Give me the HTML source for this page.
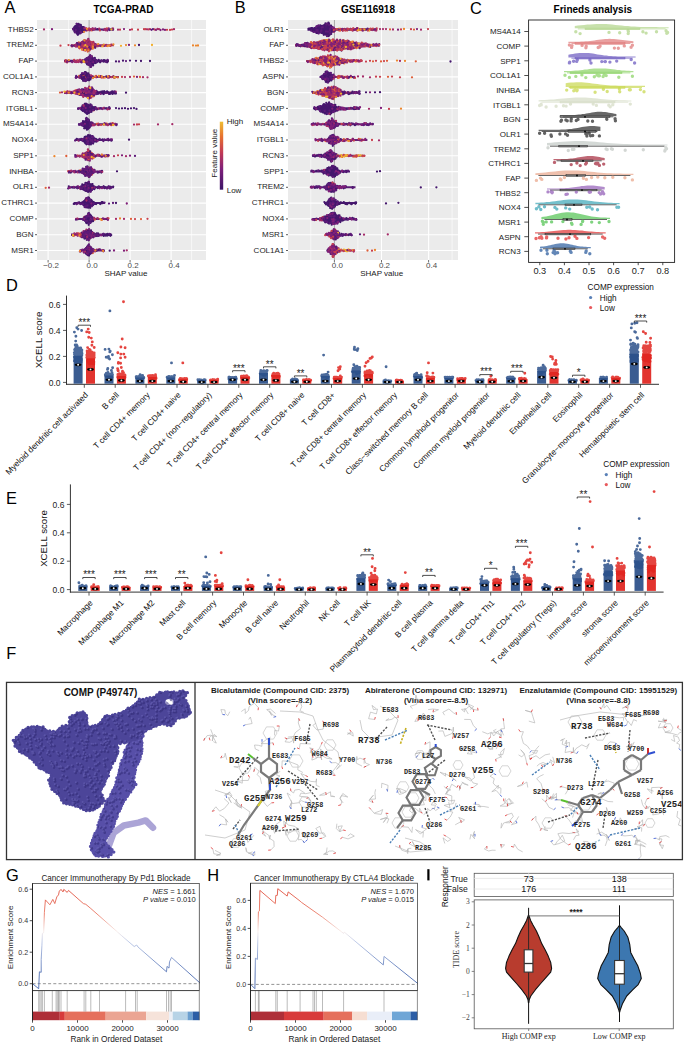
<!DOCTYPE html><html><head><meta charset="utf-8"><style>html,body{margin:0;padding:0;background:#fff}svg{display:block}</style></head><body>
<svg width="685" height="1043" viewBox="0 0 685 1043" font-family="Liberation Sans, sans-serif" font-size="8" fill="#1a1a1a">
<rect width="685" height="1043" fill="#fff"/>
<rect x="37" y="20" width="169" height="240" fill="#ebebeb"/>
<line x1="48.1" y1="20" x2="48.1" y2="260" stroke="#fff" stroke-width="1.1"/>
<line x1="68.6" y1="20" x2="68.6" y2="260" stroke="#fff" stroke-width="0.6"/>
<line x1="89.1" y1="20" x2="89.1" y2="260" stroke="#fff" stroke-width="1.1"/>
<line x1="109.6" y1="20" x2="109.6" y2="260" stroke="#fff" stroke-width="0.6"/>
<line x1="130.1" y1="20" x2="130.1" y2="260" stroke="#fff" stroke-width="1.1"/>
<line x1="150.6" y1="20" x2="150.6" y2="260" stroke="#fff" stroke-width="0.6"/>
<line x1="171.1" y1="20" x2="171.1" y2="260" stroke="#fff" stroke-width="1.1"/>
<line x1="191.6" y1="20" x2="191.6" y2="260" stroke="#fff" stroke-width="0.6"/>
<line x1="37" y1="29.5" x2="206" y2="29.5" stroke="#fff" stroke-width="1.1"/>
<line x1="37" y1="45.3" x2="206" y2="45.3" stroke="#fff" stroke-width="1.1"/>
<line x1="37" y1="61.1" x2="206" y2="61.1" stroke="#fff" stroke-width="1.1"/>
<line x1="37" y1="76.9" x2="206" y2="76.9" stroke="#fff" stroke-width="1.1"/>
<line x1="37" y1="92.6" x2="206" y2="92.6" stroke="#fff" stroke-width="1.1"/>
<line x1="37" y1="108.4" x2="206" y2="108.4" stroke="#fff" stroke-width="1.1"/>
<line x1="37" y1="124.2" x2="206" y2="124.2" stroke="#fff" stroke-width="1.1"/>
<line x1="37" y1="140" x2="206" y2="140" stroke="#fff" stroke-width="1.1"/>
<line x1="37" y1="155.8" x2="206" y2="155.8" stroke="#fff" stroke-width="1.1"/>
<line x1="37" y1="171.6" x2="206" y2="171.6" stroke="#fff" stroke-width="1.1"/>
<line x1="37" y1="187.3" x2="206" y2="187.3" stroke="#fff" stroke-width="1.1"/>
<line x1="37" y1="203.1" x2="206" y2="203.1" stroke="#fff" stroke-width="1.1"/>
<line x1="37" y1="218.9" x2="206" y2="218.9" stroke="#fff" stroke-width="1.1"/>
<line x1="37" y1="234.7" x2="206" y2="234.7" stroke="#fff" stroke-width="1.1"/>
<line x1="37" y1="250.5" x2="206" y2="250.5" stroke="#fff" stroke-width="1.1"/>
<line x1="89.1" y1="20" x2="89.1" y2="260" stroke="#8a8a8a" stroke-width="0.8"/>
<polygon points="72.5,28.5 73.2,28.4 73.9,27.6 74.6,26.8 75.3,25.9 76,25.1 76.7,24.3 77.3,23.5 78,23.9 78.7,24.3 79.4,24.7 80.1,25 80.8,25.4 81.5,25.8 82.2,26.2 82.9,26.5 83.6,26.9 84.3,27.3 85,27.7 85.6,28.1 86.3,28.4 87,28.5 87.7,28.5 88.4,28.5 89.1,28.5 89.8,28.5 90.5,28.5 91.2,28.5 91.9,28.5 92.6,28.5 93.2,28.5 93.9,28.5 94.6,28.5 95.3,28.5 96,28.5 96.7,28.5 97.4,28.5 98.1,28.5 98.8,28.5 99.5,28.5 100.2,28.5 100.9,28.5 101.5,28.5 102.2,28.5 102.9,28.5 103.6,28.5 104.3,28.5 105,28.5 105.7,28.5 106.4,28.5 107.1,28.5 107.8,28.5 108.5,28.5 109.2,28.5 109.8,28.5 110.5,28.5 111.2,28.5 111.9,28.5 112.6,28.5 113.3,28.5 114,28.5 114,30.5 113.3,30.5 112.6,30.5 111.9,30.5 111.2,30.5 110.5,30.5 109.8,30.5 109.2,30.5 108.5,30.5 107.8,30.5 107.1,30.5 106.4,30.5 105.7,30.5 105,30.5 104.3,30.5 103.6,30.5 102.9,30.5 102.2,30.5 101.5,30.5 100.9,30.5 100.2,30.5 99.5,30.5 98.8,30.5 98.1,30.5 97.4,30.5 96.7,30.5 96,30.5 95.3,30.5 94.6,30.5 93.9,30.5 93.2,30.5 92.6,30.5 91.9,30.5 91.2,30.5 90.5,30.5 89.8,30.5 89.1,30.5 88.4,30.5 87.7,30.5 87,30.5 86.3,30.6 85.6,30.9 85,31.3 84.3,31.7 83.6,32.1 82.9,32.5 82.2,32.8 81.5,33.2 80.8,33.6 80.1,34 79.4,34.3 78.7,34.7 78,35.1 77.3,35.5 76.7,34.7 76,33.9 75.3,33.1 74.6,32.2 73.9,31.4 73.2,30.6 72.5,30.5" fill="#4a1870"/>
<polygon points="71,44.3 71.7,44.3 72.4,44.3 73.2,44.3 73.9,44.3 74.6,44 75.3,43.8 76,43.5 76.7,43.3 77.5,43 78.2,42.8 78.9,42.5 79.6,42.2 80.3,42 81,41.7 81.8,41.5 82.5,41.2 83.2,41 83.9,40.7 84.6,40.5 85.3,40.2 86,40 86.8,39.7 87.5,39.5 88.2,39.4 88.9,39.7 89.6,40.1 90.3,40.5 91.1,40.8 91.8,41.2 92.5,41.5 93.2,41.9 93.9,42.3 94.7,42.6 95.4,43 96.1,43.3 96.8,43.7 97.5,44 98.2,44.3 99,44.3 99.7,44.3 100.4,44.3 101.1,44.3 101.8,44.3 102.5,44.3 103.2,44.3 104,44.3 104.7,44.3 105.4,44.3 106.1,44.3 106.8,44.3 107.5,44.3 108.3,44.3 109,44.3 109.7,44.3 110.4,44.3 111.1,44.3 111.8,44.3 112.6,44.3 113.3,44.3 114,44.3 114,46.3 113.3,46.3 112.6,46.3 111.8,46.3 111.1,46.3 110.4,46.3 109.7,46.3 109,46.3 108.3,46.3 107.5,46.3 106.8,46.3 106.1,46.3 105.4,46.3 104.7,46.3 104,46.3 103.2,46.3 102.5,46.3 101.8,46.3 101.1,46.3 100.4,46.3 99.7,46.3 99,46.3 98.2,46.3 97.5,46.5 96.8,46.9 96.1,47.2 95.4,47.6 94.7,48 93.9,48.3 93.2,48.7 92.5,49 91.8,49.4 91.1,49.8 90.3,50.1 89.6,50.5 88.9,50.8 88.2,51.2 87.5,51.1 86.8,50.8 86,50.6 85.3,50.3 84.6,50.1 83.9,49.8 83.2,49.6 82.5,49.3 81.8,49.1 81,48.8 80.3,48.6 79.6,48.3 78.9,48.1 78.2,47.8 77.5,47.6 76.7,47.3 76,47.1 75.3,46.8 74.6,46.5 73.9,46.3 73.2,46.3 72.4,46.3 71.7,46.3 71,46.3" fill="#a03060"/>
<polygon points="64,59.8 64.8,59.8 65.5,59.8 66.2,59.8 67,59.8 67.8,59.8 68.5,59.8 69.2,59.8 70,59.8 70.8,59.8 71.5,59.8 72.2,59.8 73,59.8 73.8,59.8 74.5,59.8 75.2,59.8 76,59.8 76.8,59.8 77.5,59.8 78.2,59.8 79,59.8 79.8,59.8 80.5,59.8 81.2,59.8 82,59.8 82.8,59.8 83.5,59.8 84.2,59.3 85,58.8 85.8,58.4 86.5,57.9 87.2,57.4 88,57 88.8,56.5 89.5,56 90.2,55.6 91,55.8 91.8,56.3 92.5,56.8 93.2,57.2 94,57.7 94.8,58.2 95.5,58.6 96.2,59.1 97,59.6 97.8,59.8 98.5,59.8 99.2,59.8 100,59.8 100.8,59.8 101.5,59.8 102.2,59.8 103,59.8 103.8,59.8 104.5,59.8 105.2,59.8 106,59.8 106.8,59.8 107.5,59.8 108.2,59.8 109,59.8 109,62.3 108.2,62.3 107.5,62.3 106.8,62.3 106,62.3 105.2,62.3 104.5,62.3 103.8,62.3 103,62.3 102.2,62.3 101.5,62.3 100.8,62.3 100,62.3 99.2,62.3 98.5,62.3 97.8,62.3 97,62.6 96.2,63 95.5,63.5 94.8,64 94,64.4 93.2,64.9 92.5,65.4 91.8,65.8 91,66.3 90.2,66.6 89.5,66.1 88.8,65.6 88,65.2 87.2,64.7 86.5,64.2 85.8,63.8 85,63.3 84.2,62.8 83.5,62.4 82.8,62.3 82,62.3 81.2,62.3 80.5,62.3 79.8,62.3 79,62.3 78.2,62.3 77.5,62.3 76.8,62.3 76,62.3 75.2,62.3 74.5,62.3 73.8,62.3 73,62.3 72.2,62.3 71.5,62.3 70.8,62.3 70,62.3 69.2,62.3 68.5,62.3 67.8,62.3 67,62.3 66.2,62.3 65.5,62.3 64.8,62.3 64,62.3" fill="#5a1a74"/>
<polygon points="75,75.9 75.7,75.9 76.5,75.9 77.2,75.9 77.9,75.9 78.7,75.9 79.4,75.5 80.1,75 80.9,74.5 81.6,74 82.3,73.5 83.1,73 83.8,72.5 84.5,72 85.3,71.5 86,71.8 86.7,72.2 87.5,72.7 88.2,73.1 88.9,73.6 89.7,74 90.4,74.4 91.1,74.9 91.9,75.3 92.6,75.8 93.3,75.9 94.1,75.9 94.8,75.9 95.5,75.9 96.3,75.9 97,75.9 97.7,75.9 98.5,75.9 99.2,75.9 99.9,75.9 100.7,75.9 101.4,75.9 102.1,75.9 102.9,75.9 103.6,75.9 104.3,75.9 105.1,75.9 105.8,75.9 106.5,75.9 107.3,75.9 108,75.9 108.7,75.9 109.5,75.9 110.2,75.9 110.9,75.9 111.7,75.9 112.4,75.9 113.1,75.9 113.9,75.9 114.6,75.9 115.3,75.9 116.1,75.9 116.8,75.9 117.5,75.9 118.3,75.9 119,75.9 119,77.9 118.3,77.9 117.5,77.9 116.8,77.9 116.1,77.9 115.3,77.9 114.6,77.9 113.9,77.9 113.1,77.9 112.4,77.9 111.7,77.9 110.9,77.9 110.2,77.9 109.5,77.9 108.7,77.9 108,77.9 107.3,77.9 106.5,77.9 105.8,77.9 105.1,77.9 104.3,77.9 103.6,77.9 102.9,77.9 102.1,77.9 101.4,77.9 100.7,77.9 99.9,77.9 99.2,77.9 98.5,77.9 97.7,77.9 97,77.9 96.3,77.9 95.5,77.9 94.8,77.9 94.1,77.9 93.3,77.9 92.6,77.9 91.9,78.4 91.1,78.8 90.4,79.3 89.7,79.7 88.9,80.2 88.2,80.6 87.5,81 86.7,81.5 86,81.9 85.3,82.2 84.5,81.7 83.8,81.2 83.1,80.7 82.3,80.2 81.6,79.7 80.9,79.2 80.1,78.7 79.4,78.2 78.7,77.9 77.9,77.9 77.2,77.9 76.5,77.9 75.7,77.9 75,77.9" fill="#5e1c74"/>
<polygon points="64,91.4 64.9,91.4 65.7,91.4 66.6,91.4 67.5,91.4 68.4,91.4 69.2,91.4 70.1,91.4 71,91.4 71.9,91.4 72.7,91.4 73.6,91.3 74.5,91 75.4,90.8 76.2,90.6 77.1,90.3 78,90.1 78.8,89.9 79.7,89.6 80.6,89.4 81.5,89.2 82.3,88.9 83.2,88.7 84.1,88.5 85,88.2 85.8,88 86.7,87.8 87.6,87.5 88.5,87.3 89.3,87.1 90.2,86.9 91.1,87.2 91.9,87.8 92.8,88.4 93.7,88.9 94.6,89.5 95.4,90.1 96.3,90.6 97.2,91.2 98.1,91.4 98.9,91.4 99.8,91.4 100.7,91.4 101.6,91.4 102.4,91.4 103.3,91.4 104.2,91.4 105,91.4 105.9,91.4 106.8,91.4 107.7,91.4 108.5,91.4 109.4,91.4 110.3,91.4 111.2,91.4 112,91.4 112.9,91.4 113.8,91.4 114.7,91.4 115.5,91.4 116.4,91.4 116.4,93.9 115.5,93.9 114.7,93.9 113.8,93.9 112.9,93.9 112,93.9 111.2,93.9 110.3,93.9 109.4,93.9 108.5,93.9 107.7,93.9 106.8,93.9 105.9,93.9 105,93.9 104.2,93.9 103.3,93.9 102.4,93.9 101.6,93.9 100.7,93.9 99.8,93.9 98.9,93.9 98.1,93.9 97.2,94.1 96.3,94.6 95.4,95.2 94.6,95.8 93.7,96.3 92.8,96.9 91.9,97.5 91.1,98 90.2,98.4 89.3,98.2 88.5,98 87.6,97.7 86.7,97.5 85.8,97.3 85,97 84.1,96.8 83.2,96.6 82.3,96.3 81.5,96.1 80.6,95.9 79.7,95.6 78.8,95.4 78,95.2 77.1,94.9 76.2,94.7 75.4,94.5 74.5,94.3 73.6,94 72.7,93.9 71.9,93.9 71,93.9 70.1,93.9 69.2,93.9 68.4,93.9 67.5,93.9 66.6,93.9 65.7,93.9 64.9,93.9 64,93.9" fill="#8a2870"/>
<polygon points="78,107.4 78.5,107.4 79.1,107.4 79.6,107.4 80.1,107.4 80.7,107 81.2,106.6 81.7,106.1 82.3,105.7 82.8,105.3 83.3,104.8 83.9,104.4 84.4,103.9 84.9,103.5 85.5,103 86,102.6 86.5,102.8 87.1,103.1 87.6,103.4 88.1,103.6 88.7,103.9 89.2,104.1 89.7,104.4 90.3,104.7 90.8,104.9 91.3,105.2 91.9,105.4 92.4,105.7 92.9,106 93.5,106.2 94,106.5 94.5,106.7 95.1,107 95.6,107.3 96.1,107.4 96.7,107.4 97.2,107.4 97.7,107.4 98.3,107.4 98.8,107.4 99.3,107.4 99.9,107.4 100.4,107.4 100.9,107.4 101.5,107.4 102,107.4 102.5,107.4 103.1,107.4 103.6,107.4 104.1,107.4 104.7,107.4 105.2,107.4 105.7,107.4 106.3,107.4 106.8,107.4 107.3,107.4 107.9,107.4 108.4,107.4 108.9,107.4 109.5,107.4 110,107.4 110,109.4 109.5,109.4 108.9,109.4 108.4,109.4 107.9,109.4 107.3,109.4 106.8,109.4 106.3,109.4 105.7,109.4 105.2,109.4 104.7,109.4 104.1,109.4 103.6,109.4 103.1,109.4 102.5,109.4 102,109.4 101.5,109.4 100.9,109.4 100.4,109.4 99.9,109.4 99.3,109.4 98.8,109.4 98.3,109.4 97.7,109.4 97.2,109.4 96.7,109.4 96.1,109.4 95.6,109.6 95.1,109.9 94.5,110.1 94,110.4 93.5,110.6 92.9,110.9 92.4,111.2 91.9,111.4 91.3,111.7 90.8,111.9 90.3,112.2 89.7,112.4 89.2,112.7 88.7,113 88.1,113.2 87.6,113.5 87.1,113.7 86.5,114 86,114.3 85.5,113.8 84.9,113.4 84.4,112.9 83.9,112.5 83.3,112 82.8,111.6 82.3,111.2 81.7,110.7 81.2,110.3 80.7,109.8 80.1,109.4 79.6,109.4 79.1,109.4 78.5,109.4 78,109.4" fill="#4e1872"/>
<polygon points="78,123.2 78.7,123.2 79.3,123.2 80,123.2 80.6,123.2 81.3,122.8 82,122.3 82.6,121.8 83.3,121.3 84,120.7 84.6,120.2 85.3,119.7 85.9,119.1 86.6,118.6 87.3,119.1 87.9,119.5 88.6,120 89.2,120.5 89.9,120.9 90.6,121.4 91.2,121.9 91.9,122.3 92.6,122.8 93.2,123.2 93.9,123.2 94.5,123.2 95.2,123.2 95.9,123.2 96.5,123.2 97.2,123.2 97.8,123.2 98.5,123.2 99.2,123.2 99.8,123.2 100.5,123.2 101.2,123.2 101.8,123.2 102.5,123.2 103.1,123.2 103.8,123.2 104.5,123.2 105.1,123.2 105.8,123.2 106.5,123.2 107.1,123.2 107.8,123.2 108.4,123.2 109.1,123.2 109.8,123.2 110.4,123.2 111.1,123.2 111.7,123.2 112.4,123.2 113.1,123.2 113.7,123.2 114.4,123.2 115.1,123.2 115.7,123.2 116.4,123.2 117,123.2 117.7,123.2 117.7,125.2 117,125.2 116.4,125.2 115.7,125.2 115.1,125.2 114.4,125.2 113.7,125.2 113.1,125.2 112.4,125.2 111.7,125.2 111.1,125.2 110.4,125.2 109.8,125.2 109.1,125.2 108.4,125.2 107.8,125.2 107.1,125.2 106.5,125.2 105.8,125.2 105.1,125.2 104.5,125.2 103.8,125.2 103.1,125.2 102.5,125.2 101.8,125.2 101.2,125.2 100.5,125.2 99.8,125.2 99.2,125.2 98.5,125.2 97.8,125.2 97.2,125.2 96.5,125.2 95.9,125.2 95.2,125.2 94.5,125.2 93.9,125.2 93.2,125.2 92.6,125.6 91.9,126.1 91.2,126.6 90.6,127 89.9,127.5 89.2,128 88.6,128.4 87.9,128.9 87.3,129.3 86.6,129.8 85.9,129.3 85.3,128.8 84.6,128.2 84,127.7 83.3,127.2 82.6,126.6 82,126.1 81.3,125.6 80.6,125.2 80,125.2 79.3,125.2 78.7,125.2 78,125.2" fill="#4e1872"/>
<polygon points="75,139 75.6,139 76.3,139 76.9,139 77.5,139 78.1,139 78.8,139 79.4,139 80,139 80.7,139 81.3,138.8 81.9,138.4 82.5,138.1 83.2,137.7 83.8,137.4 84.4,137 85.1,136.7 85.7,136.3 86.3,136 86.9,135.6 87.6,135.3 88.2,134.9 88.8,134.5 89.5,134.6 90.1,134.9 90.7,135.3 91.3,135.6 92,136 92.6,136.4 93.2,136.7 93.8,137.1 94.5,137.4 95.1,137.8 95.7,138.1 96.4,138.5 97,138.8 97.6,139 98.2,139 98.9,139 99.5,139 100.1,139 100.8,139 101.4,139 102,139 102.6,139 103.3,139 103.9,139 104.5,139 105.2,139 105.8,139 106.4,139 107,139 107.7,139 108.3,139 108.9,139 109.6,139 110.2,139 110.8,139 111.4,139 112.1,139 112.7,139 112.7,141 112.1,141 111.4,141 110.8,141 110.2,141 109.6,141 108.9,141 108.3,141 107.7,141 107,141 106.4,141 105.8,141 105.2,141 104.5,141 103.9,141 103.3,141 102.6,141 102,141 101.4,141 100.8,141 100.1,141 99.5,141 98.9,141 98.2,141 97.6,141 97,141.2 96.4,141.5 95.7,141.9 95.1,142.2 94.5,142.6 93.8,142.9 93.2,143.3 92.6,143.6 92,144 91.3,144.3 90.7,144.7 90.1,145 89.5,145.4 88.8,145.4 88.2,145.1 87.6,144.7 86.9,144.4 86.3,144 85.7,143.7 85.1,143.3 84.4,143 83.8,142.6 83.2,142.3 82.5,141.9 81.9,141.6 81.3,141.2 80.7,141 80,141 79.4,141 78.8,141 78.1,141 77.5,141 76.9,141 76.3,141 75.6,141 75,141" fill="#521a74"/>
<polygon points="75,154.8 75.6,154.8 76.1,154.8 76.7,154.8 77.3,154.8 77.8,154.8 78.4,154.8 79,154.8 79.5,154.8 80.1,154.8 80.7,154.7 81.2,154.4 81.8,154 82.4,153.7 82.9,153.3 83.5,153 84.1,152.6 84.6,152.3 85.2,151.9 85.8,151.6 86.3,151.2 86.9,150.9 87.5,150.5 88,150.2 88.6,150.6 89.2,150.9 89.7,151.3 90.3,151.6 90.9,152 91.4,152.3 92,152.7 92.6,153 93.1,153.4 93.7,153.7 94.3,154.1 94.8,154.4 95.4,154.8 96,154.8 96.5,154.8 97.1,154.8 97.7,154.8 98.2,154.8 98.8,154.8 99.4,154.8 99.9,154.8 100.5,154.8 101.1,154.8 101.6,154.8 102.2,154.8 102.8,154.8 103.3,154.8 103.9,154.8 104.5,154.8 105,154.8 105.6,154.8 106.2,154.8 106.7,154.8 107.3,154.8 107.9,154.8 108.4,154.8 109,154.8 109,156.8 108.4,156.8 107.9,156.8 107.3,156.8 106.7,156.8 106.2,156.8 105.6,156.8 105,156.8 104.5,156.8 103.9,156.8 103.3,156.8 102.8,156.8 102.2,156.8 101.6,156.8 101.1,156.8 100.5,156.8 99.9,156.8 99.4,156.8 98.8,156.8 98.2,156.8 97.7,156.8 97.1,156.8 96.5,156.8 96,156.8 95.4,156.8 94.8,157.1 94.3,157.5 93.7,157.8 93.1,158.2 92.6,158.5 92,158.9 91.4,159.2 90.9,159.6 90.3,159.9 89.7,160.3 89.2,160.7 88.6,161 88,161.4 87.5,161 86.9,160.7 86.3,160.3 85.8,160 85.2,159.6 84.6,159.3 84.1,158.9 83.5,158.6 82.9,158.2 82.4,157.9 81.8,157.5 81.2,157.2 80.7,156.8 80.1,156.8 79.5,156.8 79,156.8 78.4,156.8 77.8,156.8 77.3,156.8 76.7,156.8 76.1,156.8 75.6,156.8 75,156.8" fill="#902a6a"/>
<polygon points="68,170.6 68.6,170.6 69.2,170.6 69.8,170.6 70.3,170.6 70.9,170.6 71.5,170.6 72.1,170.6 72.7,170.6 73.2,170.6 73.8,170.6 74.4,170.6 75,170.6 75.6,170.6 76.2,170.6 76.8,170.6 77.3,170.6 77.9,170.6 78.5,170.6 79.1,170.4 79.7,170.2 80.2,169.9 80.8,169.6 81.4,169.4 82,169.1 82.6,168.9 83.2,168.6 83.8,168.3 84.3,168.1 84.9,167.8 85.5,167.5 86.1,167.3 86.7,167 87.2,166.7 87.8,166.5 88.4,166.2 89,166.4 89.6,166.7 90.2,167.1 90.8,167.4 91.3,167.8 91.9,168.1 92.5,168.5 93.1,168.8 93.7,169.2 94.2,169.5 94.8,169.9 95.4,170.2 96,170.6 96.6,170.6 97.2,170.6 97.8,170.6 98.3,170.6 98.9,170.6 99.5,170.6 100.1,170.6 100.7,170.6 101.2,170.6 101.8,170.6 102.4,170.6 103,170.6 103,172.6 102.4,172.6 101.8,172.6 101.2,172.6 100.7,172.6 100.1,172.6 99.5,172.6 98.9,172.6 98.3,172.6 97.8,172.6 97.2,172.6 96.6,172.6 96,172.6 95.4,172.9 94.8,173.2 94.2,173.6 93.7,173.9 93.1,174.3 92.5,174.6 91.9,175 91.3,175.4 90.8,175.7 90.2,176.1 89.6,176.4 89,176.8 88.4,176.9 87.8,176.7 87.2,176.4 86.7,176.1 86.1,175.9 85.5,175.6 84.9,175.3 84.3,175.1 83.8,174.8 83.2,174.5 82.6,174.3 82,174 81.4,173.7 80.8,173.5 80.2,173.2 79.7,173 79.1,172.7 78.5,172.6 77.9,172.6 77.3,172.6 76.8,172.6 76.2,172.6 75.6,172.6 75,172.6 74.4,172.6 73.8,172.6 73.2,172.6 72.7,172.6 72.1,172.6 71.5,172.6 70.9,172.6 70.3,172.6 69.8,172.6 69.2,172.6 68.6,172.6 68,172.6" fill="#6e2076"/>
<polygon points="68,186.3 68.8,186.3 69.5,186.3 70.3,186.3 71.1,186.3 71.8,186.3 72.6,186.3 73.4,186.3 74.1,186.3 74.9,186.3 75.7,186.3 76.4,186.3 77.2,186.3 78,186.3 78.7,186.3 79.5,186.1 80.3,185.7 81,185.3 81.8,184.9 82.6,184.5 83.3,184.1 84.1,183.7 84.9,183.3 85.6,183 86.4,182.6 87.2,182.2 87.9,181.8 88.7,182.2 89.5,182.7 90.2,183.1 91,183.6 91.8,184.1 92.5,184.6 93.3,185 94.1,185.5 94.8,186 95.6,186.3 96.4,186.3 97.1,186.3 97.9,186.3 98.7,186.3 99.4,186.3 100.2,186.3 101,186.3 101.7,186.3 102.5,186.3 103.3,186.3 104,186.3 104.8,186.3 105.6,186.3 106.3,186.3 107.1,186.3 107.9,186.3 108.6,186.3 109.4,186.3 110.2,186.3 110.9,186.3 111.7,186.3 112.5,186.3 113.2,186.3 114,186.3 114,188.3 113.2,188.3 112.5,188.3 111.7,188.3 110.9,188.3 110.2,188.3 109.4,188.3 108.6,188.3 107.9,188.3 107.1,188.3 106.3,188.3 105.6,188.3 104.8,188.3 104,188.3 103.3,188.3 102.5,188.3 101.7,188.3 101,188.3 100.2,188.3 99.4,188.3 98.7,188.3 97.9,188.3 97.1,188.3 96.4,188.3 95.6,188.3 94.8,188.7 94.1,189.2 93.3,189.7 92.5,190.1 91.8,190.6 91,191.1 90.2,191.6 89.5,192 88.7,192.5 87.9,192.9 87.2,192.5 86.4,192.1 85.6,191.7 84.9,191.4 84.1,191 83.3,190.6 82.6,190.2 81.8,189.8 81,189.4 80.3,189 79.5,188.6 78.7,188.3 78,188.3 77.2,188.3 76.4,188.3 75.7,188.3 74.9,188.3 74.1,188.3 73.4,188.3 72.6,188.3 71.8,188.3 71.1,188.3 70.3,188.3 69.5,188.3 68.8,188.3 68,188.3" fill="#4e1872"/>
<polygon points="73.7,202.1 74.2,202.1 74.7,202.1 75.3,202.1 75.8,202.1 76.3,202.1 76.8,202.1 77.4,202.1 77.9,202.1 78.4,202.1 78.9,202.1 79.4,202.1 80,202.1 80.5,202.1 81,201.9 81.5,201.6 82,201.2 82.6,200.9 83.1,200.6 83.6,200.3 84.1,199.9 84.7,199.6 85.2,199.3 85.7,199 86.2,198.6 86.7,198.3 87.3,198 87.8,197.7 88.3,197.7 88.8,198.1 89.3,198.4 89.9,198.7 90.4,199 90.9,199.3 91.4,199.7 92,200 92.5,200.3 93,200.6 93.5,201 94,201.3 94.6,201.6 95.1,201.9 95.6,202.1 96.1,202.1 96.7,202.1 97.2,202.1 97.7,202.1 98.2,202.1 98.7,202.1 99.3,202.1 99.8,202.1 100.3,202.1 100.8,202.1 101.3,202.1 101.9,202.1 102.4,202.1 102.9,202.1 103.4,202.1 104,202.1 104.5,202.1 105,202.1 105,204.1 104.5,204.1 104,204.1 103.4,204.1 102.9,204.1 102.4,204.1 101.9,204.1 101.3,204.1 100.8,204.1 100.3,204.1 99.8,204.1 99.3,204.1 98.7,204.1 98.2,204.1 97.7,204.1 97.2,204.1 96.7,204.1 96.1,204.1 95.6,204.1 95.1,204.3 94.6,204.6 94,205 93.5,205.3 93,205.6 92.5,205.9 92,206.3 91.4,206.6 90.9,206.9 90.4,207.2 89.9,207.6 89.3,207.9 88.8,208.2 88.3,208.5 87.8,208.6 87.3,208.3 86.7,208 86.2,207.6 85.7,207.3 85.2,207 84.7,206.7 84.1,206.3 83.6,206 83.1,205.7 82.6,205.4 82,205 81.5,204.7 81,204.4 80.5,204.1 80,204.1 79.4,204.1 78.9,204.1 78.4,204.1 77.9,204.1 77.4,204.1 76.8,204.1 76.3,204.1 75.8,204.1 75.3,204.1 74.7,204.1 74.2,204.1 73.7,204.1" fill="#4a1870"/>
<polygon points="76,217.9 76.5,217.9 77.1,217.9 77.7,217.9 78.2,217.9 78.8,217.9 79.3,217.9 79.8,217.9 80.4,217.9 81,217.9 81.5,217.9 82,217.9 82.6,217.9 83.2,217.7 83.7,217.2 84.2,216.8 84.8,216.4 85.3,215.9 85.9,215.5 86.5,215 87,214.6 87.5,214.2 88.1,213.7 88.7,213.4 89.2,213.7 89.8,214.1 90.3,214.5 90.8,214.9 91.4,215.3 92,215.7 92.5,216.1 93,216.4 93.6,216.8 94.2,217.2 94.7,217.6 95.2,217.9 95.8,217.9 96.3,217.9 96.9,217.9 97.5,217.9 98,217.9 98.5,217.9 99.1,217.9 99.7,217.9 100.2,217.9 100.8,217.9 101.3,217.9 101.8,217.9 102.4,217.9 103,217.9 103.5,217.9 104,217.9 104.6,217.9 105.2,217.9 105.7,217.9 106.2,217.9 106.8,217.9 107.3,217.9 107.9,217.9 108.5,217.9 109,217.9 109,219.9 108.5,219.9 107.9,219.9 107.3,219.9 106.8,219.9 106.2,219.9 105.7,219.9 105.2,219.9 104.6,219.9 104,219.9 103.5,219.9 103,219.9 102.4,219.9 101.8,219.9 101.3,219.9 100.8,219.9 100.2,219.9 99.7,219.9 99.1,219.9 98.5,219.9 98,219.9 97.5,219.9 96.9,219.9 96.3,219.9 95.8,219.9 95.2,219.9 94.7,220.2 94.2,220.6 93.6,221 93,221.4 92.5,221.8 92,222.2 91.4,222.6 90.8,222.9 90.3,223.3 89.8,223.7 89.2,224.1 88.7,224.5 88.1,224.1 87.5,223.7 87,223.2 86.5,222.8 85.9,222.4 85.3,221.9 84.8,221.5 84.2,221 83.7,220.6 83.2,220.2 82.6,219.9 82,219.9 81.5,219.9 81,219.9 80.4,219.9 79.8,219.9 79.3,219.9 78.8,219.9 78.2,219.9 77.7,219.9 77.1,219.9 76.5,219.9 76,219.9" fill="#5a1c74"/>
<polygon points="71,233.5 71.7,233.5 72.3,233.5 73,233.5 73.7,233.5 74.4,233.5 75,233.5 75.7,233.5 76.4,233.5 77.1,233.5 77.8,233.5 78.4,233.5 79.1,233.5 79.8,233.2 80.5,232.9 81.1,232.6 81.8,232.3 82.5,232 83.2,231.6 83.8,231.3 84.5,231 85.2,230.7 85.8,230.4 86.5,230.1 87.2,229.8 87.9,229.4 88.5,229.1 89.2,229.5 89.9,229.8 90.6,230.2 91.2,230.6 91.9,231 92.6,231.3 93.3,231.7 94,232.1 94.6,232.5 95.3,232.9 96,233.2 96.7,233.5 97.3,233.5 98,233.5 98.7,233.5 99.3,233.5 100,233.5 100.7,233.5 101.4,233.5 102,233.5 102.7,233.5 103.4,233.5 104.1,233.5 104.8,233.5 105.4,233.5 106.1,233.5 106.8,233.5 107.5,233.5 108.1,233.5 108.8,233.5 109.5,233.5 110.2,233.5 110.8,233.5 111.5,233.5 111.5,235.9 110.8,235.9 110.2,235.9 109.5,235.9 108.8,235.9 108.1,235.9 107.5,235.9 106.8,235.9 106.1,235.9 105.4,235.9 104.8,235.9 104.1,235.9 103.4,235.9 102.7,235.9 102,235.9 101.4,235.9 100.7,235.9 100,235.9 99.3,235.9 98.7,235.9 98,235.9 97.3,235.9 96.7,235.9 96,236.2 95.3,236.6 94.6,236.9 94,237.3 93.3,237.7 92.6,238.1 91.9,238.4 91.2,238.8 90.6,239.2 89.9,239.6 89.2,240 88.5,240.3 87.9,240 87.2,239.7 86.5,239.3 85.8,239 85.2,238.7 84.5,238.4 83.8,238.1 83.2,237.8 82.5,237.4 81.8,237.1 81.1,236.8 80.5,236.5 79.8,236.2 79.1,235.9 78.4,235.9 77.8,235.9 77.1,235.9 76.4,235.9 75.7,235.9 75,235.9 74.4,235.9 73.7,235.9 73,235.9 72.3,235.9 71.7,235.9 71,235.9" fill="#6a2074"/>
<polygon points="79.5,249.5 79.9,249.5 80.3,249.5 80.7,249.5 81.1,249.5 81.5,249.5 82,249.5 82.4,249.5 82.8,249.5 83.2,249.2 83.6,248.9 84,248.6 84.4,248.2 84.8,247.9 85.2,247.6 85.6,247.3 86,246.9 86.4,246.6 86.8,246.3 87.3,246 87.7,245.6 88.1,245.3 88.5,245 88.9,245.1 89.3,245.4 89.7,245.7 90.1,246 90.5,246.2 90.9,246.5 91.3,246.8 91.8,247.1 92.2,247.4 92.6,247.7 93,248 93.4,248.2 93.8,248.5 94.2,248.8 94.6,249.1 95,249.4 95.4,249.5 95.8,249.5 96.2,249.5 96.7,249.5 97.1,249.5 97.5,249.5 97.9,249.5 98.3,249.5 98.7,249.5 99.1,249.5 99.5,249.5 99.9,249.5 100.3,249.5 100.7,249.5 101.1,249.5 101.5,249.5 102,249.5 102.4,249.5 102.8,249.5 103.2,249.5 103.6,249.5 104,249.5 104,251.5 103.6,251.5 103.2,251.5 102.8,251.5 102.4,251.5 102,251.5 101.5,251.5 101.1,251.5 100.7,251.5 100.3,251.5 99.9,251.5 99.5,251.5 99.1,251.5 98.7,251.5 98.3,251.5 97.9,251.5 97.5,251.5 97.1,251.5 96.7,251.5 96.2,251.5 95.8,251.5 95.4,251.5 95,251.6 94.6,251.9 94.2,252.2 93.8,252.5 93.4,252.7 93,253 92.6,253.3 92.2,253.6 91.8,253.9 91.3,254.2 90.9,254.5 90.5,254.7 90.1,255 89.7,255.3 89.3,255.6 88.9,255.9 88.5,256 88.1,255.7 87.7,255.3 87.3,255 86.8,254.7 86.4,254.4 86,254 85.6,253.7 85.2,253.4 84.8,253.1 84.4,252.7 84,252.4 83.6,252.1 83.2,251.8 82.8,251.5 82.4,251.5 82,251.5 81.5,251.5 81.1,251.5 80.7,251.5 80.3,251.5 79.9,251.5 79.5,251.5" fill="#6a2074"/>
<path d="M85.9 29.9h0M87.6 30.3h0M106.9 28.4h0M105.7 29.9h0M91.9 30.4h0M86.5 29h0M88.6 42.8h0M110.8 45.3h0M79.5 48.3h0M78.9 44.7h0M103.6 46h0M84.2 46.1h0M87.2 40.6h0M86.5 44.6h0M84.4 40.3h0M89.6 49.9h0M80.7 43.2h0M97.6 45h0M85.9 42.4h0M92.6 48.5h0M93.5 44h0M87.7 51.6h0M87.9 40.2h0M92.4 48.4h0M78.8 42.5h0M110.8 44.8h0M75 61.2h0M81.1 60.5h0M84.4 61.9h0M82.5 60.5h0M79.1 75.9h0M117.8 77.4h0M113.2 76.6h0M108.3 77.1h0M99.5 76.4h0M103.1 77.7h0M99 76.8h0M115.7 77.1h0M83.7 75.2h0M134 76.6h0M140 77h0M93.7 96.3h0M84 93.5h0M66 91.9h0M75.7 90.5h0M77.2 92.8h0M75.7 91.4h0M75.3 90.7h0M60 92.6h0M97.9 124.8h0M106.7 123.6h0M96.7 123.8h0M112.3 123.2h0M106.3 124.6h0M89.1 159.1h0M87.9 149.8h0M91.3 153h0M90.9 153.8h0M108.5 156h0M83.7 156.7h0M91.7 157.3h0M92.5 154.9h0M66.3 156h0M80.1 170.4h0M45.7 187.8h0M101.7 219.9h0M84.1 219.1h0M94.9 219.6h0M108.5 218.4h0M131 218.9h0M141 219.1h0M78.5 233.5h0M76.7 233.9h0M79 233.9h0M74 235.7h0M80.7 234.4h0M74.7 235.2h0M77.3 233.9h0M92.8 253.1h0" stroke="#de5f3a" stroke-width="2.3" stroke-linecap="round"/>
<path d="M87.7 29.5h0M99.9 30.4h0M89.1 28.4h0M86.3 28.3h0M120 29.7h0M132 29.4h0M138 29.7h0M144 29.2h0M145.5 29.2h0M148.5 29.4h0M154.5 29.5h0M167 29.8h0M170 29.9h0M172 29.6h0M79.8 46h0M106.5 45.9h0M110.4 45.9h0M106.1 45.3h0M82.4 44.7h0M82.4 49.5h0M97.8 46.3h0M86.6 49.3h0M79.2 46.6h0M90.9 46.3h0M90.5 46.7h0M93.7 47.4h0M87.9 40.3h0M86.2 49.1h0M85.9 50.1h0M92.2 45h0M91.1 46.9h0M91.4 47.9h0M86.9 48.9h0M89.5 50.4h0M88.7 47.1h0M83.6 50h0M85.3 50.7h0M89.2 49.1h0M91.5 42.3h0M93.2 41.8h0M71.9 46.4h0M87.9 40.7h0M82.1 45.1h0M79.4 48.1h0M91.5 43h0M60.5 45.7h0M68.5 45.1h0M74.1 60h0M65.4 61.6h0M82.3 61.3h0M79.9 60.4h0M77.4 60.5h0M65.8 60.1h0M67.2 62.4h0M77.3 61.5h0M79.7 59.9h0M86.5 77.2h0M101.4 77.6h0M79.3 77.4h0M111.7 77.2h0M79.4 77.7h0M95.3 76.9h0M96.1 75.9h0M114.2 77.9h0M92.9 77.2h0M122 76.9h0M69.4 91.7h0M77 90.2h0M75.1 91.7h0M86.9 92.4h0M67.7 91.7h0M76.1 93.6h0M76.6 92.3h0M69.6 92.3h0M83.5 96.5h0M77 92.5h0M86.7 91.9h0M90.3 97.9h0M93.6 110.4h0M109.4 109h0M103.6 124.5h0M98.7 125.1h0M98.2 123.6h0M111.2 125.2h0M92.7 123.7h0M114.8 123.8h0M101 124.9h0M98.1 124.9h0M110.8 124.8h0M137 124.5h0M139 124.3h0M81.3 156.2h0M86.4 158.3h0M88.9 151h0M88.4 151.6h0M79.5 155.8h0M86 159.1h0M91 154.2h0M77.4 155.7h0M88.1 155h0M87.7 153.1h0M91.9 153.4h0M82.7 153.6h0M104.5 156.4h0M94.8 156h0M91.6 154.7h0M91.7 156.2h0M91.9 153.8h0M118 155.3h0M68.2 171.2h0M92 174.6h0M83.6 187.7h0M80.1 187.7h0M94.7 219h0M77.5 218.9h0M84.4 216.9h0M135 219.1h0M147.5 218.8h0M86.1 231.1h0M80.4 236.4h0M86.3 231.9h0M78.6 234h0M77.1 235.3h0M80.5 234.3h0M80.6 233.5h0M83.7 252h0M98.9 249.5h0M84.3 250.6h0" stroke="#c8404e" stroke-width="2.3" stroke-linecap="round"/>
<path d="M75.4 28.9h0M80 30.9h0M75.1 27.3h0M79.5 24.7h0M82.8 32h0M78.8 26.4h0M82.2 30.2h0M75.1 27.3h0M74.7 27.3h0M78.7 27.7h0M78.6 23.9h0M83.3 27.5h0M73.7 28.7h0M81.6 27h0M77.8 34.7h0M83 27.8h0M82.8 31.3h0M78.2 28.8h0M75.5 25.8h0M76.8 23.8h0M77.9 34.8h0M76.2 31.5h0M83.6 29.7h0M79.2 26.2h0M76.9 28.7h0M74.8 26.7h0M79.3 33.3h0M80.8 25h0M78.7 31.2h0M78.3 29.6h0M73.8 28.9h0M76.9 30.2h0M83 28h0M81.2 26.4h0M78 29.6h0M74.5 31.5h0M82.8 29.6h0M77.8 27.5h0M78.3 24.5h0M81.5 27.4h0M82.8 27.2h0M77.8 31.3h0M75.4 30.2h0M97.4 29.1h0M82.1 31.5h0M81.8 30.8h0M74.2 27.3h0M111.6 28.9h0M82.9 29.5h0M75.2 29.9h0M83.5 27.1h0M72.7 46h0M95.4 46.7h0M139 45h0M86.3 59.1h0M91.6 64.5h0M87.4 61.2h0M91 61.3h0M95.6 63h0M86.5 58.4h0M89.8 57.1h0M86.7 58.4h0M103.8 61.5h0M89.7 57.6h0M88.7 60.8h0M98.7 59.9h0M91.7 64.5h0M90.4 66.9h0M89 59.2h0M86.5 58.8h0M107.1 60.9h0M90.8 66.5h0M94.4 58.3h0M87.1 64.2h0M92.6 60.2h0M95.1 59.9h0M94.1 61.1h0M93.1 65.4h0M90.2 60.5h0M91.9 56.3h0M95.8 59.9h0M107.1 62.3h0M93.8 61.6h0M96.3 60.6h0M93.9 60.4h0M92.7 64.2h0M94.8 57.9h0M97.7 61.6h0M92.7 58.7h0M87.2 64.6h0M103.8 61.2h0M88.7 57.7h0M101.4 60.5h0M89.4 60.9h0M93 65h0M93.4 58.9h0M86.5 59.6h0M93.8 60.4h0M104.7 60.5h0M100.5 61.6h0M103.8 60.2h0M94.5 58.2h0M90.1 61.4h0M96.5 62.4h0M100.1 62.3h0M94.4 58.9h0M116 61.4h0M123 60.7h0M130 60.6h0M136 60.8h0M141 61h0M150 61h0M89.7 76.6h0M87 76.9h0M85.7 75.1h0M88.3 73.3h0M88.3 78.7h0M86.3 73.2h0M81 77.1h0M89.7 77.5h0M80.8 76.7h0M85 72.1h0M82.1 78.9h0M84.9 74.1h0M83.9 78.3h0M86.8 80.2h0M87.4 76.7h0M85.2 72.1h0M81 75.1h0M90.4 79.4h0M87 74.5h0M89 80.3h0M85.6 72.3h0M85.3 79.8h0M85.5 74.9h0M87.1 74.3h0M88 78.1h0M89.5 78.6h0M86.5 74.2h0M83.9 77.2h0M87 74.8h0M81.8 78.2h0M87.9 77.6h0M90.5 77.7h0M83.7 74h0M85.1 72.8h0M85.3 80.3h0M106.3 76.3h0M81.7 74.5h0M90.4 79.4h0M83.7 74.3h0M83.1 80.8h0M86 72.3h0M82.2 92.8h0M110 93.3h0M114.4 92.1h0M113.5 92.1h0M77.9 90.2h0M106.3 92.1h0M100.7 93.6h0M97 91.8h0M85 93.5h0M115.7 92.6h0M101.7 91.8h0M77.8 90.7h0M80 90.4h0M107.1 91.5h0M102.9 91.5h0M103.7 94h0M106.3 92.7h0M103 93.6h0M108.5 92.3h0M110 93.9h0M82.9 89.3h0M104.3 91.5h0M79.9 93.9h0M111.4 93.1h0M101.9 93.4h0M84.1 94h0M101.3 91.6h0M109 93.9h0M102.3 92.5h0M111.3 91.9h0M88.7 96.3h0M97.9 93.9h0M104.2 91.9h0M114.6 93.4h0M79.8 94.8h0M111.3 92.1h0M91.3 95.2h0M111.7 92.5h0M96.5 90.8h0M86.9 91.5h0M104.2 91.5h0M102.5 91.8h0M115.9 93.6h0M98.2 93.7h0M81.8 89.4h0M98.9 92.3h0M112.4 91.3h0M111.4 92.9h0M112.5 93.9h0M99.5 92.5h0M126 92.7h0M89.3 107h0M90.9 106.8h0M82.7 110.8h0M90.9 105.4h0M89.2 112.6h0M88.6 109.5h0M86.8 112.4h0M82.7 105.4h0M91.9 110.1h0M109.3 107.4h0M82 109.6h0M83.2 109.3h0M91.9 106.8h0M95.9 107.7h0M90.1 111.9h0M97.5 109.2h0M86.2 110.3h0M106.6 108.3h0M81.8 108.4h0M88.8 112.8h0M86 104.8h0M83.4 108.2h0M89.8 110.8h0M96.9 109.3h0M82 109.1h0M109.1 107.3h0M94.2 109.8h0M78.1 108.3h0M104.4 107.8h0M86.6 108.6h0M86.7 106.7h0M82.5 106.1h0M83.1 109h0M95.4 107.2h0M91.5 110.2h0M90.4 110.6h0M91.6 108.5h0M83 107.1h0M88.7 110.9h0M90.7 105.2h0M88.7 110.2h0M93.6 109.2h0M82.5 106h0M88.8 108.5h0M86.9 108.5h0M83.9 106.3h0M86 108.6h0M92.5 107.3h0M85.5 110.3h0M85.3 103.8h0M91.5 111.8h0M90 112h0M92.1 109h0M90.5 104.4h0M88.7 109.7h0M87.4 112.5h0M88.3 106.6h0M94.3 107.3h0M88 106.9h0M85.3 111.7h0M81.3 109.5h0M84.8 104h0M91.8 107h0M109.4 108.4h0M88.7 109.1h0M87.1 113.9h0M88.5 112h0M88.8 113h0M116 108.1h0M119 108.6h0M122 108.3h0M125 108.2h0M128 108.8h0M131 108.3h0M134 108.1h0M136.5 108.9h0M85.8 125.8h0M83.3 125.4h0M86.8 128.3h0M89.6 127.5h0M87.8 123.1h0M86.9 129.7h0M86.6 118h0M85.5 123.3h0M83.9 124.8h0M85.5 124.6h0M85.9 127.2h0M86.6 121.8h0M87.9 123.8h0M86.3 127.3h0M85.1 128.1h0M86.1 126.1h0M90.1 126.4h0M82.3 124h0M89 124.4h0M83 121.2h0M87.6 119.2h0M88.9 120.5h0M87.1 124.3h0M85 125.3h0M91.4 122.4h0M88.6 119.6h0M87.8 129.3h0M84.1 122.3h0M83.1 124.2h0M87.4 124.1h0M88.4 120h0M87.8 123h0M84.9 126.8h0M88.7 128.2h0M87.1 128.6h0M88.9 124.6h0M81.9 125.3h0M84.3 122.9h0M87.6 126.6h0M89.6 126.1h0M84.2 128.3h0M86.8 123.2h0M86.2 120.2h0M79.7 124.6h0M96.2 141.7h0M99.1 139.6h0M89.6 137.8h0M93.4 141.9h0M80.6 139.4h0M111.1 139.6h0M87.1 139.3h0M85.3 137h0M88.8 136.1h0M108.4 140.4h0M89.5 139.7h0M95.6 139.9h0M111.1 140.5h0M91.5 143h0M85.4 143.3h0M93.6 137.5h0M90.8 137.3h0M83.1 139.1h0M88.6 139.1h0M89.9 141.1h0M84.1 141.2h0M89.6 143.6h0M92.3 136.2h0M90.9 144.4h0M102.5 139.4h0M97.8 139.8h0M87.9 135.8h0M96.1 139.3h0M94.4 140.5h0M81.2 139h0M85.2 143h0M88.6 139.5h0M91.3 137.6h0M95.7 138.9h0M85.6 136.6h0M79.2 139.4h0M87 136.6h0M90.2 138.7h0M90.2 135.4h0M87.8 140.1h0M88.3 138.9h0M111.4 140.7h0M96 141.6h0M78.9 140.4h0M76.9 139.4h0M104.4 140.1h0M93.1 143.5h0M86.5 139.9h0M92 142.7h0M107 139.6h0M89.1 141.9h0M76.7 139h0M84.8 136.9h0M77.8 139.6h0M86.3 140.6h0M92.5 136.2h0M88.2 135.6h0M86.5 144.3h0M84.9 139h0M88.8 136.8h0M88.1 135.2h0M90.4 143.8h0M96.7 141.3h0M90.5 139.2h0M88.7 139.2h0M129 139.7h0M90.2 151.3h0M90.9 153.9h0M99 154.8h0M83.2 170.9h0M89.3 170.9h0M88.1 169.1h0M87.3 166.5h0M98 172.3h0M88.9 176.9h0M85.8 171.2h0M82.7 171.5h0M101.3 172.6h0M86.4 169.8h0M89.5 174.5h0M85.8 169.1h0M90.1 171.8h0M98.9 172.3h0M85.9 173.1h0M91.6 171.4h0M85.6 169.3h0M70.8 172.6h0M94.4 169.8h0M84.7 174.6h0M89.8 175.7h0M88.7 174.7h0M93.2 171.6h0M84.1 173h0M79.9 171.5h0M102 170.8h0M69.5 172.1h0M117 171.3h0M101.4 187.3h0M84.6 188.7h0M90.5 187.8h0M86.1 185.4h0M89 183.2h0M83.9 187.9h0M109.8 188h0M92.6 186.8h0M104.6 188.2h0M77.6 186.7h0M92.2 184.2h0M86.6 187.1h0M85.5 184.4h0M103.7 186.4h0M88.3 187h0M93.9 188.6h0M87.4 185.6h0M90.8 189.5h0M91.9 190.1h0M110.7 186.8h0M105.1 187.3h0M94.5 186.6h0M78.2 187.9h0M93.7 186.3h0M88.1 186.5h0M88 185.8h0M81.5 188h0M68.8 186.3h0M68.2 188.4h0M108.7 187.7h0M110.1 188.1h0M83.7 189.2h0M94.3 189.2h0M97.9 188.1h0M90.9 185h0M113.2 186.7h0M87.3 183h0M108.7 186.6h0M84.8 190.2h0M87.7 185h0M86.4 190.6h0M92.5 184.2h0M90.7 187.2h0M84.2 188.2h0M110.7 188.2h0M91.7 187.3h0M109.8 188h0M80.9 189.1h0M86 190.8h0M84.7 186.2h0M85.6 184.6h0M83 189h0M95.4 187.6h0M82.3 184.5h0M85.2 186h0M98.8 186.3h0M74.2 187.7h0M99.8 187.1h0M90.8 190.3h0M87.9 183.7h0M103.6 186.4h0M91.2 188h0M88.6 191.5h0M110.1 187h0M92.3 184.7h0M86.4 187h0M85.5 182.8h0M98.1 187.8h0M72.4 187.4h0M98.7 186.6h0M90.4 191.4h0M97.9 187.7h0M90.9 200.4h0M93 202.2h0M101.2 203.1h0M73.8 203.9h0M87.9 202.5h0M90 203.2h0M91.5 200.3h0M101.8 202.1h0M91.1 200h0M88.1 207.4h0M88 207h0M93.1 204.8h0M74.4 203.9h0M82.4 203.2h0M100.2 204h0M86.4 202.2h0M86.7 200.8h0M84.8 201h0M91.5 202.3h0M90.8 204.2h0M88.3 198.4h0M89 197.9h0M88.1 207h0M90.4 206.6h0M88.3 199.1h0M82.5 203.1h0M102 203.3h0M84.8 206.3h0M85.9 198.7h0M90.3 203.6h0M85.9 207.3h0M84.2 202.2h0M95 203.3h0M93.1 205h0M90.2 207.8h0M92.3 205.1h0M84.8 206.4h0M88.4 197.5h0M88.5 199.8h0M92.6 205.1h0M89.2 199.7h0M94.2 202.8h0M89.5 203.5h0M84 204.6h0M89.7 207.4h0M87.4 203.1h0M89 206.3h0M102.6 202.1h0M86.8 207.3h0M90.6 201.7h0M83.9 205h0M90.1 205.1h0M96.1 204h0M84.5 205.2h0M89.8 203.1h0M91.2 203.7h0M90.1 201.3h0M79.3 202.5h0M85.2 200.1h0M94.6 203.9h0M92.9 204.2h0M84.5 201.2h0M89 200.2h0M92.9 204.4h0M80.4 204h0M116 203h0M77.7 219.3h0M91 215.7h0M84.8 220.4h0M90.3 222.6h0M89.9 214.6h0M89.9 219.7h0M85.7 220.5h0M91.4 217.3h0M90.3 218.7h0M83.7 219.8h0M84.4 217.4h0M88 220h0M87.1 220.5h0M88.9 219.8h0M85.4 216.7h0M84.7 219.3h0M88.1 217.9h0M87.1 217.8h0M86.8 223.2h0M87.2 221.2h0M88.7 217.1h0M90.9 218.3h0M88.2 213.4h0M89.5 220.9h0M89.2 213.7h0M86.1 222.7h0M86 218.2h0M90.1 216.4h0M90.7 215.5h0M89 216.2h0M89.2 217.6h0M84.7 219.3h0M88.6 216.7h0M90.6 215.4h0M87.8 216h0M87.4 221.5h0M89 220.7h0M88.7 213.2h0M89 218.9h0M93 221.2h0M91.5 221.3h0M88.7 215.3h0M88.7 224.8h0M89.1 214.8h0M87.4 221.9h0M89.6 237.3h0M81.6 236.3h0M82 236.8h0M92.4 233.2h0M98 233.5h0M108.4 234.9h0M93.3 233.3h0M81.8 237.2h0M106.3 234.4h0M86.1 231.2h0M103.7 235.9h0M111.2 235.1h0M91.8 232h0M87.8 233.4h0M98.3 234.5h0M88.4 229.8h0M103.7 234h0M84.4 236h0M82.2 235.6h0M96.7 233.4h0M110.4 235.8h0M86.8 239.8h0M110.4 234.9h0M86.4 238.7h0M97 236h0M96.8 233.9h0M110.4 234.3h0M88.1 238.7h0M95.3 235.9h0M86.2 236.7h0M107.7 233.9h0M103.8 234.8h0M83.1 234.4h0M83.4 236.6h0M82 232.6h0M84.4 238.5h0M87.2 233.2h0M92.6 232.9h0M87.5 230.4h0M105.9 235.7h0M91 230.5h0M84.4 236.8h0M107.5 235.6h0M85.6 253.3h0M80.7 251.4h0M90.3 253.6h0M90.9 253.2h0M89 255.5h0M86.6 254.2h0M83.2 250.4h0M87.7 255h0M92.6 249.2h0M96.9 250.5h0M88.3 254h0M96.3 250.8h0M87.2 246.7h0M86 251h0M90.5 247.5h0M85.1 251.9h0M89.2 247.3h0M90.9 252.3h0M89.8 246.4h0M98.3 249.8h0M85.9 252.6h0M109.7 250.7h0" stroke="#44166c" stroke-width="2.3" stroke-linecap="round"/>
<path d="M84.5 27.7h0M92.8 29.9h0M95.3 28.4h0M84.2 28.5h0M92.7 28.4h0M107.3 30.5h0M108.7 28.4h0M86.2 30.6h0M103.5 29.9h0M81.1 32.3h0M52 29.2h0M124 29.1h0M156 29.9h0M160.5 30h0M163 29.4h0M165 29.9h0M74.9 45.9h0M75.6 45h0M76.7 46h0M77.4 46h0M88.3 38.8h0M86.1 44.6h0M77.1 45.8h0M101.8 46.1h0M78.3 43.6h0M88.4 50.6h0M89.2 46.8h0M83.7 41.5h0M82.4 42h0M98.4 45.5h0M88.4 42.3h0M85.2 43h0M104.7 45.8h0M95.2 44.2h0M90.2 44h0M76.5 46.3h0M100.1 46h0M86.6 46.9h0M84.3 49.4h0M83.2 43h0M104.9 45.5h0M77.1 43.1h0M129 44.9h0M93.1 61.9h0M91.6 56.3h0M66.9 62h0M72.2 62.2h0M74.8 61.3h0M88.7 64.8h0M80.8 61.3h0M100.9 76.1h0M92.9 76.5h0M100.7 76.1h0M84.6 73.6h0M108.8 77.6h0M76.1 77.9h0M115 77.3h0M108.9 76.2h0M79.5 77.7h0M109.9 76.8h0M104.3 77.1h0M137 76.9h0M77.6 92h0M87.6 94.2h0M91.7 94.1h0M81.9 95.1h0M81.3 90.5h0M86.2 94h0M85.1 89.6h0M93.5 90.1h0M86.9 91.4h0M89.4 89h0M70.6 92.5h0M77.8 89.9h0M90.3 93.9h0M79.2 89.5h0M87.1 89.9h0M93.1 90.1h0M71.4 93.3h0M89 98.2h0M80.9 91.5h0M83.6 95.6h0M91.5 87.7h0M74.4 92.8h0M81.9 90.1h0M66.7 93.2h0M91.9 87.5h0M89.3 94.7h0M91.9 89h0M86.3 88.6h0M81.1 94.9h0M100.5 93.8h0M79.8 94.2h0M95.6 91.4h0M86 92.3h0M76.8 90.9h0M89.1 98.5h0M102.2 109h0M107.9 109h0M96.2 108.2h0M85.7 108.1h0M80.2 108h0M83.9 106.4h0M92.6 123.9h0M98.6 124.9h0M107.5 125.2h0M84.9 123.8h0M115.6 123.8h0M105.8 124h0M88.1 141.1h0M82.5 139.3h0M107.5 139.4h0M97.6 141h0M111.9 139.3h0M110.3 139.7h0M95.1 140.1h0M88.3 155h0M79.8 156.5h0M101.9 154.9h0M83.8 154.6h0M105.3 155.8h0M82.9 153.6h0M75.9 155.9h0M91.6 157.3h0M86.8 156.1h0M82.6 155.7h0M89.1 158.1h0M104.3 155.7h0M95.2 156.7h0M91 157.6h0M90.3 155.4h0M99.4 155.8h0M75.3 156.8h0M89.8 160.7h0M93.1 157.2h0M92 155.4h0M76.5 156.7h0M101.1 156.6h0M122 155.3h0M130 155.7h0M90.1 171.2h0M83 169h0M90.4 174.3h0M89.7 170.8h0M93.7 171.9h0M87 167.3h0M93.4 170.4h0M75.2 170.9h0M86.6 168.2h0M93.7 171.8h0M100.2 171.3h0M73.4 171.2h0M94.2 170.4h0M69 188h0M102 188.2h0M73.7 186.9h0M88.6 188.1h0M103.1 187.6h0M85.3 186.2h0M94.5 187.5h0M78.1 186.5h0M109 187.8h0M70.1 187.7h0M99.6 188.3h0M86.4 198.1h0M91.4 203.5h0M78.2 203.3h0M77.9 203.3h0M126.8 203.5h0M104.9 219h0M103 218.4h0M84.2 218.8h0M87.9 215.1h0M90.8 219.2h0M107.9 219.9h0M88.6 236h0M91.6 237h0M91.5 234.7h0M84.2 234.3h0M86.7 234.1h0M76.3 233.9h0M101.1 235.4h0M89.3 239.6h0M74.5 234.4h0M87.4 238.9h0M83.3 236.7h0M77.9 235.7h0M87 239h0M87.9 234.2h0M91.6 234.5h0M89.1 229.2h0M82.8 232.6h0M83.9 252.5h0M96.9 249.6h0M86.1 248.3h0M94 250h0M91.5 249.2h0M102.3 250.4h0M103.7 250.9h0M84.5 250.9h0M82.4 249.6h0M90 249.6h0M86.6 248h0M91.7 249h0M86.2 248.4h0M86 249.1h0M87.8 247.2h0M114 250.5h0M124 250.7h0" stroke="#7f1f78" stroke-width="2.3" stroke-linecap="round"/>
<path d="M113.2 29.3h0M89.1 29.8h0M92.6 28.6h0M89.9 30.4h0M94.2 29.4h0M105 29.6h0M107 29.3h0M90.8 29.1h0M105.8 30.3h0M87.3 29.2h0M99.2 28.7h0M85 28.9h0M86.7 28.9h0M112.9 28.5h0M105 28.8h0M44 29.4h0M118 29.7h0M130 29.8h0M147 29.3h0M150 29.2h0M157.5 29h0M159 29.2h0M174 29.2h0M84.4 48.4h0M95.4 44.8h0M86.6 48.1h0M78 45.6h0M86.9 40.8h0M87.7 46.9h0M93.3 42.4h0M89.3 44.6h0M86.1 41.2h0M82.3 43.7h0M86.3 43.6h0M96.3 45.8h0M88.5 39.6h0M89.8 46.1h0M77.2 43.3h0M111.6 44.6h0M75.8 46.6h0M84.7 40.1h0M89.8 43.5h0M92.4 46.4h0M81 45.5h0M75.6 44.9h0M88.2 44.2h0M89.1 43.5h0M87.2 44.3h0M81.5 45.1h0M81.8 42.2h0M71.7 45.7h0M102.4 45.6h0M106.1 44.9h0M79.9 47.1h0M110.1 45.5h0M82.5 42.2h0M76 62h0M80.5 60.7h0M87.1 61.4h0M74.7 61.5h0M76.9 62.1h0M75 61.9h0M80.2 59.8h0M78.7 62h0M75.4 61.2h0M91.1 75.4h0M91.8 75.8h0M96.2 77.3h0M113.4 76.5h0M107.7 77.5h0M113.7 76.8h0M95.6 76.9h0M109.6 77.3h0M125 77.1h0M130 77h0M143 77.2h0M147.5 77.3h0M78.5 93.1h0M91.3 97.4h0M78.4 93.3h0M75.2 91h0M87.8 89h0M74.3 92.9h0M71 91.8h0M95.4 91.1h0M81 92.2h0M83.2 96.8h0M67.4 91.3h0M78.5 90.8h0M73.5 91.4h0M89.2 86.6h0M85.1 87.8h0M69.5 92.1h0M86 93.5h0M115.7 91.6h0M89.1 87.1h0M76.1 93.4h0M89 96h0M94.1 94.7h0M92.7 91.1h0M88.7 95.5h0M94 93.3h0M82.7 94.7h0M86.7 94.9h0M79.9 90.7h0M68.5 92.1h0M62 92.3h0M107.5 109.4h0M83.6 105.4h0M109.4 108.6h0M98.7 108.7h0M103.6 108h0M92.2 123.6h0M105.4 124.3h0M92.9 125.4h0M108.1 125.1h0M112.9 123.3h0M104.5 123.6h0M92.9 124.6h0M94.6 125.2h0M134 124.6h0M158 124.4h0M172.3 124.2h0M86.8 139.2h0M78.4 140.5h0M86.6 138.5h0M86.2 157.1h0M97.8 154.8h0M93.1 154.9h0M102.7 155.6h0M107.8 156.3h0M79.2 156.3h0M88 149.5h0M85.9 157.4h0M93.2 154.4h0M97.3 155.1h0M88.5 156.3h0M87 158.5h0M108.3 155.1h0M90.3 158.1h0M98.5 154.9h0M97.2 154.9h0M84.8 155.9h0M83.4 156.6h0M92.3 158.6h0M102.4 155.7h0M84.4 157.4h0M114 156.2h0M126 156.2h0M70.1 171.2h0M74.4 172h0M77.6 172.4h0M89 176.3h0M89.3 168h0M75 172.2h0M84.7 173.6h0M85.8 169.3h0M92.2 168.8h0M74.5 172.4h0M71.2 170.7h0M102.3 171.8h0M87 169.8h0M92.2 187.8h0M80.4 188.9h0M49 187.7h0M86.5 200.5h0M94.2 218h0M77.4 218.7h0M107.5 218.1h0M76.1 219h0M83.7 219.1h0M97.9 218.5h0M97.4 218.2h0M116 218.9h0M124 218.9h0M73.2 235.7h0M83.6 231.1h0M81.4 236.4h0M74.4 233.3h0M92.5 233h0M94.6 236.3h0M73 235.4h0M87.2 236.9h0M77.7 235.3h0M77 233.5h0M86.4 229.6h0M88.4 250.6h0M85.1 251.6h0M87.4 253.2h0M80.7 251.1h0M90.3 247.4h0M102.8 250.4h0M79.9 251.5h0M95.1 251.4h0M88 251.6h0M126.8 250.3h0" stroke="#a52c68" stroke-width="2.3" stroke-linecap="round"/>
<path d="M75.8 30h0M76.7 23.8h0M109.7 30h0M80.6 31.6h0M85.1 29.8h0M73 29h0M79.4 26.3h0M112.7 29.5h0M75 32.4h0M80.5 33.3h0M151.5 29.8h0M153 29.1h0M77.1 43.1h0M83.4 41.3h0M85 49.1h0M77.7 44.4h0M95.2 47.8h0M89.4 47.2h0M80.1 44.7h0M71.5 45.6h0M80.5 43.4h0M90.5 48.8h0M92.5 61.4h0M88 57.6h0M89 58.8h0M89.7 64.4h0M89.9 56.2h0M89.3 65.2h0M82.9 60.5h0M87 58.6h0M91.1 66.8h0M89.9 56.6h0M96.3 60.3h0M101.6 60.9h0M86.7 60.7h0M90.4 57.9h0M91.4 65.3h0M88.4 63.7h0M89.5 59.8h0M105.8 61.8h0M94.2 59.2h0M85.1 59.4h0M88.8 64.5h0M90.2 63.4h0M107.6 59.8h0M89.4 56.7h0M88.9 61.8h0M90.5 59.9h0M81.6 62.4h0M96.5 61.5h0M90.2 55.2h0M81.1 62.1h0M119 61.5h0M126 61.1h0M90.6 77.3h0M86.3 79.7h0M76.2 75.9h0M84.5 73.1h0M85.5 80.8h0M80.4 75.7h0M92.7 77.3h0M113.6 76.7h0M84.3 73.1h0M88.1 77.4h0M75.7 77.6h0M84.4 80.5h0M82.1 73.2h0M88.6 94.7h0M90.3 94.8h0M94.1 95.3h0M92.1 95.6h0M87 94.9h0M92 90.7h0M85 94.8h0M92.6 88.6h0M91.3 91.5h0M114.7 91.8h0M89.1 89.3h0M96.6 94h0M71.8 92.7h0M87.7 97.1h0M114.4 91.5h0M77.4 91.9h0M91.4 91.7h0M106 92.9h0M77.9 91.9h0M89.4 97.4h0M96.3 109.2h0M89.9 107.2h0M99.8 108.3h0M93.1 109.8h0M90 111.2h0M91.7 105.3h0M83 108.7h0M78.1 108.9h0M100.9 108.2h0M86.6 111.1h0M109.6 108.2h0M83.3 125h0M80.6 124.5h0M112.2 124.7h0M110.3 123.7h0M82.3 125.3h0M81.2 123.3h0M90.4 126.2h0M104.6 123.4h0M79 124.7h0M86 118.6h0M81.7 123.9h0M88.2 120.2h0M116.3 125.2h0M92.5 122.8h0M90.5 123.9h0M91.8 137.1h0M88.2 140.8h0M91.8 140.2h0M92.9 137.1h0M79.4 140.1h0M103.3 141h0M110.7 139.8h0M92.3 140.6h0M104.2 139.6h0M90.9 140.6h0M92.5 136.3h0M87.2 143.2h0M89.9 138.9h0M92.9 142.1h0M88.1 143.3h0M99.7 139h0M88.4 137.6h0M104.5 139.5h0M87.1 140.4h0M87.9 143.7h0M83.4 138.8h0M79.2 139.7h0M75.1 140.5h0M108.2 138.9h0M87.2 139.7h0M108.5 155.3h0M92 154.4h0M88.3 154.8h0M85.6 159.7h0M106.7 155.2h0M92.3 154.5h0M105.8 156.4h0M88 152.8h0M75.2 155.1h0M102 156.7h0M95.7 156h0M92.6 154.1h0M85.7 158.8h0M90 152.5h0M135 155.9h0M90.7 167.6h0M90.2 172.2h0M87.2 174.9h0M90 168.2h0M86.4 168h0M87.5 173.3h0M88.2 175.3h0M68.9 172.6h0M90.7 169.9h0M69.1 172h0M82.7 168.7h0M91.1 167.3h0M82.2 172h0M89.6 176.5h0M90.9 175h0M84.3 174.2h0M75.9 172.1h0M92.7 172.6h0M86.1 169.4h0M83.6 172.3h0M90.7 172h0M97.5 172.5h0M92.4 173.1h0M87.1 169.7h0M89.8 175h0M84.4 169.6h0M87.1 167.4h0M91.7 173.2h0M87.7 168.6h0M89.6 176.7h0M97.7 171.8h0M86.8 175.6h0M78.6 171h0M91.3 169.3h0M86.1 166.8h0M85.2 175.9h0M79.2 172.4h0M82.5 171.3h0M82.4 172.7h0M90.9 167.5h0M80.8 188.9h0M77.1 187.7h0M76.7 187.8h0M98.2 187.2h0M76.9 187h0M88.6 181.9h0M111.7 187.3h0M87.8 189.5h0M106.8 188.3h0M92.2 189.6h0M80.4 186.9h0M108.7 186.3h0M90.7 191.7h0M107 188.5h0M109.7 188.4h0M106.2 188.1h0M81.8 188.3h0M103.6 187.3h0M86.1 184.2h0M84.6 187.8h0M88.9 181.9h0M77.4 188.3h0M88 185.7h0M85.3 189.5h0M93.8 203.7h0M88.1 199.1h0M84.6 207h0M78.2 202.7h0M85.5 206.5h0M76.4 204.1h0M87.1 198.1h0M89.5 201.5h0M87.3 197.8h0M76.9 204h0M104.5 202.7h0M80.4 203.8h0M90.1 199.4h0M87.4 205.7h0M82.8 204.2h0M91.9 206.3h0M109 203.6h0M113 203h0M82.6 219h0M89.1 216.4h0M90.8 216.9h0M76 219.7h0M90.5 222.8h0M85.8 218.3h0M87.6 215.8h0M86.5 216.4h0M90.3 220.2h0M89 213.3h0M83.2 219.9h0M87.2 216.6h0M85.4 221h0M86.9 221h0M87.2 231.9h0M86.6 232.7h0M97 234.4h0M88.9 236.4h0M82.7 237.2h0M84.5 231.5h0M84.1 232.9h0M98.1 235.9h0M87.8 238.8h0M88.3 233.1h0M109.5 234h0M98.9 235.8h0M84.6 237.3h0M84.9 231.8h0M91.3 233.4h0M98.8 235.3h0M88 239.6h0M95.5 236h0M103.1 233.9h0M90.8 232.4h0M93.3 237.3h0M89.4 231.5h0M88.2 233.8h0M95.7 234.7h0M88.6 240.3h0M84 233.5h0M83.4 234.2h0M84.4 235.7h0M88.5 251.1h0M84.6 249.6h0M88.1 245.4h0M87.7 254.4h0M99.9 249.5h0M95.6 250.3h0M103.3 251.3h0M87.9 252.3h0M103.8 250.3h0M88.9 244.5h0M90.8 247.3h0M88 251.6h0M90.7 251.9h0M91.7 252.5h0M86.4 248h0M88 250.7h0M91.1 249.2h0M81 250.5h0" stroke="#5d1a78" stroke-width="2.3" stroke-linecap="round"/>
<path d="M86.9 28.9h0M84.1 31.8h0M109.6 45.4h0M92.9 46.4h0M81.9 49.5h0M84.3 40.5h0M88.3 50.4h0M107.7 46h0M98.2 44.2h0M93 48.4h0M103.8 44.6h0M79.1 47h0M87.2 46.6h0M113.4 44.5h0M126 45.1h0M135 45.3h0M193 45.4h0M196 45.6h0M198 45.5h0M68.8 60.2h0M101.9 76.5h0M93 78h0M94.9 76.6h0M104.9 77.6h0M98.8 76h0M108 76.5h0M91.7 96.1h0M68.7 92.7h0M79.1 94h0M112.8 124.9h0M101.9 154.7h0M105.8 155.8h0M93.6 158h0M83.7 154.9h0M54.4 156.2h0M101.5 219.8h0M120 218.5h0M73 235.1h0M79.4 235.3h0M80 250.9h0M103.1 251h0M95.4 250.4h0" stroke="#ec872e" stroke-width="2.3" stroke-linecap="round"/>
<path d="M111.4 29.4h0M85.1 49.9h0M102.3 46.3h0M85.4 45.2h0M121 45.8h0M152 45h0M83.5 61.2h0M83.8 61.8h0M114.8 77.4h0M114.2 77.1h0M64.4 91.6h0M87.9 98h0M74.4 92.7h0M90.2 88h0M103.9 124.5h0M113.2 125h0M91.7 157h0M100.3 219.1h0M73 235.5h0" stroke="#f2b02e" stroke-width="2.3" stroke-linecap="round"/>
<text x="33.6" y="31.6" text-anchor="end" fill="#1e1e1e">THBS2</text>
<line x1="35" y1="29.5" x2="37" y2="29.5" stroke="#333" stroke-width="0.8"/>
<text x="33.6" y="47.4" text-anchor="end" fill="#1e1e1e">TREM2</text>
<line x1="35" y1="45.3" x2="37" y2="45.3" stroke="#333" stroke-width="0.8"/>
<text x="33.6" y="63.2" text-anchor="end" fill="#1e1e1e">FAP</text>
<line x1="35" y1="61.1" x2="37" y2="61.1" stroke="#333" stroke-width="0.8"/>
<text x="33.6" y="79" text-anchor="end" fill="#1e1e1e">COL1A1</text>
<line x1="35" y1="76.9" x2="37" y2="76.9" stroke="#333" stroke-width="0.8"/>
<text x="33.6" y="94.7" text-anchor="end" fill="#1e1e1e">RCN3</text>
<line x1="35" y1="92.6" x2="37" y2="92.6" stroke="#333" stroke-width="0.8"/>
<text x="33.6" y="110.5" text-anchor="end" fill="#1e1e1e">ITGBL1</text>
<line x1="35" y1="108.4" x2="37" y2="108.4" stroke="#333" stroke-width="0.8"/>
<text x="33.6" y="126.3" text-anchor="end" fill="#1e1e1e">MS4A14</text>
<line x1="35" y1="124.2" x2="37" y2="124.2" stroke="#333" stroke-width="0.8"/>
<text x="33.6" y="142.1" text-anchor="end" fill="#1e1e1e">NOX4</text>
<line x1="35" y1="140" x2="37" y2="140" stroke="#333" stroke-width="0.8"/>
<text x="33.6" y="157.9" text-anchor="end" fill="#1e1e1e">SPP1</text>
<line x1="35" y1="155.8" x2="37" y2="155.8" stroke="#333" stroke-width="0.8"/>
<text x="33.6" y="173.7" text-anchor="end" fill="#1e1e1e">INHBA</text>
<line x1="35" y1="171.6" x2="37" y2="171.6" stroke="#333" stroke-width="0.8"/>
<text x="33.6" y="189.4" text-anchor="end" fill="#1e1e1e">OLR1</text>
<line x1="35" y1="187.3" x2="37" y2="187.3" stroke="#333" stroke-width="0.8"/>
<text x="33.6" y="205.2" text-anchor="end" fill="#1e1e1e">CTHRC1</text>
<line x1="35" y1="203.1" x2="37" y2="203.1" stroke="#333" stroke-width="0.8"/>
<text x="33.6" y="221" text-anchor="end" fill="#1e1e1e">COMP</text>
<line x1="35" y1="218.9" x2="37" y2="218.9" stroke="#333" stroke-width="0.8"/>
<text x="33.6" y="236.8" text-anchor="end" fill="#1e1e1e">BGN</text>
<line x1="35" y1="234.7" x2="37" y2="234.7" stroke="#333" stroke-width="0.8"/>
<text x="33.6" y="252.6" text-anchor="end" fill="#1e1e1e">MSR1</text>
<line x1="35" y1="250.5" x2="37" y2="250.5" stroke="#333" stroke-width="0.8"/>
<line x1="48.1" y1="260" x2="48.1" y2="262.5" stroke="#333" stroke-width="0.7"/>
<text x="51.1" y="267.9" text-anchor="middle" fill="#4d4d4d">&#8722;0.2</text>
<line x1="89.1" y1="260" x2="89.1" y2="262.5" stroke="#333" stroke-width="0.7"/>
<text x="92.1" y="267.9" text-anchor="middle" fill="#4d4d4d">0.0</text>
<line x1="130.1" y1="260" x2="130.1" y2="262.5" stroke="#333" stroke-width="0.7"/>
<text x="133.1" y="267.9" text-anchor="middle" fill="#4d4d4d">0.2</text>
<line x1="171.1" y1="260" x2="171.1" y2="262.5" stroke="#333" stroke-width="0.7"/>
<text x="174.1" y="267.9" text-anchor="middle" fill="#4d4d4d">0.4</text>
<text x="126" y="275.8" text-anchor="middle">SHAP value</text>
<text x="123.5" y="13.3" text-anchor="middle" font-weight="bold" fill="#000" font-size="10">TCGA-PRAD</text>
<rect x="288" y="20" width="170" height="240" fill="#ebebeb"/>
<line x1="310.8" y1="20" x2="310.8" y2="260" stroke="#fff" stroke-width="0.6"/>
<line x1="334.4" y1="20" x2="334.4" y2="260" stroke="#fff" stroke-width="1.1"/>
<line x1="357.9" y1="20" x2="357.9" y2="260" stroke="#fff" stroke-width="0.6"/>
<line x1="381.5" y1="20" x2="381.5" y2="260" stroke="#fff" stroke-width="1.1"/>
<line x1="405" y1="20" x2="405" y2="260" stroke="#fff" stroke-width="0.6"/>
<line x1="428.6" y1="20" x2="428.6" y2="260" stroke="#fff" stroke-width="1.1"/>
<line x1="452.1" y1="20" x2="452.1" y2="260" stroke="#fff" stroke-width="0.6"/>
<line x1="288" y1="29.5" x2="458" y2="29.5" stroke="#fff" stroke-width="1.1"/>
<line x1="288" y1="45.3" x2="458" y2="45.3" stroke="#fff" stroke-width="1.1"/>
<line x1="288" y1="61.1" x2="458" y2="61.1" stroke="#fff" stroke-width="1.1"/>
<line x1="288" y1="76.9" x2="458" y2="76.9" stroke="#fff" stroke-width="1.1"/>
<line x1="288" y1="92.6" x2="458" y2="92.6" stroke="#fff" stroke-width="1.1"/>
<line x1="288" y1="108.4" x2="458" y2="108.4" stroke="#fff" stroke-width="1.1"/>
<line x1="288" y1="124.2" x2="458" y2="124.2" stroke="#fff" stroke-width="1.1"/>
<line x1="288" y1="140" x2="458" y2="140" stroke="#fff" stroke-width="1.1"/>
<line x1="288" y1="155.8" x2="458" y2="155.8" stroke="#fff" stroke-width="1.1"/>
<line x1="288" y1="171.6" x2="458" y2="171.6" stroke="#fff" stroke-width="1.1"/>
<line x1="288" y1="187.3" x2="458" y2="187.3" stroke="#fff" stroke-width="1.1"/>
<line x1="288" y1="203.1" x2="458" y2="203.1" stroke="#fff" stroke-width="1.1"/>
<line x1="288" y1="218.9" x2="458" y2="218.9" stroke="#fff" stroke-width="1.1"/>
<line x1="288" y1="234.7" x2="458" y2="234.7" stroke="#fff" stroke-width="1.1"/>
<line x1="288" y1="250.5" x2="458" y2="250.5" stroke="#fff" stroke-width="1.1"/>
<line x1="334.4" y1="20" x2="334.4" y2="260" stroke="#8a8a8a" stroke-width="0.8"/>
<polygon points="307.5,28.3 308.7,28.3 309.8,28.3 311,28.1 312.1,27.7 313.3,27.4 314.4,27 315.6,26.7 316.8,26.4 317.9,26 319.1,25.7 320.2,25.4 321.4,25 322.6,24.7 323.7,24.3 324.9,24 326,23.7 327.2,23.3 328.4,23.3 329.5,24.2 330.7,25 331.8,25.8 333,26.6 334.1,27.5 335.3,28.3 336.5,28.3 337.6,28.3 338.8,28.3 339.9,28.3 341.1,28.3 342.2,28.3 343.4,28.3 344.6,28.3 345.7,28.3 346.9,28.3 348,28.3 349.2,28.3 350.4,28.3 351.5,28.3 352.7,28.3 353.8,28.3 355,28.3 356.1,28.3 357.3,28.3 358.5,28.3 359.6,28.3 360.8,28.3 361.9,28.3 363.1,28.3 364.3,28.3 365.4,28.3 366.6,28.3 367.7,28.3 368.9,28.3 370.1,28.3 371.2,28.3 372.4,28.3 373.5,28.3 374.7,28.3 375.8,28.3 377,28.3 377,30.7 375.8,30.7 374.7,30.7 373.5,30.7 372.4,30.7 371.2,30.7 370.1,30.7 368.9,30.7 367.7,30.7 366.6,30.7 365.4,30.7 364.3,30.7 363.1,30.7 361.9,30.7 360.8,30.7 359.6,30.7 358.5,30.7 357.3,30.7 356.1,30.7 355,30.7 353.8,30.7 352.7,30.7 351.5,30.7 350.4,30.7 349.2,30.7 348,30.7 346.9,30.7 345.7,30.7 344.6,30.7 343.4,30.7 342.2,30.7 341.1,30.7 339.9,30.7 338.8,30.7 337.6,30.7 336.5,30.7 335.3,30.7 334.1,31.5 333,32.4 331.8,33.2 330.7,34 329.5,34.8 328.4,35.7 327.2,35.7 326,35.3 324.9,35 323.7,34.7 322.6,34.3 321.4,34 320.2,33.6 319.1,33.3 317.9,33 316.8,32.6 315.6,32.3 314.4,32 313.3,31.6 312.1,31.3 311,30.9 309.8,30.7 308.7,30.7 307.5,30.7" fill="#4a1870"/>
<polygon points="295,44.1 296.4,44.1 297.8,44.1 299.2,44.1 300.7,44.1 302.1,43.9 303.5,43.6 304.9,43.4 306.3,43.2 307.8,43 309.2,42.7 310.6,42.5 312,42.3 313.4,42.1 314.8,41.8 316.2,41.6 317.7,41.4 319.1,41.2 320.5,40.9 321.9,40.7 323.3,40.5 324.8,40.3 326.2,40 327.6,39.8 329,39.6 330.4,39.4 331.8,39.4 333.2,39.5 334.7,39.7 336.1,39.9 337.5,40 338.9,40.2 340.3,40.4 341.8,40.5 343.2,40.7 344.6,40.9 346,41 347.4,41.2 348.8,41.3 350.2,41.5 351.7,41.7 353.1,41.8 354.5,42 355.9,42.2 357.3,42.3 358.8,42.5 360.2,42.7 361.6,42.8 363,43 364.4,43.1 365.8,43.3 367.2,43.5 368.7,43.6 370.1,43.8 371.5,44 372.9,44.1 374.3,44.1 375.8,44.1 377.2,44.1 378.6,44.1 380,44.1 380,46.5 378.6,46.5 377.2,46.5 375.8,46.5 374.3,46.5 372.9,46.5 371.5,46.6 370.1,46.8 368.7,46.9 367.2,47.1 365.8,47.3 364.4,47.4 363,47.6 361.6,47.8 360.2,47.9 358.8,48.1 357.3,48.2 355.9,48.4 354.5,48.6 353.1,48.7 351.7,48.9 350.2,49.1 348.8,49.2 347.4,49.4 346,49.6 344.6,49.7 343.2,49.9 341.8,50 340.3,50.2 338.9,50.4 337.5,50.5 336.1,50.7 334.7,50.9 333.2,51 331.8,51.2 330.4,51.2 329,51 327.6,50.7 326.2,50.5 324.8,50.3 323.3,50.1 321.9,49.9 320.5,49.6 319.1,49.4 317.7,49.2 316.2,49 314.8,48.7 313.4,48.5 312,48.3 310.6,48.1 309.2,47.8 307.8,47.6 306.3,47.4 304.9,47.2 303.5,46.9 302.1,46.7 300.7,46.5 299.2,46.5 297.8,46.5 296.4,46.5 295,46.5" fill="#9a2c66"/>
<polygon points="306,60.1 306.9,60.1 307.9,60.1 308.8,60 309.8,59.8 310.7,59.6 311.6,59.4 312.6,59.1 313.5,58.9 314.5,58.7 315.4,58.5 316.4,58.3 317.3,58 318.2,57.8 319.2,57.6 320.1,57.4 321.1,57.2 322,57 322.9,56.7 323.9,56.5 324.8,56.3 325.8,56.1 326.7,55.9 327.7,55.7 328.6,55.4 329.5,55.2 330.5,55.1 331.4,55.4 332.4,55.7 333.3,55.9 334.2,56.2 335.2,56.4 336.1,56.7 337.1,56.9 338,57.2 339,57.5 339.9,57.7 340.8,58 341.8,58.2 342.7,58.5 343.7,58.7 344.6,59 345.6,59.3 346.5,59.5 347.4,59.8 348.4,60 349.3,60.1 350.3,60.1 351.2,60.1 352.1,60.1 353.1,60.1 354,60.1 355,60.1 355.9,60.1 356.9,60.1 357.8,60.1 358.7,60.1 359.7,60.1 360.6,60.1 361.6,60.1 362.5,60.1 362.5,62.1 361.6,62.1 360.6,62.1 359.7,62.1 358.7,62.1 357.8,62.1 356.9,62.1 355.9,62.1 355,62.1 354,62.1 353.1,62.1 352.1,62.1 351.2,62.1 350.3,62.1 349.3,62.1 348.4,62.1 347.4,62.4 346.5,62.6 345.6,62.9 344.6,63.1 343.7,63.4 342.7,63.7 341.8,63.9 340.8,64.2 339.9,64.4 339,64.7 338,64.9 337.1,65.2 336.1,65.5 335.2,65.7 334.2,66 333.3,66.2 332.4,66.5 331.4,66.7 330.5,67 329.5,66.9 328.6,66.7 327.7,66.5 326.7,66.3 325.8,66 324.8,65.8 323.9,65.6 322.9,65.4 322,65.2 321.1,65 320.1,64.7 319.2,64.5 318.2,64.3 317.3,64.1 316.4,63.9 315.4,63.7 314.5,63.4 313.5,63.2 312.6,63 311.6,62.8 310.7,62.6 309.8,62.4 308.8,62.1 307.9,62.1 306.9,62.1 306,62.1" fill="#b03c5a"/>
<polygon points="319.5,75.9 320.1,75.9 320.7,75.6 321.3,75.2 321.9,74.8 322.5,74.4 323.1,74 323.6,73.6 324.2,73.3 324.8,72.9 325.4,72.5 326,72.1 326.6,71.7 327.2,71.3 327.8,71.1 328.4,71.5 329,71.8 329.6,72.2 330.1,72.6 330.7,73 331.3,73.4 331.9,73.8 332.5,74.1 333.1,74.5 333.7,74.9 334.3,75.3 334.9,75.7 335.5,75.9 336.1,75.9 336.7,75.9 337.2,75.9 337.8,75.9 338.4,75.9 339,75.9 339.6,75.9 340.2,75.9 340.8,75.9 341.4,75.9 342,75.9 342.6,75.9 343.2,75.9 343.8,75.9 344.4,75.9 344.9,75.9 345.5,75.9 346.1,75.9 346.7,75.9 347.3,75.9 347.9,75.9 348.5,75.9 349.1,75.9 349.7,75.9 350.3,75.9 350.9,75.9 351.4,75.9 352,75.9 352.6,75.9 353.2,75.9 353.8,75.9 354.4,75.9 355,75.9 355,77.9 354.4,77.9 353.8,77.9 353.2,77.9 352.6,77.9 352,77.9 351.4,77.9 350.9,77.9 350.3,77.9 349.7,77.9 349.1,77.9 348.5,77.9 347.9,77.9 347.3,77.9 346.7,77.9 346.1,77.9 345.5,77.9 344.9,77.9 344.4,77.9 343.8,77.9 343.2,77.9 342.6,77.9 342,77.9 341.4,77.9 340.8,77.9 340.2,77.9 339.6,77.9 339,77.9 338.4,77.9 337.8,77.9 337.2,77.9 336.7,77.9 336.1,77.9 335.5,77.9 334.9,78 334.3,78.4 333.7,78.8 333.1,79.2 332.5,79.6 331.9,80 331.3,80.3 330.7,80.7 330.1,81.1 329.6,81.5 329,81.9 328.4,82.3 327.8,82.6 327.2,82.4 326.6,82 326,81.6 325.4,81.2 324.8,80.8 324.2,80.4 323.6,80.1 323.1,79.7 322.5,79.3 321.9,78.9 321.3,78.5 320.7,78.1 320.1,77.9 319.5,77.9" fill="#4e1872"/>
<polygon points="312,91.4 312.8,91.4 313.6,91.4 314.4,91.4 315.2,91.4 316,91.4 316.8,91.2 317.6,90.9 318.4,90.7 319.2,90.5 320,90.3 320.8,90.1 321.6,89.9 322.4,89.6 323.2,89.4 324,89.2 324.8,89 325.6,88.8 326.4,88.5 327.2,88.3 328,88.1 328.8,87.9 329.6,87.7 330.4,87.5 331.2,87.2 332,87 332.8,86.8 333.6,86.7 334.4,87.1 335.2,87.5 336,87.8 336.8,88.2 337.6,88.6 338.4,88.9 339.2,89.3 340,89.7 340.8,90.1 341.6,90.4 342.4,90.8 343.2,91.2 344,91.4 344.8,91.4 345.6,91.4 346.4,91.4 347.2,91.4 348,91.4 348.8,91.4 349.6,91.4 350.4,91.4 351.2,91.4 352,91.4 352.8,91.4 353.6,91.4 354.4,91.4 355.2,91.4 356,91.4 356.8,91.4 357.6,91.4 358.4,91.4 359.2,91.4 360,91.4 360,93.9 359.2,93.9 358.4,93.9 357.6,93.9 356.8,93.9 356,93.9 355.2,93.9 354.4,93.9 353.6,93.9 352.8,93.9 352,93.9 351.2,93.9 350.4,93.9 349.6,93.9 348.8,93.9 348,93.9 347.2,93.9 346.4,93.9 345.6,93.9 344.8,93.9 344,93.9 343.2,94.1 342.4,94.5 341.6,94.9 340.8,95.2 340,95.6 339.2,96 338.4,96.3 337.6,96.7 336.8,97.1 336,97.4 335.2,97.8 334.4,98.2 333.6,98.5 332.8,98.5 332,98.3 331.2,98 330.4,97.8 329.6,97.6 328.8,97.4 328,97.2 327.2,96.9 326.4,96.7 325.6,96.5 324.8,96.3 324,96.1 323.2,95.9 322.4,95.6 321.6,95.4 320.8,95.2 320,95 319.2,94.8 318.4,94.5 317.6,94.3 316.8,94.1 316,93.9 315.2,93.9 314.4,93.9 313.6,93.9 312.8,93.9 312,93.9" fill="#a03060"/>
<polygon points="314,107.2 314.8,107.2 315.5,107.2 316.3,107.2 317.1,106.9 317.8,106.6 318.6,106.3 319.4,106 320.1,105.8 320.9,105.5 321.7,105.2 322.4,104.9 323.2,104.6 324,104.3 324.7,104 325.5,103.7 326.3,103.5 327,103.2 327.8,102.9 328.6,102.6 329.3,102.6 330.1,102.9 330.9,103.3 331.6,103.6 332.4,104 333.2,104.3 333.9,104.7 334.7,105.1 335.5,105.4 336.2,105.8 337,106.1 337.8,106.5 338.5,106.8 339.3,107.2 340.1,107.2 340.8,107.2 341.6,107.2 342.4,107.2 343.1,107.2 343.9,107.2 344.7,107.2 345.4,107.2 346.2,107.2 347,107.2 347.7,107.2 348.5,107.2 349.3,107.2 350,107.2 350.8,107.2 351.6,107.2 352.3,107.2 353.1,107.2 353.9,107.2 354.6,107.2 355.4,107.2 356.2,107.2 356.9,107.2 357.7,107.2 358.5,107.2 359.2,107.2 360,107.2 360,109.7 359.2,109.7 358.5,109.7 357.7,109.7 356.9,109.7 356.2,109.7 355.4,109.7 354.6,109.7 353.9,109.7 353.1,109.7 352.3,109.7 351.6,109.7 350.8,109.7 350,109.7 349.3,109.7 348.5,109.7 347.7,109.7 347,109.7 346.2,109.7 345.4,109.7 344.7,109.7 343.9,109.7 343.1,109.7 342.4,109.7 341.6,109.7 340.8,109.7 340.1,109.7 339.3,109.7 338.5,110 337.8,110.4 337,110.7 336.2,111.1 335.5,111.4 334.7,111.8 333.9,112.1 333.2,112.5 332.4,112.9 331.6,113.2 330.9,113.6 330.1,113.9 329.3,114.3 328.6,114.3 327.8,114 327,113.7 326.3,113.4 325.5,113.1 324.7,112.8 324,112.5 323.2,112.2 322.4,112 321.7,111.7 320.9,111.4 320.1,111.1 319.4,110.8 318.6,110.5 317.8,110.2 317.1,109.9 316.3,109.7 315.5,109.7 314.8,109.7 314,109.7" fill="#4e1872"/>
<polygon points="310.8,123.2 311.8,123.2 312.9,123.2 313.9,123.2 315,123.2 316,123.2 317.1,123.2 318.1,123.2 319.2,123.2 320.2,123.2 321.3,123.2 322.3,123.2 323.4,123.2 324.4,123.2 325.5,123.2 326.5,122.6 327.5,121.9 328.6,121.1 329.6,120.4 330.7,119.7 331.7,118.9 332.8,119 333.8,119.7 334.9,120.5 335.9,121.2 337,121.9 338,122.7 339.1,123.2 340.1,123.2 341.2,123.2 342.2,123.2 343.2,123.2 344.3,123.2 345.3,123.2 346.4,123.2 347.4,123.2 348.5,123.2 349.5,123.2 350.6,123.2 351.6,123.2 352.7,123.2 353.7,123.2 354.8,123.2 355.8,123.2 356.9,123.2 357.9,123.2 358.9,123.2 360,123.2 361,123.2 362.1,123.2 363.1,123.2 364.2,123.2 365.2,123.2 366.3,123.2 367.3,123.2 368.4,123.2 369.4,123.2 370.5,123.2 371.5,123.2 372.6,123.2 373.6,123.2 373.6,125.2 372.6,125.2 371.5,125.2 370.5,125.2 369.4,125.2 368.4,125.2 367.3,125.2 366.3,125.2 365.2,125.2 364.2,125.2 363.1,125.2 362.1,125.2 361,125.2 360,125.2 358.9,125.2 357.9,125.2 356.9,125.2 355.8,125.2 354.8,125.2 353.7,125.2 352.7,125.2 351.6,125.2 350.6,125.2 349.5,125.2 348.5,125.2 347.4,125.2 346.4,125.2 345.3,125.2 344.3,125.2 343.2,125.2 342.2,125.2 341.2,125.2 340.1,125.2 339.1,125.2 338,125.7 337,126.5 335.9,127.2 334.9,127.9 333.8,128.7 332.8,129.4 331.7,129.5 330.7,128.8 329.6,128 328.6,127.3 327.5,126.6 326.5,125.8 325.5,125.2 324.4,125.2 323.4,125.2 322.3,125.2 321.3,125.2 320.2,125.2 319.2,125.2 318.1,125.2 317.1,125.2 316,125.2 315,125.2 313.9,125.2 312.9,125.2 311.8,125.2 310.8,125.2" fill="#6a2074"/>
<polygon points="314.8,139 315.7,139 316.6,139 317.4,139 318.3,139 319.2,139 320.1,139 320.9,139 321.8,139 322.7,139 323.6,139 324.4,139 325.3,139 326.2,138.9 327.1,138.3 327.9,137.7 328.8,137.1 329.7,136.5 330.6,135.9 331.5,135.3 332.3,134.7 333.2,134.7 334.1,135.3 335,135.8 335.8,136.3 336.7,136.9 337.6,137.4 338.5,138 339.3,138.5 340.2,139 341.1,139 342,139 342.9,139 343.7,139 344.6,139 345.5,139 346.4,139 347.2,139 348.1,139 349,139 349.9,139 350.7,139 351.6,139 352.5,139 353.4,139 354.2,139 355.1,139 356,139 356.9,139 357.8,139 358.6,139 359.5,139 360.4,139 361.3,139 362.1,139 363,139 363.9,139 364.8,139 365.6,139 366.5,139 367.4,139 367.4,141 366.5,141 365.6,141 364.8,141 363.9,141 363,141 362.1,141 361.3,141 360.4,141 359.5,141 358.6,141 357.8,141 356.9,141 356,141 355.1,141 354.2,141 353.4,141 352.5,141 351.6,141 350.7,141 349.9,141 349,141 348.1,141 347.2,141 346.4,141 345.5,141 344.6,141 343.7,141 342.9,141 342,141 341.1,141 340.2,141 339.3,141.5 338.5,142 337.6,142.6 336.7,143.1 335.8,143.6 335,144.2 334.1,144.7 333.2,145.3 332.3,145.3 331.5,144.7 330.6,144.1 329.7,143.5 328.8,142.9 327.9,142.3 327.1,141.7 326.2,141 325.3,141 324.4,141 323.6,141 322.7,141 321.8,141 320.9,141 320.1,141 319.2,141 318.3,141 317.4,141 316.6,141 315.7,141 314.8,141" fill="#6a2074"/>
<polygon points="312.8,154.8 313.7,154.8 314.5,154.8 315.4,154.8 316.3,154.8 317.2,154.8 318,154.8 318.9,154.8 319.8,154.8 320.6,154.8 321.5,154.8 322.4,154.8 323.2,154.8 324.1,154.3 325,153.7 325.9,153.2 326.7,152.7 327.6,152.1 328.5,151.6 329.3,151 330.2,150.5 331.1,150.4 331.9,150.9 332.8,151.4 333.7,151.8 334.6,152.3 335.4,152.8 336.3,153.3 337.2,153.8 338,154.3 338.9,154.8 339.8,154.8 340.6,154.8 341.5,154.8 342.4,154.8 343.2,154.8 344.1,154.8 345,154.8 345.9,154.8 346.7,154.8 347.6,154.8 348.5,154.8 349.3,154.8 350.2,154.8 351.1,154.8 351.9,154.8 352.8,154.8 353.7,154.8 354.6,154.8 355.4,154.8 356.3,154.8 357.2,154.8 358,154.8 358.9,154.8 359.8,154.8 360.6,154.8 361.5,154.8 362.4,154.8 363.3,154.8 364.1,154.8 365,154.8 365,156.8 364.1,156.8 363.3,156.8 362.4,156.8 361.5,156.8 360.6,156.8 359.8,156.8 358.9,156.8 358,156.8 357.2,156.8 356.3,156.8 355.4,156.8 354.6,156.8 353.7,156.8 352.8,156.8 351.9,156.8 351.1,156.8 350.2,156.8 349.3,156.8 348.5,156.8 347.6,156.8 346.7,156.8 345.9,156.8 345,156.8 344.1,156.8 343.2,156.8 342.4,156.8 341.5,156.8 340.6,156.8 339.8,156.8 338.9,156.8 338,157.3 337.2,157.8 336.3,158.2 335.4,158.7 334.6,159.2 333.7,159.7 332.8,160.2 331.9,160.7 331.1,161.2 330.2,161.1 329.3,160.5 328.5,160 327.6,159.4 326.7,158.9 325.9,158.4 325,157.8 324.1,157.3 323.2,156.8 322.4,156.8 321.5,156.8 320.6,156.8 319.8,156.8 318.9,156.8 318,156.8 317.2,156.8 316.3,156.8 315.4,156.8 314.5,156.8 313.7,156.8 312.8,156.8" fill="#6a2074"/>
<polygon points="310.3,170.6 311,170.6 311.6,170.6 312.3,170.6 312.9,170.6 313.6,170.6 314.3,170.6 314.9,170.6 315.6,170.6 316.3,170.6 316.9,170.6 317.6,170.6 318.2,170.6 318.9,170.6 319.6,170.6 320.2,170.6 320.9,170.6 321.5,170.4 322.2,170.2 322.9,169.9 323.5,169.6 324.2,169.4 324.9,169.1 325.5,168.8 326.2,168.6 326.8,168.3 327.5,168 328.2,167.8 328.8,167.5 329.5,167.2 330.1,167 330.8,166.7 331.5,166.5 332.1,166.2 332.8,166 333.5,166.4 334.1,166.8 334.8,167.1 335.4,167.5 336.1,167.9 336.8,168.2 337.4,168.6 338.1,169 338.8,169.4 339.4,169.7 340.1,170.1 340.7,170.5 341.4,170.6 342.1,170.6 342.7,170.6 343.4,170.6 344,170.6 344.7,170.6 345.4,170.6 346,170.6 346.7,170.6 347.4,170.6 348,170.6 348.7,170.6 349.3,170.6 350,170.6 350,172.6 349.3,172.6 348.7,172.6 348,172.6 347.4,172.6 346.7,172.6 346,172.6 345.4,172.6 344.7,172.6 344,172.6 343.4,172.6 342.7,172.6 342.1,172.6 341.4,172.6 340.7,172.7 340.1,173 339.4,173.4 338.8,173.8 338.1,174.1 337.4,174.5 336.8,174.9 336.1,175.3 335.4,175.6 334.8,176 334.1,176.4 333.5,176.7 332.8,177.1 332.1,176.9 331.5,176.7 330.8,176.4 330.1,176.1 329.5,175.9 328.8,175.6 328.2,175.4 327.5,175.1 326.8,174.8 326.2,174.6 325.5,174.3 324.9,174 324.2,173.8 323.5,173.5 322.9,173.2 322.2,173 321.5,172.7 320.9,172.6 320.2,172.6 319.6,172.6 318.9,172.6 318.2,172.6 317.6,172.6 316.9,172.6 316.3,172.6 315.6,172.6 314.9,172.6 314.3,172.6 313.6,172.6 312.9,172.6 312.3,172.6 311.6,172.6 311,172.6 310.3,172.6" fill="#4a1870"/>
<polygon points="310.8,186.3 311.5,186.3 312.3,186.3 313,186.3 313.8,186.3 314.5,186.3 315.3,186.3 316,186.3 316.8,186.3 317.5,186.3 318.2,186.3 319,186.3 319.7,186.3 320.5,186.3 321.2,186.3 322,186.3 322.7,186.3 323.5,186.3 324.2,186.2 325,185.8 325.7,185.3 326.4,184.8 327.2,184.4 327.9,183.9 328.7,183.4 329.4,183 330.2,182.5 330.9,182.1 331.7,181.9 332.4,182.4 333.1,182.8 333.9,183.3 334.6,183.8 335.4,184.2 336.1,184.7 336.9,185.2 337.6,185.6 338.4,186.1 339.1,186.3 339.9,186.3 340.6,186.3 341.3,186.3 342.1,186.3 342.8,186.3 343.6,186.3 344.3,186.3 345.1,186.3 345.8,186.3 346.6,186.3 347.3,186.3 348.1,186.3 348.8,186.3 349.5,186.3 350.3,186.3 351,186.3 351.8,186.3 352.5,186.3 353.3,186.3 354,186.3 354.8,186.3 355.5,186.3 355.5,188.3 354.8,188.3 354,188.3 353.3,188.3 352.5,188.3 351.8,188.3 351,188.3 350.3,188.3 349.5,188.3 348.8,188.3 348.1,188.3 347.3,188.3 346.6,188.3 345.8,188.3 345.1,188.3 344.3,188.3 343.6,188.3 342.8,188.3 342.1,188.3 341.3,188.3 340.6,188.3 339.9,188.3 339.1,188.3 338.4,188.6 337.6,189.1 336.9,189.5 336.1,190 335.4,190.5 334.6,190.9 333.9,191.4 333.1,191.9 332.4,192.3 331.7,192.8 330.9,192.6 330.2,192.2 329.4,191.7 328.7,191.3 327.9,190.8 327.2,190.3 326.4,189.9 325.7,189.4 325,188.9 324.2,188.5 323.5,188.3 322.7,188.3 322,188.3 321.2,188.3 320.5,188.3 319.7,188.3 319,188.3 318.2,188.3 317.5,188.3 316.8,188.3 316,188.3 315.3,188.3 314.5,188.3 313.8,188.3 313,188.3 312.3,188.3 311.5,188.3 310.8,188.3" fill="#5a1c74"/>
<polygon points="324,202.1 324.6,202.1 325.1,202.1 325.6,202.1 326.2,201.7 326.8,201.3 327.3,200.8 327.9,200.4 328.4,199.9 328.9,199.5 329.5,199.1 330.1,198.6 330.6,198.2 331.1,197.7 331.7,197.7 332.2,198 332.8,198.3 333.4,198.6 333.9,198.9 334.4,199.2 335,199.6 335.6,199.9 336.1,200.2 336.6,200.5 337.2,200.8 337.8,201.1 338.3,201.4 338.9,201.7 339.4,202 339.9,202.1 340.5,202.1 341.1,202.1 341.6,202.1 342.1,202.1 342.7,202.1 343.2,202.1 343.8,202.1 344.4,202.1 344.9,202.1 345.4,202.1 346,202.1 346.6,202.1 347.1,202.1 347.6,202.1 348.2,202.1 348.8,202.1 349.3,202.1 349.9,202.1 350.4,202.1 350.9,202.1 351.5,202.1 352.1,202.1 352.6,202.1 353.1,202.1 353.7,202.1 354.2,202.1 354.8,202.1 355.4,202.1 355.9,202.1 356.4,202.1 357,202.1 357,204.1 356.4,204.1 355.9,204.1 355.4,204.1 354.8,204.1 354.2,204.1 353.7,204.1 353.1,204.1 352.6,204.1 352.1,204.1 351.5,204.1 350.9,204.1 350.4,204.1 349.9,204.1 349.3,204.1 348.8,204.1 348.2,204.1 347.6,204.1 347.1,204.1 346.6,204.1 346,204.1 345.4,204.1 344.9,204.1 344.4,204.1 343.8,204.1 343.2,204.1 342.7,204.1 342.1,204.1 341.6,204.1 341.1,204.1 340.5,204.1 339.9,204.1 339.4,204.3 338.9,204.6 338.3,204.9 337.8,205.2 337.2,205.5 336.6,205.8 336.1,206.1 335.6,206.4 335,206.7 334.4,207 333.9,207.3 333.4,207.6 332.8,208 332.2,208.3 331.7,208.6 331.1,208.5 330.6,208.1 330.1,207.7 329.5,207.2 328.9,206.8 328.4,206.3 327.9,205.9 327.3,205.5 326.8,205 326.2,204.6 325.6,204.1 325.1,204.1 324.6,204.1 324,204.1" fill="#4a1870"/>
<polygon points="312.3,217.9 313,217.9 313.8,217.9 314.5,217.9 315.3,217.9 316,217.9 316.8,217.9 317.5,217.9 318.3,217.9 319,217.9 319.8,217.6 320.5,217.4 321.2,217.1 322,216.9 322.7,216.6 323.5,216.4 324.2,216.1 325,215.9 325.7,215.7 326.5,215.4 327.2,215.2 327.9,214.9 328.7,214.7 329.4,214.4 330.2,214.2 330.9,213.9 331.7,213.7 332.4,213.4 333.2,213.2 333.9,212.9 334.6,213.3 335.4,213.7 336.1,214 336.9,214.4 337.6,214.8 338.4,215.2 339.1,215.5 339.9,215.9 340.6,216.3 341.4,216.6 342.1,217 342.8,217.4 343.6,217.8 344.3,217.9 345.1,217.9 345.8,217.9 346.6,217.9 347.3,217.9 348.1,217.9 348.8,217.9 349.6,217.9 350.3,217.9 351,217.9 351.8,217.9 352.5,217.9 353.3,217.9 354,217.9 354.8,217.9 355.5,217.9 356.3,217.9 357,217.9 357,219.9 356.3,219.9 355.5,219.9 354.8,219.9 354,219.9 353.3,219.9 352.5,219.9 351.8,219.9 351,219.9 350.3,219.9 349.6,219.9 348.8,219.9 348.1,219.9 347.3,219.9 346.6,219.9 345.8,219.9 345.1,219.9 344.3,219.9 343.6,220.1 342.8,220.4 342.1,220.8 341.4,221.2 340.6,221.6 339.9,221.9 339.1,222.3 338.4,222.7 337.6,223.1 336.9,223.4 336.1,223.8 335.4,224.2 334.6,224.5 333.9,224.9 333.2,224.7 332.4,224.4 331.7,224.2 330.9,223.9 330.2,223.7 329.4,223.4 328.7,223.2 327.9,222.9 327.2,222.7 326.5,222.4 325.7,222.2 325,221.9 324.2,221.7 323.5,221.4 322.7,221.2 322,220.9 321.2,220.7 320.5,220.5 319.8,220.2 319,220 318.3,219.9 317.5,219.9 316.8,219.9 316,219.9 315.3,219.9 314.5,219.9 313.8,219.9 313,219.9 312.3,219.9" fill="#521a74"/>
<polygon points="325.2,233.7 325.6,233.7 326.1,233.7 326.5,233.7 327,233.7 327.4,233.7 327.9,233.7 328.3,233.5 328.8,233.1 329.2,232.7 329.7,232.3 330.1,232 330.6,231.6 331,231.2 331.5,230.8 331.9,230.4 332.3,230 332.8,229.7 333.2,229.3 333.7,228.9 334.1,228.9 334.6,229.2 335,229.6 335.5,229.9 335.9,230.2 336.4,230.6 336.8,230.9 337.3,231.2 337.7,231.6 338.2,231.9 338.6,232.2 339,232.6 339.5,232.9 339.9,233.2 340.4,233.6 340.8,233.7 341.3,233.7 341.7,233.7 342.2,233.7 342.6,233.7 343.1,233.7 343.5,233.7 344,233.7 344.4,233.7 344.9,233.7 345.3,233.7 345.7,233.7 346.2,233.7 346.6,233.7 347.1,233.7 347.5,233.7 348,233.7 348.4,233.7 348.9,233.7 349.3,233.7 349.8,233.7 350.2,233.7 350.7,233.7 351.1,233.7 351.6,233.7 352,233.7 352,235.7 351.6,235.7 351.1,235.7 350.7,235.7 350.2,235.7 349.8,235.7 349.3,235.7 348.9,235.7 348.4,235.7 348,235.7 347.5,235.7 347.1,235.7 346.6,235.7 346.2,235.7 345.7,235.7 345.3,235.7 344.9,235.7 344.4,235.7 344,235.7 343.5,235.7 343.1,235.7 342.6,235.7 342.2,235.7 341.7,235.7 341.3,235.7 340.8,235.7 340.4,235.8 339.9,236.2 339.5,236.5 339,236.8 338.6,237.2 338.2,237.5 337.7,237.9 337.3,238.2 336.8,238.5 336.4,238.9 335.9,239.2 335.5,239.5 335,239.9 334.6,240.2 334.1,240.5 333.7,240.5 333.2,240.1 332.8,239.8 332.3,239.4 331.9,239 331.5,238.6 331,238.2 330.6,237.8 330.1,237.5 329.7,237.1 329.2,236.7 328.8,236.3 328.3,235.9 327.9,235.7 327.4,235.7 327,235.7 326.5,235.7 326.1,235.7 325.6,235.7 325.2,235.7" fill="#7a2474"/>
<polygon points="327.2,249.5 327.7,249.5 328.1,249.1 328.6,248.6 329.1,248.1 329.5,247.7 330,247.2 330.4,246.7 330.9,246.3 331.4,245.8 331.8,245.4 332.3,244.9 332.8,244.5 333.2,244.8 333.7,245.1 334.1,245.5 334.6,245.8 335.1,246.1 335.5,246.4 336,246.7 336.5,247 336.9,247.3 337.4,247.6 337.9,247.9 338.3,248.2 338.8,248.5 339.2,248.9 339.7,249.2 340.2,249.5 340.6,249.5 341.1,249.5 341.6,249.5 342,249.5 342.5,249.5 343,249.5 343.4,249.5 343.9,249.5 344.3,249.5 344.8,249.5 345.3,249.5 345.7,249.5 346.2,249.5 346.7,249.5 347.1,249.5 347.6,249.5 348.1,249.5 348.5,249.5 349,249.5 349.4,249.5 349.9,249.5 350.4,249.5 350.8,249.5 351.3,249.5 351.8,249.5 352.2,249.5 352.7,249.5 353.1,249.5 353.6,249.5 354.1,249.5 354.5,249.5 355,249.5 355,251.5 354.5,251.5 354.1,251.5 353.6,251.5 353.1,251.5 352.7,251.5 352.2,251.5 351.8,251.5 351.3,251.5 350.8,251.5 350.4,251.5 349.9,251.5 349.4,251.5 349,251.5 348.5,251.5 348.1,251.5 347.6,251.5 347.1,251.5 346.7,251.5 346.2,251.5 345.7,251.5 345.3,251.5 344.8,251.5 344.3,251.5 343.9,251.5 343.4,251.5 343,251.5 342.5,251.5 342,251.5 341.6,251.5 341.1,251.5 340.6,251.5 340.2,251.5 339.7,251.8 339.2,252.1 338.8,252.4 338.3,252.7 337.9,253.1 337.4,253.4 336.9,253.7 336.5,254 336,254.3 335.5,254.6 335.1,254.9 334.6,255.2 334.1,255.5 333.7,255.8 333.2,256.1 332.8,256.4 332.3,256.1 331.8,255.6 331.4,255.2 330.9,254.7 330.4,254.2 330,253.8 329.5,253.3 329.1,252.8 328.6,252.4 328.1,251.9 327.7,251.5 327.2,251.5" fill="#8a2870"/>
<path d="M330.7 30.3h0M325.5 23.5h0M323.8 34.8h0M318.6 29.8h0M310.1 28.4h0M332.4 27.4h0M320.4 25.3h0M324 29.8h0M323 32h0M341.1 29.3h0M315.6 31.9h0M325.8 24.4h0M312.6 31.1h0M330.2 26.1h0M329.4 26.5h0M328.3 35.1h0M328.7 25.8h0M321.5 30.9h0M324.8 24.7h0M314.6 31h0M318 29h0M325.6 33.8h0M313.9 30.8h0M323.3 27.3h0M330.4 31h0M328.1 26.3h0M308.7 28.7h0M316.5 32.9h0M321.9 28.6h0M322.1 28.5h0M311.2 28.4h0M328.7 27.8h0M317.2 31.7h0M331.2 33.9h0M323.2 27.2h0M328.8 35h0M320.8 31.2h0M310.1 29h0M320.8 30.5h0M325.1 33.6h0M321.3 28h0M312.1 28.2h0M328.4 31.4h0M329.4 28.5h0M327.4 32.2h0M328 32.9h0M322.9 26.6h0M316.9 28.1h0M311.4 28.2h0M315.6 28.4h0M322.3 31.7h0M326.5 33.7h0M318.5 30.7h0M332 28.7h0M320.8 30.1h0M329 23.3h0M327.8 29.4h0M317.9 26.4h0M327.9 26.6h0M325.5 34.6h0M329.7 27.2h0M318.1 33.2h0M320.5 29.6h0M317.6 28.1h0M326.8 32.5h0M331.1 25.6h0M328.9 28.6h0M325.4 29h0M333.1 31.1h0M321.5 26.2h0M318.1 33h0M327.3 35.8h0M329.7 34.8h0M311.7 28.5h0M331.9 30.9h0M313.4 30.3h0M328.3 35.2h0M328.7 36.1h0M323.5 33.1h0M323.7 30.6h0M324.3 26.8h0M328.4 22.6h0M327.4 28.2h0M332.8 29.8h0M328.5 30.6h0M323.9 31.9h0M332.1 28h0M329.7 26.7h0M313.5 29.6h0M320 29h0M317.3 26.3h0M318.2 28h0M301.9 44.9h0M336.4 47h0M311.6 48.1h0M302.7 45.2h0M304.1 45.2h0M337.3 47.9h0M346.2 41.7h0M345 42h0M306.8 43.3h0M306 43.2h0M303.9 46.1h0M307.4 44.2h0M304.4 45.2h0M325.7 46.5h0M341.5 50.5h0M342.3 47h0M304.9 46h0M327.5 49.7h0M344.2 40.8h0M370.2 46.9h0M299.2 45.9h0M306.8 43.4h0M325.6 64.2h0M313.2 62.3h0M450.5 61.5h0M331.7 79.4h0M331.8 79.6h0M325.6 72h0M325.7 72.8h0M332.8 77.1h0M325.8 81.8h0M327.7 77.8h0M328.7 72.8h0M327.9 81.9h0M353.8 77.7h0M323.4 77.2h0M327.4 73.6h0M324.1 76h0M327.3 80.9h0M332.4 78.1h0M324.6 76.3h0M329.7 79.6h0M332.3 76.9h0M327 72.4h0M324.5 77.3h0M323.4 77.7h0M330.3 78h0M328.1 77h0M326.3 73h0M329.2 81.2h0M323.8 78.2h0M327.2 82.3h0M322.6 78.4h0M324.3 76.6h0M327.3 73.7h0M330.3 76.5h0M325.8 71.9h0M329 75.4h0M331.3 80.4h0M329 73.9h0M327.9 81.4h0M325.9 81.2h0M326.2 73.4h0M324.4 77.3h0M324.8 74.6h0M322.6 79h0M325.8 74.6h0M325.1 79.4h0M326.9 78.1h0M359.5 91.4h0M341.7 93.7h0M343.1 93.9h0M351.4 93.2h0M320.5 90.2h0M358.6 93h0M324.8 89.4h0M349.2 93.9h0M348.5 94h0M349.6 93.8h0M354.7 92.2h0M344.7 91.8h0M343.2 93.8h0M343.3 93.9h0M356.4 92.2h0M344.4 93.6h0M359.2 91.8h0M344.7 92.2h0M359.4 93.9h0M342.2 92h0M341.2 92.8h0M358.7 93h0M352.5 91.7h0M366 92.3h0M375 92.3h0M380 92.2h0M333.8 111.6h0M325.5 108h0M321.6 109.6h0M320.3 106.1h0M319.6 109.4h0M315.7 109.5h0M328.7 107.5h0M335.7 107.8h0M339.7 108.5h0M333.4 108.3h0M327.8 112.5h0M333.8 108.4h0M331.4 105h0M331.8 104.5h0M322.4 109h0M332.8 106.6h0M354.1 109.2h0M331.1 108.8h0M314 108.4h0M331.4 110.6h0M322.2 107.7h0M324.6 106.9h0M336.3 108.2h0M328.1 113.5h0M325.3 111.3h0M328.9 112h0M314.2 108.5h0M335.5 111.2h0M329 108.5h0M323.5 109.1h0M326.5 112.9h0M323.3 106.9h0M321.3 111.7h0M328.4 110.9h0M329.4 112.2h0M323.3 104.6h0M335.5 111.2h0M321.8 109.9h0M323.5 106.8h0M322.9 108.2h0M320.6 108.8h0M338.8 106.9h0M325.7 111.1h0M314.1 108.4h0M328.5 109h0M322.3 108.5h0M323.6 104.6h0M317.7 108.4h0M326.3 102.9h0M327 107.9h0M334.2 105.2h0M321 111h0M354.2 107.1h0M337.5 110.5h0M342.2 109h0M331.4 113h0M326.7 110.2h0M358.7 108.5h0M329.2 105.7h0M328.6 104.9h0M334.1 106.2h0M330.3 107.9h0M328.6 107.7h0M329.1 102.5h0M330.2 112h0M356 107.9h0M329.1 113.1h0M320.7 111.5h0M323.1 112.6h0M325.6 105.8h0M327 110.5h0M318.6 106.6h0M326.4 113.8h0M341.9 108.2h0M338.6 109.1h0M328.6 104.6h0M346 109.1h0M317.6 107.1h0M335.3 105h0M327.2 107.5h0M342.3 108.7h0M340.9 109.5h0M336.3 107.8h0M346.7 109.1h0M330.2 114.3h0M327.3 113.5h0M326.6 114h0M353.5 108h0M324 104.2h0M316 108.3h0M331.3 107.2h0M315.1 108.2h0M355.6 108.9h0M318 108.7h0M325.7 106.5h0M321.4 106.8h0M329.3 105.7h0M342.2 109.2h0M324.2 111.8h0M323.6 108.9h0M321.4 111.4h0M356.2 107.4h0M325 113.5h0M334 110.5h0M329.7 109.8h0M314 108.5h0M357.2 123.8h0M335.5 122.3h0M333.3 123.8h0M332.6 127.1h0M330.3 122.9h0M347.7 124.7h0M367.2 124.9h0M330.3 124.1h0M350.4 125.3h0M364.9 124.3h0M331.9 124.3h0M332.8 127.7h0M332.8 125.5h0M351.4 123.5h0M366.1 123.5h0M351.9 124h0M343.6 123.5h0M355.4 124.4h0M330.8 128.8h0M363.3 124.9h0M347.4 124.3h0M330.8 127.5h0M331.8 121.2h0M348.9 123.4h0M331.1 122h0M338.1 125.6h0M352.8 123.9h0M332.7 127.6h0M328.9 125.4h0M355 125.2h0M343.3 124.8h0M324.6 124.4h0M356.7 124.2h0M332.2 127.2h0M338.1 141h0M344.3 139.8h0M328.6 139.3h0M340.8 139.2h0M332.2 135.1h0M336.6 138.8h0M329.2 143.2h0M333.6 135.7h0M333.3 144.2h0M329.3 137.3h0M332.6 137.7h0M332.7 142.9h0M332.8 145.8h0M329.2 140.7h0M351.3 140.4h0M337.7 141.3h0M329.6 141.7h0M335.4 143.1h0M330.9 142.5h0M328.8 139.1h0M333.6 138.4h0M334.5 141.7h0M336.3 137.7h0M332.4 153.2h0M329.2 159.2h0M331.8 158.8h0M335.5 158.6h0M321.6 155.1h0M327.4 152.5h0M313.1 155.8h0M332.2 161.1h0M325.3 153.6h0M325.1 155h0M321.5 156.9h0M331.4 150.8h0M331.2 161.7h0M329 152.9h0M332.3 153.4h0M318.6 155.1h0M330.8 158.3h0M315.5 156.3h0M334.5 159h0M330.7 157h0M320 154.9h0M324.3 156.1h0M328.1 155.8h0M327.4 154.8h0M331.2 156.4h0M316.9 155.4h0M322.4 155.9h0M334.2 157.4h0M325.1 156h0M332.1 161h0M328.5 159.1h0M333.9 155.7h0M314.8 156.4h0M324.8 157.2h0M330 152.2h0M330.9 161.1h0M336.3 155.1h0M333.9 158.4h0M326 155.2h0M321.3 155h0M328.9 154.8h0M313 155.9h0M318 155.5h0M324.1 170.5h0M337.4 170.5h0M313.4 171.2h0M343.4 172.2h0M316.3 170.8h0M323.6 173.5h0M324.6 172.6h0M327.1 171.3h0M332.5 168.7h0M338.5 173.6h0M330.3 172h0M338.1 171.8h0M325.5 172.6h0M327.2 171.9h0M330.5 174.1h0M331.2 167.1h0M336.6 171.7h0M334.1 173.5h0M327.4 168.1h0M332.3 172h0M339.7 173h0M333.2 172.8h0M337.3 174.3h0M340.1 171.8h0M335 176.3h0M333 175.6h0M332.5 169.6h0M335.4 169.5h0M333.9 176.5h0M335.8 174.9h0M336.8 172.4h0M335.9 169.6h0M346.4 172h0M334.7 174.8h0M325.6 171.4h0M332.1 166h0M327.6 171.1h0M329.6 173.3h0M328.9 168.7h0M332.4 175.2h0M329.1 173.9h0M335.3 167h0M321.4 170.7h0M328.3 168.5h0M326.6 173.5h0M326.8 171.8h0M336.4 168.3h0M330.7 171.5h0M334 167h0M333.6 168.1h0M326.6 172.5h0M330 172.6h0M330.9 173.6h0M346.5 170.9h0M332.5 173.1h0M336.3 173.1h0M329 174.7h0M343.2 171.4h0M335.9 175.1h0M329.2 174.9h0M313.4 171.7h0M328.7 170.1h0M324.8 171.2h0M329.2 167.8h0M345.6 170.8h0M328.9 167.5h0M327.7 168.1h0M333.4 169.6h0M337 173.9h0M331.8 170.7h0M326.7 174.3h0M338.1 172.2h0M337.5 172.1h0M332.7 166.2h0M322.7 170.7h0M326.6 170.2h0M330.4 171h0M337.3 168.3h0M328.8 175.5h0M319.2 170.8h0M334.3 176.7h0M328.4 172.1h0M326.8 172.1h0M331.7 170.1h0M377 171.6h0M380 171.2h0M327.4 184.8h0M326.3 189.3h0M345.3 187.6h0M343.7 188.3h0M333.3 183.8h0M329.1 190.3h0M337 185.8h0M319.4 186.3h0M320.6 187.6h0M332.5 191.4h0M328.1 187.4h0M335.8 189.8h0M345.9 186.4h0M314.9 187.9h0M330.3 182.9h0M327.6 184.2h0M335.2 189.8h0M330.1 189.2h0M317.1 187.7h0M326.8 185.4h0M332.8 187.3h0M328.6 183.1h0M334.8 187.5h0M315.8 187.1h0M338.7 186.5h0M316.7 186.3h0M352.7 187.2h0M336 188.1h0M335 185.1h0M331.2 188h0M340.1 186.2h0M326.8 188.6h0M334.4 184.7h0M345.4 186.4h0M331 191.6h0M320 187h0M331.2 190.6h0M333.4 191.7h0M333.1 191.5h0M336 190.3h0M327.1 189h0M311 187.1h0M314 187h0M317 187.4h0M420.8 187.4h0M436.4 187.3h0M355 203.4h0M345.3 203.8h0M332.4 208.3h0M344.4 203h0M343.8 202.2h0M332 200.4h0M332 205.1h0M335 203.2h0M354.7 203h0M342.8 202.9h0M332.3 202.1h0M337.1 203.9h0M329.3 206.1h0M329.8 205.7h0M340.4 202.3h0M337.6 201.5h0M355.1 203.1h0M346.4 203.9h0M355.1 202.9h0M351.8 204h0M328.8 205.8h0M346.9 203.7h0M331.1 201.1h0M340.2 203.3h0M333.8 203.4h0M334.8 204.9h0M331.1 206.4h0M329.1 202.9h0M355.7 203.2h0M331.4 203.4h0M329.4 203.8h0M325.9 204.3h0M341.3 202.6h0M335.6 202.4h0M335 203.7h0M328.7 200.3h0M338.5 204.1h0M351.1 204h0M333.4 205.7h0M346.5 204.1h0M347.2 204.2h0M339.6 203.9h0M346.2 203.4h0M334.9 205.1h0M333.6 207.4h0M324.4 202.1h0M344.3 202.6h0M349.5 203h0M349.1 203h0M330.1 198.9h0M334.8 206.6h0M332.1 208.8h0M330.2 208h0M328.2 201.7h0M332.5 205.6h0M329.8 199h0M327.8 205.3h0M334.3 203.8h0M355.5 203.8h0M336 204.3h0M329.4 204.7h0M331.3 197.6h0M334 203.8h0M356.1 202.5h0M339.6 203.2h0M347.1 203.6h0M337.7 204.5h0M386 203.4h0M398.4 202.8h0M356 219.8h0M325.2 222.3h0M324.5 218.9h0M332.4 217.5h0M346.2 219.6h0M336.2 220.3h0M328.3 215.5h0M331.9 215.5h0M331.5 213.9h0M324 218.6h0M334.1 219.3h0M336.6 218.1h0M329.8 217.1h0M335.1 222.5h0M340.3 222h0M329.8 217.5h0M324.2 216.7h0M336.6 222.8h0M337.4 219.5h0M324.4 218.2h0M335.1 214.9h0M331 213.4h0M327.7 219.6h0M330.6 215.9h0M328.6 223.3h0M328.2 223.1h0M341.2 217.8h0M340.1 220h0M325.1 220.5h0M334.6 219.4h0M328.6 220.8h0M328.3 220.9h0M334.6 219.9h0M339.5 215.5h0M346.3 218.2h0M324.6 220.7h0M328.4 215.1h0M328.9 222h0M329.9 222.5h0M335.6 216.7h0M335.1 213.8h0M330.5 214.2h0M342 220.4h0M335 221.3h0M343.4 219.1h0M335.2 213.9h0M325.7 222.2h0M346.7 218.3h0M336.5 223.1h0M329.7 219.1h0M329.7 220.8h0M337.8 219.5h0M354.1 219.6h0M334.9 217.6h0M336.1 222h0M343.4 220h0M352.5 218h0M335.1 221h0M333.2 223.3h0M337.1 218.2h0M328.5 222.1h0M329.2 219h0M338.7 215.4h0M333.7 219.4h0M330 223.1h0M315.7 219.8h0M329.4 223.4h0M335.9 217.8h0M333.3 213.1h0M341.1 218.6h0M332.7 213h0M342.7 220h0M326.7 217.7h0M331.7 224.7h0M338.8 217.4h0M344.6 219.7h0M336 215.6h0M333.6 216.7h0M337.8 219.3h0M328.7 223h0M329.4 220.5h0M336.8 217.7h0M327.1 216.3h0M342.8 219.2h0M338.7 219.2h0M326.7 216.1h0M328.1 218.3h0M325.2 216.7h0M324 218.9h0M331.3 213.2h0M354 218.6h0M334.8 213h0M342.8 220.6h0M342.5 235.8h0M345.7 234.8h0M349.5 234.3h0M331.9 234.6h0M343.4 235.3h0M348.4 235h0M345.9 235.2h0M335.7 239.4h0M335.1 237h0M333 234.2h0M333.3 237.1h0M341.6 233.8h0M351.4 235.2h0M348.3 235.1h0M340 235.4h0M337.4 233.3h0M332.9 233.6h0M333.4 231.2h0M327.4 250.7h0M333.7 251.7h0M334.1 245.5h0M336.2 246.7h0" stroke="#44166c" stroke-width="2.3" stroke-linecap="round"/>
<path d="M350.4 29h0M364.7 29.5h0M336.9 29.2h0M355.5 29.2h0M350.6 29.6h0M340 30.7h0M347.1 30.5h0M334.1 30.3h0M338.8 30.3h0M361.2 30.2h0M343 30h0M336.3 29.2h0M390 29.4h0M414 29.6h0M324.9 45.4h0M320.1 41.3h0M311 42.1h0M333.8 45.1h0M356.5 48.2h0M323.2 44.4h0M330.4 42h0M355.3 44.5h0M312.8 46h0M369.4 46.8h0M314 46h0M342.8 43h0M365.1 44.6h0M317.9 42.8h0M336.7 41.4h0M346.3 41.2h0M342.8 43.3h0M323.1 47.3h0M346 41.8h0M318.7 42h0M341.2 49.3h0M343.3 47.9h0M323.2 44.7h0M323.2 47.5h0M353.8 47.5h0M338.9 40.8h0M337.4 45.5h0M350.4 42.2h0M312.2 42.9h0M326.8 42.9h0M357.8 46.3h0M317.6 43.3h0M327.5 49.4h0M345.2 45.5h0M359.5 47.7h0M326.6 40.5h0M323.4 42.6h0M331.4 47.1h0M337.6 40.6h0M337.1 62.3h0M320.6 57.3h0M331.2 57.2h0M325.9 59.1h0M326.6 57.1h0M333.9 58.7h0M356.4 61h0M339 64.1h0M321 62.5h0M324.1 64.5h0M323.5 57.9h0M325.1 58.3h0M355.4 60.7h0M331.1 67h0M317 63.3h0M317.2 64.1h0M325.9 58.8h0M336.3 56.8h0M318.3 64.2h0M335.9 56.6h0M349.5 61.6h0M330.2 64h0M341.8 59.3h0M324 61.5h0M327.3 66h0M320.3 62h0M334.3 64.3h0M328.6 58.5h0M337.3 63.7h0M333.8 61.2h0M373 61.3h0M381 61.4h0M387 60.8h0M415.8 61.3h0M333.7 75.8h0M338.5 77.9h0M345.4 76.9h0M341.2 77h0M347.5 78h0M354.8 77.6h0M388 76.8h0M412 77.3h0M334.7 88.1h0M333.8 96.2h0M323.1 91.9h0M316.4 93.9h0M333.6 99.1h0M334.7 90.8h0M317.6 91.1h0M336.9 93.9h0M326.7 90h0M332.8 89h0M331 88.3h0M327.1 90.3h0M329.4 97.9h0M313.1 92.1h0M334.4 86.8h0M339 91.5h0M322.4 95.9h0M326.2 96.6h0M316.6 92.1h0M334.3 88.7h0M334.3 94.5h0M327.6 91.5h0M327.1 93h0M326.1 93.6h0M350.5 108.2h0M317.5 124.4h0M348.7 124.5h0M325.5 141h0M335.1 141.1h0M346.7 139.8h0M343.8 139.2h0M347.6 155.1h0M340.3 155.9h0M357.7 156.1h0M362.9 156.2h0M356.2 156.3h0M344.9 155.6h0M322.7 217.1h0M335.2 229.8h0M341.2 249.7h0M332.8 256.9h0M335.6 248.8h0M335.9 253.8h0M332.6 256.6h0M367.5 250.5h0" stroke="#de5f3a" stroke-width="2.3" stroke-linecap="round"/>
<path d="M376.3 30.6h0M344.4 29h0M347.1 29.8h0M335.3 29.1h0M362.7 29.2h0M375.3 30.4h0M356.9 28.3h0M357.2 30.7h0M333.9 31.9h0M370.1 29.5h0M350.4 28.8h0M372.1 30.1h0M347.1 28.6h0M346.8 30h0M352.7 29h0M353.3 28.7h0M357.2 29.1h0M361.3 29.3h0M352.7 30.7h0M355 29.4h0M334.3 31.2h0M342.8 30.8h0M380 29.1h0M383 29.1h0M386 29.1h0M393 29.5h0M421 29.7h0M363.5 44.7h0M325.1 43.8h0M332.5 43.7h0M336.4 41.5h0M324.8 47.7h0M313.8 46.1h0M329.5 50.1h0M329 40h0M302.4 46h0M314.9 44.8h0M353.8 42.9h0M336.5 46.3h0M338.4 47.4h0M320.9 43h0M349.6 44.8h0M322.9 47.1h0M314 42.2h0M335 40.8h0M325.8 43.9h0M352.4 48.6h0M320.7 41.3h0M373.5 45.6h0M317.3 47.7h0M356.2 42.4h0M352.3 48.1h0M327.6 44.6h0M349.6 48.5h0M365.9 43.4h0M310.4 44.2h0M319.9 48.8h0M373.7 44.5h0M337 39.6h0M347.8 47.8h0M348.4 42.6h0M310.9 47.8h0M331.8 41h0M326.5 40.1h0M348.4 43.3h0M325.4 47.2h0M332.2 48.6h0M314.5 46.2h0M351 49.3h0M337.4 45.8h0M344.6 41.3h0M338.4 49.4h0M322.7 49.5h0M347.3 45.1h0M324.4 50.3h0M350.3 45.4h0M359.9 43.9h0M309.7 46.9h0M336.4 48.3h0M343 42.4h0M330.3 41.7h0M328.9 39.8h0M318.2 48.7h0M348.1 41.5h0M327.9 49h0M324.3 46.8h0M337.9 48.5h0M353.3 41.9h0M348.8 43.9h0M323.3 42.3h0M358 44.8h0M322.9 41.1h0M322.1 41.8h0M343.6 43.3h0M339.1 48.6h0M354.1 43.6h0M319.6 44.9h0M334.1 41.6h0M345.4 45.3h0M313.6 47.3h0M340.7 41.5h0M366.8 43.9h0M315.9 47.9h0M332 48.3h0M322.2 43.6h0M330.5 48.6h0M341.8 45h0M326.7 45h0M358.4 45.8h0M319.7 46.9h0M321.1 44.5h0M372.8 45.6h0M325.7 42.7h0M332.1 49.9h0M334 44.6h0M320.2 48h0M317.7 43.5h0M321.9 48.3h0M328.9 57.5h0M312.8 59.2h0M320.8 56.8h0M332.3 63.5h0M338.5 59.4h0M329.9 60.7h0M333.2 56.8h0M321.1 57.7h0M313.6 61.7h0M332.6 65.2h0M350.8 61.8h0M333.8 60.6h0M337.3 59.2h0M342.5 60h0M326 59h0M326.5 62.1h0M359.8 61.6h0M334.4 56.7h0M352.6 60.4h0M323.4 59.7h0M333.3 61.6h0M337.4 63.7h0M320.1 63.7h0M313.2 62.8h0M331.7 63.5h0M338.1 61h0M337.2 57.3h0M358.5 61.5h0M319.1 59.8h0M321.2 59.8h0M313.8 61.9h0M318 64.2h0M321.8 63.5h0M329.7 56.7h0M330.3 57.5h0M347 62.6h0M328.1 60.5h0M351.5 60.5h0M323 64.2h0M337.2 56.9h0M323 56.5h0M360.9 60.3h0M325.2 61.5h0M335.5 59.3h0M326.4 57.4h0M330 67.6h0M313.2 59.6h0M330.2 65.6h0M315.4 58.4h0M358.7 60.6h0M322.2 62.1h0M334.1 60.6h0M344.4 59.6h0M335.2 56.3h0M341.4 58.9h0M400 60.9h0M343.9 76.9h0M347.4 76.4h0M343.5 77.8h0M347.9 77.4h0M347.2 77.7h0M346.8 77h0M340.3 76.3h0M337.8 77.6h0M344.3 77.5h0M334.4 76.1h0M343.6 77.9h0M333.6 78.7h0M358 76.4h0M363 76.5h0M370 77.3h0M329.3 87.7h0M325.5 91.7h0M328.8 87.7h0M337.3 91.1h0M329.7 92.3h0M339.6 92.8h0M332.3 90.6h0M336.2 90.6h0M333.9 95.1h0M340.5 95.7h0M323 94.9h0M325 88.5h0M335.7 96.1h0M324.5 95h0M335.7 87.1h0M337.5 95.5h0M335.6 95h0M331.5 95.9h0M319.7 93.7h0M334 92.1h0M327.6 93.8h0M325.8 89.2h0M329.2 95.8h0M330.9 89.6h0M332.1 94h0M328.3 88.6h0M327.3 92.4h0M329.9 89.4h0M333.1 98.5h0M322.7 92.7h0M324.6 95.1h0M340.1 91.5h0M323.2 91.5h0M318.5 92.6h0M331.9 93.5h0M349.4 108.5h0M329.3 113.7h0M357.1 108.6h0M342 108h0M339.8 107.6h0M343.9 109.7h0M369 108.8h0M336 121h0M322.9 123.8h0M317.1 124.6h0M343.4 124.2h0M328 126.1h0M332.6 128.2h0M329.5 120.6h0M329.6 127.1h0M366.1 123.7h0M364.8 123.1h0M350.7 124.2h0M326.7 125.9h0M372 124.1h0M333.9 123.4h0M332.4 123.3h0M337.5 124.9h0M317.5 123.5h0M353 138.9h0M327.7 139.6h0M361.3 140.1h0M324.5 139.5h0M364 139.8h0M334.4 143.6h0M350.6 140.7h0M347.8 139.9h0M346.7 139.2h0M345.8 140.6h0M361.5 140.4h0M332.6 140h0M342.4 140.9h0M379 140.3h0M348.8 156.2h0M350.4 155h0M336.7 155.5h0M333.6 157h0M342.1 156.8h0M324.2 169.8h0M312.7 187.2h0M339.2 187.9h0M310.8 187.3h0M331.1 186.7h0M334.6 183.9h0M325.9 188h0M341.1 186.8h0M328.5 187h0M334.7 186.8h0M340.1 187.2h0M332.9 199.2h0M319.9 220.3h0M320.1 218.1h0M321.7 220.4h0M327 234.6h0M337.1 235.7h0M346.5 234.6h0M335.9 233.3h0M333.3 236.1h0M329.6 236h0M337 234.7h0M364 234.7h0M387.8 234.4h0M333 256.7h0M335.4 252h0M333.3 254.4h0M330.5 250.6h0M333.5 251.1h0M353.7 251.5h0M331.9 245.9h0M331.6 249.1h0M327.9 250h0M333 244.1h0M329.6 248.2h0M330.3 247h0M331.9 254h0M338.6 248.4h0M337.2 247.6h0M336.3 250.6h0M329.6 248.3h0M336.4 247.9h0M333.6 245.5h0M344.1 250.5h0" stroke="#a52c68" stroke-width="2.3" stroke-linecap="round"/>
<path d="M354 29.6h0M358.7 30.2h0M357.9 28.4h0M360.6 29.5h0M368.9 29.2h0M404 29h0M320.8 42.8h0M354.1 46.9h0M335.6 46.4h0M353.9 48h0M367.2 46.2h0M356.9 47.4h0M357.8 47.2h0M343.8 49h0M326.2 40.2h0M343.5 40.2h0M322.6 41.7h0M340.7 46.2h0M321.1 47.2h0M352.1 42h0M352.4 41.7h0M341.2 40.9h0M328.2 39.8h0M331.7 44.9h0M371.6 44.9h0M311.5 46.4h0M333.8 59.1h0M330.6 62h0M330.3 67.1h0M349.3 60.4h0M339.2 61.3h0M327.5 63.2h0M344.3 63.4h0M339.7 63.6h0M324.2 59.4h0M335.7 64.1h0M318.7 58.3h0M328 62.4h0M315.7 59.7h0M337.6 61.2h0M316.3 58h0M348.7 60.6h0M331.5 57.2h0M334.2 63.5h0M319.2 64.1h0M322.8 65.1h0M397 60.6h0M405 60.9h0M351 77.3h0M339 75.8h0M338.5 77.9h0M342.5 76.4h0M320.5 93.4h0M317.5 91.5h0M321.8 90h0M338.1 93.5h0M318.9 93.6h0M331.2 98h0M313.5 92.5h0M336.2 96.9h0M401 108.7h0M360.5 139.2h0M339.4 141.1h0M338.4 140h0M350 140.8h0M348.3 140.9h0M342.6 156.4h0M347.1 155.4h0M344.2 155.7h0M344.4 155.2h0M342.2 156.7h0M358.3 155.6h0M355.7 156.4h0M362.7 155.6h0M346.9 155.9h0M346.9 155.9h0M346.6 250.1h0M346.2 250.8h0M339.4 251.7h0M349.2 250.6h0M352.9 250.2h0M375 250h0" stroke="#ec872e" stroke-width="2.3" stroke-linecap="round"/>
<path d="M327.1 23.6h0M334.6 31.1h0M329.2 25.1h0M321.7 27.6h0M321.4 30.5h0M317.6 31.4h0M316.1 27.3h0M330.8 27.2h0M320.8 31.6h0M311.2 30.7h0M330 30.5h0M327.9 31.7h0M313.6 31.9h0M318.7 33.4h0M317.4 25.9h0M329.9 33.1h0M326 31.6h0M316.5 26.3h0M326.4 24.4h0M317.6 30.1h0M330.3 31.1h0M333.6 30.9h0M367.9 29.3h0M343.8 29.1h0M330.3 33.5h0M322.7 27.2h0M316.5 30.2h0M315.4 32.1h0M367.6 28.6h0M327 36.2h0M318.8 25.4h0M330.3 29h0M297.7 44.8h0M334.2 48.8h0M353.9 45.4h0M343.6 42.6h0M362.4 43.8h0M304.6 44.6h0M307.6 42.8h0M353.6 44h0M321.9 47.5h0M333.6 50.2h0M327.6 49.1h0M304.4 44.4h0M359.6 48.2h0M367.8 44.9h0M335.1 42.2h0M296.8 44.1h0M356.9 45.8h0M306.4 43.4h0M324.3 40.2h0M330.4 45.3h0M348 40.8h0M322.5 42h0M300.6 46.3h0M324.5 49.2h0M321.9 46.1h0M324.6 42.6h0M330.1 41.4h0M297.9 44.3h0M296.5 45.8h0M318.9 44.5h0M320.6 47.6h0M306.4 45.3h0M335.3 47.5h0M323.5 46.6h0M336.3 50.1h0M379.2 44.2h0M302.6 45h0M304.9 45.2h0M321.8 48.4h0M347.2 42.4h0M328.7 41.6h0M341.9 43.8h0M319.9 47.8h0M307.3 46.6h0M355 43.2h0M340.7 49.8h0M355.4 45h0M319.2 42.7h0M378.7 45.5h0M359.6 48.1h0M317.6 61.5h0M314.5 60h0M343.1 63.1h0M326.1 64h0M320 57.8h0M319.2 60h0M330.3 62.5h0M325.4 62.6h0M307.7 61.6h0M340.3 60h0M315.7 60.3h0M330.3 61h0M337.9 58.3h0M337.2 63h0M347.5 60h0M324.6 78.6h0M328.1 82.6h0M328.1 80.2h0M327 71.4h0M331.1 78.5h0M330.9 73h0M332.3 75.9h0M331.3 79.1h0M322.5 76.9h0M322.3 78.5h0M331.5 76.2h0M333.5 74.6h0M348.8 77.8h0M330.5 76.8h0M326.8 78.2h0M324.3 73.8h0M328.4 79h0M326.1 73.7h0M326.6 89.3h0M312.3 91.8h0M328.1 87.7h0M328.6 91.4h0M355.6 93.2h0M359.6 93.4h0M347.8 92.7h0M330.3 97.4h0M348 92.2h0M353.1 93.3h0M342.9 94.4h0M348.3 93.1h0M357.7 92.6h0M358.4 92.5h0M337.7 93h0M330.2 90.7h0M358.9 91.7h0M324.4 95.5h0M344.1 91.6h0M327.6 96.8h0M341.6 92.1h0M329.5 110.6h0M356.2 108.3h0M314.5 107.1h0M333.2 112.1h0M327.4 113.3h0M320 111.1h0M344 108.8h0M324.8 111.1h0M320 110.7h0M357.8 107.6h0M340.8 107.4h0M319.6 106.6h0M342.9 109.3h0M350.9 107.9h0M330.6 103.8h0M334.6 111.1h0M331.8 105.7h0M342.6 108h0M346.1 123.8h0M370.2 123.3h0M329 120.5h0M334.7 127.5h0M330 123.5h0M336.8 125.7h0M330.4 128.1h0M313.3 123.5h0M340.3 123.8h0M352.8 123.9h0M368.8 125h0M328.4 121.1h0M363.4 124.1h0M312.4 123.9h0M338.8 124h0M336.1 126.1h0M353.2 124h0M331.8 121.7h0M336.7 125.4h0M330.9 125.6h0M327.7 124.4h0M335.8 124.6h0M332.6 124.4h0M315.5 123.7h0M330.8 124.4h0M372.8 123.9h0M363.7 125h0M333.4 127.9h0M361.9 124.8h0M332.1 122.5h0M367.5 124.4h0M335.2 126.5h0M349.4 124.2h0M366.9 124.6h0M330.2 127h0M328.3 122h0M337.4 125.8h0M372.6 124.2h0M331.9 118.3h0M321.1 140.5h0M329.8 138.5h0M322.3 141h0M332.9 143.4h0M353 140h0M329.4 140.4h0M333 140.4h0M333.3 135h0M327.5 140.6h0M337.7 137.7h0M334.5 143.8h0M329.8 139h0M331.1 138.8h0M327.6 140.2h0M334.1 140.2h0M332.8 143.8h0M335.9 139h0M330.4 135.8h0M330.3 138.7h0M321 139.9h0M337.8 141.2h0M335.9 140.3h0M321.6 139h0M342.2 140.2h0M344 141.1h0M329.5 158.8h0M331.9 155.2h0M329.9 158.1h0M326.5 157.5h0M313 155.4h0M331.4 151.6h0M333.6 159.3h0M324.1 156.9h0M328 159.7h0M324 154.7h0M331.1 154.5h0M336.4 154.3h0M321.8 156.3h0M330.2 159.4h0M321.9 156.6h0M319.8 156.4h0M318.5 155h0M332.5 154.2h0M328.4 153.9h0M325.1 155.2h0M322.9 171.7h0M348 170.7h0M345.4 171.6h0M342.6 171.5h0M331.6 168.2h0M312.9 170.8h0M311.6 170.6h0M337.5 174.5h0M329 174.5h0M342.2 170.6h0M336.1 171h0M325.3 172.9h0M329.9 170.9h0M329.3 169.9h0M318.1 171h0M318.2 170.4h0M325.2 172.1h0M333.4 165.8h0M335 172.3h0M332.7 176.9h0M324.3 186.6h0M315.8 186.6h0M336.2 186.5h0M352.7 188.1h0M333.7 189.7h0M333.8 186.5h0M324.4 187.6h0M330.1 190.5h0M327.9 184.5h0M345.6 186.9h0M327.1 187.2h0M331.8 189.8h0M333.3 188.3h0M332.3 186.6h0M326.4 187.8h0M336.2 190.1h0M341.3 187.5h0M326 189.3h0M311.4 186.7h0M334.3 191.4h0M331.4 186.2h0M332.4 182.6h0M329 183.9h0M331.3 187.2h0M343.8 186.3h0M342.6 186.5h0M334.4 190.8h0M332.4 185.4h0M332.6 184.5h0M335.5 187h0M318.1 186.5h0M318.7 186.8h0M311.9 187.5h0M334.8 186h0M333.8 198.5h0M329.3 199.5h0M330.8 203.3h0M337.1 204.2h0M330.3 204.1h0M331.7 207h0M335.6 199.8h0M331.9 200.1h0M330.2 203.2h0M332.8 202.5h0M337.8 202.1h0M333.9 203.4h0M330.3 204.9h0M334.2 206.9h0M337.5 223.5h0M351.1 218.4h0M324.3 217.3h0M356.4 219.7h0M327 222.2h0M352.6 219.2h0M329.8 223.1h0M331.7 216.3h0M324.2 218.8h0M334.9 223.6h0M333.7 222.5h0M332.3 214.1h0M329.8 216.2h0M347.9 219.8h0M333.4 220.8h0M344.6 218.8h0M337.3 221.8h0M316.5 218.6h0M325.2 221.3h0M314.6 220h0M329.1 216h0M335.4 219.8h0M333.6 212.9h0M334.5 216.2h0M334 216.7h0M345.8 234.1h0M331.9 233.3h0M340.6 235.7h0M337.8 231.8h0M339.2 233h0M331.8 231.8h0M335.3 233.1h0M337.5 233.1h0M336.8 237.5h0M335.1 232.6h0M334.2 233.5h0M337.1 238.2h0M333 234.6h0M341.8 235.3h0M350.7 233.8h0M334.8 235.9h0M337.8 231.3h0M337.1 233.9h0M351.7 235.2h0M343.1 234.4h0M333.4 230.4h0M334.9 237.8h0M340.1 235.1h0M337.3 235.4h0M344 234.6h0M334.3 233.1h0M338.9 236.1h0M335.1 238h0M360 234.3h0M332.8 253.6h0M336.4 248.6h0M330.2 250.4h0M336 247.6h0M332.7 245.1h0M333.2 252.6h0M334.3 251.6h0M337.4 252.3h0M334 251.5h0M328 249.7h0M330.7 253.9h0" stroke="#5d1a78" stroke-width="2.3" stroke-linecap="round"/>
<path d="M363.8 29.6h0M369.3 30.5h0M357.2 28.3h0M339.1 28.6h0M357.7 30h0M358.8 43.6h0M353.4 44.7h0M331.8 40.7h0M320.1 43.2h0M330.5 50h0M345.9 47h0M342.1 44.9h0M323 45h0M324.2 40.2h0M320.2 62.3h0M340.5 58.8h0M335.8 57.8h0M329.1 63h0M331.4 57.5h0M334.5 61.3h0M329.5 57.5h0M355.7 61.5h0M319.8 63.5h0M323.3 63.2h0M348.2 60.4h0M329.9 66.5h0M317.1 92.6h0M341.1 93.7h0M327.5 96.6h0M326.1 91h0M325.8 96.6h0M323.4 90.3h0M347.7 139.7h0M346.3 155.4h0M337.7 155.4h0M344 155.2h0M341.3 156.8h0M341.3 155.1h0M358.6 155.4h0M355.7 155.6h0M354.4 156.5h0M345.2 155.3h0M346 155.6h0M360.7 155.5h0M344.3 156.5h0M338 233h0M345.6 250.5h0M348.5 249.4h0M343.9 249.6h0M346.2 250.2h0M338.9 249.6h0M347 251.3h0" stroke="#f2b02e" stroke-width="2.3" stroke-linecap="round"/>
<path d="M333.8 30.1h0M376.7 28.3h0M342.8 30h0M367.9 30.6h0M337.4 29.4h0M376.6 29.3h0M343.9 29.5h0M351.2 29.8h0M353.2 28.5h0M370.6 28.6h0M352.9 29.5h0M345.2 30.6h0M348.2 29h0M340.8 28.8h0M372.9 28.6h0M356.3 29.4h0M370.3 29h0M357.1 28.3h0M401 29.4h0M411 29.2h0M428 29.1h0M338.8 44.2h0M379.2 44.9h0M311.7 45h0M319.1 46.7h0M368.9 45.8h0M322.2 40.7h0M327.3 41.7h0M322.2 49.4h0M337.2 41.7h0M333.2 45.9h0M329.7 46.1h0M337.2 50.5h0M333.6 40.3h0M324.1 47.5h0M318.7 48.5h0M345.9 41.6h0M323.5 41.1h0M363.3 43.8h0M335.4 49.8h0M319.7 43.9h0M339.3 49.4h0M341 45.3h0M334.3 44.8h0M331.6 43.4h0M331.8 49.8h0M321.6 44.4h0M331.6 48.9h0M336.2 49.1h0M326.8 46.2h0M328 46.8h0M324.8 49.1h0M339.1 41.5h0M327 45.7h0M328.9 51.3h0M328.4 49.1h0M333.6 40.7h0M324.6 47.3h0M326.3 48.2h0M347.4 40.7h0M356.1 47.3h0M330.1 42h0M333.3 41.9h0M326.3 46.9h0M313.2 48.1h0M334.4 43.8h0M342.3 49.6h0M340.5 42.4h0M339.7 46.7h0M323.9 42.6h0M349.7 44.9h0M341.4 50.2h0M315.3 44.4h0M363.8 43.6h0M340.2 44.2h0M375.3 45.5h0M365.7 46.1h0M329.7 43h0M314.7 44h0M376.2 46.1h0M333 39.5h0M332.4 48h0M323.6 44.1h0M349.9 49.1h0M315.8 47.2h0M314.5 48h0M361.8 42.6h0M326.4 42.3h0M322.3 48.9h0M350.2 43h0M350.7 60.4h0M317.2 61.7h0M317.1 58.6h0M323 60.7h0M361.6 60.6h0M323.2 60.9h0M356.3 61h0M324.9 56.4h0M354.2 60.1h0M327.9 55.5h0M331.7 59.6h0M324.9 60.9h0M317.5 61.8h0M334 61.3h0M320.9 59.4h0M357.6 61h0M361.1 60.4h0M327.6 60h0M342.4 62.4h0M327.4 59.6h0M327.4 66.3h0M322.4 64.3h0M325.6 64.4h0M333 63.2h0M356 60.6h0M336.7 58.1h0M356.8 60.1h0M321.4 57.2h0M331.9 62.3h0M352.3 60.8h0M310.5 62.2h0M322.7 64.8h0M330.7 66h0M322.3 63h0M332.4 65h0M330.3 64.2h0M320.3 59.9h0M321.6 62.7h0M348.2 60.3h0M344.7 61.1h0M330.7 57.4h0M330.6 65.2h0M323 65.3h0M366 61.6h0M370 60.8h0M376 60.8h0M384 61.1h0M354.9 77.9h0M337.3 77.1h0M338.3 76.1h0M339.4 76.4h0M376 76.7h0M380 76.8h0M392 76.6h0M400 77.3h0M326.5 92.6h0M325.9 92.2h0M331.6 92h0M335.5 91.4h0M323.6 95.7h0M319.2 93.5h0M338.7 95.6h0M333.2 96.4h0M325.9 93.9h0M318.2 94h0M323.1 93.8h0M318.4 93.9h0M329.4 91.7h0M331.6 87h0M325.4 88.4h0M330.3 98h0M336.9 88.4h0M340.2 89.7h0M325.2 89.3h0M318.6 94.6h0M340.1 91.4h0M338.1 94.4h0M323.7 92.7h0M317.3 92.3h0M323.9 90h0M338.7 88.8h0M337.6 109h0M354.9 107.7h0M389 108.9h0M326 123.1h0M350.3 124.3h0M316.9 124.4h0M341.5 124h0M312.9 125.1h0M351.6 139.8h0M338.4 142h0M319.7 139.4h0M362.5 140.1h0M339.3 141.2h0M361.8 140.5h0M353.9 140.6h0M338.5 139h0M358.8 139h0M318.1 140.9h0M343 140.4h0M372 140h0M364.5 155.8h0M356.4 156.6h0M343.7 154.8h0M339.7 156.5h0M354.9 156.2h0M356.6 155.3h0M353.1 156.6h0M339.7 156.2h0M362.7 155.8h0M332.5 182.6h0M316.2 219.8h0M333.1 236.8h0M325.2 235.2h0M338.6 237.1h0M331.6 230.9h0M329.3 236.5h0M326.4 233.8h0M331.1 238.2h0M354.1 250.4h0M340.1 250.6h0M331.8 252.5h0M332.6 244.2h0M339.6 251.7h0M338.1 250.6h0M343.6 251h0M333.8 255.1h0M335.5 252.4h0M334.2 252h0M349.5 250.2h0M333.5 256.6h0M335.9 251.1h0M329 250.6h0M350.5 250.7h0M372 250.7h0" stroke="#c8404e" stroke-width="2.3" stroke-linecap="round"/>
<path d="M362.7 30.5h0M332.8 27.9h0M342.2 29.3h0M333.8 27.7h0M342.4 28.9h0M354 29.9h0M355.6 29.2h0M362.8 30.7h0M357.1 28.2h0M375.6 29.5h0M338.8 29.4h0M398 29.7h0M417 29.1h0M327.7 49.5h0M332.3 43.9h0M317.3 42.6h0M329.1 40h0M314.9 45.6h0M334.2 44.2h0M338.6 47.1h0M362.4 44.6h0M310.2 46.9h0M334.2 42.1h0M345.4 43.3h0M310.7 44.9h0M331.3 43.2h0M337.1 40.4h0M339.1 44.2h0M329.3 40.9h0M350.6 47.6h0M340.2 41.8h0M338.6 43.4h0M356 45.6h0M368.2 46.3h0M335.3 49.6h0M324.1 40.7h0M308.2 44.5h0M320.3 42.3h0M305 43.2h0M366.6 45.3h0M314.3 46.4h0M299.5 45.2h0M343.4 48.5h0M353.7 48.2h0M305.9 44.7h0M318.8 45.4h0M377.1 45.3h0M373.3 44.4h0M350.6 49h0M319.1 45.2h0M323.5 44.4h0M340.2 40h0M325.1 41.6h0M337.3 45.9h0M374.2 45h0M339 44.3h0M348.1 44.8h0M308.3 43.8h0M376.4 44h0M323.9 42.8h0M331.8 46.1h0M368.1 45.2h0M341.8 45.9h0M338.5 44.3h0M331.6 45.1h0M320.7 43.5h0M375.2 44.9h0M328 46h0M343 40.3h0M343.1 44.9h0M376.7 44.5h0M347.2 44.6h0M364.3 43.8h0M348.7 41.2h0M340 44.3h0M348 49.1h0M337.4 64.3h0M313.9 60.2h0M325.8 61.1h0M324.5 59.6h0M338.3 61.4h0M345 62.3h0M326.2 61.1h0M321.6 57.8h0M352.4 61.7h0M325 57.4h0M333.7 64.4h0M358.3 60.7h0M353.8 60.1h0M338.4 58.4h0M314.8 63.2h0M326.7 58.9h0M328.1 64.6h0M325.8 60.5h0M312.4 59.3h0M324.1 60.5h0M339.3 64.8h0M349.7 60.8h0M336.7 58.3h0M320.2 62.7h0M307.9 62.1h0M321.1 57.7h0M341.9 62.7h0M339.1 60.1h0M325.3 61.4h0M330.6 54.9h0M354.2 76.8h0M343 77.8h0M334.9 77h0M350.8 76h0M343.6 77.8h0M325.4 79.4h0M341.8 76.5h0M338.5 93.2h0M337.1 93.3h0M326.3 90.8h0M337.4 88.3h0M330 97.1h0M317.8 92.1h0M340.6 90.1h0M329.2 97.4h0M355.4 92.5h0M330.6 91.1h0M330.5 88.2h0M321.1 94.2h0M338.1 96.1h0M327 91h0M318.3 93.5h0M331.4 92.7h0M333.3 87.9h0M320.4 91.1h0M333.6 86.7h0M338.2 94.9h0M323.3 94.2h0M332.1 98.8h0M336.6 93.1h0M370 92.3h0M348.6 108.6h0M342.7 107.8h0M354.6 107.5h0M341.3 108.8h0M332.3 108.7h0M345.3 109.7h0M360 107.2h0M359.8 107.7h0M338.9 109.8h0M316.2 108.7h0M337.9 108.6h0M354.3 107.8h0M344.9 109.4h0M343.7 107.9h0M333.4 105.4h0M342.1 109h0M381 108h0M332.6 119.5h0M325.6 124.4h0M333.1 126.2h0M358.2 124.3h0M349.6 123.4h0M329.3 122.9h0M331 124.1h0M321.1 124.6h0M329.8 123.5h0M327.1 122.4h0M311.9 124.5h0M314.5 124.4h0M331 125.1h0M330.9 126.9h0M344.7 124.7h0M364.2 123.3h0M332.2 126.6h0M330.6 128.7h0M361.6 124.9h0M337.5 124.6h0M332.6 126.8h0M333.7 125h0M331.8 121.9h0M318.5 123.6h0M356 123.4h0M316.9 124.9h0M338.4 137.7h0M320.4 139.7h0M332.5 136.6h0M352.7 139h0M329.8 139.9h0M331.5 142.5h0M325.5 140h0M334.3 143h0M365.3 138.9h0M333.9 139.7h0M328.5 140.3h0M339.9 141.1h0M339.9 140.7h0M315.7 140.3h0M344.2 140.9h0M360.1 140.4h0M336.4 140.8h0M338.8 141.9h0M347.8 139.2h0M334.8 136.7h0M318.6 139.6h0M331.4 140.2h0M337.2 136.9h0M350.9 141.1h0M330.7 143.5h0M327.1 141.4h0M336.4 143.2h0M328.7 141.3h0M315.5 139.2h0M362.1 139.7h0M330.6 150.2h0M331.8 161.1h0M330.8 155.3h0M324.8 155.3h0M334.4 155.9h0M330 154.4h0M326.8 152.8h0M337.8 155.8h0M314.5 154.9h0M329.5 151h0M332.5 152.8h0M319.8 156.1h0M331.4 157.3h0M339.4 172.8h0M338.1 171.9h0M327.7 174.7h0M336 171.2h0M342 171h0M339.1 173.2h0M313.6 172h0M328.7 191.1h0M342 187.7h0M339.3 186.2h0M330.8 189.9h0M320.5 187.5h0M345 186.5h0M331.5 184.4h0M337.1 186.7h0M339.6 188.3h0M329 191.4h0M334 189.1h0M341.5 188h0M311.5 187.4h0M320.1 188.4h0M313.3 186.7h0M343.7 186.8h0M333.6 185.2h0M342.2 187.3h0M331.5 206.8h0M332.8 204.4h0M330.2 205.6h0M331.7 198.5h0M332.1 219.3h0M313.4 219.8h0M349.8 218h0M322.5 217.6h0M332.5 213.6h0M335.9 223.6h0M355.3 219.1h0M340 217.3h0M343.6 218.5h0M327 215.1h0M330.3 214.1h0M312.3 219.5h0M333.1 224.1h0M327.3 218.1h0M332.8 221.6h0M333.7 219.2h0M333.7 220.9h0M351.7 219.5h0M338.1 222.2h0M327.6 235.2h0M337.4 233.8h0M330.7 234.4h0M338.1 237.5h0M330.9 236.2h0M327.2 234h0M335.4 231.9h0M326.4 234h0M331.8 234.5h0M333.9 229.1h0M335.9 230.8h0M334.6 229.3h0M328.9 232.8h0M333.9 233h0M333.4 246.1h0M332.2 246.9h0M332.2 252.4h0M329.3 251.2h0M328 251.8h0M328.8 248.4h0M339.3 250.8h0M329.8 252h0M334.3 254.4h0M335 254.2h0M334.8 250h0M347.4 250.2h0" stroke="#7f1f78" stroke-width="2.3" stroke-linecap="round"/>
<text x="284.3" y="31.6" text-anchor="end" fill="#1e1e1e">OLR1</text>
<line x1="286" y1="29.5" x2="288" y2="29.5" stroke="#333" stroke-width="0.8"/>
<text x="284.3" y="47.4" text-anchor="end" fill="#1e1e1e">FAP</text>
<line x1="286" y1="45.3" x2="288" y2="45.3" stroke="#333" stroke-width="0.8"/>
<text x="284.3" y="63.2" text-anchor="end" fill="#1e1e1e">THBS2</text>
<line x1="286" y1="61.1" x2="288" y2="61.1" stroke="#333" stroke-width="0.8"/>
<text x="284.3" y="79" text-anchor="end" fill="#1e1e1e">ASPN</text>
<line x1="286" y1="76.9" x2="288" y2="76.9" stroke="#333" stroke-width="0.8"/>
<text x="284.3" y="94.7" text-anchor="end" fill="#1e1e1e">BGN</text>
<line x1="286" y1="92.6" x2="288" y2="92.6" stroke="#333" stroke-width="0.8"/>
<text x="284.3" y="110.5" text-anchor="end" fill="#1e1e1e">COMP</text>
<line x1="286" y1="108.4" x2="288" y2="108.4" stroke="#333" stroke-width="0.8"/>
<text x="284.3" y="126.3" text-anchor="end" fill="#1e1e1e">MS4A14</text>
<line x1="286" y1="124.2" x2="288" y2="124.2" stroke="#333" stroke-width="0.8"/>
<text x="284.3" y="142.1" text-anchor="end" fill="#1e1e1e">ITGBL1</text>
<line x1="286" y1="140" x2="288" y2="140" stroke="#333" stroke-width="0.8"/>
<text x="284.3" y="157.9" text-anchor="end" fill="#1e1e1e">RCN3</text>
<line x1="286" y1="155.8" x2="288" y2="155.8" stroke="#333" stroke-width="0.8"/>
<text x="284.3" y="173.7" text-anchor="end" fill="#1e1e1e">SPP1</text>
<line x1="286" y1="171.6" x2="288" y2="171.6" stroke="#333" stroke-width="0.8"/>
<text x="284.3" y="189.4" text-anchor="end" fill="#1e1e1e">TREM2</text>
<line x1="286" y1="187.3" x2="288" y2="187.3" stroke="#333" stroke-width="0.8"/>
<text x="284.3" y="205.2" text-anchor="end" fill="#1e1e1e">CTHRC1</text>
<line x1="286" y1="203.1" x2="288" y2="203.1" stroke="#333" stroke-width="0.8"/>
<text x="284.3" y="221" text-anchor="end" fill="#1e1e1e">NOX4</text>
<line x1="286" y1="218.9" x2="288" y2="218.9" stroke="#333" stroke-width="0.8"/>
<text x="284.3" y="236.8" text-anchor="end" fill="#1e1e1e">MSR1</text>
<line x1="286" y1="234.7" x2="288" y2="234.7" stroke="#333" stroke-width="0.8"/>
<text x="284.3" y="252.6" text-anchor="end" fill="#1e1e1e">COL1A1</text>
<line x1="286" y1="250.5" x2="288" y2="250.5" stroke="#333" stroke-width="0.8"/>
<line x1="334.4" y1="260" x2="334.4" y2="262.5" stroke="#333" stroke-width="0.7"/>
<text x="337.4" y="267.9" text-anchor="middle" fill="#4d4d4d">0.0</text>
<line x1="381.5" y1="260" x2="381.5" y2="262.5" stroke="#333" stroke-width="0.7"/>
<text x="384.5" y="267.9" text-anchor="middle" fill="#4d4d4d">0.2</text>
<line x1="428.6" y1="260" x2="428.6" y2="262.5" stroke="#333" stroke-width="0.7"/>
<text x="431.6" y="267.9" text-anchor="middle" fill="#4d4d4d">0.4</text>
<text x="381.7" y="275.8" text-anchor="middle">SHAP value</text>
<text x="368" y="13.3" text-anchor="middle" font-weight="bold" fill="#000" font-size="10">GSE116918</text>
<defs><linearGradient id="cb" x1="0" y1="1" x2="0" y2="0"><stop offset="0" stop-color="#3b1466"/><stop offset="0.3" stop-color="#7d1f7a"/><stop offset="0.55" stop-color="#c23a55"/><stop offset="0.78" stop-color="#e6702f"/><stop offset="1" stop-color="#efbd32"/></linearGradient></defs>
<rect x="219.8" y="121.7" width="3.4" height="68" fill="url(#cb)"/>
<text x="226.7" y="124" fill="#222">High</text>
<text x="226.7" y="192.5" fill="#222">Low</text>
<text transform="translate(216.8 153.2) rotate(-90)" text-anchor="middle" fill="#222">Feature value</text>
<text x="592.8" y="13.4" text-anchor="middle" font-weight="bold" fill="#000" font-size="10">Frineds analysis</text>
<polygon points="574.8,28.3 574.8,25.9 577.9,25.6 581.1,25.3 584.2,25 587.3,24.6 590.4,24.4 593.6,24.2 596.7,24 599.8,24 602.9,24 606.1,24.1 609.2,24.3 612.3,24.6 615.4,24.9 618.6,25.2 621.7,25.6 624.8,25.9 628,26.1 631.1,26.4 634.2,26.6 637.3,26.8 640.5,26.9 643.6,27 646.7,27 649.8,27.1 653,27.1 656.1,27.1 659.2,27.2 662.3,27.2 665.5,27.2 668.6,27.2 668.6,28.3" fill="#b3d68c" fill-opacity="0.72"/>
<line x1="577.8" y1="28.9" x2="665.6" y2="28.9" stroke="#b3d68c" stroke-width="0.7"/>
<rect x="585" y="28.1" width="55" height="1.6" fill="#b3d68c" fill-opacity="0.6" stroke="#b3d68c" stroke-width="0.5"/>
<text x="520.6" y="34.4" text-anchor="end">MS4A14</text>
<line x1="524.3" y1="31.5" x2="528.6" y2="31.5" stroke="#222" stroke-width="0.8"/>
<polygon points="568.4,42.9 568.4,41.8 570.6,41.8 572.7,41.8 574.9,41.8 577.1,41.7 579.2,41.7 581.4,41.6 583.6,41.5 585.7,41.3 587.9,41.2 590.1,40.9 592.2,40.7 594.4,40.4 596.6,40.1 598.7,39.8 600.9,39.5 603.1,39.2 605.2,39 607.4,38.9 609.6,38.8 611.7,38.9 613.9,39 616.1,39.2 618.2,39.4 620.4,39.7 622.6,40 624.7,40.3 626.9,40.6 629.1,40.8 631.2,41.1 633.4,41.3 633.4,42.9" fill="#e07c7c" fill-opacity="0.72"/>
<line x1="571.4" y1="43.5" x2="630.4" y2="43.5" stroke="#e07c7c" stroke-width="0.7"/>
<rect x="575" y="42.7" width="50" height="1.6" fill="#e07c7c" fill-opacity="0.6" stroke="#e07c7c" stroke-width="0.5"/>
<text x="520.6" y="49" text-anchor="end">COMP</text>
<line x1="524.3" y1="46.1" x2="528.6" y2="46.1" stroke="#222" stroke-width="0.8"/>
<polygon points="568.4,57.6 568.4,54.7 570.6,54.3 572.9,54 575.1,53.6 577.4,53.3 579.6,53.1 581.8,52.9 584.1,52.9 586.3,53 588.6,53.1 590.8,53.3 593,53.6 595.3,54 597.5,54.4 599.8,54.7 602,55.1 604.2,55.4 606.5,55.6 608.7,55.9 611,56 613.2,56.2 615.4,56.3 617.7,56.4 619.9,56.4 622.2,56.4 624.4,56.5 626.6,56.5 628.9,56.5 631.1,56.5 633.4,56.5 635.6,56.5 635.6,57.6" fill="#6e5cc0" fill-opacity="0.72"/>
<line x1="571.4" y1="58.2" x2="632.6" y2="58.2" stroke="#6e5cc0" stroke-width="0.7"/>
<rect x="575" y="57.4" width="50" height="1.6" fill="#6e5cc0" fill-opacity="0.6" stroke="#6e5cc0" stroke-width="0.5"/>
<text x="520.6" y="63.7" text-anchor="end">SPP1</text>
<line x1="524.3" y1="60.8" x2="528.6" y2="60.8" stroke="#222" stroke-width="0.8"/>
<polygon points="564,72.3 564,71.1 566.3,71 568.6,71 570.9,70.9 573.3,70.7 575.6,70.6 577.9,70.4 580.2,70.2 582.5,69.9 584.8,69.6 587.1,69.4 589.4,69.1 591.8,68.8 594.1,68.6 596.4,68.5 598.7,68.4 601,68.4 603.3,68.4 605.6,68.6 608,68.8 610.3,69 612.6,69.3 614.9,69.6 617.2,69.9 619.5,70.1 621.8,70.4 624.1,70.6 626.5,70.7 628.8,70.8 631.1,70.9 633.4,71 633.4,72.3" fill="#8fd46a" fill-opacity="0.72"/>
<line x1="567" y1="72.9" x2="630.4" y2="72.9" stroke="#8fd46a" stroke-width="0.7"/>
<rect x="570" y="72.1" width="52" height="1.6" fill="#8fd46a" fill-opacity="0.6" stroke="#8fd46a" stroke-width="0.5"/>
<text x="520.6" y="78.4" text-anchor="end">COL1A1</text>
<line x1="524.3" y1="75.5" x2="528.6" y2="75.5" stroke="#222" stroke-width="0.8"/>
<polygon points="565.7,86.9 565.7,83.2 568.3,82.8 571,82.6 573.6,82.4 576.3,82.2 578.9,82.2 581.6,82.3 584.2,82.5 586.8,82.7 589.5,83.1 592.1,83.4 594.8,83.8 597.4,84.1 600.1,84.5 602.7,84.8 605.4,85 608,85.2 610.6,85.4 613.3,85.5 615.9,85.6 618.6,85.7 621.2,85.7 623.9,85.8 626.5,85.8 629.1,85.8 631.8,85.8 634.4,85.8 637.1,85.8 639.7,85.8 642.4,85.8 645,85.8 645,86.9" fill="#c9d852" fill-opacity="0.72"/>
<line x1="568.7" y1="87.5" x2="642" y2="87.5" stroke="#c9d852" stroke-width="0.7"/>
<rect x="570" y="86.7" width="55" height="1.6" fill="#c9d852" fill-opacity="0.6" stroke="#c9d852" stroke-width="0.5"/>
<text x="520.6" y="93" text-anchor="end">INHBA</text>
<line x1="524.3" y1="90.1" x2="528.6" y2="90.1" stroke="#222" stroke-width="0.8"/>
<polygon points="538.6,101.6 538.6,100.2 541.7,100.1 544.8,100 547.9,99.8 551,99.6 554,99.4 557.1,99.1 560.2,98.8 563.3,98.5 566.4,98.2 569.5,97.9 572.6,97.7 575.7,97.6 578.8,97.5 581.9,97.5 585,97.6 588,97.8 591.1,98 594.2,98.3 597.3,98.6 600.4,98.9 603.5,99.2 606.6,99.4 609.7,99.7 612.8,99.9 615.8,100 618.9,100.2 622,100.3 625.1,100.3 628.2,100.4 631.3,100.4 631.3,101.6" fill="#d6dcc6" fill-opacity="0.72"/>
<line x1="541.6" y1="102.2" x2="628.3" y2="102.2" stroke="#d6dcc6" stroke-width="0.7"/>
<rect x="560" y="101.4" width="55" height="1.6" fill="#d6dcc6" fill-opacity="0.6" stroke="#d6dcc6" stroke-width="0.5"/>
<text x="520.6" y="107.7" text-anchor="end">ITGBL1</text>
<line x1="524.3" y1="104.8" x2="528.6" y2="104.8" stroke="#222" stroke-width="0.8"/>
<polygon points="559.9,116.2 559.9,115.1 561.8,115.1 563.7,115.1 565.5,115.1 567.4,115.1 569.3,115.1 571.2,115 573.1,115 575,114.9 576.9,114.7 578.7,114.6 580.6,114.4 582.5,114.1 584.4,113.9 586.3,113.5 588.1,113.2 590,112.9 591.9,112.5 593.8,112.2 595.7,112 597.6,111.8 599.4,111.7 601.3,111.8 603.2,111.9 605.1,112.1 607,112.3 608.9,112.7 610.8,113 612.6,113.3 614.5,113.7 616.4,114 616.4,116.2" fill="#2e2e2e" fill-opacity="0.72"/>
<line x1="562.9" y1="116.8" x2="613.4" y2="116.8" stroke="#222" stroke-width="0.7"/>
<rect x="560" y="116" width="50" height="1.6" fill="#777" fill-opacity="0.6" stroke="#222" stroke-width="0.5"/>
<circle cx="585" cy="116.8" r="0.9" fill="#000"/>
<text x="520.6" y="122.3" text-anchor="end">BGN</text>
<line x1="524.3" y1="119.4" x2="528.6" y2="119.4" stroke="#222" stroke-width="0.8"/>
<polygon points="538.6,130.9 538.6,129.8 540.7,129.8 542.7,129.8 544.8,129.8 546.8,129.8 548.9,129.8 551,129.8 553,129.8 555.1,129.8 557.1,129.7 559.2,129.7 561.3,129.6 563.3,129.6 565.4,129.4 567.4,129.3 569.5,129.1 571.6,128.9 573.6,128.6 575.7,128.2 577.7,127.9 579.8,127.5 581.9,127.1 583.9,126.7 586,126.4 588,126.2 590.1,126 592.2,126 594.2,126.1 596.3,126.2 598.3,126.5 600.4,126.8 600.4,130.9" fill="#2e2e2e" fill-opacity="0.72"/>
<line x1="541.6" y1="131.5" x2="597.4" y2="131.5" stroke="#222" stroke-width="0.7"/>
<rect x="568" y="130.7" width="28" height="1.6" fill="#777" fill-opacity="0.6" stroke="#222" stroke-width="0.5"/>
<circle cx="585" cy="131.5" r="0.9" fill="#000"/>
<text x="520.6" y="137" text-anchor="end">OLR1</text>
<line x1="524.3" y1="134.1" x2="528.6" y2="134.1" stroke="#222" stroke-width="0.8"/>
<polygon points="547,145.6 547,143 551,142.7 555,142.3 559,142 563.1,141.7 567.1,141.4 571.1,141.2 575.1,141.1 579.1,141.1 583.1,141.1 587.2,141.3 591.2,141.5 595.2,141.8 599.2,142.2 603.2,142.5 607.2,142.9 611.3,143.2 615.3,143.5 619.3,143.7 623.3,143.9 627.3,144.1 631.4,144.2 635.4,144.3 639.4,144.3 643.4,144.4 647.4,144.4 651.4,144.4 655.5,144.4 659.5,144.5 663.5,144.5 667.5,144.5 667.5,145.6" fill="#c4cac6" fill-opacity="0.72"/>
<line x1="550" y1="146.2" x2="664.5" y2="146.2" stroke="#222" stroke-width="0.7"/>
<rect x="558.8" y="145.4" width="28.8" height="1.6" fill="#777" fill-opacity="0.6" stroke="#222" stroke-width="0.5"/>
<circle cx="579" cy="146.2" r="0.9" fill="#000"/>
<text x="520.6" y="151.7" text-anchor="end">TREM2</text>
<line x1="524.3" y1="148.8" x2="528.6" y2="148.8" stroke="#222" stroke-width="0.8"/>
<polygon points="553.5,160.2 553.5,159.1 555.2,159.1 556.9,159.1 558.6,159.1 560.3,159.1 562,159 563.7,159 565.4,158.9 567.2,158.9 568.9,158.8 570.6,158.6 572.3,158.4 574,158.2 575.7,157.9 577.4,157.6 579.1,157.3 580.8,157 582.5,156.7 584.2,156.4 585.9,156.2 587.6,156 589.3,155.9 591,155.9 592.8,156 594.5,156.2 596.2,156.5 597.9,156.8 599.6,157.1 601.3,157.4 603,157.7 604.7,158 604.7,160.2" fill="#a62e40" fill-opacity="0.72"/>
<line x1="556.5" y1="160.8" x2="601.7" y2="160.8" stroke="#222" stroke-width="0.7"/>
<rect x="561" y="160" width="32" height="1.6" fill="#777" fill-opacity="0.6" stroke="#222" stroke-width="0.5"/>
<circle cx="583" cy="160.8" r="0.9" fill="#000"/>
<text x="520.6" y="166.3" text-anchor="end">CTHRC1</text>
<line x1="524.3" y1="163.4" x2="528.6" y2="163.4" stroke="#222" stroke-width="0.8"/>
<polygon points="535.4,174.9 535.4,173.2 538.7,173 541.9,172.7 545.2,172.4 548.5,172.1 551.7,171.8 555,171.4 558.3,171.1 561.5,170.8 564.8,170.6 568.1,170.4 571.3,170.4 574.6,170.4 577.9,170.6 581.1,170.8 584.4,171 587.7,171.4 590.9,171.7 594.2,172.1 597.5,172.4 600.7,172.7 604,172.9 607.3,173.2 610.5,173.3 613.8,173.5 617.1,173.6 620.3,173.6 623.6,173.7 626.9,173.7 630.1,173.7 633.4,173.8 633.4,174.9" fill="#e9a88e" fill-opacity="0.72"/>
<line x1="538.4" y1="175.5" x2="630.4" y2="175.5" stroke="#222" stroke-width="0.7"/>
<rect x="566" y="174.7" width="19.5" height="1.6" fill="#777" fill-opacity="0.6" stroke="#222" stroke-width="0.5"/>
<circle cx="577" cy="175.5" r="0.9" fill="#000"/>
<text x="520.6" y="181" text-anchor="end">FAP</text>
<line x1="524.3" y1="178.1" x2="528.6" y2="178.1" stroke="#222" stroke-width="0.8"/>
<polygon points="547,189.5 547,188.4 548.9,188.4 550.8,188.4 552.8,188.4 554.7,188.4 556.6,188.4 558.5,188.4 560.5,188.3 562.4,188.3 564.3,188.2 566.2,188.1 568.2,188 570.1,187.8 572,187.6 573.9,187.3 575.9,187 577.8,186.7 579.7,186.4 581.6,186.1 583.5,185.9 585.5,185.7 587.4,185.5 589.3,185.4 591.2,185.5 593.2,185.6 595.1,185.7 597,186 598.9,186.2 600.9,186.5 602.8,186.8 604.7,187.1 604.7,189.5" fill="#9460b8" fill-opacity="0.72"/>
<line x1="550" y1="190.1" x2="601.7" y2="190.1" stroke="#222" stroke-width="0.7"/>
<rect x="560" y="189.3" width="37" height="1.6" fill="#777" fill-opacity="0.6" stroke="#222" stroke-width="0.5"/>
<circle cx="582" cy="190.1" r="0.9" fill="#000"/>
<text x="520.6" y="195.6" text-anchor="end">THBS2</text>
<line x1="524.3" y1="192.7" x2="528.6" y2="192.7" stroke="#222" stroke-width="0.8"/>
<polygon points="535.4,204.2 535.4,202.8 538.2,202.7 541,202.6 543.8,202.4 546.6,202.1 549.4,201.9 552.2,201.5 555,201.2 557.9,200.8 560.7,200.5 563.5,200.1 566.3,199.8 569.1,199.6 571.9,199.5 574.7,199.5 577.5,199.6 580.3,199.8 583.1,200 585.9,200.3 588.7,200.7 591.5,201.1 594.3,201.4 597.1,201.7 600,202 602.8,202.3 605.6,202.5 608.4,202.7 611.2,202.8 614,202.9 616.8,203 619.6,203 619.6,204.2" fill="#3fa7b8" fill-opacity="0.72"/>
<line x1="538.4" y1="204.8" x2="616.6" y2="204.8" stroke="#222" stroke-width="0.7"/>
<rect x="565" y="204" width="17" height="1.6" fill="#777" fill-opacity="0.6" stroke="#222" stroke-width="0.5"/>
<circle cx="574" cy="204.8" r="0.9" fill="#000"/>
<text x="520.6" y="210.3" text-anchor="end">NOX4</text>
<line x1="524.3" y1="207.4" x2="528.6" y2="207.4" stroke="#222" stroke-width="0.8"/>
<polygon points="541.4,218.9 541.4,217 543.7,216.7 546,216.4 548.3,215.9 550.5,215.4 552.8,214.9 555.1,214.3 557.4,213.8 559.7,213.3 562,212.8 564.3,212.5 566.6,212.3 568.8,212.3 571.1,212.4 573.4,212.6 575.7,213 578,213.5 580.3,214 582.6,214.6 584.8,215.1 587.1,215.6 589.4,216.1 591.7,216.5 594,216.8 596.3,217.1 598.6,217.3 600.9,217.4 603.1,217.6 605.4,217.6 607.7,217.7 610,217.7 610,218.9" fill="#55c455" fill-opacity="0.72"/>
<line x1="544.4" y1="219.5" x2="607" y2="219.5" stroke="#222" stroke-width="0.7"/>
<rect x="563" y="218.7" width="9" height="1.6" fill="#777" fill-opacity="0.6" stroke="#222" stroke-width="0.5"/>
<circle cx="567" cy="219.5" r="0.9" fill="#000"/>
<text x="520.6" y="225" text-anchor="end">MSR1</text>
<line x1="524.3" y1="222.1" x2="528.6" y2="222.1" stroke="#222" stroke-width="0.8"/>
<polygon points="535,233.5 535,232.3 537.4,232.2 539.7,232.2 542.1,232.1 544.4,231.9 546.8,231.8 549.1,231.6 551.5,231.3 553.9,231.1 556.2,230.8 558.6,230.6 560.9,230.3 563.3,230.1 565.6,229.9 568,229.8 570.4,229.8 572.7,229.9 575.1,230 577.4,230.2 579.8,230.4 582.1,230.6 584.5,230.9 586.8,231.2 589.2,231.4 591.6,231.6 593.9,231.8 596.3,232 598.6,232.1 601,232.2 603.3,232.3 605.7,232.3 605.7,233.5" fill="#e03434" fill-opacity="0.72"/>
<line x1="538" y1="234.1" x2="602.7" y2="234.1" stroke="#222" stroke-width="0.7"/>
<rect x="545" y="233.3" width="45.8" height="1.6" fill="#777" fill-opacity="0.6" stroke="#222" stroke-width="0.5"/>
<circle cx="570" cy="234.1" r="0.9" fill="#000"/>
<text x="520.6" y="239.6" text-anchor="end">ASPN</text>
<line x1="524.3" y1="236.7" x2="528.6" y2="236.7" stroke="#222" stroke-width="0.8"/>
<polygon points="540,248.2 540,246.7 541.7,246.6 543.4,246.4 545.1,246.2 546.8,245.9 548.5,245.5 550.2,245.2 551.9,244.8 553.5,244.4 555.2,244 556.9,243.7 558.6,243.5 560.3,243.3 562,243.3 563.7,243.3 565.4,243.5 567.1,243.7 568.8,244.1 570.5,244.4 572.2,244.8 573.9,245.2 575.6,245.5 577.3,245.9 578.9,246.2 580.6,246.4 582.3,246.6 584,246.7 585.7,246.8 587.4,246.9 589.1,247 590.8,247 590.8,248.2" fill="#2f5f9f" fill-opacity="0.72"/>
<line x1="543" y1="248.8" x2="587.8" y2="248.8" stroke="#222" stroke-width="0.7"/>
<rect x="553" y="248" width="22" height="1.6" fill="#777" fill-opacity="0.6" stroke="#222" stroke-width="0.5"/>
<circle cx="565" cy="248.8" r="0.9" fill="#000"/>
<text x="520.6" y="254.3" text-anchor="end">RCN3</text>
<line x1="524.3" y1="251.4" x2="528.6" y2="251.4" stroke="#222" stroke-width="0.8"/>
<path d="M575.8 31.7h0M667.6 32.5h0M628.1 30.5h0M609 32.4h0M667.1 33h0M646.1 33.1h0M666.8 33.3h0M666.1 30.7h0M628.2 33.6h0M628.4 31.6h0M580.1 33.6h0M642.9 31.8h0M656.5 31.8h0M619.7 32.8h0" stroke="#b3d68c" stroke-width="3.4" stroke-linecap="round" stroke-opacity="0.75"/>
<path d="M569.4 45h0M632.4 45.2h0M600.1 46.1h0M618.3 48.2h0M571.6 47.4h0M624.3 45.9h0M599.3 47.1h0M631.1 47.2h0M598.2 47.5h0M572 45.6h0M586.2 46.2h0M585.9 47.7h0M614.4 48.1h0M582.1 45.4h0" stroke="#e07c7c" stroke-width="3.4" stroke-linecap="round" stroke-opacity="0.75"/>
<path d="M569.4 62.9h0M634.6 63h0M589.9 60h0M605 61.6h0M591 63h0M609.9 62.1h0M616.7 61.1h0M577.3 59.9h0M573.6 61.2h0M631.2 59.6h0M605.4 61.6h0M601.8 61.6h0M576.7 61.4h0M569.7 62.1h0" stroke="#6e5cc0" stroke-width="3.4" stroke-linecap="round" stroke-opacity="0.75"/>
<path d="M565 75.3h0M632.4 76.2h0M594.3 76.8h0M604.1 75h0M575.8 76.4h0M603.1 76.5h0M618.8 77.3h0M597 75.1h0M585.8 77.6h0M569.4 77.4h0M598.7 75.9h0M599.4 75.7h0M606.2 75.6h0M581.9 74.9h0" stroke="#8fd46a" stroke-width="3.4" stroke-linecap="round" stroke-opacity="0.75"/>
<path d="M566.7 90.1h0M644 91.7h0M603.4 89.3h0M619.7 91.8h0M576.9 90.7h0M619.4 89h0M630.3 89.8h0M595.1 92.2h0M577.2 90.1h0M640.4 89.6h0M607.2 91.5h0M629.4 89.8h0M573.8 90.7h0M575.1 89.9h0" stroke="#c9d852" stroke-width="3.4" stroke-linecap="round" stroke-opacity="0.75"/>
<path d="M539.6 105.5h0M630.3 104.1h0M610.2 106.8h0M556.1 106.3h0M612.8 104.7h0M563.5 105.8h0M541.1 104.3h0M546.1 107h0M566.1 106.1h0M570.5 104.1h0M596.4 105.4h0M541.2 104.9h0M608.8 105.3h0M593.2 104.1h0" stroke="#d6dcc6" stroke-width="3.4" stroke-linecap="round" stroke-opacity="0.75"/>
<path d="M560.9 121.2h0M615.4 120.8h0M578 119.4h0M606.7 119.1h0M615.1 118.7h0M576.3 120.5h0M592.5 121.2h0M567.2 120.8h0M606.8 119.3h0M571.3 118.9h0M571.1 120.9h0M587.8 121h0M561.5 120.3h0M565.9 120h0M539.6 133.2h0M599.4 135.9h0M590.6 135.8h0M567.5 135.2h0M559.9 134h0M585.8 133.8h0M586.8 133.6h0M565.6 133.9h0M551 135h0M544.6 133.3h0M589.2 133.2h0M586.9 136.1h0M551.4 136.2h0M592.7 135.5h0" stroke="#2e2e2e" stroke-width="3.4" stroke-linecap="round" stroke-opacity="0.75"/>
<path d="M548 147.8h0M666.5 148.7h0M665.1 150.2h0M625.2 150.3h0M568.3 150.5h0M606.1 149h0M664.8 151.1h0M573.9 149.3h0M607.2 149.5h0M612.4 149.3h0M643.3 149.8h0M572.4 149.4h0M665.9 147.6h0M611.4 148.7h0" stroke="#c4cac6" stroke-width="3.4" stroke-linecap="round" stroke-opacity="0.75"/>
<path d="M554.5 162.4h0M603.7 164.1h0M599.4 165.4h0M576.9 163h0M596.1 163.1h0M586.4 163h0M597.8 163.2h0M571.2 164.6h0M596.7 163.5h0M580.2 165.6h0M585.6 164.1h0M596.6 163.9h0M595.5 163.6h0M598 163.5h0" stroke="#a62e40" stroke-width="3.4" stroke-linecap="round" stroke-opacity="0.75"/>
<path d="M536.4 180.4h0M632.4 179.9h0M564.4 177.5h0M612.8 177.3h0M591.6 177.5h0M586.4 179.4h0M540.5 178.1h0M561 179.8h0M604.8 177.8h0M597.8 177.1h0M541.8 179.4h0M583.4 178.2h0M560.3 179h0M624.9 177.8h0" stroke="#e9a88e" stroke-width="3.4" stroke-linecap="round" stroke-opacity="0.75"/>
<path d="M548 191.9h0M603.7 193.8h0M552.3 192.3h0M551.4 191.8h0M589.6 192.2h0M599.2 192.6h0M567.3 194.1h0M589.2 192h0M576.3 192.1h0M590.4 192.1h0M600.6 194.1h0M566 194.4h0M552.1 192.8h0M602.6 191.7h0" stroke="#9460b8" stroke-width="3.4" stroke-linecap="round" stroke-opacity="0.75"/>
<path d="M536.4 208.8h0M618.6 207.3h0M569.7 209.1h0M592.2 209h0M597.5 209.7h0M565.7 207.9h0M589.7 207h0M540.8 209.5h0M616.9 207.2h0M556.8 209.1h0M544.5 206.8h0M554.9 207.4h0M538.9 206.8h0M586.8 207.2h0" stroke="#3fa7b8" stroke-width="3.4" stroke-linecap="round" stroke-opacity="0.75"/>
<path d="M542.4 221.2h0M609 221.5h0M599.3 222.6h0M581.1 224.4h0M582.6 221.5h0M571.5 223.1h0M591.7 222.1h0M543.1 222.2h0M582.7 221.1h0M562.9 221.6h0M572 224.2h0M546.2 221.9h0M543.3 224.3h0M551.6 221.9h0" stroke="#55c455" stroke-width="3.4" stroke-linecap="round" stroke-opacity="0.75"/>
<path d="M536 238.5h0M604.7 238.2h0M576.9 238.4h0M539.4 237.8h0M565.9 239h0M541.9 238.2h0M569 237.8h0M546.5 237.9h0M558 238.3h0M602.6 237h0M575 236.2h0M588.6 237.6h0M546.7 236.9h0M541.2 236.6h0" stroke="#e03434" stroke-width="3.4" stroke-linecap="round" stroke-opacity="0.75"/>
<path d="M541 250.2h0M589.8 253.7h0M554.8 251.8h0M546.9 250.3h0M547.3 253.7h0M557.6 252.8h0M555.1 253h0M555 253.7h0M570.3 251.2h0M554 250.6h0M553.1 252.6h0M585.8 252.4h0M586.2 251h0M571.1 252.4h0" stroke="#2f5f9f" stroke-width="3.4" stroke-linecap="round" stroke-opacity="0.75"/>
<rect x="528.6" y="20" width="146.0" height="242.39999999999998" fill="none" stroke="#222" stroke-width="0.9"/>
<line x1="539.8" y1="262.4" x2="539.8" y2="265.2" stroke="#222" stroke-width="0.8"/>
<text x="539.8" y="274.3" text-anchor="middle" fill="#222" font-size="9.2">0.3</text>
<line x1="564.4" y1="262.4" x2="564.4" y2="265.2" stroke="#222" stroke-width="0.8"/>
<text x="564.4" y="274.3" text-anchor="middle" fill="#222" font-size="9.2">0.4</text>
<line x1="589" y1="262.4" x2="589" y2="265.2" stroke="#222" stroke-width="0.8"/>
<text x="589" y="274.3" text-anchor="middle" fill="#222" font-size="9.2">0.5</text>
<line x1="613.6" y1="262.4" x2="613.6" y2="265.2" stroke="#222" stroke-width="0.8"/>
<text x="613.6" y="274.3" text-anchor="middle" fill="#222" font-size="9.2">0.6</text>
<line x1="638.2" y1="262.4" x2="638.2" y2="265.2" stroke="#222" stroke-width="0.8"/>
<text x="638.2" y="274.3" text-anchor="middle" fill="#222" font-size="9.2">0.7</text>
<line x1="662.8" y1="262.4" x2="662.8" y2="265.2" stroke="#222" stroke-width="0.8"/>
<text x="662.8" y="274.3" text-anchor="middle" fill="#222" font-size="9.2">0.8</text>
<line x1="66.5" y1="295.6" x2="66.5" y2="384.8" stroke="#333" stroke-width="1"/>
<line x1="66" y1="384.3" x2="659" y2="384.3" stroke="#333" stroke-width="1"/>
<line x1="63" y1="382.4" x2="66.5" y2="382.4" stroke="#333" stroke-width="0.8"/>
<text x="60.5" y="385.5" text-anchor="end" fill="#222" font-size="8.5">0.0</text>
<line x1="63" y1="356.4" x2="66.5" y2="356.4" stroke="#333" stroke-width="0.8"/>
<text x="60.5" y="359.5" text-anchor="end" fill="#222" font-size="8.5">0.2</text>
<line x1="63" y1="330.4" x2="66.5" y2="330.4" stroke="#333" stroke-width="0.8"/>
<text x="60.5" y="333.5" text-anchor="end" fill="#222" font-size="8.5">0.4</text>
<line x1="63" y1="304.4" x2="66.5" y2="304.4" stroke="#333" stroke-width="0.8"/>
<text x="60.5" y="307.5" text-anchor="end" fill="#222" font-size="8.5">0.6</text>
<text transform="translate(41.8 340) rotate(-90)" text-anchor="middle" fill="#111" font-size="9.7">XCELL score</text>
<line x1="84.3" y1="384.3" x2="84.3" y2="387.8" stroke="#333" stroke-width="0.8"/>
<rect x="73.6" y="355.7" width="9.0" height="28" fill="#2b5089" fill-opacity="0.93"/>
<rect x="86" y="358.3" width="9.0" height="25.4" fill="#e0251f" fill-opacity="0.93"/>
<line x1="115.2" y1="384.3" x2="115.2" y2="387.8" stroke="#333" stroke-width="0.8"/>
<rect x="104.5" y="375.5" width="9.0" height="8.2" fill="#2b5089" fill-opacity="0.93"/>
<rect x="116.9" y="376" width="9.0" height="7.7" fill="#e0251f" fill-opacity="0.93"/>
<line x1="146.1" y1="384.3" x2="146.1" y2="387.8" stroke="#333" stroke-width="0.8"/>
<rect x="135.4" y="377.5" width="9.0" height="6.2" fill="#2b5089" fill-opacity="0.93"/>
<rect x="147.8" y="377" width="9.0" height="6.7" fill="#e0251f" fill-opacity="0.93"/>
<line x1="177" y1="384.3" x2="177" y2="387.8" stroke="#333" stroke-width="0.8"/>
<rect x="166.3" y="377.5" width="9.0" height="6.2" fill="#2b5089" fill-opacity="0.93"/>
<rect x="178.7" y="379.1" width="9.0" height="4.6" fill="#e0251f" fill-opacity="0.93"/>
<line x1="207.9" y1="384.3" x2="207.9" y2="387.8" stroke="#333" stroke-width="0.8"/>
<rect x="197.2" y="380.1" width="9.0" height="3.6" fill="#2b5089" fill-opacity="0.93"/>
<rect x="209.6" y="380.1" width="9.0" height="3.6" fill="#e0251f" fill-opacity="0.93"/>
<line x1="238.8" y1="384.3" x2="238.8" y2="387.8" stroke="#333" stroke-width="0.8"/>
<rect x="228.1" y="378" width="9.0" height="5.7" fill="#2b5089" fill-opacity="0.93"/>
<rect x="240.5" y="377" width="9.0" height="6.7" fill="#e0251f" fill-opacity="0.93"/>
<line x1="269.7" y1="384.3" x2="269.7" y2="387.8" stroke="#333" stroke-width="0.8"/>
<rect x="259" y="373" width="9.0" height="10.7" fill="#2b5089" fill-opacity="0.93"/>
<rect x="271.4" y="375" width="9.0" height="8.7" fill="#e0251f" fill-opacity="0.93"/>
<line x1="300.6" y1="384.3" x2="300.6" y2="387.8" stroke="#333" stroke-width="0.8"/>
<rect x="289.9" y="379.6" width="9.0" height="4.1" fill="#2b5089" fill-opacity="0.93"/>
<rect x="302.3" y="380.1" width="9.0" height="3.6" fill="#e0251f" fill-opacity="0.93"/>
<line x1="331.5" y1="384.3" x2="331.5" y2="387.8" stroke="#333" stroke-width="0.8"/>
<rect x="320.8" y="376" width="9.0" height="7.7" fill="#2b5089" fill-opacity="0.93"/>
<rect x="333.2" y="378" width="9.0" height="5.7" fill="#e0251f" fill-opacity="0.93"/>
<line x1="362.4" y1="384.3" x2="362.4" y2="387.8" stroke="#333" stroke-width="0.8"/>
<rect x="351.7" y="370.4" width="9.0" height="13.3" fill="#2b5089" fill-opacity="0.93"/>
<rect x="364.1" y="374" width="9.0" height="9.7" fill="#e0251f" fill-opacity="0.93"/>
<line x1="393.3" y1="384.3" x2="393.3" y2="387.8" stroke="#333" stroke-width="0.8"/>
<rect x="382.6" y="380.9" width="9.0" height="2.8" fill="#2b5089" fill-opacity="0.93"/>
<rect x="395" y="380.6" width="9.0" height="3.1" fill="#e0251f" fill-opacity="0.93"/>
<line x1="424.2" y1="384.3" x2="424.2" y2="387.8" stroke="#333" stroke-width="0.8"/>
<rect x="413.5" y="376" width="9.0" height="7.7" fill="#2b5089" fill-opacity="0.93"/>
<rect x="425.9" y="378" width="9.0" height="5.7" fill="#e0251f" fill-opacity="0.93"/>
<line x1="455.1" y1="384.3" x2="455.1" y2="387.8" stroke="#333" stroke-width="0.8"/>
<rect x="444.4" y="378" width="9.0" height="5.7" fill="#2b5089" fill-opacity="0.93"/>
<rect x="456.8" y="379.1" width="9.0" height="4.6" fill="#e0251f" fill-opacity="0.93"/>
<line x1="486" y1="384.3" x2="486" y2="387.8" stroke="#333" stroke-width="0.8"/>
<rect x="475.3" y="380.1" width="9.0" height="3.6" fill="#2b5089" fill-opacity="0.93"/>
<rect x="487.7" y="380.1" width="9.0" height="3.6" fill="#e0251f" fill-opacity="0.93"/>
<line x1="516.9" y1="384.3" x2="516.9" y2="387.8" stroke="#333" stroke-width="0.8"/>
<rect x="506.2" y="378" width="9.0" height="5.7" fill="#2b5089" fill-opacity="0.93"/>
<rect x="518.6" y="379.1" width="9.0" height="4.6" fill="#e0251f" fill-opacity="0.93"/>
<line x1="547.8" y1="384.3" x2="547.8" y2="387.8" stroke="#333" stroke-width="0.8"/>
<rect x="537.1" y="370.9" width="9.0" height="12.8" fill="#2b5089" fill-opacity="0.93"/>
<rect x="549.5" y="372" width="9.0" height="11.7" fill="#e0251f" fill-opacity="0.93"/>
<line x1="578.7" y1="384.3" x2="578.7" y2="387.8" stroke="#333" stroke-width="0.8"/>
<rect x="568" y="380.1" width="9.0" height="3.6" fill="#2b5089" fill-opacity="0.93"/>
<rect x="580.4" y="380.1" width="9.0" height="3.6" fill="#e0251f" fill-opacity="0.93"/>
<line x1="609.6" y1="384.3" x2="609.6" y2="387.8" stroke="#333" stroke-width="0.8"/>
<rect x="598.9" y="378" width="9.0" height="5.7" fill="#2b5089" fill-opacity="0.93"/>
<rect x="611.3" y="378" width="9.0" height="5.7" fill="#e0251f" fill-opacity="0.93"/>
<line x1="640.5" y1="384.3" x2="640.5" y2="387.8" stroke="#333" stroke-width="0.8"/>
<rect x="629.8" y="353.7" width="9.0" height="30" fill="#2b5089" fill-opacity="0.93"/>
<rect x="642.2" y="353.7" width="9.0" height="30" fill="#e0251f" fill-opacity="0.93"/>
<path d="M76.1 357.5h0M74.3 357.1h0M81.4 351.8h0M81.4 359h0M79.4 352.8h0M78.1 360.6h0M79.5 360h0M78.4 353.8h0M78.1 357.5h0M81 351.7h0M79.5 349.1h0M76.3 352.3h0M78.4 355.7h0M74.4 360.9h0M77 350.2h0M80.3 356.3h0M76 351.7h0M78.8 353.4h0M81.5 355h0M79.2 357.2h0M75.2 349h0M77.4 353.9h0M81.9 354.9h0M75.6 352h0M81 349h0M80.5 361h0M74.5 354.4h0M81.9 350.1h0M78.2 349.5h0M78.1 362h0M78.8 353.9h0M81.8 352.1h0M79.9 353.6h0M81.4 353.3h0M80.7 358.9h0M81.4 359.4h0M76.8 356.9h0M79.2 354h0M82 353.6h0M76.7 357.7h0M80.7 356.1h0M77.2 360.9h0M74.9 355.2h0M79.3 358.2h0M77.1 353.6h0M79.2 355h0M76.4 350.7h0M80.8 360.3h0M77.6 360.3h0M81.5 359.9h0M76.5 349.9h0M77.4 352.5h0M75.3 360.6h0M75.8 351.6h0M77.8 357.3h0M77.7 354.2h0M76.4 349.9h0M75.3 356.1h0M79.1 358.9h0M77.1 356.9h0M75.8 361.5h0M81.7 352.8h0M77.4 352.5h0M76.8 349.5h0M74.6 349.7h0M81.6 354h0M78.1 355.9h0M75 355.8h0M77.4 354.3h0M75.7 350.6h0M81.3 361.7h0M81.4 360h0M78.3 353.4h0M77.8 359.2h0M74.3 352.8h0M78.9 351.1h0M77.9 350.2h0M80.3 349.5h0M80.9 356.5h0M77.4 357h0M77.7 358.4h0M78.5 362.5h0M74.8 358.9h0M78.6 351.8h0M75.7 341.1h0M74.4 332.1h0M77.3 348.1h0M77.3 346.4h0M81.6 330.5h0M75.8 346.7h0M76.6 344.9h0M79.6 348.1h0M77.4 348.1h0M80.7 348h0M75.2 344.9h0M75.9 336.3h0M77.1 345.9h0M76.8 327.8h0M78 329.1h0M105.3 375h0M105.9 376.2h0M109.3 374.7h0M109.4 374h0M112.5 374.7h0M111.8 374.1h0M109.7 374.8h0M110.5 374.2h0M109.4 376.3h0M111 373.9h0M110.1 376.9h0M108 374.1h0M106.5 375.4h0M110.7 373.9h0M108.2 376.3h0M109.8 374.9h0M109.1 376.2h0M111.7 374.9h0M112 375.4h0M111.5 376.6h0M110.1 375.4h0M110.8 375.3h0M109.2 376.5h0M106 374.9h0M111 375.2h0M112.1 377.2h0M105.6 374.5h0M106.1 373.8h0M112 372.8h0M108.9 349.1h0M107.5 369.4h0M111.4 370.5h0M107.8 368.4h0M110.2 351.3h0M109.6 359h0M112.6 367.8h0M108 372.5h0M105.1 349.4h0M108.7 358.2h0M112.4 354.8h0M106.4 373.3h0M109.8 351.9h0M106.1 373.8h0M107.2 373.7h0M106.2 357.3h0M108.5 356.4h0M109.9 310.9h0M138.8 377.2h0M137.7 378.1h0M138.6 376.6h0M143.2 377.6h0M138.2 376.7h0M136.9 378.1h0M136.8 378.3h0M140.7 376.6h0M140.2 377.3h0M136.3 377.7h0M136.7 377.9h0M141.5 377.4h0M141.4 376.6h0M140.2 377.2h0M143.5 377.1h0M136.9 376.6h0M141.9 377.6h0M143.8 377.8h0M136.2 376.7h0M139.7 376.6h0M141.1 378.9h0M142.7 377.9h0M142.6 375.5h0M140.1 374.6h0M172.1 377h0M170.1 376.6h0M173.9 377.4h0M169.8 376.9h0M173 377.9h0M169.5 378.1h0M171.6 377.3h0M168.8 376.5h0M171.8 378.7h0M167.1 377.2h0M170.4 377.4h0M169.1 377.3h0M173.7 377.3h0M170.9 377.2h0M169.7 378h0M169 378h0M172 376.7h0M171.8 376.7h0M171.9 378h0M170.2 377.9h0M172.5 377.6h0M170.4 378.6h0M174.5 375.5h0M171.5 362.9h0M199.4 380.1h0M199.5 380.6h0M197.9 379.7h0M200 379.9h0M199.3 379.9h0M201.2 380.1h0M204.1 379.6h0M199.5 379.6h0M201 380.6h0M204.1 379.7h0M201.8 380.1h0M203.8 380.3h0M199.4 380.5h0M205.2 380h0M198.5 380.7h0M235.4 378.9h0M230.7 378.7h0M229 378h0M229 378.4h0M235 378.6h0M230.8 378.1h0M230.3 377.6h0M229.5 378.8h0M229.4 377.2h0M235.8 377.2h0M228.9 377.2h0M232.3 378.8h0M229.4 377.4h0M228.9 379h0M236.3 378.8h0M234.6 377.4h0M231 377.4h0M229.9 378.7h0M229.9 378.3h0M231 379.1h0M232.8 377.4h0M262.6 373.1h0M263.9 370.6h0M267.2 370.6h0M265.2 371.8h0M262.6 371.2h0M263.2 374.4h0M264.4 373.7h0M261.9 373.7h0M260.6 371.8h0M264.5 371.2h0M263.8 371.6h0M260.9 373h0M262.8 371.3h0M264.4 371.4h0M266.1 374.2h0M261 371.1h0M266.7 370.8h0M260.8 371.8h0M262.2 374.1h0M261.6 371.2h0M265.2 372.7h0M262.2 374.6h0M261 373.7h0M264.5 372h0M267.1 370.8h0M260.2 373.5h0M262.3 371.9h0M265 375.1h0M266.1 373.1h0M265 374.5h0M263.6 375.4h0M265.9 372.2h0M266.6 373.1h0M266.4 373.3h0M260.8 370.5h0M295.3 379.9h0M296.9 379.4h0M294.4 380.2h0M295.6 379.3h0M294.7 379.3h0M296.7 380.3h0M292.4 379.2h0M297.2 380h0M294.6 379.7h0M292.6 379.8h0M294.8 380.1h0M292.6 379.2h0M296.8 380.3h0M295.8 379.1h0M295.8 380h0M292.8 379.6h0M291.4 379.9h0M326.3 375.1h0M325.5 376.3h0M326.7 375.6h0M327.8 377.3h0M327.2 376.1h0M324.9 374.9h0M324.6 375.4h0M321.7 375.8h0M326.3 375h0M328.2 376.9h0M324.1 374.8h0M322.1 375h0M326.8 376.2h0M326.5 376.7h0M325 376.4h0M324.2 376.8h0M325.9 374.5h0M328 375.1h0M326.7 377.8h0M328.1 377.1h0M328.3 376h0M322.3 376.6h0M322.8 375.2h0M327 374.5h0M327.3 377.2h0M328 375.5h0M328 377.2h0M328.1 372.1h0M323.6 355.1h0M356.2 371.2h0M352.9 369.4h0M356.1 372h0M357.3 372.1h0M359.6 369.3h0M357.4 369.5h0M355.9 368.4h0M359.2 368.2h0M354.3 368.7h0M353.6 370.4h0M359.6 371.6h0M354.8 367.8h0M352.3 371.6h0M355.8 368.4h0M357.9 370.9h0M357.9 369.3h0M356.9 367.4h0M356.9 370.3h0M358 367.8h0M356.8 369.1h0M359.5 367.9h0M356.8 369.9h0M354.8 370.1h0M356.3 368.2h0M356.8 367.6h0M358.4 372.9h0M359.1 367.5h0M356.6 373.7h0M358.8 368h0M359.1 372.9h0M356.5 370.1h0M357.5 367.9h0M359 367.9h0M354.3 369.6h0M359.3 368.7h0M353.4 371.6h0M352.6 371.9h0M353.2 368.2h0M355.5 371.5h0M357.2 373h0M359.2 371.8h0M354.4 369.2h0M354.5 347.2h0M354.3 349h0M356.8 366.7h0M355.4 349.6h0M355.9 367.1h0M354.3 349.5h0M357.9 348.7h0M355.4 366.7h0M357 366.1h0M356.5 367.4h0M359.7 367.4h0M357.3 350.6h0M353.8 364.8h0M390.8 381h0M388.5 380.9h0M384.7 380.8h0M388.2 380.7h0M385.4 380.8h0M388.2 380.9h0M385.5 381.2h0M386.8 381.2h0M384 380.8h0M385.9 380.8h0M388.7 381h0M384.3 381.3h0M389.7 380.9h0M385.5 380h0M386.1 366.8h0M415.4 374.9h0M415.6 375.4h0M415.4 374.6h0M414.5 376.4h0M417.5 376.2h0M414.5 374.8h0M416.6 374.7h0M417.2 374.9h0M417.1 374.9h0M414.8 374.6h0M421.2 375.7h0M416.8 375.6h0M416.6 374.8h0M416.5 376.5h0M416.2 374.7h0M421.1 374.8h0M418.7 375.5h0M418.6 376.5h0M416.8 374.9h0M414.3 376.2h0M421.7 377.4h0M414.3 376.2h0M417.3 377.8h0M415.2 375.1h0M416.3 374.7h0M415.8 374.6h0M416.7 376h0M415.5 374.6h0M416.7 373.1h0M415.3 374.3h0M452.1 377.4h0M450.2 378h0M447.5 378.7h0M449.6 377.4h0M449.5 377.1h0M447.1 377.4h0M446.7 377.4h0M447.5 378h0M445.5 378h0M445.1 377.1h0M447.4 377.5h0M448.4 378.6h0M450.5 378.4h0M449 378.5h0M449.2 377.9h0M450.8 377.5h0M450.6 378.1h0M452.8 377.2h0M450.3 378.4h0M447.2 377.2h0M452.3 377.9h0M451.9 377.1h0M478.8 379.9h0M478.7 379.8h0M479.7 380h0M478.5 380.7h0M476.7 380.4h0M476.9 379.7h0M479.1 380.5h0M483 380h0M481.1 380.3h0M483 379.8h0M476.6 380.5h0M476 380.5h0M480.3 380.5h0M482.5 380h0M481.7 379.8h0M509.6 377.1h0M510.1 378.3h0M511.3 378h0M508.7 377.6h0M510.3 377.4h0M510.6 377.3h0M507.2 377.6h0M512.9 378.5h0M510.9 377.9h0M514.5 378.6h0M510.1 378.5h0M510 377.2h0M511.2 378.6h0M508.2 377.1h0M510.8 377.4h0M511.6 377.7h0M513 377.1h0M511.4 377.1h0M512.5 377.2h0M511.2 378h0M510 377.2h0M542.7 371.4h0M545.4 369.9h0M545 369.2h0M540.9 370.3h0M539 371.3h0M541.3 368h0M542.1 373h0M538.4 369.7h0M543.1 369.6h0M539.7 369.4h0M541.4 368.3h0M542.2 369.9h0M544 370.2h0M543.1 371h0M541.4 373.7h0M541.4 373.4h0M545.4 368.7h0M541.1 368.8h0M542.4 369h0M539.9 372.1h0M542.7 370.3h0M544.3 371.7h0M539.8 371.8h0M539.4 371.7h0M539.5 372.6h0M538.9 369.3h0M540.2 373.5h0M542.3 371.5h0M545.3 368.3h0M539.2 369.3h0M540.5 369.1h0M542.1 370.5h0M545.4 370.5h0M542.2 370.1h0M538.8 370.7h0M544 370.3h0M542.1 368h0M544.5 369.1h0M543.1 369.6h0M540.9 367.9h0M545.4 368.6h0M543.1 365.3h0M538.5 368.1h0M544.5 366.9h0M571.6 380.1h0M573.7 380.5h0M570.1 380.6h0M576.3 380.3h0M576.4 380.5h0M571.5 379.8h0M573.9 379.7h0M569.5 380.1h0M574.4 380.7h0M571.1 379.9h0M568.9 380.5h0M569.7 379.8h0M569.5 379.7h0M569.4 380h0M573.7 380.1h0M600.8 377.4h0M603.3 378.4h0M606.6 377.3h0M602.6 377.7h0M606 378.7h0M601.2 377.8h0M602.7 378.6h0M602.8 377.5h0M600.9 377.2h0M603.4 377.6h0M602.9 377.1h0M602.2 379h0M604 377.5h0M603.9 379.2h0M603.6 377.8h0M603.4 377.2h0M603.6 378.4h0M606.6 377.3h0M605.2 378.5h0M603.1 378.2h0M602.2 378.8h0M631 358.1h0M635.9 361.5h0M637.3 359.2h0M632.2 355.9h0M633.4 359.6h0M630.8 360.9h0M636.6 350h0M634.2 358.6h0M632.2 355.4h0M633.2 351.7h0M633.4 349.5h0M631.3 360.9h0M636.9 351.9h0M636.1 355h0M637.4 361h0M630.5 350.1h0M634 351.4h0M636.7 357.3h0M638 352h0M637.7 351.7h0M633.2 352.5h0M630.5 354.4h0M633.6 357h0M636.9 348.1h0M634.5 348.5h0M630.8 349.6h0M634.1 358.3h0M631.5 350.3h0M635.9 356.7h0M633.3 356.4h0M630.8 352.1h0M631.7 360.8h0M631.8 355.6h0M633.4 353.1h0M637.5 348.4h0M637.2 353.6h0M637.1 354h0M634 357.9h0M633.6 346h0M632.5 349.8h0M634.7 348.4h0M634 345.9h0M635.5 349.2h0M635.2 350.4h0M631.6 353h0M637 355.8h0M635.1 346h0M636.9 346.3h0M630.9 358.8h0M635.3 353h0M637.6 355.1h0M635.2 347.3h0M631.2 350.2h0M636.8 358.6h0M636.5 349h0M636.3 353.9h0M634.8 349.4h0M636.3 354h0M636.8 346.7h0M632.2 355.5h0M631.2 357h0M631.3 347.9h0M634.8 349.7h0M634.7 349.6h0M630.9 361.9h0M631 350.4h0M633.4 355h0M637.9 347.3h0M635.4 360h0M631.5 347h0M635.4 353h0M636.7 346.8h0M630.9 355.8h0M636.3 350.6h0M638 346.2h0M633.9 348.6h0M633.1 352h0M637.5 356.2h0M637.3 347.1h0M631.6 350.3h0M630.5 356.9h0M637.5 347.8h0M635.4 357.9h0M635.3 356.3h0M633.3 346.4h0M632.2 355.1h0M634.7 350h0M632.5 349.8h0M633.7 351.6h0M631.4 353.4h0M634.7 331.7h0M638 345.7h0M630.5 340.1h0M630.9 343.9h0M637.5 338.4h0M638 344.6h0M630.6 344.5h0M637 322.8h0M634.3 345.8h0M631.3 327.9h0M632.5 344.3h0M637.1 337.8h0M633.2 343.1h0M635.5 332.3h0M634.9 344.2h0M634.8 323.2h0M631.9 323.9h0" stroke="#2b5089" stroke-width="2.9" stroke-linecap="round" stroke-opacity="0.85"/>
<path d="M88.8 361.8h0M90.1 355.9h0M91.4 362.6h0M91.5 355.1h0M90.8 357.9h0M93.6 359.1h0M92.2 357.4h0M90 354.8h0M89.6 361.6h0M89.5 354.5h0M90 361.8h0M94 354.5h0M88 354h0M91.8 360.3h0M89.2 359.8h0M94.2 353h0M92.5 353h0M88.3 356.5h0M88.8 358.6h0M88.2 356.1h0M89.5 352.7h0M94 357h0M92.1 354.9h0M93.8 363.9h0M86.8 357.4h0M94.3 357.6h0M91.1 358.3h0M94.2 357.8h0M90.7 353.9h0M88.1 360.5h0M93.7 359.8h0M92.7 359.2h0M91.7 352.8h0M92.9 357.1h0M91.7 352.3h0M93.1 354.6h0M89.4 364h0M90.3 354h0M88.7 356.9h0M92.5 353.5h0M88.8 363.4h0M90.1 358h0M92.8 353.8h0M87.7 353.5h0M89.1 361h0M87.3 353.8h0M87.3 352.4h0M89.3 360.9h0M88.8 352h0M87.9 360.8h0M86.8 355.1h0M93.9 362h0M89.9 355.3h0M93.6 354.4h0M93 363.4h0M93.7 363.4h0M94 356.1h0M89.5 351.7h0M88.3 362.6h0M92.8 355.1h0M87.8 351.7h0M90.3 363.4h0M92.9 356.3h0M87.6 357.9h0M94.2 355.1h0M92 353.5h0M90.4 361.1h0M90.9 362.3h0M93 353.1h0M88.9 358.4h0M92.1 352.1h0M91.8 356.5h0M92.5 363.8h0M92.6 356.2h0M90.5 361.4h0M92.8 361.2h0M87.8 361h0M90.2 350.1h0M89.5 349.4h0M89.2 332.5h0M87.6 351.8h0M86.7 331.9h0M87.1 350.9h0M92.3 341.9h0M88.7 337.2h0M94.2 347.5h0M91.3 338.1h0M89.2 351.7h0M87.4 351.8h0M87.6 347.6h0M91.9 345.3h0M88.2 329.1h0M123.6 375.1h0M124.5 374.7h0M125 375.3h0M121.7 375.9h0M123.7 377.2h0M120.5 376.8h0M118 375.7h0M120.1 375.1h0M124.3 374.7h0M117.7 377.2h0M124.4 375.4h0M120.3 374.9h0M118.3 374.9h0M118.4 375h0M120.1 376.4h0M124 375.5h0M118.8 377.1h0M119.5 377.5h0M125 376h0M119.4 375.7h0M122.9 376h0M121.4 375h0M121.5 376.9h0M124.4 374.9h0M120.4 377.2h0M125 377.5h0M123.9 377.7h0M125.1 357.2h0M122.2 374.1h0M122.5 371.2h0M117.6 368.6h0M117.9 374.4h0M118.4 362.4h0M122.4 372h0M118.2 370.9h0M120.9 347h0M120.6 363.3h0M120.8 354.1h0M123.8 354.1h0M121.7 374.1h0M125.1 347.7h0M117.8 370.1h0M121.3 367.5h0M118.2 370.4h0M117.8 352.7h0M118.3 363.2h0M122.2 339h0M120.6 357.9h0M123.5 372.6h0M119.5 373.7h0M123.5 301.8h0M155.5 376.1h0M149.1 376.6h0M150.5 375.8h0M152.5 376.7h0M156.1 378.3h0M155.3 378h0M153.5 376.2h0M153.1 376h0M151.7 378.2h0M153.1 376.7h0M155.7 376.2h0M154.4 376.2h0M149.6 375.7h0M150.6 378.6h0M152.1 377.6h0M152.6 378.4h0M150.4 377.5h0M153.6 377.2h0M153.6 376.7h0M150.6 377.6h0M150.6 376.6h0M148.4 376h0M151.2 376.8h0M151.6 378.5h0M155.5 374.7h0M151.3 375.6h0M152.8 375.4h0M183.1 379.4h0M181.7 379.4h0M181.9 378.7h0M186.1 378.5h0M184.4 379.6h0M179.4 379.9h0M184.4 378.5h0M179.8 379.3h0M185.1 378.6h0M180.3 378.5h0M186.7 379.6h0M184.5 379h0M186.7 378.7h0M186.7 379.5h0M185.5 379.3h0M184.9 379.8h0M185.5 379.4h0M185.5 378.9h0M182.8 362.9h0M214.1 379.7h0M214.4 380.6h0M215.5 380.4h0M217.4 380.2h0M214.8 380.3h0M214.2 380.2h0M215.8 380.1h0M210.5 380.2h0M210.4 380.2h0M216.5 380.3h0M212.5 379.8h0M213.3 380.1h0M215.2 380.4h0M212.9 379.7h0M216.8 379.6h0M217.7 379.2h0M244.2 377.1h0M245.1 376.2h0M243.9 378.3h0M243.6 375.9h0M241.4 376.7h0M246.7 378.6h0M242.2 377.6h0M248.2 377.3h0M246.7 375.7h0M246.5 377.3h0M244.1 376.6h0M245.6 376.7h0M241.5 377.8h0M248.6 377.2h0M247.4 378.2h0M248.8 378h0M245.6 376.5h0M247.5 377.7h0M241.4 377.7h0M241.4 376.2h0M245.5 377.6h0M241.5 376.9h0M246.5 377.8h0M244.2 376.5h0M278.2 373.4h0M274 375.1h0M274.4 373.5h0M278.1 376.3h0M273.6 376.6h0M279 374.1h0M276.8 373.4h0M279.3 376.5h0M276.7 374.6h0M273.8 375.4h0M278.4 376h0M274.5 374.7h0M277.9 373.1h0M279 375.3h0M274.3 373.9h0M273.5 374.6h0M273.7 373.6h0M276.1 375.6h0M272.4 375.7h0M277.9 373.9h0M273.4 375.1h0M273.6 373.3h0M278.6 373.9h0M279 375.2h0M273.7 375.2h0M272.9 374.3h0M276.4 376.8h0M277.9 374.3h0M272.9 374.2h0M278.3 374.7h0M305.2 380.7h0M306.4 379.7h0M304.4 379.9h0M305.8 380.3h0M307.1 380.4h0M310.7 380.2h0M303.4 380h0M306.5 379.8h0M306.6 380.3h0M309.7 380.2h0M309.3 379.8h0M306.1 379.7h0M305.1 380.1h0M308 379.8h0M309 379.8h0M341 378.5h0M339 377.9h0M337.4 378h0M340.1 377.9h0M336.6 377.2h0M338.1 378.8h0M339.2 378.4h0M334 378.5h0M334.3 377.1h0M340.1 378h0M337.8 377.4h0M341.5 377.1h0M339.2 378.5h0M340.7 377h0M335.1 379h0M336 378h0M338.6 378.2h0M340.4 377.1h0M335.4 377.3h0M339.8 377.1h0M334.7 378.3h0M338.5 367.6h0M338 370.8h0M340.3 375.9h0M339.8 369.1h0M339 369.6h0M340.3 366.8h0M367 373.1h0M366.8 372.2h0M367.5 374.1h0M368.6 372.7h0M370 375.9h0M366.4 374h0M368.1 371.8h0M372.4 372.9h0M365 372h0M364.9 375.6h0M366.5 373.2h0M371 372.2h0M368.4 373h0M371.3 375.1h0M366.7 374.1h0M370.7 373.1h0M371.1 372.1h0M371.6 372.1h0M364.9 372.9h0M368.6 372.3h0M369.3 373.1h0M372.2 372.2h0M369.4 373.4h0M368.4 373.5h0M364.9 375.9h0M369.6 372.4h0M366.1 371.9h0M367.4 372.6h0M367.4 373.1h0M371.6 375.8h0M369.7 372.8h0M365.8 374.1h0M370.3 370.8h0M369.4 370.4h0M365 366.3h0M370 358.5h0M372.3 357h0M371.4 358h0M366.1 362.7h0M367.1 370.9h0M370.2 371.7h0M368.1 361.2h0M400.6 380.3h0M400.7 381h0M396.6 380.3h0M396.1 380.7h0M399.5 381h0M399 380.4h0M401.6 380.5h0M401.8 380.9h0M397.7 380.3h0M399.3 380.4h0M401.7 380.8h0M396.8 380.6h0M401.7 380.5h0M399 380.6h0M396.2 380.2h0M432.9 377.8h0M433.8 377.5h0M433.4 377.2h0M431.8 377.9h0M430.7 378.8h0M428.6 377.3h0M432.1 377.3h0M427.5 378.8h0M428.4 378.1h0M431 378.7h0M433.7 377.4h0M431.4 377.1h0M428.9 377.2h0M427.4 377.2h0M427.2 377.1h0M432.9 377h0M433.9 377.2h0M432.6 377.6h0M432.5 377.8h0M427.4 377.4h0M432.4 377.1h0M432.9 373.1h0M428.9 376.9h0M426.7 375.9h0M427.2 376h0M427.2 372.7h0M428.5 362.9h0M462.6 379h0M461.8 378.5h0M463.1 378.9h0M462.5 378.5h0M457.6 378.7h0M464.6 379.5h0M460.9 379.5h0M465.2 378.5h0M463.6 379.9h0M464.4 379.7h0M460.1 378.4h0M457.7 378.9h0M459.6 379.3h0M462.1 379.5h0M457.8 380h0M462 379.8h0M463.8 379.2h0M460.1 378.7h0M495.2 379.6h0M491.8 380.4h0M492 379.9h0M492 379.7h0M490.9 380.6h0M490.1 379.6h0M492.2 379.9h0M495.7 379.9h0M491.1 380.2h0M494.8 379.7h0M489.1 379.7h0M489.9 379.8h0M493.9 380.3h0M491.8 379.9h0M493 380.6h0M495.3 379.4h0M490.8 376.3h0M521 378.6h0M523.7 379.2h0M524.7 379.8h0M521.5 378.3h0M521.5 378.6h0M520.8 379.8h0M522.5 379.8h0M525.4 378.7h0M519.3 379.1h0M524.3 379h0M524.3 379h0M524 378.9h0M519.9 378.5h0M519.6 378.5h0M525.4 378.9h0M519.3 378.8h0M525 379.1h0M524.4 378.5h0M524.8 373.3h0M551.5 371.7h0M551.2 369.6h0M555.3 371.5h0M557.9 374.2h0M555.7 369.6h0M551.4 373.2h0M555.5 370.2h0M553.3 369.6h0M554.4 373.3h0M551 372.9h0M553.7 370.5h0M552.6 371.5h0M551.8 374h0M553.5 373.6h0M554.4 371.9h0M554.6 370.1h0M551.7 371.5h0M552.5 371.2h0M554.4 370.8h0M554.4 374h0M550.3 371h0M551.1 369.4h0M554.4 372h0M556.3 370.1h0M557.6 371h0M554.9 371.8h0M550.5 371.8h0M556.6 371.2h0M557.8 369.6h0M551.7 371.1h0M554.3 370.7h0M550.8 371.4h0M556.5 372.2h0M550.3 370.4h0M556.6 374.1h0M554.2 370.4h0M550.2 374.2h0M554.8 370.1h0M555.9 360.5h0M552.3 356.9h0M556.3 364.3h0M552.6 359.1h0M554.5 364.2h0M554.8 363.2h0M555.6 362.6h0M550.6 356.5h0M584.1 379.7h0M588.6 380.2h0M583.3 380h0M581.3 379.9h0M586.8 380.1h0M581.4 379.7h0M584.3 380h0M583.6 380.7h0M586.7 380.5h0M587.5 380.7h0M587 379.8h0M586 380.4h0M582.4 379.6h0M582.5 379.6h0M581 380h0M582.9 379h0M616.2 378.2h0M613.3 377.7h0M615.5 377.9h0M615.9 377.3h0M618.1 378.9h0M619.1 379.2h0M612.6 378.8h0M615.5 378.1h0M617.7 377.3h0M616.5 377.2h0M612.5 377.4h0M617.7 378.3h0M612.1 377.6h0M613.2 379.2h0M618.3 378.6h0M617.8 378.8h0M612.7 377h0M618 378.2h0M618.2 378.2h0M613.8 378.8h0M619.6 378.1h0M644.8 354.5h0M643.6 355.3h0M646.7 350.7h0M645 348h0M643.1 347.9h0M645.6 348.4h0M648.4 350.4h0M643.1 358h0M648.8 351.7h0M645.2 356.4h0M648.1 347.5h0M650.3 349h0M645.9 349.6h0M650 361.6h0M643.7 346.2h0M643.7 358.9h0M644.6 357.7h0M644.4 346.3h0M648.7 350.5h0M648.5 356.4h0M649.9 348.9h0M650.2 346.1h0M648.2 349.6h0M648 356.9h0M645.1 352.9h0M647.5 361h0M644.5 346h0M649 351h0M650.1 351.4h0M647.1 347.7h0M645.2 360.9h0M645.9 347h0M647.6 358.4h0M647.2 353.8h0M649.2 361.6h0M643.6 353.6h0M649.7 350.4h0M642.8 357.4h0M643.6 351.2h0M646.4 354.8h0M649.4 352.1h0M649.8 350h0M646.2 348.4h0M643.7 347.6h0M645 352.3h0M643.7 350.5h0M649.9 349h0M648.3 359.2h0M644.9 357.6h0M645.3 348.3h0M644.8 350.7h0M649.7 352.3h0M647.3 346.2h0M648 356.8h0M649.6 358.4h0M643.1 359.5h0M648.8 361.4h0M650.5 346.3h0M644.2 348.1h0M646.3 347.5h0M644.4 353.5h0M647.1 357.9h0M650.2 349.1h0M648.4 349h0M644.3 352.1h0M644.5 359.7h0M645 346.9h0M646.8 355.2h0M646.1 351h0M650.6 358.1h0M643.9 350.9h0M643.8 353.7h0M645.4 356.2h0M648.8 351.8h0M645.6 356.6h0M644.5 346h0M650.5 355.8h0M645.8 353.5h0M644.5 352.7h0M647.9 348h0M647.1 360.6h0M647.9 349.8h0M645.3 346h0M650.1 361.4h0M650.4 350.3h0M647.1 358.7h0M648.3 354h0M644.4 360.5h0M647.1 358.7h0M649.3 352h0M649.9 342.5h0M650.6 338.3h0M648.4 345.9h0M650.5 345.1h0M649 346h0M643.3 331.8h0M645.8 345.9h0M646.2 342.2h0M643.8 345.6h0M645.6 333.5h0" stroke="#e0251f" stroke-width="2.9" stroke-linecap="round" stroke-opacity="0.85"/>
<ellipse cx="78.1" cy="364.8" rx="3.4" ry="1.35" fill="#000"/>
<circle cx="78.1" cy="364.8" r="0.95" fill="#fff"/>
<ellipse cx="90.5" cy="369.4" rx="3.4" ry="1.35" fill="#000"/>
<circle cx="90.5" cy="369.4" r="0.95" fill="#fff"/>
<ellipse cx="109" cy="379.8" rx="3.4" ry="1.35" fill="#000"/>
<circle cx="109" cy="379.8" r="0.95" fill="#fff"/>
<ellipse cx="121.4" cy="380.4" rx="3.4" ry="1.35" fill="#000"/>
<circle cx="121.4" cy="380.4" r="0.95" fill="#fff"/>
<ellipse cx="139.9" cy="381.1" rx="3.4" ry="1.35" fill="#000"/>
<circle cx="139.9" cy="381.1" r="0.95" fill="#fff"/>
<ellipse cx="152.3" cy="381.1" rx="3.4" ry="1.35" fill="#000"/>
<circle cx="152.3" cy="381.1" r="0.95" fill="#fff"/>
<ellipse cx="170.8" cy="381.1" rx="3.4" ry="1.35" fill="#000"/>
<circle cx="170.8" cy="381.1" r="0.95" fill="#fff"/>
<ellipse cx="183.2" cy="381.8" rx="3.4" ry="1.35" fill="#000"/>
<circle cx="183.2" cy="381.8" r="0.95" fill="#fff"/>
<ellipse cx="201.7" cy="382.1" rx="3.4" ry="1.35" fill="#000"/>
<circle cx="201.7" cy="382.1" r="0.95" fill="#fff"/>
<ellipse cx="214.1" cy="382.1" rx="3.4" ry="1.35" fill="#000"/>
<circle cx="214.1" cy="382.1" r="0.95" fill="#fff"/>
<ellipse cx="232.6" cy="379.8" rx="3.4" ry="1.35" fill="#000"/>
<circle cx="232.6" cy="379.8" r="0.95" fill="#fff"/>
<ellipse cx="245" cy="379.8" rx="3.4" ry="1.35" fill="#000"/>
<circle cx="245" cy="379.8" r="0.95" fill="#fff"/>
<ellipse cx="263.5" cy="379.8" rx="3.4" ry="1.35" fill="#000"/>
<circle cx="263.5" cy="379.8" r="0.95" fill="#fff"/>
<ellipse cx="275.9" cy="380.4" rx="3.4" ry="1.35" fill="#000"/>
<circle cx="275.9" cy="380.4" r="0.95" fill="#fff"/>
<ellipse cx="294.4" cy="381.8" rx="3.4" ry="1.35" fill="#000"/>
<circle cx="294.4" cy="381.8" r="0.95" fill="#fff"/>
<ellipse cx="306.8" cy="381.8" rx="3.4" ry="1.35" fill="#000"/>
<circle cx="306.8" cy="381.8" r="0.95" fill="#fff"/>
<ellipse cx="325.3" cy="381.1" rx="3.4" ry="1.35" fill="#000"/>
<circle cx="325.3" cy="381.1" r="0.95" fill="#fff"/>
<ellipse cx="337.7" cy="381.1" rx="3.4" ry="1.35" fill="#000"/>
<circle cx="337.7" cy="381.1" r="0.95" fill="#fff"/>
<ellipse cx="356.2" cy="378.5" rx="3.4" ry="1.35" fill="#000"/>
<circle cx="356.2" cy="378.5" r="0.95" fill="#fff"/>
<ellipse cx="368.6" cy="379.8" rx="3.4" ry="1.35" fill="#000"/>
<circle cx="368.6" cy="379.8" r="0.95" fill="#fff"/>
<ellipse cx="387.1" cy="382" rx="3.4" ry="1.35" fill="#000"/>
<circle cx="387.1" cy="382" r="0.95" fill="#fff"/>
<ellipse cx="399.5" cy="382" rx="3.4" ry="1.35" fill="#000"/>
<circle cx="399.5" cy="382" r="0.95" fill="#fff"/>
<ellipse cx="418" cy="379.8" rx="3.4" ry="1.35" fill="#000"/>
<circle cx="418" cy="379.8" r="0.95" fill="#fff"/>
<ellipse cx="430.4" cy="381.1" rx="3.4" ry="1.35" fill="#000"/>
<circle cx="430.4" cy="381.1" r="0.95" fill="#fff"/>
<ellipse cx="448.9" cy="381.1" rx="3.4" ry="1.35" fill="#000"/>
<circle cx="448.9" cy="381.1" r="0.95" fill="#fff"/>
<ellipse cx="461.3" cy="381.1" rx="3.4" ry="1.35" fill="#000"/>
<circle cx="461.3" cy="381.1" r="0.95" fill="#fff"/>
<ellipse cx="479.8" cy="381.8" rx="3.4" ry="1.35" fill="#000"/>
<circle cx="479.8" cy="381.8" r="0.95" fill="#fff"/>
<ellipse cx="492.2" cy="381.8" rx="3.4" ry="1.35" fill="#000"/>
<circle cx="492.2" cy="381.8" r="0.95" fill="#fff"/>
<ellipse cx="510.7" cy="381.1" rx="3.4" ry="1.35" fill="#000"/>
<circle cx="510.7" cy="381.1" r="0.95" fill="#fff"/>
<ellipse cx="523.1" cy="381.1" rx="3.4" ry="1.35" fill="#000"/>
<circle cx="523.1" cy="381.1" r="0.95" fill="#fff"/>
<ellipse cx="541.6" cy="377.2" rx="3.4" ry="1.35" fill="#000"/>
<circle cx="541.6" cy="377.2" r="0.95" fill="#fff"/>
<ellipse cx="554" cy="377.8" rx="3.4" ry="1.35" fill="#000"/>
<circle cx="554" cy="377.8" r="0.95" fill="#fff"/>
<ellipse cx="572.5" cy="381.8" rx="3.4" ry="1.35" fill="#000"/>
<circle cx="572.5" cy="381.8" r="0.95" fill="#fff"/>
<ellipse cx="584.9" cy="381.8" rx="3.4" ry="1.35" fill="#000"/>
<circle cx="584.9" cy="381.8" r="0.95" fill="#fff"/>
<ellipse cx="603.4" cy="381.1" rx="3.4" ry="1.35" fill="#000"/>
<circle cx="603.4" cy="381.1" r="0.95" fill="#fff"/>
<ellipse cx="615.8" cy="381.1" rx="3.4" ry="1.35" fill="#000"/>
<circle cx="615.8" cy="381.1" r="0.95" fill="#fff"/>
<ellipse cx="634.3" cy="363.9" rx="3.4" ry="1.35" fill="#000"/>
<circle cx="634.3" cy="363.9" r="0.95" fill="#fff"/>
<ellipse cx="646.7" cy="367.4" rx="3.4" ry="1.35" fill="#000"/>
<circle cx="646.7" cy="367.4" r="0.95" fill="#fff"/>
<path d="M78.1 326.8V325.2H90.5V326.8" fill="none" stroke="#222" stroke-width="0.8"/>
<text x="84.3" y="326" text-anchor="middle" fill="#222" font-size="10">***</text>
<path d="M232.6 372.3V370.7H245V372.3" fill="none" stroke="#222" stroke-width="0.8"/>
<text x="238.8" y="371.5" text-anchor="middle" fill="#222" font-size="10">***</text>
<path d="M263.5 368.4V366.8H275.9V368.4" fill="none" stroke="#222" stroke-width="0.8"/>
<text x="269.7" y="367.6" text-anchor="middle" fill="#222" font-size="10">**</text>
<path d="M294.4 377.5V375.9H306.8V377.5" fill="none" stroke="#222" stroke-width="0.8"/>
<text x="300.6" y="376.7" text-anchor="middle" fill="#222" font-size="10">**</text>
<path d="M479.8 376.2V374.6H492.2V376.2" fill="none" stroke="#222" stroke-width="0.8"/>
<text x="486" y="375.4" text-anchor="middle" fill="#222" font-size="10">***</text>
<path d="M510.7 372.9V371.3H523.1V372.9" fill="none" stroke="#222" stroke-width="0.8"/>
<text x="516.9" y="372.1" text-anchor="middle" fill="#222" font-size="10">***</text>
<path d="M572.5 376.9V375.2H584.9V376.9" fill="none" stroke="#222" stroke-width="0.8"/>
<text x="578.7" y="376.1" text-anchor="middle" fill="#222" font-size="10">*</text>
<path d="M634.3 322.6V321H646.7V322.6" fill="none" stroke="#222" stroke-width="0.8"/>
<text x="640.5" y="321.8" text-anchor="middle" fill="#222" font-size="10">***</text>
<text transform="translate(88.6 395.6) rotate(-45)" text-anchor="end" fill="#111" font-size="8.3">Myeloid dendritic cell activated</text>
<text transform="translate(119.5 395.6) rotate(-45)" text-anchor="end" fill="#111" font-size="8.3">B cell</text>
<text transform="translate(150.4 395.6) rotate(-45)" text-anchor="end" fill="#111" font-size="8.3">T cell CD4+ memory</text>
<text transform="translate(181.3 395.6) rotate(-45)" text-anchor="end" fill="#111" font-size="8.3">T cell CD4+ naive</text>
<text transform="translate(212.2 395.6) rotate(-45)" text-anchor="end" fill="#111" font-size="8.3">T cell CD4+ (non&#8722;regulatory)</text>
<text transform="translate(243.1 395.6) rotate(-45)" text-anchor="end" fill="#111" font-size="8.3">T cell CD4+ central memory</text>
<text transform="translate(274 395.6) rotate(-45)" text-anchor="end" fill="#111" font-size="8.3">T cell CD4+ effector memory</text>
<text transform="translate(304.9 395.6) rotate(-45)" text-anchor="end" fill="#111" font-size="8.3">T cell CD8+ naive</text>
<text transform="translate(335.8 395.6) rotate(-45)" text-anchor="end" fill="#111" font-size="8.3">T cell CD8+</text>
<text transform="translate(366.7 395.6) rotate(-45)" text-anchor="end" fill="#111" font-size="8.3">T cell CD8+ central memory</text>
<text transform="translate(397.6 395.6) rotate(-45)" text-anchor="end" fill="#111" font-size="8.3">T cell CD8+ effector memory</text>
<text transform="translate(428.5 395.6) rotate(-45)" text-anchor="end" fill="#111" font-size="8.3">Class&#8722;switched memory B cell</text>
<text transform="translate(459.4 395.6) rotate(-45)" text-anchor="end" fill="#111" font-size="8.3">Common lymphoid progenitor</text>
<text transform="translate(490.3 395.6) rotate(-45)" text-anchor="end" fill="#111" font-size="8.3">Common myeloid progenitor</text>
<text transform="translate(521.2 395.6) rotate(-45)" text-anchor="end" fill="#111" font-size="8.3">Myeloid dendritic cell</text>
<text transform="translate(552.1 395.6) rotate(-45)" text-anchor="end" fill="#111" font-size="8.3">Endothelial cell</text>
<text transform="translate(583 395.6) rotate(-45)" text-anchor="end" fill="#111" font-size="8.3">Eosinophil</text>
<text transform="translate(613.9 395.6) rotate(-45)" text-anchor="end" fill="#111" font-size="8.3">Granulocyte&#8722;monocyte progenitor</text>
<text transform="translate(644.8 395.6) rotate(-45)" text-anchor="end" fill="#111" font-size="8.3">Hematopoietic stem cell</text>
<text x="587.6" y="290.2" fill="#111" font-size="8.2">COMP expression</text>
<circle cx="590.6" cy="297.5" r="1.6" fill="#3c6aaa" fill-opacity="0.85"/>
<circle cx="590.6" cy="307.5" r="1.6" fill="#e43c40" fill-opacity="0.85"/>
<text x="599.8" y="300.5" fill="#111" font-size="8.2">High</text>
<text x="599.8" y="310.5" fill="#111" font-size="8.2">Low</text>
<line x1="70.4" y1="484.4" x2="70.4" y2="592.6" stroke="#333" stroke-width="1"/>
<line x1="69.9" y1="592.1" x2="663.6" y2="592.1" stroke="#333" stroke-width="1"/>
<line x1="66.9" y1="589.6" x2="70.4" y2="589.6" stroke="#333" stroke-width="0.8"/>
<text x="64.4" y="592.7" text-anchor="end" fill="#222" font-size="8.5">0.0</text>
<line x1="66.9" y1="561.2" x2="70.4" y2="561.2" stroke="#333" stroke-width="0.8"/>
<text x="64.4" y="564.3" text-anchor="end" fill="#222" font-size="8.5">0.2</text>
<line x1="66.9" y1="532.8" x2="70.4" y2="532.8" stroke="#333" stroke-width="0.8"/>
<text x="64.4" y="535.9" text-anchor="end" fill="#222" font-size="8.5">0.4</text>
<line x1="66.9" y1="504.4" x2="70.4" y2="504.4" stroke="#333" stroke-width="0.8"/>
<text x="64.4" y="507.5" text-anchor="end" fill="#222" font-size="8.5">0.6</text>
<text transform="translate(46.6 538.5) rotate(-90)" text-anchor="middle" fill="#111" font-size="9.7">XCELL score</text>
<line x1="89" y1="592.1" x2="89" y2="595.6" stroke="#333" stroke-width="0.8"/>
<rect x="78.3" y="586.5" width="9.0" height="4.4" fill="#2b5089" fill-opacity="0.93"/>
<rect x="90.7" y="587.1" width="9.0" height="3.8" fill="#e0251f" fill-opacity="0.93"/>
<line x1="119.9" y1="592.1" x2="119.9" y2="595.6" stroke="#333" stroke-width="0.8"/>
<rect x="109.2" y="586.5" width="9.0" height="4.4" fill="#2b5089" fill-opacity="0.93"/>
<rect x="121.6" y="587.1" width="9.0" height="3.8" fill="#e0251f" fill-opacity="0.93"/>
<line x1="150.8" y1="592.1" x2="150.8" y2="595.6" stroke="#333" stroke-width="0.8"/>
<rect x="140.1" y="586.5" width="9.0" height="4.4" fill="#2b5089" fill-opacity="0.93"/>
<rect x="152.5" y="587.1" width="9.0" height="3.8" fill="#e0251f" fill-opacity="0.93"/>
<line x1="181.7" y1="592.1" x2="181.7" y2="595.6" stroke="#333" stroke-width="0.8"/>
<rect x="171" y="587.1" width="9.0" height="3.8" fill="#2b5089" fill-opacity="0.93"/>
<rect x="183.4" y="586" width="9.0" height="4.9" fill="#e0251f" fill-opacity="0.93"/>
<line x1="212.6" y1="592.1" x2="212.6" y2="595.6" stroke="#333" stroke-width="0.8"/>
<rect x="201.9" y="586" width="9.0" height="4.9" fill="#2b5089" fill-opacity="0.93"/>
<rect x="214.3" y="586" width="9.0" height="4.9" fill="#e0251f" fill-opacity="0.93"/>
<line x1="243.5" y1="592.1" x2="243.5" y2="595.6" stroke="#333" stroke-width="0.8"/>
<rect x="232.8" y="587.1" width="9.0" height="3.8" fill="#2b5089" fill-opacity="0.93"/>
<rect x="245.2" y="586" width="9.0" height="4.9" fill="#e0251f" fill-opacity="0.93"/>
<line x1="274.4" y1="592.1" x2="274.4" y2="595.6" stroke="#333" stroke-width="0.8"/>
<rect x="263.7" y="587.1" width="9.0" height="3.8" fill="#2b5089" fill-opacity="0.93"/>
<rect x="276.1" y="587.1" width="9.0" height="3.8" fill="#e0251f" fill-opacity="0.93"/>
<line x1="305.3" y1="592.1" x2="305.3" y2="595.6" stroke="#333" stroke-width="0.8"/>
<rect x="294.6" y="588.1" width="9.0" height="2.8" fill="#2b5089" fill-opacity="0.93"/>
<rect x="307" y="588.1" width="9.0" height="2.8" fill="#e0251f" fill-opacity="0.93"/>
<line x1="336.2" y1="592.1" x2="336.2" y2="595.6" stroke="#333" stroke-width="0.8"/>
<rect x="325.5" y="588.1" width="9.0" height="2.8" fill="#2b5089" fill-opacity="0.93"/>
<rect x="337.9" y="588.1" width="9.0" height="2.8" fill="#e0251f" fill-opacity="0.93"/>
<line x1="367.1" y1="592.1" x2="367.1" y2="595.6" stroke="#333" stroke-width="0.8"/>
<rect x="356.4" y="578.2" width="9.0" height="12.7" fill="#2b5089" fill-opacity="0.93"/>
<rect x="368.8" y="579.3" width="9.0" height="11.6" fill="#e0251f" fill-opacity="0.93"/>
<line x1="398" y1="592.1" x2="398" y2="595.6" stroke="#333" stroke-width="0.8"/>
<rect x="387.3" y="584.9" width="9.0" height="6" fill="#2b5089" fill-opacity="0.93"/>
<rect x="399.7" y="584.9" width="9.0" height="6" fill="#e0251f" fill-opacity="0.93"/>
<line x1="428.9" y1="592.1" x2="428.9" y2="595.6" stroke="#333" stroke-width="0.8"/>
<rect x="418.2" y="586" width="9.0" height="4.9" fill="#2b5089" fill-opacity="0.93"/>
<rect x="430.6" y="586" width="9.0" height="4.9" fill="#e0251f" fill-opacity="0.93"/>
<line x1="459.8" y1="592.1" x2="459.8" y2="595.6" stroke="#333" stroke-width="0.8"/>
<rect x="449.1" y="588.1" width="9.0" height="2.8" fill="#2b5089" fill-opacity="0.93"/>
<rect x="461.5" y="588.1" width="9.0" height="2.8" fill="#e0251f" fill-opacity="0.93"/>
<line x1="490.7" y1="592.1" x2="490.7" y2="595.6" stroke="#333" stroke-width="0.8"/>
<rect x="480" y="582.7" width="9.0" height="8.2" fill="#2b5089" fill-opacity="0.93"/>
<rect x="492.4" y="581.5" width="9.0" height="9.4" fill="#e0251f" fill-opacity="0.93"/>
<line x1="521.6" y1="592.1" x2="521.6" y2="595.6" stroke="#333" stroke-width="0.8"/>
<rect x="510.9" y="578.2" width="9.0" height="12.7" fill="#2b5089" fill-opacity="0.93"/>
<rect x="523.3" y="580.4" width="9.0" height="10.5" fill="#e0251f" fill-opacity="0.93"/>
<line x1="552.5" y1="592.1" x2="552.5" y2="595.6" stroke="#333" stroke-width="0.8"/>
<rect x="541.8" y="587.1" width="9.0" height="3.8" fill="#2b5089" fill-opacity="0.93"/>
<rect x="554.2" y="588.1" width="9.0" height="2.8" fill="#e0251f" fill-opacity="0.93"/>
<line x1="583.4" y1="592.1" x2="583.4" y2="595.6" stroke="#333" stroke-width="0.8"/>
<rect x="572.7" y="578.2" width="9.0" height="12.7" fill="#2b5089" fill-opacity="0.93"/>
<rect x="585.1" y="581.5" width="9.0" height="9.4" fill="#e0251f" fill-opacity="0.93"/>
<line x1="614.3" y1="592.1" x2="614.3" y2="595.6" stroke="#333" stroke-width="0.8"/>
<rect x="603.6" y="570.5" width="9.0" height="20.4" fill="#2b5089" fill-opacity="0.93"/>
<rect x="616" y="570.5" width="9.0" height="20.4" fill="#e0251f" fill-opacity="0.93"/>
<line x1="645.2" y1="592.1" x2="645.2" y2="595.6" stroke="#333" stroke-width="0.8"/>
<rect x="634.5" y="560.5" width="9.0" height="30.4" fill="#2b5089" fill-opacity="0.93"/>
<rect x="646.9" y="564.9" width="9.0" height="26" fill="#e0251f" fill-opacity="0.93"/>
<path d="M80.8 586.5h0M86.1 585.9h0M79.9 586.5h0M84.9 587.1h0M85 586.1h0M80.7 586.7h0M86.2 586.7h0M84.6 586.6h0M79.7 586.1h0M85.5 586.7h0M82.6 586.9h0M80.2 586.1h0M80.6 586.2h0M81.9 586.7h0M86.2 586h0M82.5 586h0M86.3 586.6h0M82.3 585.3h0M78.9 582.8h0M115.1 586.3h0M117.3 586h0M114.7 587.1h0M112.7 587.3h0M117.1 586.2h0M117.4 586.2h0M110.9 587.3h0M114.2 587.3h0M110.5 585.9h0M113.3 587.1h0M116.1 586h0M112.1 586.4h0M113.2 587h0M111.1 586.3h0M117.2 585.9h0M116.6 586.2h0M110.8 586h0M142.1 587.1h0M143.4 586.2h0M147.2 587.3h0M143.4 586h0M148.2 585.9h0M146.6 587.4h0M144.4 587.1h0M144.7 586.9h0M147.3 586.6h0M145.4 587h0M147.7 587.1h0M143.8 586.7h0M147.7 586.7h0M147.7 586.2h0M141.5 586.1h0M142.1 586.2h0M142.1 586.6h0M142.1 585.2h0M176.3 587.1h0M171.9 586.9h0M175.5 587.4h0M174.2 586.9h0M172 587.3h0M178.4 587.1h0M178.6 587.8h0M176.1 587.7h0M173.3 587.1h0M173 587.5h0M176.7 586.9h0M174.1 586.7h0M175.6 587.4h0M178.2 586.6h0M176.7 586.7h0M173.9 586.6h0M203.5 585.8h0M202.6 585.9h0M204 585.8h0M209.2 585.6h0M204.1 585.2h0M206.2 586.4h0M203.1 585.7h0M208.9 586h0M206.5 585.2h0M204.6 586.5h0M207.2 585.2h0M210.3 586.5h0M203.3 585.6h0M203 586.1h0M210.2 586.1h0M206.7 585.7h0M203.4 585.3h0M206.1 585.9h0M209.6 586.3h0M210 581.8h0M203.7 582.7h0M203.9 576.6h0M206 576.6h0M207.4 583h0M209.2 574.4h0M206.8 576.9h0M206.8 573h0M205.7 556.9h0M233.7 587.2h0M240.4 587h0M236.5 587.3h0M234.1 587.4h0M237.4 587.4h0M240.8 586.7h0M234.9 587.1h0M239.4 587.7h0M236 586.6h0M237.7 587.7h0M239.9 586.6h0M236.9 586.8h0M239 586.9h0M239.2 587.3h0M234.2 586.6h0M237.8 586.6h0M270.6 587.1h0M267.9 587.2h0M271.3 587.2h0M268.1 587h0M265.5 586.6h0M268 587.3h0M271.6 587.5h0M265.2 586.7h0M264.7 586.7h0M269.4 587.3h0M271.7 587.1h0M264.8 587.4h0M269.8 587.5h0M269.3 587.4h0M266.5 586.6h0M266.3 587.6h0M268.1 583.9h0M270.7 584.5h0M268.3 575.4h0M297 588.5h0M302.7 588.2h0M299.9 588h0M299.7 588.3h0M302.7 588h0M300 588.2h0M299.3 588.4h0M295.2 588.5h0M297.2 588.1h0M299.5 588.5h0M299.7 587.9h0M298.8 587.9h0M300.7 588.1h0M330 588.2h0M327.3 588.4h0M328.4 588.5h0M330.5 588.4h0M326.8 588.2h0M332.7 588.3h0M333.4 588.3h0M331.5 587.9h0M332.7 588h0M327.2 587.9h0M328.7 587.9h0M328.3 587.9h0M328.7 588.2h0M360.1 579h0M362.9 576.3h0M364.3 577.3h0M363.1 577.8h0M358.4 576.5h0M362 577.8h0M359.9 575.5h0M357.8 575.4h0M360.9 578.6h0M358.5 577h0M363.9 581h0M357.7 579h0M358.8 579.8h0M359.8 579.9h0M360 575.4h0M363.8 576.8h0M364 578.6h0M364.3 575.8h0M357.6 575.8h0M363.1 575.6h0M363.4 578.6h0M360.1 578.8h0M360.2 575.6h0M363.2 575.8h0M363.6 577.5h0M363.2 575.7h0M363.3 579.4h0M361.2 576.9h0M362.1 577.5h0M362.7 578.9h0M363.8 580.4h0M358.3 581.3h0M363.9 577.8h0M364.6 577.5h0M361.1 575.7h0M361.5 577.7h0M359.1 577.7h0M363.1 579.3h0M363.5 578.4h0M362.3 576.3h0M360.7 576.5h0M362.9 572.9h0M362.4 573.8h0M364.6 575.3h0M394.8 584.9h0M391.7 584.3h0M393.7 584h0M391.5 585.6h0M388.2 583.8h0M395.1 583.8h0M389.3 585.6h0M393.5 585.2h0M393.4 585.6h0M394 585.4h0M389.1 585.5h0M387.9 584.1h0M391.2 584.8h0M388.3 584.8h0M392.5 585.4h0M395.6 585.1h0M388.6 584.5h0M390.9 584.9h0M390.4 585.4h0M393.3 585h0M393 586h0M392.4 585.3h0M390.4 581.6h0M388.6 580.1h0M422.8 585.5h0M423.7 586.3h0M422.5 586.8h0M421.1 586.8h0M423.5 586.3h0M421.9 586.9h0M422 586.8h0M425.4 585.3h0M422 585.8h0M419.7 585.4h0M420.3 585.4h0M425.9 586.4h0M420.6 585.7h0M422.9 586h0M424.5 586h0M420.9 585.6h0M424.9 585.2h0M425.4 586.5h0M423.5 585.8h0M456.4 587.9h0M456.7 588h0M451.9 588.1h0M450.9 587.9h0M455.2 588.1h0M452.8 588.2h0M457.3 588h0M454.3 588.4h0M452.5 588.3h0M455.3 587.8h0M454.2 588.2h0M453 587.9h0M453.6 587.9h0M480.9 583.6h0M483.3 582.5h0M487 581h0M483.9 582.2h0M488.2 582.2h0M481.2 581.6h0M481.9 581.3h0M481 583.8h0M486.8 582h0M486.4 581.9h0M483.7 581.2h0M486.4 583.9h0M484.3 581.8h0M484.6 583h0M487.6 582.2h0M486.4 581h0M484.7 583.7h0M481.9 583.6h0M482.1 583.9h0M486.9 582.7h0M485.3 581h0M484.1 582.4h0M481.5 583.3h0M480.6 583.6h0M485.6 582.8h0M483.7 583.1h0M485.3 581.5h0M482.5 583.8h0M480.7 579.4h0M481.5 579.1h0M481.9 576.6h0M518.5 578.2h0M515.6 577.5h0M518.2 579.8h0M519.3 579.3h0M515 580.7h0M513.6 580.4h0M511.8 578.3h0M515.3 581.4h0M515.1 580.5h0M511.7 579.2h0M516.7 580.6h0M513.2 576.5h0M512.4 576.2h0M518.3 581.5h0M513.3 576.8h0M513.7 576.2h0M518.2 576h0M515.6 576.8h0M516.5 578.6h0M518.6 575.9h0M517.1 579.9h0M512.9 579.2h0M513 576.6h0M512.2 576.9h0M517.1 579.6h0M514.9 577.7h0M517.9 579.7h0M516.5 576h0M512.6 575.7h0M512 576.7h0M512.6 579.9h0M519 578h0M515.2 577.3h0M519.1 578.9h0M516.8 575.8h0M512.8 581.5h0M513.3 578.4h0M515.3 576.1h0M512.1 577.5h0M515.2 578.8h0M511.5 576.8h0M517.2 574.2h0M513.7 567.2h0M515.4 574.5h0M512.7 572.4h0M514.8 572.2h0M513.8 569.2h0M548.3 586.6h0M548.4 587.2h0M542.4 587.7h0M545.7 587.4h0M544.9 586.6h0M549.3 587.5h0M549.5 587.4h0M547.2 587h0M545.5 587h0M549.3 587.2h0M543.6 587.2h0M549.8 587.4h0M545.7 587.3h0M549.9 587.4h0M550.1 587.3h0M549.5 586.7h0M544.8 584.5h0M546.8 585.4h0M573.7 578.6h0M573.5 577.4h0M574.5 575.9h0M579.9 575.3h0M578.1 579.6h0M573.4 575.7h0M575.3 578.8h0M580 575.6h0M575 577.6h0M577.9 576.9h0M579.5 576.3h0M574.7 578.4h0M574.8 577.1h0M577.9 580.2h0M580.7 581.1h0M579.8 575.2h0M575.5 579.9h0M575.2 578.8h0M576.9 577.1h0M580.4 580.1h0M578 576.3h0M575.2 577.8h0M575.7 577.3h0M577.1 578.9h0M578.3 580.2h0M580 575.6h0M580.6 578.7h0M576.3 579h0M579.5 580h0M578 577.9h0M575.3 576.3h0M580.6 579.8h0M579.1 580.1h0M576.2 575.2h0M576.6 575.6h0M580.1 577.5h0M576.4 578.1h0M579.9 576.3h0M576.2 579.6h0M577.5 575.5h0M577.6 576.8h0M578.6 571.8h0M580.9 570.1h0M578 571.1h0M581.1 569.3h0M573.6 567.1h0M580.6 574h0M579.3 570.1h0M576.7 572.8h0M574 561.7h0M580.1 574.8h0M578.5 573.7h0M576.7 544.2h0M579.3 528.5h0M578.3 551.3h0M606.5 565.3h0M611.5 567.7h0M610.3 571h0M611.3 575.1h0M604.7 568.6h0M606.8 566.7h0M611.7 573.7h0M609.4 570.3h0M608.6 571.1h0M605.7 573.2h0M608.1 566.9h0M610.4 567.3h0M609 568h0M606.2 572.9h0M608.5 566h0M609.1 567.8h0M606.8 569.7h0M605.7 566.6h0M610.4 573.4h0M610.2 567.2h0M610.7 571.3h0M608.6 567.2h0M611 565.5h0M606.6 568h0M605.3 567.1h0M604.9 565.9h0M607.5 572.8h0M610.6 566h0M607.9 565.8h0M609.2 565.6h0M611.9 575.1h0M609.4 573.7h0M604.9 569.6h0M605.2 569.8h0M610.5 565.7h0M611.6 569.3h0M606.5 569h0M611.9 569h0M610.1 573.1h0M609.3 575.1h0M607.1 574.4h0M604.3 574.5h0M610.4 569.4h0M610 573.5h0M611.9 567.5h0M608.6 572.8h0M607.9 572.9h0M605.6 573.7h0M606 568.7h0M605.3 573.2h0M610.7 571.6h0M609.1 566.9h0M611.7 572.8h0M606.5 569.7h0M604.6 565.3h0M609 572.3h0M608.2 571.7h0M606.7 572.5h0M609 566.1h0M611.7 566.6h0M608.2 572.4h0M606.2 575.6h0M611.6 572.3h0M608.6 561h0M606.3 565.3h0M608 564.4h0M604.6 560.7h0M636.9 559.5h0M635.4 566.6h0M640.7 556.1h0M641 556.7h0M641.9 559.5h0M636.6 560.5h0M636.3 555h0M637.6 560.1h0M635.8 564.1h0M638.1 553.2h0M635.3 553.8h0M635.4 566.8h0M641.8 558.7h0M640.9 564.5h0M637.9 557.8h0M636.9 558.8h0M639.2 559.5h0M637 563h0M639.6 567.5h0M640.3 559.7h0M638.3 559.7h0M639.9 556.8h0M636.9 554h0M635.8 558.7h0M637.3 554.3h0M635.6 554.3h0M642 564.8h0M637.7 556.4h0M642.3 561.1h0M641.2 566.6h0M637.5 557.9h0M641.7 563.3h0M642 559.3h0M639 563.7h0M637 553.1h0M635.8 555h0M637.9 556.2h0M638.1 562.4h0M641.3 566.8h0M637.1 558.6h0M636.1 556.5h0M641.6 555.1h0M636.3 556.6h0M641.4 566.2h0M636.9 555.8h0M639.5 558.6h0M639.9 564.2h0M639.1 558.7h0M636.7 565.2h0M640.4 559.6h0M635.1 561h0M638.1 562h0M639 565.5h0M638.8 559.7h0M636.9 561.4h0M638.3 553.1h0M639.4 559.1h0M638.8 555h0M635.8 555.6h0M639 553.8h0M638.8 556.6h0M636.8 563.9h0M637.5 563.1h0M638.9 556.4h0M637.2 559h0M641.8 567.3h0M635.7 565.7h0M642.6 559.9h0M637.1 553.4h0M640 568h0M640.1 554h0M635.8 556.3h0M640.9 554.9h0M637.3 561.6h0M638 552.7h0M638.1 564.9h0M638.1 567.5h0M638.5 560.1h0M637.5 557.4h0M641.8 559.9h0M637.8 557.8h0M636.8 556.5h0M635.2 562.3h0M636.9 553.3h0M639.1 565.1h0M638.2 558.5h0M638.6 557h0M642 559.5h0M641.5 560.5h0M636.4 554h0M642.3 555.6h0M635.3 551.8h0M637.5 546h0M640.3 549.6h0M636.6 549.4h0M639.7 538.5h0M639.2 518.6h0M639.5 542.7h0" stroke="#2b5089" stroke-width="2.9" stroke-linecap="round" stroke-opacity="0.85"/>
<path d="M98.2 587h0M96.5 587.1h0M98 586.8h0M91.5 587h0M96.2 587.2h0M96.9 587.5h0M98.3 586.6h0M97.7 587.6h0M96.6 586.9h0M95.2 587.1h0M97.4 587.5h0M93.5 586.9h0M91.8 586.8h0M97.3 587h0M96.6 587.5h0M96.1 587.4h0M93.7 584.6h0M126.2 587.3h0M127.1 587.1h0M122.4 587.3h0M124.2 586.9h0M124.3 587.5h0M126.8 587.1h0M127.3 587h0M126.6 587.1h0M129.1 587.6h0M127.3 587.7h0M122.4 587.2h0M128.2 586.9h0M126.2 586.9h0M123.4 587h0M124.2 587.4h0M127.6 587.7h0M127 586.6h0M160.7 587.3h0M157.2 587.1h0M156 586.6h0M160.2 587.1h0M159.7 586.8h0M154.1 587h0M156.4 587.3h0M154.5 587.7h0M159.7 587h0M157.5 587.1h0M158.1 586.9h0M153.6 586.8h0M157.1 586.7h0M159.6 587.1h0M157.1 587.3h0M154.6 587h0M188.3 585.2h0M187.3 585.3h0M185.1 586.8h0M187.5 585.5h0M189.4 586h0M190.3 586h0M187.5 585.6h0M188.3 585.9h0M187.3 585.8h0M188.8 586.8h0M190.7 585.2h0M186.3 586h0M185.7 585.7h0M189.1 586.4h0M191.5 585.9h0M189.1 586.7h0M188.3 585.4h0M187.7 586h0M188.6 586.5h0M184.8 583.1h0M216.5 586.7h0M218.5 586.6h0M215.2 585.4h0M217.7 586.7h0M216.7 585.4h0M222.1 585.4h0M219 585.8h0M217.1 586.2h0M221.9 585.3h0M215.4 585.2h0M221.6 586.7h0M220.1 585.2h0M222.6 586h0M220.2 586.2h0M217.1 586.9h0M221.7 585.8h0M219.3 586.8h0M217.7 585.7h0M218.9 585.4h0M222.2 583.7h0M216.6 581.7h0M216.9 580.3h0M215.2 581.4h0M217.2 585.2h0M215.4 575.4h0M221.2 552.7h0M247.1 586.8h0M251.5 586.5h0M252.1 586h0M252.3 585.8h0M248.4 586.7h0M248.5 586h0M246.8 586.2h0M249.6 585.8h0M246 585.7h0M246 586.8h0M247.5 586.5h0M252.1 585.4h0M246.7 586.1h0M249 585.4h0M249.8 585.2h0M249.2 586.3h0M247.3 586.9h0M249.4 585.7h0M253.1 586.5h0M247.9 579.7h0M277.2 587.1h0M282.4 587.8h0M278.1 586.9h0M280.7 586.8h0M283.2 587.3h0M283.3 587.5h0M283.5 587h0M277 586.8h0M280 587.3h0M282.9 587.2h0M283.1 587.2h0M282.1 586.9h0M280.7 587.6h0M283.3 586.7h0M279.1 587.7h0M277.1 586.9h0M281.8 586.7h0M278.6 585h0M279.8 579.7h0M314.7 587.9h0M313.7 588.1h0M311.2 588.4h0M313.7 588.3h0M311.4 588.4h0M310.3 588.2h0M308.5 588.4h0M308.8 588.5h0M312.8 587.9h0M310.5 588h0M310.1 587.9h0M312.3 588.1h0M313.5 587.8h0M340 588.2h0M345.8 588h0M340 587.8h0M345.4 588h0M339.3 588h0M344.1 587.9h0M344.5 588.1h0M340 588.2h0M338.5 588.1h0M343.9 588h0M345.9 588.2h0M339.4 587.9h0M340.1 587.8h0M372.6 578h0M371 578.6h0M376.1 577.8h0M375.8 576.8h0M372.3 580.1h0M372.1 577.9h0M376.6 577.7h0M375.6 577.1h0M373.4 578h0M376.3 578.3h0M377.2 578h0M372.6 578.4h0M373.1 577.4h0M371.8 579h0M372.1 581h0M370.1 579.5h0M375.9 579.3h0M376.8 577.8h0M369.7 580.5h0M371.3 580.7h0M370.9 580.7h0M373.1 579.9h0M376.5 581.2h0M369.8 579.8h0M371.6 578.5h0M373.6 580.2h0M372.5 579.9h0M377.1 579.6h0M374.7 578.5h0M374.6 578.4h0M369.5 577.7h0M372.8 578.6h0M370.8 579.9h0M372.6 579.9h0M372 580.3h0M374 576.8h0M373.9 576.7h0M371.1 579h0M376.5 576.7h0M375.3 576.8h0M372.1 566.8h0M372.2 575.1h0M371.1 573.2h0M374.8 570.8h0M374.8 575.1h0M371.5 576.1h0M375.1 568.5h0M372.5 558.4h0M405.7 585.5h0M406.9 585.8h0M405.7 584.5h0M402.1 584.3h0M405 584.5h0M407.5 584.1h0M407.8 584.6h0M405.8 585h0M406 585.7h0M406.7 585.2h0M402.6 585.4h0M406.1 585.6h0M402 584.4h0M403.1 585.8h0M407.7 585.6h0M406.7 584.6h0M406.4 586.1h0M402.5 584.6h0M401.5 585.5h0M405.8 584.2h0M406.8 583.8h0M407 585.7h0M405.3 572.6h0M434.8 586.8h0M432.6 586.6h0M437.8 585.5h0M439 585.7h0M436.3 586.7h0M434.8 586.6h0M432.8 585.5h0M431.8 585.3h0M436.4 585.4h0M437 586.6h0M438 585.6h0M432.2 585.5h0M433.1 585.6h0M436.8 586h0M436.6 585.9h0M434 585.5h0M431.4 586.1h0M432.3 586.7h0M439 586h0M465.1 588.5h0M465.4 588.1h0M469.4 588.1h0M462.3 588h0M462.7 588.3h0M463.8 588.4h0M466.7 588.2h0M464.2 588.4h0M462.4 588.5h0M469.8 588.1h0M466.8 588h0M466.3 588.3h0M464.1 587.9h0M495.9 581.9h0M496.3 581h0M499.7 583.2h0M495 580.6h0M498.5 581.5h0M499.8 582.4h0M494.6 582.2h0M495.5 579.9h0M499.6 583.1h0M497.7 579.7h0M493.6 580.4h0M494.2 582.5h0M497.7 580.3h0M495.8 583.3h0M494.9 582h0M494.8 581.1h0M497.4 582.8h0M494.2 579.9h0M493.7 583.6h0M497.3 582h0M498.2 581.2h0M500.7 580h0M498.6 583.1h0M499.8 580.3h0M494.3 579.7h0M494.5 582.2h0M494.4 580.3h0M500.7 583.1h0M496.3 582h0M497.5 583.5h0M497.2 582.8h0M496.1 579.3h0M497.6 579.1h0M529.7 578.1h0M529.6 581.3h0M529 579h0M525.9 578.4h0M525.4 580.6h0M528.8 581.8h0M530 582.3h0M529.4 580.8h0M527.9 578.1h0M530.5 578.5h0M527.9 578.5h0M529.7 579.9h0M525.7 579.6h0M528.5 578.5h0M528.9 579.3h0M527.7 579.1h0M524.8 580.9h0M528.1 580.6h0M524 578.1h0M531.3 580.9h0M530.8 579.1h0M526.9 581.6h0M530.8 580.1h0M528.1 579.6h0M527.6 578.2h0M528.7 578.5h0M529.5 579.9h0M526.3 579.8h0M528.6 579.4h0M525.8 580.6h0M526.3 581h0M527.7 579.8h0M529.2 579.8h0M530 583h0M526 563.7h0M529.2 565h0M531.7 562.2h0M526.4 560.9h0M524.2 564h0M527.4 559.9h0M525.3 562.8h0M530 559.1h0M524.9 576.6h0M529.1 560.4h0M528.9 567.1h0M524.3 575.2h0M530.3 552.7h0M561.4 588.2h0M562.4 588h0M561.3 588.5h0M560.2 587.9h0M559 588.2h0M556.5 587.9h0M558.3 588h0M557.2 588.4h0M562 587.8h0M559.2 587.8h0M561.3 588h0M559.5 588.4h0M559.1 588h0M591.3 581.4h0M589.2 582.8h0M587.1 581.2h0M593.1 579.9h0M587.2 583.4h0M591.4 580.2h0M587.1 582.6h0M592.5 583.3h0M587.2 581h0M591.9 581.1h0M585.9 581.8h0M590.8 582.5h0M586 582.4h0M590 581.4h0M588.4 580.4h0M593.4 580.7h0M589.9 580.4h0M586.3 583.1h0M590.9 582h0M589.6 581.1h0M591.2 581.4h0M592.1 581.3h0M591.5 581.6h0M590.3 582.2h0M590.7 581.6h0M589.3 579.6h0M589 580.6h0M587 579.6h0M591.1 580.3h0M589.8 580.1h0M586.8 580.4h0M588 574.3h0M587.6 575.7h0M590.2 578.6h0M586.8 579.5h0M589.5 576.1h0M589.1 575.7h0M592.5 547h0M590.1 501.6h0M617.5 567.5h0M619.3 566.8h0M619.7 569.1h0M624.3 566.2h0M620.1 569.1h0M619.4 570.3h0M617.1 571.4h0M616.7 565.8h0M623.4 571.3h0M620.2 567.2h0M624.4 567.7h0M622.5 573.4h0M618.5 566.3h0M618.1 570.2h0M624 573h0M616.8 569.4h0M619.6 572.1h0M619.3 570.8h0M621.5 570.7h0M624.1 566h0M623.8 568.7h0M620.4 570h0M619.1 566.3h0M620.4 569.4h0M620.1 568.2h0M621.3 567.1h0M622.4 567h0M617.1 570.5h0M623.6 570.7h0M623.3 567.4h0M620.7 568h0M621.2 567.8h0M617.6 566.6h0M623.7 568.6h0M619.8 570.6h0M623.9 568.5h0M618.4 565.5h0M623.6 567.7h0M618 567.7h0M623.1 569.3h0M621.2 567.5h0M622 568h0M623.9 565.8h0M623.3 574h0M623 574.2h0M620.4 568.9h0M619.2 568.6h0M620.7 573.6h0M618.5 574.5h0M623.8 575.3h0M617.2 573.6h0M617.3 565.4h0M620.5 566.7h0M619.1 567.2h0M618.2 566.1h0M618.5 572h0M622.2 572.3h0M617.4 571.2h0M618.9 566.4h0M616.9 565.7h0M621.1 566.4h0M619 569.9h0M621.7 567.2h0M617.5 565.4h0M617.1 558.4h0M619 563.4h0M619.1 563.6h0M618.1 562.9h0M621.7 563.1h0M654.9 562.6h0M650.3 569.6h0M648.2 569.4h0M650.5 560.9h0M648.2 567.6h0M655.1 565.3h0M650.3 558.7h0M652.5 568.8h0M650.6 565.7h0M652.6 566.2h0M654 571.2h0M655.1 563.8h0M651.9 560h0M650.5 562.7h0M653.1 571.2h0M650.9 559.3h0M648.6 559.7h0M654.1 558.6h0M654.8 565.3h0M654.8 561.7h0M650.6 558.6h0M650.4 567.4h0M654.2 568.6h0M653 570.2h0M648.3 558.7h0M651.7 570.2h0M654.6 566h0M652.9 560.4h0M653.5 561h0M652.6 561.2h0M649.4 563.6h0M653 566.7h0M654.9 560.4h0M652.8 565h0M648.9 564.7h0M650.9 567h0M651.6 561.3h0M650.5 567.1h0M652.7 558.3h0M651.4 563.7h0M647.7 558.5h0M652.1 568.5h0M650 562.8h0M651.1 558.5h0M650.7 566.6h0M654.4 563.5h0M648.6 572.1h0M649.8 570.1h0M654.6 566.5h0M649.8 564.7h0M650.5 563.1h0M648.7 559.3h0M650.8 562.6h0M653.4 562.2h0M651.1 563.4h0M654 558.4h0M651 563.4h0M654.7 559.3h0M652.5 559.5h0M653.4 561.5h0M647.7 562.3h0M653.5 558.6h0M648.6 560.3h0M654.7 563.2h0M652.6 564.6h0M653.4 561.1h0M647.7 558.2h0M648.5 565.2h0M649.9 561h0M649.4 563.2h0M654.3 560.9h0M648.3 561.3h0M653.5 567.6h0M648.1 563h0M647.6 561.7h0M652.5 562.1h0M648.6 563.2h0M651.3 568.1h0M650.3 558.3h0M648 557.3h0M651 557.1h0M654.1 557.9h0M649.5 547h0M654.1 491.6h0" stroke="#e0251f" stroke-width="2.9" stroke-linecap="round" stroke-opacity="0.85"/>
<ellipse cx="82.8" cy="588.2" rx="3.4" ry="1.35" fill="#000"/>
<circle cx="82.8" cy="588.2" r="0.95" fill="#fff"/>
<ellipse cx="95.2" cy="588.9" rx="3.4" ry="1.35" fill="#000"/>
<circle cx="95.2" cy="588.9" r="0.95" fill="#fff"/>
<ellipse cx="113.7" cy="588.2" rx="3.4" ry="1.35" fill="#000"/>
<circle cx="113.7" cy="588.2" r="0.95" fill="#fff"/>
<ellipse cx="126.1" cy="588.9" rx="3.4" ry="1.35" fill="#000"/>
<circle cx="126.1" cy="588.9" r="0.95" fill="#fff"/>
<ellipse cx="144.6" cy="588.2" rx="3.4" ry="1.35" fill="#000"/>
<circle cx="144.6" cy="588.2" r="0.95" fill="#fff"/>
<ellipse cx="157" cy="588.9" rx="3.4" ry="1.35" fill="#000"/>
<circle cx="157" cy="588.9" r="0.95" fill="#fff"/>
<ellipse cx="175.5" cy="588.2" rx="3.4" ry="1.35" fill="#000"/>
<circle cx="175.5" cy="588.2" r="0.95" fill="#fff"/>
<ellipse cx="187.9" cy="588.2" rx="3.4" ry="1.35" fill="#000"/>
<circle cx="187.9" cy="588.2" r="0.95" fill="#fff"/>
<ellipse cx="206.4" cy="588.9" rx="3.4" ry="1.35" fill="#000"/>
<circle cx="206.4" cy="588.9" r="0.95" fill="#fff"/>
<ellipse cx="218.8" cy="588.9" rx="3.4" ry="1.35" fill="#000"/>
<circle cx="218.8" cy="588.9" r="0.95" fill="#fff"/>
<ellipse cx="237.3" cy="588.9" rx="3.4" ry="1.35" fill="#000"/>
<circle cx="237.3" cy="588.9" r="0.95" fill="#fff"/>
<ellipse cx="249.7" cy="588.9" rx="3.4" ry="1.35" fill="#000"/>
<circle cx="249.7" cy="588.9" r="0.95" fill="#fff"/>
<ellipse cx="268.2" cy="589.2" rx="3.4" ry="1.35" fill="#000"/>
<circle cx="268.2" cy="589.2" r="0.95" fill="#fff"/>
<ellipse cx="280.6" cy="589.2" rx="3.4" ry="1.35" fill="#000"/>
<circle cx="280.6" cy="589.2" r="0.95" fill="#fff"/>
<ellipse cx="299.1" cy="589.5" rx="3.4" ry="1.35" fill="#000"/>
<circle cx="299.1" cy="589.5" r="0.95" fill="#fff"/>
<ellipse cx="311.5" cy="589.5" rx="3.4" ry="1.35" fill="#000"/>
<circle cx="311.5" cy="589.5" r="0.95" fill="#fff"/>
<ellipse cx="330" cy="589.5" rx="3.4" ry="1.35" fill="#000"/>
<circle cx="330" cy="589.5" r="0.95" fill="#fff"/>
<ellipse cx="342.4" cy="589.5" rx="3.4" ry="1.35" fill="#000"/>
<circle cx="342.4" cy="589.5" r="0.95" fill="#fff"/>
<ellipse cx="360.9" cy="583.9" rx="3.4" ry="1.35" fill="#000"/>
<circle cx="360.9" cy="583.9" r="0.95" fill="#fff"/>
<ellipse cx="373.3" cy="584.6" rx="3.4" ry="1.35" fill="#000"/>
<circle cx="373.3" cy="584.6" r="0.95" fill="#fff"/>
<ellipse cx="391.8" cy="588.2" rx="3.4" ry="1.35" fill="#000"/>
<circle cx="391.8" cy="588.2" r="0.95" fill="#fff"/>
<ellipse cx="404.2" cy="588.2" rx="3.4" ry="1.35" fill="#000"/>
<circle cx="404.2" cy="588.2" r="0.95" fill="#fff"/>
<ellipse cx="422.7" cy="588.2" rx="3.4" ry="1.35" fill="#000"/>
<circle cx="422.7" cy="588.2" r="0.95" fill="#fff"/>
<ellipse cx="435.1" cy="588.2" rx="3.4" ry="1.35" fill="#000"/>
<circle cx="435.1" cy="588.2" r="0.95" fill="#fff"/>
<ellipse cx="453.6" cy="589.3" rx="3.4" ry="1.35" fill="#000"/>
<circle cx="453.6" cy="589.3" r="0.95" fill="#fff"/>
<ellipse cx="466" cy="589.3" rx="3.4" ry="1.35" fill="#000"/>
<circle cx="466" cy="589.3" r="0.95" fill="#fff"/>
<ellipse cx="484.5" cy="585.3" rx="3.4" ry="1.35" fill="#000"/>
<circle cx="484.5" cy="585.3" r="0.95" fill="#fff"/>
<ellipse cx="496.9" cy="585.3" rx="3.4" ry="1.35" fill="#000"/>
<circle cx="496.9" cy="585.3" r="0.95" fill="#fff"/>
<ellipse cx="515.4" cy="583.9" rx="3.4" ry="1.35" fill="#000"/>
<circle cx="515.4" cy="583.9" r="0.95" fill="#fff"/>
<ellipse cx="527.8" cy="584.6" rx="3.4" ry="1.35" fill="#000"/>
<circle cx="527.8" cy="584.6" r="0.95" fill="#fff"/>
<ellipse cx="546.3" cy="588.9" rx="3.4" ry="1.35" fill="#000"/>
<circle cx="546.3" cy="588.9" r="0.95" fill="#fff"/>
<ellipse cx="558.7" cy="589.2" rx="3.4" ry="1.35" fill="#000"/>
<circle cx="558.7" cy="589.2" r="0.95" fill="#fff"/>
<ellipse cx="577.2" cy="585.3" rx="3.4" ry="1.35" fill="#000"/>
<circle cx="577.2" cy="585.3" r="0.95" fill="#fff"/>
<ellipse cx="589.6" cy="586.1" rx="3.4" ry="1.35" fill="#000"/>
<circle cx="589.6" cy="586.1" r="0.95" fill="#fff"/>
<ellipse cx="608.1" cy="581.1" rx="3.4" ry="1.35" fill="#000"/>
<circle cx="608.1" cy="581.1" r="0.95" fill="#fff"/>
<ellipse cx="620.5" cy="581.1" rx="3.4" ry="1.35" fill="#000"/>
<circle cx="620.5" cy="581.1" r="0.95" fill="#fff"/>
<ellipse cx="639" cy="576.8" rx="3.4" ry="1.35" fill="#000"/>
<circle cx="639" cy="576.8" r="0.95" fill="#fff"/>
<ellipse cx="651.4" cy="578.2" rx="3.4" ry="1.35" fill="#000"/>
<circle cx="651.4" cy="578.2" r="0.95" fill="#fff"/>
<path d="M82.8 579.1V577.5H95.2V579.1" fill="none" stroke="#222" stroke-width="0.8"/>
<text x="89" y="578.3" text-anchor="middle" fill="#222" font-size="10">***</text>
<path d="M113.7 579.1V577.5H126.1V579.1" fill="none" stroke="#222" stroke-width="0.8"/>
<text x="119.9" y="578.3" text-anchor="middle" fill="#222" font-size="10">***</text>
<path d="M144.6 579.1V577.5H157V579.1" fill="none" stroke="#222" stroke-width="0.8"/>
<text x="150.8" y="578.3" text-anchor="middle" fill="#222" font-size="10">***</text>
<path d="M175.5 579.1V577.5H187.9V579.1" fill="none" stroke="#222" stroke-width="0.8"/>
<text x="181.7" y="578.3" text-anchor="middle" fill="#222" font-size="10">**</text>
<path d="M360.9 556.4V554.8H373.3V556.4" fill="none" stroke="#222" stroke-width="0.8"/>
<text x="367.1" y="555.6" text-anchor="middle" fill="#222" font-size="10">**</text>
<path d="M422.7 577V575.4H435.1V577" fill="none" stroke="#222" stroke-width="0.8"/>
<text x="428.9" y="576.2" text-anchor="middle" fill="#222" font-size="10">**</text>
<path d="M484.5 569.9V568.3H496.9V569.9" fill="none" stroke="#222" stroke-width="0.8"/>
<text x="490.7" y="569.1" text-anchor="middle" fill="#222" font-size="10">*</text>
<path d="M515.4 547.9V546.3H527.8V547.9" fill="none" stroke="#222" stroke-width="0.8"/>
<text x="521.6" y="547.1" text-anchor="middle" fill="#222" font-size="10">***</text>
<path d="M577.2 498.6V497H589.6V498.6" fill="none" stroke="#222" stroke-width="0.8"/>
<text x="583.4" y="497.8" text-anchor="middle" fill="#222" font-size="10">**</text>
<text transform="translate(93.3 603.4) rotate(-45)" text-anchor="end" fill="#111" font-size="8.3">Macrophage</text>
<text transform="translate(124.2 603.4) rotate(-45)" text-anchor="end" fill="#111" font-size="8.3">Macrophage M1</text>
<text transform="translate(155.1 603.4) rotate(-45)" text-anchor="end" fill="#111" font-size="8.3">Macrophage M2</text>
<text transform="translate(186 603.4) rotate(-45)" text-anchor="end" fill="#111" font-size="8.3">Mast cell</text>
<text transform="translate(216.9 603.4) rotate(-45)" text-anchor="end" fill="#111" font-size="8.3">B cell memory</text>
<text transform="translate(247.8 603.4) rotate(-45)" text-anchor="end" fill="#111" font-size="8.3">Monocyte</text>
<text transform="translate(278.7 603.4) rotate(-45)" text-anchor="end" fill="#111" font-size="8.3">B cell naive</text>
<text transform="translate(309.6 603.4) rotate(-45)" text-anchor="end" fill="#111" font-size="8.3">Neutrophil</text>
<text transform="translate(340.5 603.4) rotate(-45)" text-anchor="end" fill="#111" font-size="8.3">NK cell</text>
<text transform="translate(371.4 603.4) rotate(-45)" text-anchor="end" fill="#111" font-size="8.3">T cell NK</text>
<text transform="translate(402.3 603.4) rotate(-45)" text-anchor="end" fill="#111" font-size="8.3">Plasmacytoid dendritic cell</text>
<text transform="translate(433.2 603.4) rotate(-45)" text-anchor="end" fill="#111" font-size="8.3">B cell plasma</text>
<text transform="translate(464.1 603.4) rotate(-45)" text-anchor="end" fill="#111" font-size="8.3">T cell gamma delta</text>
<text transform="translate(495 603.4) rotate(-45)" text-anchor="end" fill="#111" font-size="8.3">T cell CD4+ Th1</text>
<text transform="translate(525.9 603.4) rotate(-45)" text-anchor="end" fill="#111" font-size="8.3">T cell CD4+ Th2</text>
<text transform="translate(556.8 603.4) rotate(-45)" text-anchor="end" fill="#111" font-size="8.3">T cell regulatory (Tregs)</text>
<text transform="translate(587.7 603.4) rotate(-45)" text-anchor="end" fill="#111" font-size="8.3">immune score</text>
<text transform="translate(618.6 603.4) rotate(-45)" text-anchor="end" fill="#111" font-size="8.3">stroma score</text>
<text transform="translate(649.5 603.4) rotate(-45)" text-anchor="end" fill="#111" font-size="8.3">microenvironment score</text>
<text x="603.3" y="467.3" fill="#111" font-size="8.2">COMP expression</text>
<circle cx="606.3" cy="474.6" r="1.6" fill="#3c6aaa" fill-opacity="0.85"/>
<circle cx="606.3" cy="484.6" r="1.6" fill="#e43c40" fill-opacity="0.85"/>
<text x="615.5" y="477.6" fill="#111" font-size="8.2">High</text>
<text x="615.5" y="487.6" fill="#111" font-size="8.2">Low</text>
<rect x="6.5" y="682.4" width="675.9" height="177.2" fill="none" stroke="#333" stroke-width="1.3"/>
<line x1="195" y1="682.4" x2="195" y2="859.6" stroke="#333" stroke-width="1.3"/>
<text x="100.5" y="696.3" text-anchor="middle" font-weight="bold" fill="#111" font-size="10">COMP (P49747)</text>
<polyline points="109.2,845 113.6,832.8 123.8,825.5 138.4,822.6 145.7,820.4 153,827.7" fill="none" stroke="#aba4d6" stroke-width="6.5" stroke-linecap="round" stroke-linejoin="round"/>
<polygon points="130,740.5 125.5,750 123.5,758 120,767 118,775 115.5,785 110.5,795 108,799.2 101.9,813.8 97.5,828.4 91,843 91,850 96,856 108,856.5 113.6,851.8 108,846 104.8,840 112.1,828.4 118,813.8 125.3,799.2 128.6,794.5 135.5,784.6 133,779.9 135.9,766.8 141.7,753.6 141.7,740.5 143,736" fill="#574fa8" stroke="#574fa8" stroke-width="1.2" stroke-linejoin="round"/>
<path d="M130.3 740.9h0M129.2 743.4h0M127.7 745.8h0M127.1 747.2h0M125.2 750.1h0M124.2 752.3h0M124.7 755.7h0M123.9 757.6h0M121.9 760.4h0M120.8 763.7h0M120.4 766.7h0M119.4 769.9h0M119.2 772.6h0M118.5 774.8h0M116.8 777.9h0M116.1 781.8h0M115.7 784.8h0M114.6 787.5h0M113 790.2h0M112.3 791.9h0M110.9 794.4h0M107.8 799.3h0M106.4 801.3h0M105.6 804.4h0M105.5 806.3h0M104 809.3h0M103.2 811.7h0M101.3 814.3h0M100.8 816.9h0M99.9 820.1h0M99 822.3h0M97.9 825.1h0M98.1 828h0M97 830.9h0M95 833.4h0M94.2 835.6h0M93.7 837.6h0M92.5 840.1h0M91.5 843.2h0M90.5 846.4h0M91.4 849.8h0M93.3 852.4h0M94.3 854h0M96 855.7h0M98.6 856h0M102.6 856.4h0M104.8 855.9h0M108.3 856.9h0M111.1 854.5h0M113.8 852.1h0M112 849.6h0M110.2 848.2h0M108.5 846.2h0M105.8 843.1h0M105 840h0M106.4 838h0M107.9 835.6h0M109 833.5h0M110.9 831.3h0M112.1 828.4h0M113.5 826.5h0M114.3 823.8h0M114.7 821.4h0M116.2 818.6h0M117.3 816.4h0M117.4 813.4h0M119.4 811h0M120.6 808.4h0M121.3 806h0M122.6 803.7h0M123.5 801.6h0M125.4 799.3h0M127.4 796.3h0M128.3 794.4h0M130.7 791.9h0M132.2 789.1h0M133.6 787.2h0M135.9 784.5h0M134.4 782.1h0M133.1 780h0M134.1 777.4h0M134.6 774.1h0M134.8 772.2h0M135.5 769.9h0M135.8 766.5h0M137.6 764h0M138.7 761.6h0M140 758.9h0M140.3 756.8h0M141.4 753.6h0M141.8 750.9h0M142 748.8h0M141.7 745.5h0M142 742.8h0M141.3 741.1h0M143.1 736h0M140.5 737.2h0M138.1 737.6h0M135 738.5h0M132.6 739.4h0" stroke="#574fa8" stroke-width="3.3" stroke-linecap="round"/>
<polygon points="13.8,740.4 16.8,737.4 25.5,728.7 31.4,726.5 43,727.2 46.7,730.9 56.2,732.3 62,726.5 69.3,725 70,717.7 76.6,713.4 82.5,711.9 86.8,715.5 87.6,725.8 92.7,726.5 99,725 104.5,716.4 112.5,715.7 121.3,712.7 128.6,708.4 137.3,702.5 138.8,699.6 146.1,698.9 153.4,697.4 159.2,693 168,691.6 176.8,693 182.6,690.8 187,692.3 184,698.9 188.4,705.4 190.6,712 187,716.4 176.8,718.6 170.9,725.9 163.6,723.7 156.3,725.9 149,728.8 143.2,733.2 137.3,738.3 124.2,742.7 116.9,743.4 118,748 117.5,753.6 114.5,760.9 110.5,766.8 108,775.5 105.5,781 100.5,791.9 104.1,800.7 97.5,808 89.8,811.2 78,806.8 63.5,802.4 59.1,795.1 51.8,789.3 48.9,780.5 51.8,774.7 38.7,767.4 34.3,761.5 27,755.7 19.7,751.3 15.3,745.5" fill="#4c4599" stroke="#4c4599" stroke-width="1.2" stroke-linejoin="round"/>
<path d="M13.3 740.3h0M16.3 737.3h0M19.3 735.5h0M21.2 732.8h0M22.9 730.5h0M25.9 729.1h0M28.1 727.4h0M31.7 726.9h0M33.8 726.8h0M37.2 726.5h0M39.6 727.5h0M43.1 727h0M44.9 729.5h0M46.7 730.8h0M49.8 731h0M53.4 731.3h0M56.4 732h0M58.1 730.2h0M59.7 728.3h0M62.2 726.2h0M65.9 725.5h0M69.8 724.5h0M69.3 721.7h0M69.7 717.5h0M72.2 715.7h0M74.9 715.4h0M77.2 712.8h0M80.1 713h0M83 712h0M84.4 713.3h0M86.4 715.4h0M86.9 718.3h0M86.9 722.7h0M87.3 725.3h0M92.6 726.1h0M95.3 725.4h0M98.6 724.4h0M100.5 722.7h0M102.7 719.6h0M105.1 716.4h0M107.1 715.6h0M109.5 716.4h0M112.5 715.1h0M115.1 714.3h0M118.8 713.3h0M121.8 712.8h0M123.6 711.7h0M126.5 710.1h0M128.1 708.1h0M131.3 707.4h0M133.1 705.8h0M135.5 704h0M137.5 702.2h0M139.3 699.1h0M143 699.5h0M146.6 698.5h0M150 697.6h0M153.6 697.5h0M156.8 694.9h0M159.7 692.4h0M161.7 692.9h0M165.5 692.1h0M167.6 691.8h0M171.4 692.4h0M173.9 692h0M176.9 693h0M179.8 691.5h0M182.9 690.8h0M187.4 692.7h0M185.6 695.5h0M183.8 698.6h0M186 700.6h0M187.1 703.7h0M188.3 705.8h0M189 709.2h0M190.4 712.4h0M189.2 713.8h0M186.6 716h0M184.3 717h0M182.2 716.9h0M179.4 718h0M176.8 718.1h0M175.3 720.9h0M173.4 723.6h0M171 725.7h0M167.2 725.3h0M164 724h0M159.9 724.4h0M156.1 726.1h0M153.4 726.4h0M151 728.3h0M149.1 728.6h0M145.6 730.9h0M142.8 733.4h0M140 735.2h0M137.8 738.7h0M135 739.7h0M132.2 740.1h0M130 741.3h0M126.4 742h0M124.5 742.8h0M120.3 743.6h0M117 743.9h0M117.8 747.7h0M117.9 751.4h0M117.4 753.5h0M116.2 755.9h0M115.1 758.5h0M114.6 760.7h0M112.6 763.4h0M111.1 767.4h0M109.8 769.5h0M108.5 772.3h0M108.5 775.8h0M106.4 778h0M105.1 781.3h0M104.3 784.3h0M103 786h0M101.2 789h0M100 792.5h0M102.2 795.1h0M103.1 798.3h0M104.4 800.8h0M102.2 803.2h0M99.3 806h0M97 807.6h0M94.6 808.9h0M92.8 809.9h0M89.7 810.6h0M86.3 810.7h0M83.5 809.4h0M80.6 808h0M78.3 806.4h0M75.7 806.2h0M72.7 804.9h0M69.7 804.3h0M66.5 803.8h0M63.7 802.9h0M61.5 800.1h0M61 797.7h0M59.6 795.3h0M57.1 793.6h0M54.7 791.4h0M51.9 789.3h0M50.7 785.9h0M49.9 783.5h0M48.6 780.1h0M50.7 778.1h0M51.3 775.3h0M49.2 772.6h0M46.7 771.9h0M44.2 769.8h0M40.9 768.7h0M39 767.8h0M36.4 764.6h0M34.2 762.1h0M32.3 759.3h0M29.8 757.9h0M26.6 755.1h0M25.1 754h0M22 752.9h0M19.5 751.4h0M17.5 747.8h0M15 746h0M14.9 742.5h0" stroke="#4c4599" stroke-width="3.3" stroke-linecap="round"/>
<ellipse cx="169.5" cy="702" rx="4.2" ry="3" fill="#fff"/>
<clipPath id="pc"><polygon points="13.8,740.4 16.8,737.4 25.5,728.7 31.4,726.5 43,727.2 46.7,730.9 56.2,732.3 62,726.5 69.3,725 70,717.7 76.6,713.4 82.5,711.9 86.8,715.5 87.6,725.8 92.7,726.5 99,725 104.5,716.4 112.5,715.7 121.3,712.7 128.6,708.4 137.3,702.5 138.8,699.6 146.1,698.9 153.4,697.4 159.2,693 168,691.6 176.8,693 182.6,690.8 187,692.3 184,698.9 188.4,705.4 190.6,712 187,716.4 176.8,718.6 170.9,725.9 163.6,723.7 156.3,725.9 149,728.8 143.2,733.2 137.3,738.3 124.2,742.7 116.9,743.4 118,748 117.5,753.6 114.5,760.9 110.5,766.8 108,775.5 105.5,781 100.5,791.9 104.1,800.7 97.5,808 89.8,811.2 78,806.8 63.5,802.4 59.1,795.1 51.8,789.3 48.9,780.5 51.8,774.7 38.7,767.4 34.3,761.5 27,755.7 19.7,751.3 15.3,745.5"/><polygon points="130,740.5 125.5,750 123.5,758 120,767 118,775 115.5,785 110.5,795 108,799.2 101.9,813.8 97.5,828.4 91,843 91,850 96,856 108,856.5 113.6,851.8 108,846 104.8,840 112.1,828.4 118,813.8 125.3,799.2 128.6,794.5 135.5,784.6 133,779.9 135.9,766.8 141.7,753.6 141.7,740.5 143,736"/></clipPath>
<g clip-path="url(#pc)">
<path d="M96.1 753.1h0M37.7 835.5h0M14 774.8h0M174.5 704.3h0M112.6 793.8h0M20.2 754.1h0M139.4 766.3h0M143.3 717h0M55.6 709.3h0M103.9 845.1h0M119.1 820.1h0M81.9 815.4h0M31.1 739.4h0M134.2 812h0M88.7 705.4h0M60.8 725.9h0M63.4 826h0M48.7 838.8h0M171.1 699.9h0M81 772.9h0M17 761.7h0M176 709.5h0M120.2 711h0M117 840.3h0M49.3 692.2h0M27.8 780.9h0M15.9 705h0M102.2 844.6h0M88.4 757.3h0M127.8 706.4h0M117.2 719.6h0M122.4 850.8h0M22.6 783.5h0M121.9 715.7h0M61.1 856.9h0M192.4 711.1h0M139.8 849.6h0M55.4 792.9h0M20.5 751.9h0M134.1 789.4h0M152.2 705.3h0M75.3 835.1h0M117.9 766.2h0M85.2 855.5h0M116.2 693.9h0M156.7 745.7h0M90.8 726.4h0M92.7 745h0M28.8 795.9h0M31.4 821.7h0M17.4 821.2h0M158.2 773.9h0M140.5 732.3h0M145.6 761.8h0M54.4 851.8h0M85 753.1h0M167.6 752.5h0M133 719.4h0M164.6 734h0M21.9 853.7h0M43.9 848.9h0M190.3 792.1h0M14.9 701h0M50.3 755.7h0M122.9 852.2h0M76.6 714.3h0M113.9 713.7h0M28.4 783.6h0M138.1 701.8h0M94.1 808.3h0M150.4 754.8h0M172.5 719h0M141.6 819.7h0M171.2 773.4h0M30.7 698.9h0M108 719.7h0M126.1 704.9h0M153.2 727.9h0M15.1 720.2h0M95 784.2h0M82.7 719.7h0M99.6 848.9h0M109.2 848h0M18 856.7h0M172.8 781.7h0M107 780.5h0M176.5 701.8h0M128.5 781.3h0M66.9 811.9h0M142.5 708h0M138.7 766.5h0M101 797.1h0M22.3 791.5h0M80 837.5h0M54.4 828.3h0M144.1 795.2h0M170.5 696.8h0M120.3 793.2h0M134.9 758.7h0M25.2 722.4h0M122.3 721.1h0M24.5 750.1h0M97.4 780.2h0M17.5 820.3h0M72.9 821.5h0M14.3 850.1h0M119 853.9h0M190.3 829.9h0M31.9 749h0M54.4 821.1h0M47.4 727.7h0M32.7 710.9h0M181.7 853.8h0M79.8 814.6h0M97 778h0M79.3 796.8h0M55.3 733.6h0M106 723.8h0M91.9 848.4h0M16.8 708h0M156.8 700.5h0M58 833h0M121.7 727.7h0M23.3 736.8h0M66.8 824.4h0M188.4 822.1h0M175.1 846.2h0M170.6 844.4h0M187 706.6h0M70 732.1h0M121.6 772.9h0M75.2 830.6h0M84.6 725.7h0M62.5 767.9h0M122.7 785.7h0M92 721.9h0M85.2 745.1h0M43.5 781.6h0M46.7 809.6h0M131.4 713.8h0M125.4 747.2h0M93.3 792.1h0M149.9 838.4h0M144.8 726.1h0M110.3 746.8h0M16.2 783.1h0M97.5 835.6h0M71.1 830h0M105.3 707.3h0M141.8 738.3h0M108.8 702.7h0M14.7 844.6h0M20.4 715.7h0M42.2 706.8h0M161.1 857h0M129.7 756.8h0M172.7 775.3h0M37.1 806.1h0M77.4 735.9h0M70.5 755.1h0M45.6 793.1h0M169.1 786.1h0M14.5 805.1h0M16.4 770.8h0M168.6 803.9h0M176.3 816.8h0M61.9 714.8h0M94.1 804.3h0M54.6 746.1h0M147.5 748.9h0M121 781.9h0M180 695.2h0M46.4 820.8h0M133.2 706.9h0M37 726h0M110.6 841.5h0M51.8 724.7h0M136.2 761.5h0M165.2 857.6h0M181.3 810.3h0M102.1 701h0M158.3 757.4h0M96.2 796.4h0M186.3 783.6h0M178 851.8h0M28.1 750h0M172.7 819h0M187.2 721.9h0M108.4 846.6h0M110 802.8h0M188.3 719.7h0M23 833.4h0M117.4 724.3h0M162.6 738.1h0M36.2 740.5h0M19.3 758.6h0M153.1 766.6h0M186.4 697.8h0M44 714.8h0M116.2 724.1h0M132.9 778.2h0M117.4 831.9h0M155 844.8h0M40.2 754.1h0M185.7 757.1h0M64.2 771.3h0M45.4 832.5h0M127.3 706.6h0M186.4 777.7h0M58.5 793.1h0M183.7 748.7h0M15.3 723.8h0M23.4 779.1h0M68.9 833h0M49.9 693.3h0M96.4 711.4h0M68.7 728.5h0M44.9 797h0M181.3 752.6h0M127.7 744.8h0M177.5 783.1h0M18.1 814.7h0M50.6 698.6h0M16.3 831.1h0M140.6 750.6h0M113.2 808.6h0M26.4 808.7h0M140.4 848.2h0M23.4 786.4h0M104.3 832.1h0M78.3 801.4h0M174.3 749h0M105.6 840h0M18.9 853.5h0M69.1 767.2h0M64.6 824h0M108.7 815.7h0M31.5 837.8h0M160.6 804.4h0M52.9 734.2h0M94.2 701.7h0M184.4 758.9h0M184.4 721.3h0M129.5 824.2h0M128.8 761.5h0M16.2 763.5h0M83 848.6h0M188 850.6h0M189.2 719h0M18.1 739.6h0M14.2 710.6h0M116.7 724.4h0M122.7 754.4h0M62.1 852.7h0M46.3 838.2h0M107.6 801.5h0M38.7 815.2h0M172.9 723.9h0M97.9 799.9h0M98.2 816.4h0M128.8 743.2h0M135.4 819.9h0M96.2 789.4h0M127 770.4h0M28.8 758.9h0M152.8 811.7h0M26.2 770.6h0M118.6 779.8h0M39.8 798.8h0M138.3 780.3h0M181.9 787.3h0M15 738.4h0M139.2 704.1h0M186.5 807.5h0M150.5 719.2h0M14 836.6h0M104.8 764.6h0M106.1 819.1h0M79.9 819.8h0M41.9 854.5h0M138.1 744h0M98.7 838h0M71.4 807.5h0M176.5 851.2h0M58.8 823.5h0M122.4 825.8h0M25.3 759.8h0M94.1 826.8h0M94.2 697.8h0M50.5 829.7h0M171.7 786.6h0M27.2 819.9h0M168.7 738.8h0M99.5 739.3h0M22.4 813.4h0M41.4 705.3h0M176.5 706.9h0M149.6 826.9h0M57.9 753h0M52.9 809.1h0M188 815h0M101.5 780.5h0M86.2 810.1h0M61.3 731.8h0M138.1 733.4h0M190.7 812.2h0M45.9 694.4h0M120.5 713.2h0M102.8 791h0M158.3 755.6h0M111.1 826.8h0M37 746.9h0M158.4 750.6h0M180.3 704.8h0M28.1 751.5h0M96.3 752.2h0M52.5 765.6h0M173.7 847.4h0M125.5 733.7h0M117.6 717.1h0M24.1 823.6h0M60.9 717.6h0M160.4 711.2h0M55.4 716.1h0M173.4 804.6h0M45.4 702.8h0M176 712.3h0M141.4 806h0M118.7 770.8h0M87.6 737.8h0M129.2 716h0M98.6 734.3h0M79 839.6h0M114.9 798.6h0M129.3 691h0M153.7 836.9h0M147.1 778h0M165 848.5h0M62.6 718.2h0M73.6 693.8h0M55.1 704.6h0M14.4 757.6h0M13.9 771.1h0M165.9 809.9h0M22.2 812.4h0M47 825.4h0M128.7 781.7h0M91.3 854.5h0M50.6 840.9h0M49.7 706.5h0M51.6 697h0M162.3 721.7h0M116 736.6h0M77.3 822h0M111.7 735.4h0M146.9 714.8h0M20.1 806.8h0M166.2 818.6h0M138.3 846.2h0M179.5 785.5h0M44.7 787.5h0M89.7 809.1h0M75.6 702.9h0M47.6 714.6h0M144.7 805.8h0M108.7 743.9h0M144 765.5h0M101.8 723.6h0M192.3 764.7h0M97.6 725.5h0M93.4 769.4h0M89.3 815.1h0M73.1 794.8h0M133.4 713.4h0M160.9 702.5h0M59.2 829.6h0M34.2 736.9h0M87.1 848.7h0M187.2 727.2h0M128.2 829.3h0M105.3 743.3h0M40.2 702.5h0M20.8 698.8h0M143.1 789.5h0M24.9 847.2h0M190.2 760.1h0M78 837h0M132.6 815.2h0M45.6 812.5h0M92.4 700.1h0M21.4 734.9h0M55 735.6h0M176.9 757.2h0M50.2 708.3h0M22.8 758.6h0M88.5 704h0M105.8 748.3h0M16.2 769.9h0M41.2 720.9h0M148.2 762.4h0M77.1 783.4h0M144.9 795.5h0M183.7 810.3h0M74.2 850h0M15.6 722.2h0M34.7 754.5h0M76.5 755.8h0M126.7 748.9h0M99.7 803.9h0M179.5 850.7h0M79.1 755.1h0M191.2 831h0M170.7 709.9h0M64.9 761.7h0M68.4 768.2h0M182.7 755.6h0M103.9 744.9h0M118.8 781.9h0M45.5 700.7h0M148.2 829.5h0M73.7 724.1h0M31 794.9h0M117 847h0M134.8 786.5h0M119.8 842.6h0M178.5 718.8h0M34.8 712.2h0M15.1 833h0M186.2 774.4h0M149.6 801.4h0M130.9 756.4h0M185.1 742.2h0M30.8 699.6h0M154.6 821.1h0M166.3 824.3h0M53.5 751.5h0M63.3 835.2h0M13.1 741.8h0M130.4 797.2h0M13.3 709.6h0M43.2 727.4h0M104.9 695.9h0M161.8 768.6h0M130.2 751.2h0M165.5 708.2h0M168.8 732h0M105.4 784.7h0M133.8 781.4h0M142.4 699.3h0M109 774.4h0M124.3 708.6h0M140.2 704.4h0M21.2 699.5h0M189 717.9h0M136 700.2h0M121.8 727.1h0M120.7 814.1h0M134.6 781.1h0M142 691.1h0M22.6 730.4h0M94.2 818.3h0M17.5 725.2h0M107.2 745h0M27.6 738.1h0M17.5 693.2h0M164 743.5h0M141.6 731.9h0M145.9 838.3h0M16 791.4h0M176.3 819.3h0M34.6 812.8h0M148.7 717.5h0M131.2 794.9h0M48.7 827.8h0M167.1 703.3h0M97.7 789.1h0M14.2 777.2h0M181.6 746.3h0M101.9 847.3h0M170.1 849.9h0M29.1 857.8h0M72.5 750.9h0M46.1 825.5h0M118.8 767.4h0M102 776.5h0M117.7 716.1h0M142.3 734.6h0M16.5 850.7h0M30.4 824.7h0M150.9 762.3h0M122.5 731.1h0M51.7 838.3h0M147.7 819.1h0M95.2 696.7h0M152 851h0M70 795.3h0M39.4 851.4h0M140.6 701.4h0M138.9 803.7h0M91.3 788.5h0M180.5 804.7h0M98 852.5h0M127.7 820.4h0M112.8 817.2h0M152.1 774.2h0M96.5 723.9h0M130.3 812.2h0M86.7 701.9h0M139.8 799h0M129.3 716.3h0M172.3 812.4h0M156.9 715.5h0M61.7 779.8h0M13.8 853.3h0M44.2 716.1h0M155.9 730.2h0M116.3 799.6h0M49.4 699.1h0M139.4 836.9h0M158.3 708.1h0M73 766.4h0M18.7 838.4h0M161.9 852.6h0M177.5 830.6h0M66.4 799.7h0M170 692.1h0M26 855.6h0M29.2 842.4h0M81.2 731.6h0M80.5 838.1h0M129.4 711.6h0M160.7 748.7h0M161.4 774.6h0M167.9 782.5h0M76.4 856.3h0M189.4 782.2h0M106.8 791.5h0M134.4 736.1h0M180.3 761.1h0M192.2 786.6h0M177.9 844.7h0M62.3 696.6h0M117.3 786.7h0M73.4 749.9h0M62.1 706.3h0M95.4 778h0M91.5 831.9h0M91.3 816.7h0M148.6 775.3h0M96.5 729.9h0M136.3 835.6h0M187.6 824.7h0M187.2 788.3h0M94.2 854.8h0M133.7 702.6h0M166.5 790.2h0M166.8 758.6h0M126.5 790.5h0M123.4 838h0M83.8 803.3h0M182 705.6h0M166.9 806.2h0M92 697.2h0M101.8 718.4h0M47.9 775.1h0M125.6 846.4h0M126.3 819h0M111.1 695h0M72.1 710.5h0M121.8 741.6h0M122.7 747.1h0M20.9 728.8h0M180.7 765.9h0M132.2 781h0M95.9 804.9h0M175.8 796.3h0M154.7 749.1h0M62.6 692.5h0M108.9 701.3h0M61.1 768h0M80 725.5h0M88.4 844.2h0M114 801.4h0M192.6 797.7h0M184.1 806.9h0M158.4 792.3h0M192.7 782.6h0M73.4 800.1h0M29.6 761.7h0M182.4 715.1h0M86.4 741.5h0M124 833.5h0M70.6 785.8h0M18.4 730.7h0M88.3 797.6h0M171 839h0M104.4 734.3h0M160.8 832.1h0M155.4 802.3h0M126.3 756.5h0M115.6 752.2h0M139.6 837.5h0M67.3 813.6h0M31.1 705.6h0M46.8 739.2h0M90.9 755.7h0M175.8 699.8h0M168.7 730.9h0M67 768.9h0M92.9 786.1h0M18.7 790.1h0M20.4 717.9h0M63.5 776.3h0M144 696.4h0M18.2 759.6h0M54.1 810.4h0M159.2 841.9h0M190.4 851.5h0M55.9 785.5h0M36.2 781.7h0M138.8 796.5h0M189.5 753.5h0M89.2 841.3h0M156.6 721.8h0M83.9 820.2h0M23.5 827h0M173.8 799h0M34.2 783h0M40.5 839.2h0M57.8 699.3h0M94 730.4h0M168.1 720.6h0M34.3 753.2h0M92.1 781h0M185.9 757.3h0M170.3 712.7h0M99.5 839.5h0M163.2 798h0M28.6 857.6h0M77.6 801.8h0M30.7 707.3h0M87.4 822.8h0M148.8 755.3h0M58.8 786.9h0M92.7 732.4h0M35.6 700h0M28.7 820.6h0M184.7 824.8h0M133.5 765.4h0M62.5 770.7h0M85.1 829.5h0M185.9 758.1h0M62.5 812.7h0M178.8 852.8h0M189.2 823.5h0M162.1 769.6h0M137.7 726.6h0M192 730.1h0M150.6 822.2h0M170.9 752.5h0M100.4 693.6h0M170.7 787.4h0M38.3 747.7h0M82.4 770.1h0M67.7 735.2h0M106.9 816.9h0M97.4 765.2h0M81.7 847.5h0M149.7 806.2h0M23.3 818.1h0M90.8 806.7h0M97.3 704.4h0M111.2 812.2h0M43.4 793.3h0M61.3 692.7h0M21.4 756h0M57.4 720.4h0M72.1 821.8h0M105.2 786.5h0M175.4 730.6h0M173.6 804h0M142.5 844.4h0M41.4 757.9h0M109.7 779.4h0M190.3 730.3h0M61.5 820.6h0M155.6 744.5h0M22.4 773.9h0M114 834h0M116 781.6h0M153.3 801.6h0M125.6 693.7h0M140.1 764.2h0M110.4 781.2h0M153.4 718.1h0M170.2 714.4h0M160.5 832h0M19.2 782.8h0M160.7 743.6h0M40.4 848h0M52.5 856.8h0M74.2 848.5h0M112.9 703.7h0M54.6 792.7h0M14.8 729h0M79.1 708.4h0M182.6 777.5h0M78.2 751.7h0M32.6 791.5h0M133 815.5h0M168.1 835.1h0M79.9 729.3h0M29.3 806.7h0M128.6 709.3h0M142.4 838.9h0M18.1 795.6h0M153 814.3h0M62 753.6h0M28 727.7h0M117.1 840.2h0M74.2 801.7h0M181.4 810h0M51.5 746.2h0M180.8 693.4h0M101.5 751.7h0M44.6 784.5h0M69.3 736.7h0M161.5 808h0M172.5 691.5h0M157.8 769.7h0M103.4 844.4h0M107 841h0M155.5 702.6h0M169.1 742.4h0M109.7 775.8h0M125.9 701.8h0M107 802.1h0M64 822.5h0M105.3 766.6h0M46.6 718.1h0M76.7 770.9h0M180.7 806.1h0M41.9 730.5h0M178.1 696h0M180.5 825.2h0M167.9 722.1h0M165 772.1h0M91.6 735.8h0M73.9 805.6h0M62.9 852.4h0M153.4 838.5h0M134 812.9h0M58.1 713.5h0M30.1 796.3h0M175.7 751.6h0M110.3 735.1h0M130.5 841h0M141.7 771.2h0M176.3 764.9h0M183.7 827.3h0M143.1 802.4h0M84.5 755.2h0M73.6 804.3h0M169.9 726.3h0M101 739.6h0M66.6 724.8h0M168.1 766.6h0M156.7 719.1h0M147.6 785.2h0M182.1 760.8h0M68 702.4h0M155.4 819.8h0M15.8 776.2h0M137.8 749.9h0M33.4 752.9h0M118.9 771.2h0M125.9 691.1h0M96.8 756.7h0M175.2 826.7h0M173.1 766.7h0M144.6 801.6h0M172.5 754.5h0M138.8 772.3h0M88.1 736h0M27.5 744.1h0M114.3 849.2h0M44.4 838.8h0M154.6 814.9h0M98.7 771.1h0M118.5 818.9h0M172.8 692.5h0M173.1 825.1h0M170.7 742.2h0M68.7 832.4h0M167.2 759.7h0M88.7 736.7h0M41 718.7h0M68.6 722.3h0M120.6 817.8h0M108.2 738.7h0M54 767.6h0M42.7 759.9h0M41.4 809.4h0M148.2 706.9h0M41.4 745.4h0M50.3 841.9h0M97.1 694.4h0M76.2 800.5h0M177 748.1h0M177.8 720.4h0M57.2 809.6h0M120.2 756h0M36.6 778.9h0M54.5 839.9h0M187.5 800.9h0M124.1 708.4h0M29.1 761h0M81.2 807.1h0M181.2 768.3h0M140.8 854.1h0M52.3 697.9h0M35.4 819.6h0M113.6 809.3h0M187.9 711.9h0M119.9 774.1h0M96.5 774.2h0M111.6 820.7h0M105.5 827.7h0M76.1 842.2h0M116.9 806.4h0M103.5 807.1h0M94.2 807.5h0M160.9 692.8h0M96.8 744.7h0M26.4 700.3h0M146.1 696.8h0M131.5 700.5h0M42.8 765.4h0M142.8 808.8h0M89.5 775.7h0M126.5 698.9h0M87.6 771.6h0M14.9 777.1h0M103.7 808.5h0M35.5 827.4h0M128.9 748.1h0M18.2 829.7h0M129.2 856.9h0M188.3 733.2h0M124.7 772.6h0M153.7 761.1h0M113.3 699.7h0M179.3 699.7h0M98 826.4h0M52 738.2h0M130.5 705.3h0M103 855.6h0M61.3 812.3h0M104.7 760.5h0M101.8 854.9h0M36.6 787.2h0M76.7 713.4h0M69.8 839.2h0M96 765.6h0M184.9 696.9h0M117.2 843.3h0M192 743.3h0M68.2 812.9h0M96.2 700h0M38.2 835.9h0M113.4 836.5h0M157.2 741.6h0M86.5 758.2h0M99.2 733.9h0M79.1 732.3h0M76.1 801.1h0M95.8 700.3h0M121.5 845.6h0M183.1 824.9h0M169.3 721.1h0M158.6 750.1h0M67.9 757.6h0M180.2 809.3h0M137 743.8h0M141.1 726.1h0M93.7 825.8h0M190.3 788.3h0M112.5 762.2h0M34.1 795.9h0M124.1 699.7h0M74.6 742.9h0M174.3 823.7h0M64.8 741.6h0M75.8 710.8h0M56.9 735.4h0M46.5 801.6h0M23.2 822.8h0M146.1 732h0M76.7 793.9h0M185.2 711.1h0M150.8 738.6h0M151.7 812.4h0M78.5 720.2h0M74.9 803.9h0M126.2 725.3h0M58.5 754.8h0M15.1 786h0M169.5 705.3h0M24.8 813.7h0M140.5 834.7h0M99.3 851.8h0M165.5 740.8h0M77.6 698.9h0M107.4 796.7h0M113.5 783.9h0M178.1 840.2h0M65.6 696.5h0M33.5 850.2h0M57.8 852.3h0M126.4 691.7h0M99.8 723.9h0M72 749.8h0M48.1 692.5h0M22.2 850.3h0M84.8 777.3h0M31 771.2h0M152.8 840.7h0M57.4 854h0M145.9 741h0M35.5 731.7h0M51.7 713h0M122.9 837.4h0M101 819.7h0M170.2 855.7h0M106.7 796h0M135.1 843.3h0M129.7 815.5h0M115.2 824.4h0M161.9 710.3h0M179.9 757h0M128.9 825.6h0M24.2 795.4h0M132.5 785.3h0M106.6 804.5h0M91 778.5h0M164.5 820.3h0M127 850.7h0M132.6 814.5h0M120.5 787.7h0M149.1 834.1h0M104.4 698.4h0M83.9 744.6h0M163.9 814.9h0M136.4 826.6h0M108.5 770.8h0M19 759.3h0M152.4 719.7h0M105.8 738.6h0M54.8 732.7h0M57.1 811.8h0M57.6 843.9h0M20.8 854.4h0M161.4 841.3h0M60.4 690.9h0M151.6 779.7h0M43.3 839.1h0M67.5 718h0M154.6 811.3h0M42 739.9h0M119.7 799.2h0M163.6 720.9h0M182.2 742.6h0M42.2 808.2h0M117.9 779.8h0M111.9 806.2h0M118.7 756.5h0M75.3 715.6h0M31.1 746.2h0M29.3 825.8h0M21.8 793.3h0M104.8 832.7h0M133.1 762.6h0M51.2 794.3h0M34.2 729.7h0M171.1 832.9h0M182.5 845.4h0M112.4 706.3h0M142.1 836.1h0M27.8 762.2h0M162.4 729.1h0M64.8 737.3h0M170.4 696.8h0M39.8 741.9h0M96.1 775.4h0M183.2 697.6h0M67.1 777.5h0M25 737.2h0M187.9 854.3h0M115 851.6h0M59.2 825.6h0M148.7 848.9h0M49.6 786h0M184 818.5h0M120.8 764.5h0M172.2 836.7h0M42.8 830h0M69.3 826.9h0M57.6 791.5h0M186.3 719.6h0M108.6 719.1h0M28.6 691.7h0M65 722.6h0M153.6 708.2h0M86.2 695.2h0M20.6 802.3h0M149.6 793.2h0M119.6 691h0M88.4 729.5h0M144.6 806.6h0M87 755.5h0M16.9 767.9h0M19.5 843.7h0M25 820.5h0M119.2 788.9h0M52.5 764.2h0M83.6 743.9h0M138 726.8h0M40.1 796.4h0M31.3 847.9h0M117.3 706.8h0M175.7 782.5h0M35.1 773.7h0M162.1 737.8h0M126.4 742.1h0M25.1 768.6h0M83.2 758.9h0M171.2 842.1h0M105.5 811.6h0M161.2 751.9h0M147.7 705.5h0M54.7 738.3h0M120.3 702.4h0M186.4 785.5h0M159.4 755.2h0M171.3 802.1h0M147.7 762.5h0M82.5 816.4h0M38.9 739.6h0M86.2 771.9h0M25.4 738.8h0M59 827.5h0M158.1 832.9h0M165.6 846.3h0M177.5 769h0M41.8 743.9h0M88.3 741.5h0M17.1 762.3h0M191.2 702.7h0M82.3 719.9h0M64.4 827.8h0M111.7 812.8h0M36.5 767h0M109.2 718.9h0M81.2 764.7h0M155 853.8h0M141.6 847h0M107 742.3h0M17.7 721.9h0M166.2 823.9h0M148.8 694.8h0M118.5 707.1h0M47.3 789.2h0M115.3 832h0M103.5 839.5h0M170.4 814.8h0M32.6 775.6h0M19.9 744.5h0M154 749.3h0M175.6 817.8h0M116.3 738.2h0M73.3 835.9h0M148.6 774.7h0M76.3 770.2h0M78.9 695.5h0M81.1 852.3h0M174.8 765.5h0M138.6 809.1h0M39.3 843.1h0M120.2 692.5h0M112.6 729.9h0M129.2 857.7h0M54.8 808.8h0M159.9 787.6h0M97.5 827.3h0M109 770.7h0M122 710.5h0M166.4 845.8h0M75.7 773h0M46.3 772.7h0M40.3 719.4h0M78.9 849.8h0M139.9 720.2h0M112.6 802.1h0M80.1 852.7h0M183.5 761.4h0M132.4 851.6h0M176.7 837h0M74.7 855.2h0M137.4 737.4h0M112.4 766.3h0M125.4 831.4h0M27.4 814.2h0M184.7 711.5h0M151.3 787.9h0M125.2 768.7h0M131.9 736.2h0M19 722.6h0M18.5 707.2h0M32.8 700.5h0M117.5 823.3h0M50.6 804.5h0M115.2 702.1h0M47.1 782.4h0M145.7 846.3h0M22.6 764.9h0M150.7 767.5h0M70 718.8h0M55.4 802.4h0M32.5 719.7h0M48.4 814.5h0M25.4 836.7h0M121.2 853.8h0M114.4 772.3h0M114 828.6h0M44.3 701.4h0M79.8 729.9h0M191 855.3h0M109.6 786.3h0M35.5 719.3h0M61.8 761.3h0M151.3 746.8h0M86.9 699h0M152.6 784.4h0M141.9 721.5h0M82.9 766.9h0M130.8 701.8h0M134 781.4h0M67.8 745.6h0M187.1 707.3h0M153 811.1h0M96.8 703h0M68.9 851h0M187.6 710.1h0M134.9 855.9h0M36.3 852.3h0M122.1 715.6h0M65 790.1h0M35.5 734.6h0M162.6 726.4h0M152.1 845.8h0M177.9 701.5h0M67.2 750.6h0M94 694.4h0M107 713.8h0M171.1 800.6h0M68.9 792.8h0M46.5 841.6h0M99.4 763.4h0M104.6 733.7h0M60.2 848.4h0M159.5 786.3h0M18.8 792.4h0M170.8 695.3h0M70.8 853.5h0M180.2 741.6h0M15.7 741.3h0M71.1 719.8h0M106.5 797.7h0M152.8 817h0M133.1 707.5h0M78.1 764.4h0M132.2 691.9h0M115.4 793.5h0M120 837.9h0M153.3 696.7h0M177 735.2h0M61.7 767.5h0M174.8 741h0M51.4 741.9h0M14.4 742.9h0M72.9 834.4h0M157.5 705h0M106.7 823.3h0M21.2 717.1h0M119.1 749.4h0M168.4 775.9h0M174 778.9h0M131 693.9h0M116.1 752.1h0M87.3 745.1h0M150.6 745.5h0M88.4 817.6h0M104.6 751.4h0M115.4 694.9h0M116.4 692.5h0M139 726.5h0M34.1 781.7h0M127.7 835h0M157 711.4h0M54.9 779.4h0M177.4 761.6h0M131.5 747.6h0M142 694.3h0M68.7 792.6h0M147.5 765.6h0M46.1 786.5h0M190.6 776.3h0M121.5 829.6h0M147.9 831h0M129.8 782.7h0M172.2 814.6h0M112.5 716.5h0M40.8 753h0M191.5 834.5h0M131.3 791.6h0M69.5 711.5h0M27.1 798.6h0M84.9 698.1h0M125.3 758.3h0M155.4 827.5h0M12.8 693.1h0M101.6 715.1h0M95.1 836.7h0M70.4 715.4h0M137.8 713.5h0M188.2 827.9h0M160.2 781.5h0M64.3 824.4h0M35.4 796.4h0M33.7 694.2h0M183.7 853.7h0M190.3 754h0M70.9 810.6h0M69 832.3h0M177.5 719.2h0M19.1 742.6h0M80.4 820.8h0M99.4 754.9h0M183.8 691.5h0M25.8 692.5h0M13 838.2h0M139.3 848.7h0M50.4 838h0M40.3 775.3h0M180.8 773.6h0M20.7 777.1h0M85.1 775.7h0M46.1 736.4h0M141 704.4h0M22.9 851.6h0M82.1 741h0M78.8 789.6h0M18.4 786.2h0M191.8 772.2h0M180.8 847.4h0M86.9 747.7h0M18.7 775.7h0M169.2 855h0M127.4 701.8h0M136 705.9h0M85.3 804.4h0M122.6 800h0M90.7 782.8h0M147.5 838.6h0M43.1 750.4h0M135.3 693.5h0M79.4 743.8h0M179.9 746.4h0M94.6 831.1h0M37.6 789.6h0M18 709.8h0M169.6 712.8h0M22.1 729.3h0M174.3 709.5h0M165.9 742.2h0M48.1 728.7h0M146.8 792.8h0M87 719.6h0M13.6 775.2h0M162.9 708.8h0M56.8 764.6h0M129.6 698.5h0M33.8 811.7h0M106.6 856.7h0M49.2 751.8h0M78.3 807.9h0M45.4 792.5h0M50.4 744.5h0M80.4 814.7h0M150.2 787.9h0M62 722.5h0M83.7 831.6h0M182.6 840.1h0M154.5 741.8h0M16.9 771.5h0M104.9 716.4h0M153.8 786.2h0M42.6 810.3h0M119.6 819.7h0M54.2 838.2h0M147.9 735.3h0M119.9 724.9h0M91.9 804.1h0M162.8 800.4h0M76 722h0M127.1 801.8h0M142.7 822.9h0M142.6 845.4h0M118.6 717.8h0M70.7 716.6h0M148.9 807.1h0M14.9 796.3h0M115 738.6h0M155.7 731.8h0M147.7 732.3h0M124.1 754.5h0M65.5 816.4h0M96.7 851.4h0M36.3 777.7h0M60.1 834.3h0M147.4 755.6h0M58.1 722.7h0M29.3 790.6h0M184.2 730.7h0M109.8 741.5h0M134.8 811.6h0M171.1 785.1h0M179.3 692h0M153.2 704h0M96.5 702.3h0M134.1 743.4h0M84.8 846.6h0M91.3 757.1h0M63 701h0M34.2 811.6h0M102 693h0M170.7 717.1h0M53.8 766.1h0M165.7 799.7h0M50.3 739.7h0M79.7 723.4h0M152 732h0M100.8 699.9h0M61.4 735.4h0M142.4 838.9h0M137.9 782.8h0M148.1 797.7h0M19.1 784.2h0M24.9 720.4h0M141.1 795.6h0M14.3 710.1h0M19.5 807.2h0M192.4 712.6h0M126.9 832h0M141.6 792.1h0M151.6 708.1h0M180.9 789.2h0M155.6 826.7h0M80.3 833.3h0M44.6 835.4h0M22.3 771.6h0M18.7 755.6h0M180.6 800.8h0M52.2 827.9h0M121.5 744.8h0M32.8 716.8h0M94.5 745.1h0M58.4 728.8h0M57.7 811.6h0M63.8 844.8h0M94.6 760.8h0M69.3 838h0M45.8 736.8h0M103.7 783.6h0M59.7 811h0M77.1 806.3h0M44.9 772.6h0M161.5 760.4h0M155.4 762.8h0M67.1 815.1h0M157.6 835.6h0M25.6 795.3h0M163.9 822.7h0M86.1 840.4h0M40.6 774.2h0M74 839.8h0M121.2 802.6h0M137.1 703.1h0M48.6 753.7h0M103.7 728.9h0M87.9 738.8h0M102.2 817.2h0M45.4 793.9h0M80.1 755.9h0M17.3 718.8h0M162 845.8h0M37.8 812.5h0M54.7 720.3h0M72 828h0M71.8 722.1h0M126.2 824.4h0M181.7 798.3h0M116.3 829.6h0M146.9 835.8h0M130.7 698.7h0M155.1 857.3h0M157.4 703.4h0M27.2 803.7h0M162.6 824.8h0M33.7 766h0M21.8 810.9h0M125.3 762.4h0M112.6 768h0M21 736.4h0M136.9 754.7h0M186.5 818.3h0M64.9 724.5h0M157.8 813.9h0M24.2 736.2h0M154.6 719.2h0M95.6 791.7h0M66.6 790.3h0M149.8 834.9h0M25.6 818.9h0M128.8 847.6h0M86.9 816.1h0M98.5 849.4h0M31.6 742.7h0M118.6 837h0M96.8 827.2h0M153 849.6h0M101.2 827.9h0M151.9 700.3h0M161.7 794.2h0M174 712.1h0M139.6 697.2h0M187.1 793h0M20.9 812.1h0M174.5 852h0M106.6 734.1h0M60.7 835.6h0M33 761.9h0M186.5 795.3h0M38.9 806h0M115.3 829.2h0M52.7 844.3h0M143.1 702.4h0M179.4 830.6h0M34.4 698.1h0M20.6 803.3h0M54.2 745.7h0M133.8 729.6h0M98.8 755.4h0M192.2 835.9h0M68 845.8h0M67 755.1h0M20.5 796.2h0M71.8 725.8h0M166.2 718.5h0M75.9 730.5h0M163.1 777.7h0M23.1 753.6h0M99.7 691.1h0M191.4 817.7h0M30.1 735.7h0M148.3 710.2h0M157.7 803.7h0M65 849.2h0M20 716.5h0M22.3 754.8h0M43.7 720.4h0M29.9 722.2h0M171.4 707.7h0M39.4 722.5h0M191.7 727.3h0M25.7 696.1h0M51.7 701.6h0M89.7 691.2h0M36.7 782.4h0M169.8 779h0M45.2 747.8h0M38.1 796.7h0M128.1 744.2h0M110.7 704.2h0M166.8 787.8h0M177.6 851h0M148.8 692.3h0M99.5 811.8h0M57.6 807.1h0M188.7 775.5h0M85.3 774.6h0M74.1 757.4h0M115.7 723.9h0M148.9 734.9h0M122.8 812.4h0M72.6 824.1h0M177.7 739h0M125.8 753.8h0M169.4 843.5h0M93 814.7h0M140.1 741.8h0M51.1 762.4h0M54.4 836.3h0M48.1 754.5h0M42.5 772.8h0M137.4 839.2h0M128.9 755.1h0M142 846.7h0M158.1 775.2h0M67.6 788.4h0M64.8 703.7h0M105.3 712.5h0M103.6 815.2h0M133.8 841.7h0M61.1 833.9h0M154.9 705.7h0M98 843.5h0M96.1 702.3h0M103.6 829.9h0M40.5 820.1h0M65.3 810.2h0M183.2 718.3h0M187.1 733.7h0M179.9 748.4h0M108.7 855.2h0M137.5 767.9h0M13.4 758.7h0M55.1 781.5h0M128.4 730.2h0M84.8 810.8h0M105.2 786.8h0M147.1 759.4h0M17.8 787h0M139.1 811.7h0M44.4 812.6h0M173.1 830.7h0M174.2 702.3h0M155.3 853.6h0M73.3 841.8h0M170.1 805.5h0M109.5 819.1h0M36 850.2h0M56.8 695.9h0M94.8 751.9h0M153 803.2h0M32.6 774.6h0M129.3 790.7h0M51.9 790.3h0M33.8 754.8h0M177.8 843.4h0M65.4 732.3h0M35.4 730.4h0M116.7 766.4h0M70.6 691.3h0M115.1 766.2h0M48.9 743.1h0M56.6 699.7h0M59.1 803.5h0M65.3 845.3h0M89.6 844.5h0M48.3 848.4h0M49.9 715.2h0M51.5 734.6h0M165.6 781.7h0M92.3 722.8h0M30.6 821.8h0M54.1 711.9h0M117.7 813.1h0M59.7 767.9h0M147.6 701.2h0M131.5 737.6h0M86 776.9h0M95.3 843.6h0M27.3 691.3h0M33.8 790.2h0M56.5 763.2h0M106.6 796.2h0M67.2 704.8h0M124.1 818.6h0M83.9 749.7h0M127.8 724.8h0M114.4 721.3h0M161 814.5h0M33.4 841.2h0M55.9 699.7h0M73.6 813.9h0M33.5 840.7h0M87.7 785.3h0M90 768.8h0M116.6 754.6h0M59.6 736.5h0M52.9 734.9h0M154.5 751.9h0M158.1 824.7h0M87.6 854.7h0M40.4 763.5h0M85.8 698.9h0M20 856.9h0M68.8 856.6h0M142.1 855.3h0M85.4 784.4h0M14.1 734.5h0M34.9 771.1h0M176 741.5h0M83.3 815.7h0M115.8 771.5h0M80.7 772.3h0M39.5 716.3h0M136.1 721.9h0M23.4 852.7h0M28.2 790.5h0M143.7 702.9h0M182.3 826.1h0M136.3 788.2h0M106 694.4h0M122.7 829.5h0M133.8 805.5h0M108.1 751.9h0M68 737.1h0M150.5 805.6h0M180.3 777.8h0M30.3 784.9h0M154.5 697.5h0M34.5 769.1h0M50 810h0M171.4 814.6h0M122.3 848.2h0M28.9 822.3h0M179.7 751.5h0M59.4 755.7h0M141 804h0M101.5 706.4h0M18.6 807.3h0M140.9 736.5h0M169.5 790.3h0M128.9 773.6h0M100.5 816.7h0M62.8 817.1h0M114.4 746.8h0M163.2 731.9h0M151 725h0M88.7 800.8h0M161.8 811.6h0M164.4 793h0M48.4 728.6h0M182.4 717.3h0M145.2 810h0M170.5 810.5h0M184.4 710.6h0M187.1 839.4h0M118.2 727h0M123.8 697.1h0M17 795.3h0M68.7 781.7h0M13.3 821.5h0M13.9 821.3h0M127.1 747.8h0M188.6 776.3h0M183.5 780.6h0M36.1 767.2h0M174.6 724.4h0M47.7 698.7h0M88.6 836.5h0M99.6 783.4h0M37.8 769.6h0M167.9 853.4h0M147.3 796h0M102.1 744.5h0M188.3 699.9h0M108.6 724.7h0M85.5 729.6h0M159.1 796.2h0M185.4 726.2h0M160 837h0M107.4 759.5h0M142.1 828.8h0M86.6 760.8h0M74 748.6h0M126.2 752.4h0M107.6 725.6h0M37.3 786.5h0M141.2 755.1h0M147.2 791.3h0M155.2 811.3h0M77.8 807.6h0M185.2 826.3h0M172.7 723.4h0M85.3 786.6h0M119 728.9h0M76.5 711.2h0" stroke="#2c2570" stroke-width="2.6" stroke-linecap="round" stroke-opacity="0.5"/>
<path d="M94.9 751.9h0M36.5 834.3h0M12.8 773.6h0M173.3 703.1h0M111.4 792.6h0M19 752.9h0M138.2 765.1h0M142.1 715.8h0M54.4 708.1h0M102.7 843.9h0M117.9 818.9h0M80.7 814.2h0M29.9 738.2h0M133 810.8h0M87.5 704.2h0M59.6 724.7h0M62.2 824.8h0M47.5 837.6h0M169.9 698.7h0M79.8 771.7h0M15.8 760.5h0M174.8 708.3h0M119 709.8h0M115.8 839.1h0M48.1 691h0M26.6 779.7h0M14.7 703.8h0M101 843.4h0M87.2 756.1h0M126.6 705.2h0M116 718.4h0M121.2 849.6h0M21.4 782.3h0M120.7 714.5h0M59.9 855.7h0M191.2 709.9h0M138.6 848.4h0M54.2 791.7h0M19.3 750.7h0M132.9 788.2h0M151 704.1h0M74.1 833.9h0M116.7 765h0M84 854.3h0M115 692.7h0M155.5 744.5h0M89.6 725.2h0M91.5 743.8h0M27.6 794.7h0M30.2 820.5h0M16.2 820h0M157 772.7h0M139.3 731.1h0M144.4 760.6h0M53.2 850.6h0M83.8 751.9h0M166.4 751.3h0M131.8 718.2h0M163.4 732.8h0M20.7 852.5h0M42.7 847.7h0M189.1 790.9h0M13.7 699.8h0M49.1 754.5h0M121.7 851h0M75.4 713.1h0M112.7 712.5h0M27.2 782.4h0M136.9 700.6h0M92.9 807.1h0M149.2 753.6h0M171.3 717.8h0M140.4 818.5h0M170 772.2h0M29.5 697.7h0M106.8 718.5h0M124.9 703.7h0M152 726.7h0M13.9 719h0M93.8 783h0M81.5 718.5h0M98.4 847.7h0M108 846.8h0M16.8 855.5h0M171.6 780.5h0M105.8 779.3h0M175.3 700.6h0M127.3 780.1h0M65.7 810.7h0M141.3 706.8h0M137.5 765.3h0M99.8 795.9h0M21.1 790.3h0M78.8 836.3h0M53.2 827.1h0M142.9 794h0M169.3 695.6h0M119.1 792h0M133.7 757.5h0M24 721.2h0M121.1 719.9h0M23.3 748.9h0M96.2 779h0M16.3 819.1h0M71.7 820.3h0M13.1 848.9h0M117.8 852.7h0M189.1 828.7h0M30.7 747.8h0M53.2 819.9h0M46.2 726.5h0M31.5 709.7h0M180.5 852.6h0M78.6 813.4h0M95.8 776.8h0M78.1 795.6h0M54.1 732.4h0M104.8 722.6h0M90.7 847.2h0M15.6 706.8h0M155.6 699.3h0M56.8 831.8h0M120.5 726.5h0M22.1 735.6h0M65.6 823.2h0M187.2 820.9h0M173.9 845h0M169.4 843.2h0M185.8 705.4h0M68.8 730.9h0M120.4 771.7h0M74 829.4h0M83.4 724.5h0M61.3 766.7h0M121.5 784.5h0M90.8 720.7h0M84 743.9h0M42.3 780.4h0M45.5 808.4h0M130.2 712.6h0M124.2 746h0M92.1 790.9h0M148.7 837.2h0M143.6 724.9h0M109.1 745.6h0M15 781.9h0M96.3 834.4h0M69.9 828.8h0M104.1 706.1h0M140.6 737.1h0M107.6 701.5h0M13.5 843.4h0M19.2 714.5h0M41 705.6h0M159.9 855.8h0M128.5 755.6h0M171.5 774.1h0M35.9 804.9h0M76.2 734.7h0M69.3 753.9h0M44.4 791.9h0M167.9 784.9h0M13.3 803.9h0M15.2 769.6h0M167.4 802.7h0M175.1 815.6h0M60.7 713.6h0M92.9 803.1h0M53.4 744.9h0M146.3 747.7h0M119.8 780.7h0M178.8 694h0M45.2 819.6h0M132 705.7h0M35.8 724.8h0M109.4 840.3h0M50.6 723.5h0M135 760.3h0M164 856.4h0M180.1 809.1h0M100.9 699.8h0M157.1 756.2h0M95 795.2h0M185.1 782.4h0M176.8 850.6h0M26.9 748.8h0M171.5 817.8h0M186 720.7h0M107.2 845.4h0M108.8 801.6h0M187.1 718.5h0M21.8 832.2h0M116.2 723.1h0M161.4 736.9h0M35 739.3h0M18.1 757.4h0M151.9 765.4h0M185.2 696.6h0M42.8 713.6h0M115 722.9h0M131.7 777h0M116.2 830.7h0M153.8 843.6h0M39 752.9h0M184.5 755.9h0M63 770.1h0M44.2 831.3h0M126.1 705.4h0M185.2 776.5h0M57.3 791.9h0M182.5 747.5h0M14.1 722.6h0M22.2 777.9h0M67.7 831.8h0M48.7 692.1h0M95.2 710.2h0M67.5 727.3h0M43.7 795.8h0M180.1 751.4h0M126.5 743.6h0M176.3 781.9h0M16.9 813.5h0M49.4 697.4h0M15.1 829.9h0M139.4 749.4h0M112 807.4h0M25.2 807.5h0M139.2 847h0M22.2 785.2h0M103.1 830.9h0M77.1 800.2h0M173.1 747.8h0M104.4 838.8h0M17.7 852.3h0M67.9 766h0M63.4 822.8h0M107.5 814.5h0M30.3 836.6h0M159.4 803.2h0M51.7 733h0M93 700.5h0M183.2 757.7h0M183.2 720.1h0M128.3 823h0M127.6 760.3h0M15 762.3h0M81.8 847.4h0M186.8 849.4h0M188 717.8h0M16.9 738.4h0M13 709.4h0M115.5 723.2h0M121.5 753.2h0M60.9 851.5h0M45.1 837h0M106.4 800.3h0M37.5 814h0M171.7 722.7h0M96.7 798.7h0M97 815.2h0M127.6 742h0M134.2 818.7h0M95 788.2h0M125.8 769.2h0M27.6 757.7h0M151.6 810.5h0M25 769.4h0M117.4 778.6h0M38.6 797.6h0M137.1 779.1h0M180.7 786.1h0M13.8 737.2h0M138 702.9h0M185.3 806.3h0M149.3 718h0M12.8 835.4h0M103.6 763.4h0M104.9 817.9h0M78.7 818.6h0M40.7 853.3h0M136.9 742.8h0M97.5 836.8h0M70.2 806.3h0M175.3 850h0M57.6 822.3h0M121.2 824.6h0M24.1 758.6h0M92.9 825.6h0M93 696.6h0M49.3 828.5h0M170.5 785.4h0M26 818.7h0M167.5 737.6h0M98.3 738.1h0M21.2 812.2h0M40.2 704.1h0M175.3 705.7h0M148.4 825.7h0M56.7 751.8h0M51.7 807.9h0M186.8 813.8h0M100.3 779.3h0M85 808.9h0M60.1 730.6h0M136.9 732.2h0M189.5 811h0M44.7 693.2h0M119.3 712h0M101.6 789.8h0M157.1 754.4h0M109.9 825.6h0M35.8 745.7h0M157.2 749.4h0M179.1 703.6h0M26.9 750.3h0M95.1 751h0M51.3 764.4h0M172.5 846.2h0M124.3 732.5h0M116.4 715.9h0M22.9 822.4h0M59.7 716.4h0M159.2 710h0M54.2 714.9h0M172.2 803.4h0M44.2 701.6h0M174.8 711.1h0M140.2 804.8h0M117.5 769.6h0M86.4 736.6h0M128 714.8h0M97.4 733.1h0M77.8 838.4h0M113.7 797.4h0M128.1 689.8h0M152.5 835.7h0M145.9 776.8h0M163.8 847.3h0M61.4 717h0M72.4 692.6h0M53.9 703.4h0M13.2 756.4h0M12.7 769.9h0M164.7 808.7h0M21 811.2h0M45.8 824.2h0M127.5 780.5h0M90.1 853.3h0M49.4 839.7h0M48.5 705.3h0M50.4 695.8h0M161.1 720.5h0M114.8 735.4h0M76.1 820.8h0M110.5 734.2h0M145.7 713.6h0M18.9 805.6h0M165 817.4h0M137.1 845h0M178.3 784.3h0M43.5 786.3h0M88.5 807.9h0M74.4 701.7h0M46.4 713.4h0M143.5 804.6h0M107.5 742.7h0M142.8 764.3h0M100.6 722.4h0M191.1 763.5h0M96.4 724.3h0M92.2 768.2h0M88.1 813.9h0M71.9 793.6h0M132.2 712.2h0M159.7 701.3h0M58 828.4h0M33 735.7h0M85.9 847.5h0M186 726h0M127 828.1h0M104.1 742.1h0M39 701.3h0M19.6 697.6h0M141.9 788.3h0M23.7 846h0M189 758.9h0M76.8 835.8h0M131.4 814h0M44.4 811.3h0M91.2 698.9h0M20.2 733.7h0M53.8 734.4h0M175.7 756h0M49 707.1h0M21.6 757.4h0M87.3 702.8h0M104.6 747.1h0M15 768.7h0M40 719.7h0M147 761.2h0M75.9 782.2h0M143.7 794.3h0M182.5 809.1h0M73 848.8h0M14.4 721h0M33.5 753.3h0M75.3 754.6h0M125.5 747.7h0M98.5 802.7h0M178.3 849.5h0M77.9 753.9h0M190 829.8h0M169.5 708.7h0M63.7 760.5h0M67.2 767h0M181.5 754.4h0M102.7 743.7h0M117.6 780.7h0M44.3 699.5h0M147 828.3h0M72.5 722.9h0M29.8 793.7h0M115.8 845.8h0M133.6 785.3h0M118.6 841.4h0M177.3 717.6h0M33.6 711h0M13.9 831.8h0M185 773.2h0M148.4 800.2h0M129.7 755.2h0M183.9 741h0M29.6 698.4h0M153.4 819.9h0M165.1 823.1h0M52.3 750.3h0M62.1 834h0M11.9 740.6h0M129.2 796h0M12.1 708.4h0M42 726.2h0M103.7 694.7h0M160.6 767.4h0M129 750h0M164.3 707h0M167.6 730.8h0M104.2 783.5h0M132.6 780.2h0M141.2 698.1h0M107.8 773.2h0M123.1 707.4h0M139 703.2h0M20 698.3h0M187.8 716.7h0M134.8 699h0M120.6 725.9h0M119.5 812.9h0M133.4 779.9h0M140.8 689.9h0M21.4 729.2h0M93 817.1h0M16.3 724h0M106 743.8h0M26.4 736.9h0M16.3 692h0M162.8 742.3h0M140.4 730.7h0M144.7 837.1h0M14.8 790.2h0M175.1 818.1h0M33.4 811.6h0M147.5 716.3h0M130 793.7h0M47.5 826.6h0M165.9 702.1h0M96.5 787.9h0M13 776h0M180.4 745.1h0M100.7 846.1h0M168.9 848.7h0M27.9 856.6h0M71.3 749.7h0M44.9 824.3h0M117.6 766.2h0M100.8 775.3h0M116.5 714.9h0M141.1 733.4h0M15.3 849.5h0M29.2 823.5h0M149.7 761.1h0M121.3 729.9h0M50.5 837.1h0M146.5 817.9h0M94 695.5h0M150.8 849.8h0M68.8 794.1h0M38.2 850.2h0M139.4 700.2h0M137.7 802.5h0M90.1 787.3h0M179.3 803.5h0M96.8 851.3h0M126.5 819.2h0M111.6 816h0M150.9 773h0M95.3 722.7h0M129.1 811h0M85.5 700.7h0M138.6 797.8h0M128.1 715.1h0M171.1 811.2h0M155.7 714.3h0M60.5 778.6h0M12.6 852.1h0M43 714.9h0M154.7 729h0M115.1 798.4h0M48.2 697.9h0M138.2 835.7h0M157.1 706.9h0M71.8 765.2h0M17.5 837.2h0M160.7 851.4h0M176.3 829.4h0M65.2 798.5h0M168.8 690.9h0M24.8 854.4h0M28 841.2h0M80 730.4h0M79.3 836.9h0M128.2 710.4h0M159.5 747.5h0M160.2 773.4h0M166.7 781.3h0M75.2 855.1h0M188.2 781h0M105.6 790.3h0M133.2 734.9h0M179.1 759.9h0M191 785.4h0M176.7 843.5h0M61.1 695.4h0M116.1 785.5h0M72.2 748.7h0M60.9 705.1h0M94.2 776.8h0M90.3 830.7h0M90.1 815.5h0M147.4 774.1h0M95.3 728.7h0M135.1 834.4h0M186.4 823.5h0M186 787.1h0M93 853.6h0M132.5 701.4h0M165.3 789h0M165.6 757.4h0M125.3 789.3h0M122.2 836.8h0M82.6 802.1h0M180.8 704.4h0M165.7 805h0M90.8 696h0M100.6 717.2h0M46.7 773.9h0M124.4 845.2h0M125.1 817.8h0M109.9 693.8h0M70.9 709.3h0M120.6 740.4h0M121.5 745.9h0M19.7 727.6h0M179.5 764.7h0M131 779.8h0M94.7 803.7h0M174.6 795.1h0M153.5 747.9h0M61.4 691.3h0M107.7 700.1h0M59.9 766.8h0M78.8 724.3h0M87.2 843h0M112.8 800.2h0M191.4 796.5h0M182.9 805.7h0M157.2 791.1h0M191.5 781.4h0M72.2 798.9h0M28.4 760.5h0M181.2 713.9h0M85.2 740.3h0M122.8 832.3h0M69.4 784.6h0M17.2 729.5h0M87.1 796.4h0M169.8 837.8h0M103.2 733.1h0M159.6 830.9h0M154.2 801.1h0M125.1 755.3h0M114.4 751h0M138.4 836.3h0M66.1 812.4h0M29.9 704.4h0M45.6 738h0M89.7 754.5h0M174.6 698.6h0M167.5 729.7h0M65.8 767.7h0M91.7 784.9h0M17.5 788.9h0M19.2 716.7h0M62.3 775.1h0M142.8 695.2h0M17 758.4h0M52.9 809.2h0M158 840.7h0M189.2 850.3h0M54.7 784.3h0M35 780.5h0M137.6 795.3h0M188.3 752.3h0M88 840.1h0M155.4 720.6h0M82.7 819h0M22.3 825.8h0M172.6 797.8h0M33 781.8h0M39.3 838h0M56.6 698.1h0M92.8 729.2h0M166.9 719.4h0M33.1 752h0M90.9 779.8h0M184.7 756.1h0M169.1 711.5h0M98.3 838.3h0M162 796.8h0M27.4 856.4h0M76.4 800.6h0M29.5 706.1h0M86.2 821.6h0M147.6 754.1h0M57.6 785.7h0M91.5 731.2h0M34.4 698.8h0M27.5 819.4h0M183.5 823.6h0M132.3 764.2h0M61.3 769.5h0M83.9 828.3h0M184.7 756.9h0M61.3 811.5h0M177.6 851.6h0M188 822.3h0M160.9 768.4h0M136.5 725.4h0M190.8 728.9h0M149.4 821h0M169.7 751.3h0M99.2 692.4h0M169.5 786.2h0M37.1 746.5h0M81.2 768.9h0M66.5 734h0M105.7 815.7h0M96.2 764h0M80.5 846.3h0M148.5 805h0M22.1 816.9h0M89.6 805.5h0M96.1 703.2h0M110 811h0M42.2 792.1h0M60.1 691.5h0M20.2 754.8h0M56.2 719.2h0M70.9 820.6h0M104 785.3h0M174.2 729.4h0M172.4 802.8h0M141.3 843.2h0M40.2 756.7h0M108.5 778.2h0M189.1 729.1h0M60.3 819.4h0M154.4 743.3h0M21.2 772.7h0M112.8 832.8h0M114.8 780.4h0M152.1 800.4h0M124.4 692.5h0M138.9 763h0M109.2 780h0M152.2 716.9h0M169 713.2h0M159.3 830.8h0M18 781.6h0M159.5 742.4h0M39.2 846.8h0M51.3 855.6h0M73 847.3h0M111.7 702.5h0M53.4 791.5h0M13.6 727.8h0M77.9 707.2h0M181.4 776.3h0M77 750.5h0M31.4 790.3h0M131.8 814.3h0M166.9 833.9h0M78.7 728.1h0M28.1 805.5h0M127.4 708.1h0M141.2 837.7h0M16.9 794.4h0M151.8 813.1h0M60.8 752.4h0M26.8 726.5h0M115.9 839h0M73 800.5h0M180.2 808.8h0M50.3 745h0M179.6 692.2h0M100.3 750.5h0M43.4 783.3h0M68.1 735.5h0M160.3 806.8h0M171.3 690.3h0M156.6 768.5h0M102.2 843.2h0M105.8 839.8h0M154.3 701.4h0M167.9 741.2h0M108.5 774.6h0M124.7 700.6h0M105.8 800.9h0M62.8 821.3h0M104.1 765.4h0M45.4 716.9h0M75.5 769.7h0M179.5 804.9h0M40.7 729.3h0M176.9 694.8h0M179.3 824h0M166.7 720.9h0M163.8 770.9h0M90.4 734.6h0M72.7 804.4h0M61.7 851.2h0M152.2 837.3h0M132.8 811.7h0M56.9 712.3h0M28.9 795.1h0M174.5 750.4h0M109.1 733.9h0M129.3 839.8h0M140.5 770h0M175.1 763.7h0M182.5 826.1h0M141.9 801.2h0M83.3 754h0M72.4 803.1h0M168.7 725.1h0M99.8 738.4h0M65.4 723.6h0M166.9 765.4h0M155.5 717.9h0M146.4 784h0M180.9 759.6h0M66.8 701.2h0M154.2 818.6h0M14.6 775h0M136.6 748.7h0M32.2 751.7h0M117.7 770h0M124.7 689.9h0M95.6 755.5h0M174 825.5h0M171.9 765.5h0M143.4 800.4h0M171.3 753.3h0M137.6 771.1h0M86.9 734.8h0M26.3 742.9h0M113.1 848h0M43.2 837.6h0M153.4 813.7h0M97.5 769.9h0M117.3 817.7h0M171.6 691.3h0M171.9 823.9h0M169.5 741h0M67.5 831.2h0M166 758.5h0M87.5 735.5h0M39.8 717.5h0M67.4 721.1h0M119.4 816.6h0M107 737.5h0M52.8 766.4h0M41.5 758.7h0M40.2 808.2h0M147 705.7h0M40.2 744.2h0M49.1 840.7h0M95.9 693.2h0M75 799.3h0M175.8 746.9h0M176.6 719.2h0M56 808.4h0M119 754.8h0M35.4 777.7h0M53.3 838.7h0M186.3 799.7h0M122.9 707.2h0M27.9 759.8h0M80 805.9h0M180 767.1h0M139.6 852.9h0M51.1 696.7h0M34.2 818.4h0M112.4 808.1h0M186.7 710.7h0M118.7 772.9h0M95.3 773h0M110.4 819.5h0M104.3 826.5h0M74.9 841h0M115.7 805.2h0M102.3 805.9h0M93 806.3h0M159.7 691.6h0M95.6 743.5h0M25.2 699.1h0M144.9 695.6h0M130.3 699.3h0M41.6 764.2h0M141.6 807.6h0M88.3 774.5h0M125.3 697.7h0M86.4 770.4h0M13.7 775.9h0M102.5 807.3h0M34.3 826.2h0M127.7 746.9h0M17 828.5h0M128 855.7h0M187.1 732h0M123.5 771.4h0M152.5 759.9h0M112.1 698.5h0M178.1 698.5h0M96.8 825.2h0M50.8 737h0M129.3 704.1h0M101.8 854.4h0M60.1 811.1h0M103.5 759.3h0M100.6 853.7h0M35.4 786h0M75.5 712.2h0M68.6 838h0M94.8 764.4h0M183.7 695.7h0M116 842.1h0M190.8 742.1h0M67 811.7h0M95 698.8h0M37 834.7h0M112.2 835.3h0M156 740.4h0M85.3 757h0M98 732.7h0M77.9 731.1h0M74.9 799.9h0M94.6 699.1h0M120.3 844.4h0M181.9 823.7h0M168.1 719.9h0M157.4 748.9h0M66.7 756.4h0M179 808.1h0M135.8 742.6h0M139.9 724.9h0M92.5 824.6h0M189.1 787.1h0M111.3 761h0M32.9 794.7h0M122.9 698.5h0M73.4 741.7h0M173.1 822.5h0M63.6 740.4h0M74.6 709.6h0M55.7 734.2h0M45.3 800.4h0M22 821.6h0M144.9 730.8h0M75.5 792.7h0M184 709.9h0M149.6 737.4h0M150.5 811.2h0M77.3 719h0M73.7 802.7h0M125 724.1h0M57.3 753.6h0M13.9 784.8h0M168.3 704.1h0M23.6 812.5h0M139.3 833.5h0M98.1 850.6h0M164.3 739.6h0M76.4 697.7h0M106.2 795.5h0M112.3 782.7h0M176.9 839h0M64.4 695.3h0M32.3 849h0M56.6 851.1h0M125.2 690.5h0M98.6 722.7h0M70.8 748.6h0M46.9 691.3h0M21 849.1h0M83.6 776.1h0M29.8 770h0M151.6 839.5h0M56.2 852.8h0M144.7 739.8h0M34.3 730.5h0M50.5 711.8h0M121.7 836.2h0M99.8 818.5h0M169 854.5h0M105.5 794.8h0M133.9 842.1h0M128.5 814.3h0M114 823.2h0M160.7 709.1h0M178.7 755.8h0M127.7 824.4h0M23 794.2h0M131.3 784.1h0M105.4 803.3h0M89.8 777.3h0M163.3 819.1h0M125.8 849.5h0M131.4 813.3h0M119.3 786.5h0M147.9 832.9h0M103.2 697.2h0M82.7 743.4h0M162.7 813.7h0M135.2 825.4h0M107.3 769.6h0M17.8 758.1h0M151.2 718.5h0M104.6 737.4h0M53.6 731.5h0M55.9 810.6h0M56.4 842.7h0M19.6 853.2h0M160.2 840.1h0M59.2 689.7h0M150.4 778.5h0M42.1 837.9h0M66.3 716.8h0M153.4 810.1h0M40.8 738.7h0M118.5 798h0M162.4 719.7h0M181 741.4h0M41 807h0M116.7 778.6h0M110.7 805h0M117.5 755.3h0M74.1 714.4h0M29.9 745h0M28.1 824.6h0M20.6 792.1h0M103.6 831.5h0M131.9 761.4h0M50 793.1h0M33 728.5h0M169.9 831.7h0M181.3 844.2h0M111.2 705.1h0M140.9 834.9h0M26.6 761h0M161.2 727.9h0M63.6 736.1h0M169.2 695.6h0M38.6 740.7h0M94.9 774.2h0M182 696.4h0M65.9 776.3h0M23.8 736h0M186.7 853.1h0M113.8 850.4h0M58 824.4h0M147.5 847.7h0M48.4 784.8h0M182.8 817.3h0M119.6 763.3h0M171 835.5h0M41.6 828.8h0M68.1 825.7h0M56.4 790.3h0M185.1 718.4h0M107.4 717.9h0M27.4 690.5h0M63.8 721.4h0M152.4 707h0M85 694h0M19.4 801.1h0M148.4 792h0M118.4 689.8h0M87.2 728.3h0M143.4 805.4h0M85.8 754.3h0M15.7 766.7h0M18.3 842.5h0M23.8 819.3h0M118 787.7h0M51.3 763h0M82.4 742.7h0M136.8 725.6h0M38.9 795.2h0M30.1 846.7h0M116.1 705.6h0M174.5 781.3h0M33.9 772.5h0M160.9 736.6h0M125.2 740.9h0M23.9 767.4h0M82 757.7h0M170 840.9h0M104.3 810.4h0M160 750.7h0M146.5 704.3h0M53.5 737.1h0M119.1 701.2h0M185.2 784.3h0M158.2 754h0M170.1 800.9h0M146.5 761.3h0M81.3 815.2h0M37.7 738.4h0M85 770.7h0M24.2 737.6h0M57.8 826.3h0M156.9 831.7h0M164.4 845.1h0M176.3 767.8h0M40.6 742.7h0M87.1 740.3h0M15.9 761.1h0M190 701.5h0M81.1 718.7h0M63.2 826.6h0M110.5 811.6h0M35.3 765.8h0M108 717.7h0M80 763.5h0M153.8 852.6h0M140.4 845.8h0M105.8 741.1h0M16.5 720.7h0M165 822.7h0M147.6 693.6h0M117.3 705.9h0M46.1 788h0M114.1 830.8h0M102.3 838.3h0M169.2 813.6h0M31.4 774.4h0M18.7 743.3h0M152.8 748.1h0M174.4 816.6h0M115.1 737h0M72.1 834.7h0M147.4 773.5h0M75.1 769h0M77.7 694.3h0M79.9 851.1h0M173.6 764.3h0M137.4 807.9h0M38.1 841.9h0M119 691.3h0M111.4 728.7h0M128 856.5h0M53.6 807.6h0M158.7 786.4h0M96.3 826.1h0M107.8 769.5h0M120.8 709.3h0M165.2 844.6h0M74.5 771.8h0M45.1 771.5h0M39.1 718.2h0M77.7 848.6h0M138.7 719h0M111.4 800.9h0M78.9 851.5h0M182.3 760.2h0M131.2 850.4h0M175.5 835.8h0M73.5 854h0M136.2 736.2h0M111.2 765.1h0M124.2 830.2h0M26.2 813h0M183.5 710.3h0M150.1 786.7h0M124 767.5h0M130.7 735h0M17.8 721.4h0M17.3 706h0M31.6 699.3h0M116.3 822.1h0M49.4 803.3h0M114 700.9h0M45.9 781.2h0M144.5 845.1h0M21.4 763.7h0M149.5 766.3h0M68.8 717.6h0M54.2 801.2h0M31.3 718.5h0M47.2 813.3h0M24.2 835.5h0M120 852.6h0M113.2 771.1h0M112.8 827.4h0M43.1 700.2h0M78.6 728.7h0M189.8 854.1h0M108.4 785.1h0M34.3 718.1h0M60.6 760.1h0M150.1 745.6h0M85.7 697.8h0M151.4 783.2h0M140.7 720.3h0M81.7 765.7h0M129.6 700.6h0M132.8 780.2h0M66.6 744.4h0M185.9 706.1h0M151.8 809.9h0M95.6 701.8h0M67.7 849.8h0M186.4 708.9h0M133.7 854.7h0M35.1 851.1h0M120.9 714.4h0M63.8 788.9h0M34.3 733.4h0M161.4 725.2h0M150.9 844.6h0M176.7 700.3h0M66 749.4h0M92.8 693.2h0M105.8 712.6h0M169.9 799.4h0M67.7 791.6h0M45.3 840.4h0M98.2 762.2h0M103.4 732.5h0M59 847.2h0M158.3 785.1h0M17.6 791.2h0M169.6 694.1h0M69.6 852.3h0M179 740.4h0M14.5 740.1h0M69.9 718.6h0M105.3 796.5h0M151.6 815.8h0M131.9 706.3h0M76.9 763.2h0M131 690.7h0M114.2 792.3h0M118.8 836.7h0M152.1 695.5h0M175.8 734h0M60.5 766.3h0M173.6 739.8h0M50.2 740.7h0M13.2 741.7h0M71.7 833.2h0M156.3 703.8h0M105.5 822.1h0M20 715.9h0M117.9 748.2h0M167.2 774.7h0M172.8 777.7h0M129.8 692.7h0M114.9 750.9h0M86.1 743.9h0M149.4 744.3h0M87.2 816.4h0M103.4 750.2h0M114.2 693.7h0M115.2 691.3h0M137.8 725.3h0M32.9 780.5h0M126.5 833.8h0M155.8 710.2h0M53.7 778.2h0M176.2 760.4h0M130.3 746.4h0M140.8 693.1h0M67.5 791.4h0M146.3 764.4h0M44.9 785.3h0M189.4 775.1h0M120.3 828.4h0M146.7 829.8h0M128.6 781.5h0M171 813.4h0M111.3 715.3h0M39.6 751.8h0M190.3 833.3h0M130.1 790.4h0M68.3 710.3h0M25.9 797.4h0M83.7 696.9h0M124.1 757.1h0M154.2 826.3h0M11.6 691.9h0M100.4 713.9h0M93.9 835.5h0M69.2 714.2h0M136.6 712.3h0M187 826.7h0M159 780.3h0M63.1 823.2h0M34.2 795.2h0M32.5 693h0M182.5 852.5h0M189.1 752.8h0M69.7 809.4h0M67.8 831.1h0M176.3 718h0M17.9 741.4h0M79.2 819.6h0M98.2 753.7h0M182.6 690.3h0M24.6 691.3h0M11.8 837h0M138.1 847.5h0M49.2 836.8h0M39.1 774.1h0M179.6 772.4h0M19.5 775.9h0M83.9 774.5h0M44.9 735.2h0M139.8 703.2h0M21.7 850.4h0M80.9 739.8h0M77.6 788.4h0M17.2 785h0M190.6 771h0M179.6 846.2h0M85.7 746.5h0M17.5 774.5h0M168 853.8h0M126.2 700.6h0M134.8 704.7h0M84.1 803.2h0M121.4 798.8h0M89.5 781.6h0M146.3 837.4h0M41.9 749.2h0M134.1 692.3h0M78.2 742.6h0M178.7 745.2h0M93.4 829.9h0M36.4 788.4h0M16.8 708.6h0M168.4 711.6h0M20.9 728.1h0M173.1 708.3h0M164.7 741h0M46.9 727.5h0M145.6 791.6h0M85.8 718.4h0M12.4 774h0M161.7 707.6h0M55.6 763.4h0M128.4 697.3h0M32.6 810.5h0M105.4 855.5h0M48 750.6h0M77.1 806.7h0M44.2 791.3h0M49.2 743.3h0M79.2 813.5h0M149 786.7h0M60.8 721.3h0M82.5 830.4h0M181.4 838.9h0M153.3 740.6h0M15.7 770.3h0M103.7 715.2h0M152.6 785h0M41.4 809.1h0M118.4 818.5h0M53 837h0M146.7 734.1h0M118.7 723.7h0M90.7 802.9h0M161.6 799.2h0M74.8 720.8h0M125.9 800.6h0M141.5 821.7h0M141.4 844.2h0M117.4 716.6h0M69.5 715.4h0M147.7 805.9h0M13.7 795.1h0M113.8 737.4h0M154.5 730.6h0M146.5 731.1h0M122.9 753.3h0M64.3 815.2h0M95.5 850.2h0M35.1 776.5h0M58.9 833.1h0M146.2 754.4h0M56.9 721.5h0M28.1 789.4h0M183 729.5h0M108.6 740.3h0M133.6 810.4h0M169.9 783.9h0M178.1 690.8h0M152 702.8h0M95.3 701.1h0M132.9 742.2h0M83.6 845.4h0M90.1 755.9h0M61.8 699.8h0M33 810.4h0M100.8 691.8h0M169.5 715.9h0M52.6 764.9h0M164.5 798.5h0M49.1 738.5h0M78.5 722.2h0M150.8 730.8h0M99.6 698.7h0M60.2 734.2h0M141.2 837.7h0M136.7 781.6h0M146.9 796.5h0M17.9 783h0M23.7 719.2h0M139.9 794.4h0M13.1 708.9h0M18.3 806h0M191.2 711.4h0M125.7 830.8h0M140.4 790.9h0M150.4 706.9h0M179.7 788h0M154.4 825.5h0M79.1 832.1h0M43.4 834.2h0M21.1 770.4h0M17.5 754.4h0M179.4 799.6h0M51 826.7h0M120.3 743.6h0M31.6 715.6h0M93.3 743.9h0M57.2 727.6h0M56.5 810.4h0M62.6 843.6h0M93.4 759.6h0M68.1 836.8h0M44.6 735.6h0M102.5 782.4h0M58.5 809.8h0M75.9 805.1h0M43.7 771.4h0M160.3 759.2h0M154.2 761.6h0M65.9 813.9h0M156.4 834.4h0M24.4 794.1h0M162.7 821.5h0M84.9 839.2h0M39.4 773h0M72.8 838.6h0M120 801.4h0M135.9 701.9h0M47.4 752.5h0M102.5 727.7h0M86.7 737.6h0M101 816h0M44.2 792.7h0M78.9 754.7h0M16.1 717.6h0M160.8 844.6h0M36.6 811.3h0M53.5 719.1h0M70.8 826.8h0M70.6 720.9h0M125 823.2h0M180.5 797.1h0M115.1 828.4h0M145.7 834.6h0M129.5 697.5h0M153.9 856.1h0M156.2 702.2h0M26 802.5h0M161.4 823.6h0M32.5 764.8h0M20.6 809.7h0M124.1 761.2h0M111.4 766.8h0M19.8 735.2h0M135.7 753.5h0M185.3 817.1h0M63.7 723.3h0M156.6 812.7h0M23 735h0M153.4 718h0M94.4 790.5h0M65.4 789.1h0M148.6 833.7h0M24.4 817.7h0M127.6 846.4h0M85.7 814.9h0M97.3 848.2h0M30.4 741.5h0M117.4 835.8h0M95.6 826h0M151.8 848.4h0M100 826.7h0M150.7 699.1h0M160.5 793h0M172.8 710.9h0M138.4 696h0M185.9 791.8h0M19.7 810.9h0M173.3 850.8h0M105.4 732.9h0M59.5 834.4h0M31.8 760.7h0M185.3 794.1h0M37.7 804.8h0M114.1 828h0M51.5 843.1h0M141.9 701.2h0M178.2 829.4h0M33.2 696.9h0M19.4 802.1h0M53 744.5h0M132.6 728.4h0M97.6 754.2h0M191 834.7h0M66.8 844.6h0M65.8 753.9h0M19.3 795h0M70.6 724.6h0M165 717.3h0M74.7 729.3h0M161.9 776.5h0M21.9 752.4h0M98.5 689.9h0M190.2 816.5h0M28.9 734.5h0M147.1 709h0M156.5 802.5h0M63.8 848h0M18.8 715.3h0M21.1 753.6h0M42.5 719.2h0M28.7 721h0M170.2 706.5h0M38.2 721.3h0M190.5 726.1h0M24.5 694.9h0M50.5 700.4h0M88.5 690h0M35.5 781.2h0M168.6 777.8h0M44 746.6h0M36.9 795.5h0M126.9 743h0M109.5 703h0M165.6 786.6h0M176.4 849.8h0M147.6 691.1h0M98.3 810.6h0M56.4 805.9h0M187.5 774.3h0M84.1 773.4h0M72.9 756.2h0M114.5 722.7h0M147.7 733.7h0M121.6 811.2h0M71.4 822.9h0M176.5 737.8h0M124.6 752.6h0M168.2 842.3h0M91.8 813.5h0M138.9 740.6h0M49.9 761.2h0M53.2 835.1h0M46.9 753.3h0M41.3 771.6h0M136.2 838h0M127.7 753.9h0M140.8 845.5h0M156.9 774h0M66.4 787.2h0M63.6 702.5h0M104.1 711.3h0M102.4 814h0M132.6 840.5h0M59.9 832.7h0M153.7 704.5h0M96.8 842.3h0M94.9 701.1h0M102.4 828.7h0M39.3 818.9h0M64.1 809h0M182 717.1h0M185.9 732.5h0M178.7 747.2h0M107.5 854h0M136.3 766.7h0M12.2 757.5h0M53.9 780.3h0M127.2 729h0M83.6 809.6h0M104 785.6h0M145.9 758.2h0M16.6 785.8h0M137.9 810.5h0M43.2 811.4h0M171.9 829.5h0M173 701.1h0M154.1 852.4h0M72.1 840.6h0M168.9 804.3h0M108.3 817.9h0M34.8 849h0M55.6 694.7h0M93.6 750.7h0M151.8 802h0M31.4 773.4h0M128.1 789.5h0M50.7 789.1h0M32.6 753.6h0M176.6 842.2h0M64.2 731.1h0M34.2 729.2h0M115.5 765.2h0M69.4 690.1h0M113.9 765h0M47.7 741.9h0M55.4 698.5h0M57.9 802.3h0M64.1 844.1h0M88.4 843.3h0M47.1 847.2h0M48.7 714h0M50.3 733.4h0M164.4 780.5h0M91.1 721.6h0M29.4 820.6h0M52.9 710.7h0M116.5 811.9h0M58.5 766.7h0M146.4 700h0M130.3 736.4h0M84.8 775.7h0M94.1 842.4h0M26.1 690.1h0M32.6 789h0M55.3 762h0M105.4 795h0M66 703.6h0M122.9 817.4h0M82.7 748.5h0M126.6 723.6h0M113.2 720.1h0M159.8 813.3h0M32.2 840h0M54.7 698.5h0M72.4 812.7h0M32.3 839.5h0M86.5 784.1h0M88.8 767.6h0M115.4 753.4h0M58.4 735.3h0M51.7 733.7h0M153.3 750.7h0M156.9 823.5h0M86.4 853.5h0M39.2 762.3h0M84.6 697.7h0M18.8 855.7h0M67.6 855.4h0M140.9 854.1h0M84.2 783.2h0M12.9 733.3h0M33.7 769.9h0M174.8 740.3h0M82.1 814.5h0M114.6 770.3h0M79.5 771.1h0M38.3 715.1h0M134.9 720.7h0M22.2 851.5h0M27 789.3h0M142.5 701.7h0M181.1 824.9h0M135.1 787h0M104.8 693.2h0M121.5 828.3h0M132.6 804.3h0M106.9 750.7h0M66.8 735.9h0M149.3 804.4h0M179.1 776.6h0M29.1 783.7h0M153.3 696.3h0M33.3 767.9h0M48.8 808.8h0M170.2 813.4h0M121.1 847h0M27.7 821.1h0M178.5 750.3h0M58.2 754.5h0M139.8 802.8h0M100.3 705.2h0M17.4 806.1h0M139.7 735.3h0M168.3 789.1h0M127.7 772.4h0M99.3 815.5h0M61.6 815.9h0M113.2 745.6h0M162 730.7h0M149.8 723.8h0M87.5 799.6h0M160.6 810.4h0M163.2 791.8h0M47.2 727.4h0M181.2 716.1h0M144 808.8h0M169.3 809.3h0M183.2 709.4h0M185.9 838.2h0M117 725.8h0M122.6 695.9h0M15.8 794.1h0M67.5 780.5h0M12.1 820.3h0M12.7 820.1h0M125.9 746.6h0M187.4 775.1h0M182.3 779.4h0M34.9 766h0M173.4 723.2h0M46.5 697.5h0M87.4 835.3h0M98.4 782.2h0M36.6 768.4h0M166.7 852.2h0M146.1 794.8h0M100.9 743.3h0M187.1 698.7h0M107.4 723.5h0M84.3 728.4h0M157.9 795h0M184.2 725h0M158.8 835.8h0M106.2 758.3h0M140.9 827.6h0M85.4 759.6h0M72.8 747.4h0M125 751.2h0M106.4 724.4h0M36.1 785.3h0M140 753.9h0M146 790.1h0M154 810.1h0M76.6 806.4h0M184 825.1h0M171.5 722.2h0M84.1 785.4h0M117.8 727.7h0M75.3 710h0" stroke="#6d67bb" stroke-width="2.0" stroke-linecap="round" stroke-opacity="0.5"/>
</g>
<clipPath id="dk"><rect x="196" y="683.2" width="485.6" height="175.6"/></clipPath><g clip-path="url(#dk)">
<text x="280" y="693.3" text-anchor="middle" font-weight="bold">Bicalutamide (Compound CID: 2375)</text>
<text x="280" y="702.8" text-anchor="middle" font-weight="bold">(Vina score=-8.2)</text>
<text x="436" y="693.3" text-anchor="middle" font-weight="bold">Abiraterone (Compound CID: 132971)</text>
<text x="436" y="702.8" text-anchor="middle" font-weight="bold">(Vina score=-8.5)</text>
<text x="598.3" y="693.3" text-anchor="middle" font-weight="bold">Enzalutamide (Compound CID: 15951529)</text>
<text x="598.3" y="702.8" text-anchor="middle" font-weight="bold">(Vina score=-8.8)</text>
<polyline points="271.3,789.5 265.2,791.4 267.5,797.2 262.1,798 264,802.4 267.2,806.4 271.5,802.9" fill="none" stroke="#b4b4b4" stroke-width="0.65"/>
<line x1="271.5" y1="802.9" x2="274.1" y2="802.6" stroke="#e03030" stroke-width="0.8"/>
<polyline points="343.1,802.9 339.8,798.4 341.4,795.6 347.8,797 342.8,793.5 340.3,798.2 341.7,801.9 340.9,804.8" fill="none" stroke="#b4b4b4" stroke-width="0.65"/>
<line x1="340.9" y1="804.8" x2="338.3" y2="805.5" stroke="#e03030" stroke-width="0.8"/>
<polyline points="246.9,851.7 245.8,847.6 246.3,851.7 251.8,854.3" fill="none" stroke="#b4b4b4" stroke-width="0.65"/>
<line x1="251.8" y1="854.3" x2="253.9" y2="855.9" stroke="#3050d0" stroke-width="0.8"/>
<polyline points="248.7,719.5 250.4,717 252.1,723.5 245.3,724.8" fill="none" stroke="#b4b4b4" stroke-width="0.65"/>
<line x1="245.3" y1="724.8" x2="243" y2="726" stroke="#3050d0" stroke-width="0.8"/>
<polyline points="287.3,738.2 285.1,741.8 289.7,742.3 292.8,740.6 292,737.7 287.2,738.8" fill="none" stroke="#b4b4b4" stroke-width="0.65"/>
<line x1="287.2" y1="738.8" x2="284.8" y2="737.8" stroke="#e03030" stroke-width="0.8"/>
<polyline points="270.6,737.1 266.7,739.3 261.2,743.6 267.6,743.6 272.9,742.7" fill="none" stroke="#b4b4b4" stroke-width="0.65"/>
<line x1="272.9" y1="742.7" x2="273.6" y2="745.2" stroke="#e03030" stroke-width="0.8"/>
<polyline points="263.2,831.3 268.8,835.4 269.7,839.3 270.3,835.1 269.4,838.2 273.9,841.1 274.1,846.5 270.8,850" fill="none" stroke="#b4b4b4" stroke-width="0.65"/>
<line x1="270.8" y1="850" x2="268.2" y2="850.2" stroke="#e03030" stroke-width="0.8"/>
<polyline points="288.4,833 285.5,830 286.2,835.4 285.6,831.8 282,828" fill="none" stroke="#b4b4b4" stroke-width="0.65"/>
<line x1="282" y1="828" x2="284.5" y2="827.2" stroke="#e03030" stroke-width="0.8"/>
<polyline points="331.5,795.7 334.8,796.7 330.8,796.4 330.5,791.8 324.7,795 319.6,795.3 325.8,792.3" fill="none" stroke="#b4b4b4" stroke-width="0.65"/>
<line x1="325.8" y1="792.3" x2="326.2" y2="794.9" stroke="#e03030" stroke-width="0.8"/>
<polyline points="286.3,831 289.8,832.8 294.9,829.7 299.1,831.7 299.1,834.8 298.1,839.9 301.4,839.3 304.5,843" fill="none" stroke="#b4b4b4" stroke-width="0.65"/>
<line x1="304.5" y1="843" x2="303.1" y2="840.8" stroke="#3050d0" stroke-width="0.8"/>
<polyline points="304.8,793 299.1,789.4 294.7,790.1 293.6,793 290.9,791.1" fill="none" stroke="#b4b4b4" stroke-width="0.65"/>
<line x1="290.9" y1="791.1" x2="290.5" y2="788.5" stroke="#e03030" stroke-width="0.8"/>
<polyline points="252.6,851.9 248.4,853.2 254.9,855.1 254.6,851.6" fill="none" stroke="#b4b4b4" stroke-width="0.65"/>
<line x1="254.6" y1="851.6" x2="253" y2="853.7" stroke="#3050d0" stroke-width="0.8"/>
<polyline points="303.9,837.9 306.8,836.8 303.8,836.8 301.4,833 304.7,833.3 307.6,835.1 307.4,839.8" fill="none" stroke="#b4b4b4" stroke-width="0.65"/>
<line x1="307.4" y1="839.8" x2="305.4" y2="841.5" stroke="#3050d0" stroke-width="0.8"/>
<polyline points="310.9,792.5 305.9,793.7 300.9,793.1 299.6,796.2 306.4,797.2 311,801.2 308.4,797" fill="none" stroke="#b4b4b4" stroke-width="0.65"/>
<line x1="308.4" y1="797" x2="306.6" y2="798.9" stroke="#e03030" stroke-width="0.8"/>
<polyline points="228.1,796.9 231.3,802.7 228.7,798.6 232,795.9 230.1,792.7 224.5,795.3 230.1,791.9 226.1,795.5" fill="none" stroke="#b4b4b4" stroke-width="0.65"/>
<line x1="226.1" y1="795.5" x2="226.7" y2="798" stroke="#3050d0" stroke-width="0.8"/>
<polyline points="226.8,759.8 225.2,753.2 224.6,756.8 220.7,758.1" fill="none" stroke="#b4b4b4" stroke-width="0.65"/>
<line x1="220.7" y1="758.1" x2="221.9" y2="755.8" stroke="#e03030" stroke-width="0.8"/>
<polyline points="261.6,783.8 260.2,777.6 257.2,774.6 259.1,771 254.6,767.4 253.8,771.7" fill="none" stroke="#b4b4b4" stroke-width="0.65"/>
<line x1="253.8" y1="771.7" x2="254.5" y2="769.2" stroke="#e03030" stroke-width="0.8"/>
<polyline points="210.7,729.3 212.9,734.9 212.3,741 214.3,734.4 216.9,736.7 211.4,735.4 209.2,737.9" fill="none" stroke="#b4b4b4" stroke-width="0.65"/>
<line x1="209.2" y1="737.9" x2="210" y2="740.3" stroke="#e03030" stroke-width="0.8"/>
<polyline points="274.5,735.4 274.7,730.2 278.5,731.1 279.4,726" fill="none" stroke="#b4b4b4" stroke-width="0.65"/>
<line x1="279.4" y1="726" x2="276.8" y2="726" stroke="#e03030" stroke-width="0.8"/>
<polyline points="347.6,732.6 353.3,736.1 352.7,732.6 347.4,734.2 351.2,731.8" fill="none" stroke="#b4b4b4" stroke-width="0.65"/>
<line x1="351.2" y1="731.8" x2="349.7" y2="729.7" stroke="#e03030" stroke-width="0.8"/>
<polyline points="278.4,826.4 272.9,827.6 274.6,833.3 276.9,828.2 276.1,824.4 281.7,820.4" fill="none" stroke="#b4b4b4" stroke-width="0.65"/>
<line x1="281.7" y1="820.4" x2="279.1" y2="819.8" stroke="#3050d0" stroke-width="0.8"/>
<polyline points="318.7,755.5 316.8,758.2 311.9,760.1 312.5,755.2" fill="none" stroke="#b4b4b4" stroke-width="0.65"/>
<line x1="312.5" y1="755.2" x2="313" y2="757.7" stroke="#e03030" stroke-width="0.8"/>
<polyline points="329.5,770.9 331.5,774.7 332.3,771.3 335.3,775.4" fill="none" stroke="#b4b4b4" stroke-width="0.65"/>
<line x1="335.3" y1="775.4" x2="332.7" y2="775.1" stroke="#e03030" stroke-width="0.8"/>
<polyline points="302.9,772.5 297.8,769.8 298.1,765 292.2,762.7 288.8,761.4 282.2,760.8 281.9,766.5" fill="none" stroke="#b4b4b4" stroke-width="0.65"/>
<line x1="281.9" y1="766.5" x2="282.6" y2="769" stroke="#e03030" stroke-width="0.8"/>
<polyline points="327.1,847.5 326.4,852.5 323.5,854.3 328,854.4 324.9,853.7 329.4,851.1 332.9,850.9 335.9,852.9" fill="none" stroke="#b4b4b4" stroke-width="0.65"/>
<line x1="335.9" y1="852.9" x2="333.4" y2="853.6" stroke="#e03030" stroke-width="0.8"/>
<polyline points="336.9,823.7 336.3,828.5 339.6,831.9 342.3,825.8 338,826.5 340,831.6 343.1,830" fill="none" stroke="#b4b4b4" stroke-width="0.65"/>
<line x1="343.1" y1="830" x2="345.7" y2="830.6" stroke="#e03030" stroke-width="0.8"/>
<polyline points="229.8,711.7 227.8,715.7 225.3,713.3 224.9,709.9 220.9,709.6 222.6,714.5" fill="none" stroke="#b4b4b4" stroke-width="0.65"/>
<line x1="222.6" y1="714.5" x2="225.1" y2="714.8" stroke="#3050d0" stroke-width="0.8"/>
<polyline points="296.6,827.2 298.7,830.4 294.9,826.3 288.6,825.1 283.7,821 284.3,826.9 286.8,820.8 285.1,824.7" fill="none" stroke="#b4b4b4" stroke-width="0.65"/>
<line x1="285.1" y1="824.7" x2="285.6" y2="827.2" stroke="#e03030" stroke-width="0.8"/>
<polyline points="347.8,836 350.5,833.8 354.3,836.1 348.1,838.9 342.5,837.3" fill="none" stroke="#b4b4b4" stroke-width="0.65"/>
<line x1="342.5" y1="837.3" x2="340.4" y2="838.8" stroke="#e03030" stroke-width="0.8"/>
<polyline points="303.9,712.5 299.9,710.6 301.8,706.6 300.3,701.3 296.4,707.1" fill="none" stroke="#b4b4b4" stroke-width="0.65"/>
<line x1="296.4" y1="707.1" x2="297.2" y2="704.7" stroke="#e03030" stroke-width="0.8"/>
<polyline points="275.5,713.5 270.5,709.1 266.7,709.6 269.5,712 271.8,715.5 269.3,710.8 273.1,715.1 276.1,716.6" fill="none" stroke="#b4b4b4" stroke-width="0.65"/>
<line x1="276.1" y1="716.6" x2="273.5" y2="717.2" stroke="#3050d0" stroke-width="0.8"/>
<polyline points="280.1,771.1 276.3,775 280,776 276.2,778.4 271.7,783.3 269,781.2 270.1,777.1 275.6,780.3" fill="none" stroke="#b4b4b4" stroke-width="0.65"/>
<line x1="275.6" y1="780.3" x2="278" y2="779.4" stroke="#e03030" stroke-width="0.8"/>
<polyline points="287.8,737.1 293.9,736.4 293.6,743.1 293.4,736.9 295.2,732.7 300.4,728.7 298.3,723 298.7,718.4" fill="none" stroke="#b4b4b4" stroke-width="0.65"/>
<line x1="298.7" y1="718.4" x2="299.8" y2="720.8" stroke="#e03030" stroke-width="0.8"/>
<polyline points="319.6,752.8 324,753.1 320.5,748.9 321.3,755.7" fill="none" stroke="#b4b4b4" stroke-width="0.65"/>
<line x1="321.3" y1="755.7" x2="320.5" y2="758.1" stroke="#e03030" stroke-width="0.8"/>
<polyline points="238.2,767.7 233.8,766.7 239.4,766.7 237.5,761 240.6,760.6" fill="none" stroke="#b4b4b4" stroke-width="0.65"/>
<line x1="240.6" y1="760.6" x2="242.6" y2="762.2" stroke="#e03030" stroke-width="0.8"/>
<polyline points="241.2,773 244.8,774.2 242.4,776.6 242.3,783.2 237.6,781.6 242.7,780.5 248.3,780.4 249.5,777.3" fill="none" stroke="#b4b4b4" stroke-width="0.65"/>
<line x1="249.5" y1="777.3" x2="248.2" y2="775" stroke="#e03030" stroke-width="0.8"/>
<polyline points="341.7,764.9 336.6,769.4 339.7,765.3 335.9,762.6 331.7,762.8" fill="none" stroke="#b4b4b4" stroke-width="0.65"/>
<line x1="331.7" y1="762.8" x2="329.6" y2="761.3" stroke="#3050d0" stroke-width="0.8"/>
<polyline points="259.2,750.6 255.3,749 254.5,745 258.4,745.3 261.9,746.3 262,741.7" fill="none" stroke="#b4b4b4" stroke-width="0.65"/>
<line x1="262" y1="741.7" x2="262" y2="739.1" stroke="#3050d0" stroke-width="0.8"/>
<polyline points="215,850.4 221,853.4 216.5,855.5 220.4,854.8 213.8,853.8 212.9,849" fill="none" stroke="#b4b4b4" stroke-width="0.65"/>
<line x1="212.9" y1="849" x2="210.8" y2="847.4" stroke="#e03030" stroke-width="0.8"/>
<polyline points="224.1,798.6 228.9,803 226.6,805.8 224.3,808.5 219.6,811.2 215.9,806.8 212,811.3" fill="none" stroke="#b4b4b4" stroke-width="0.65"/>
<line x1="212" y1="811.3" x2="214.5" y2="810.6" stroke="#e03030" stroke-width="0.8"/>
<polyline points="310.8,743.9 306.6,743.8 300.2,743.5 299.3,748.9" fill="none" stroke="#b4b4b4" stroke-width="0.65"/>
<line x1="299.3" y1="748.9" x2="297" y2="747.8" stroke="#e03030" stroke-width="0.8"/>
<polyline points="290.8,799.9 292.3,803.6 298.9,802.7 301.2,800.6 305,802.1" fill="none" stroke="#b4b4b4" stroke-width="0.65"/>
<line x1="305" y1="802.1" x2="307.6" y2="802.5" stroke="#3050d0" stroke-width="0.8"/>
<polyline points="213.3,741.6 216.3,743.1 214,738.4 210.9,735.1 207.1,735.7 203.8,740.6" fill="none" stroke="#b4b4b4" stroke-width="0.65"/>
<line x1="203.8" y1="740.6" x2="204.6" y2="738.2" stroke="#e03030" stroke-width="0.8"/>
<polyline points="270.6,826.7 265,828.8 262.2,831.1 265.8,836.3 262.4,833.9" fill="none" stroke="#b4b4b4" stroke-width="0.65"/>
<line x1="262.4" y1="833.9" x2="263.6" y2="831.6" stroke="#e03030" stroke-width="0.8"/>
<polyline points="233.7,802.8 239.1,806.6 242,808.1 237.5,806.2 235.8,802.4 236.3,799.1 237.6,804.6 241.3,806.7" fill="none" stroke="#b4b4b4" stroke-width="0.65"/>
<line x1="241.3" y1="806.7" x2="241.5" y2="804.1" stroke="#e03030" stroke-width="0.8"/>
<polyline points="253.9,835.2 250.2,839.8 247.9,842.4 246.6,837.3 252.4,834" fill="none" stroke="#b4b4b4" stroke-width="0.65"/>
<line x1="252.4" y1="834" x2="250" y2="835" stroke="#3050d0" stroke-width="0.8"/>
<polyline points="320.4,753.3 321.7,760 321,755 326.5,758.2 332.1,759.1 326.8,755.9" fill="none" stroke="#b4b4b4" stroke-width="0.65"/>
<line x1="326.8" y1="755.9" x2="324.4" y2="754.9" stroke="#e03030" stroke-width="0.8"/>
<polyline points="319.6,786.8 316.2,785.3 316.5,778.8 315.9,781.9 310.8,781.4 304.5,778.5 300.9,773.5 305.6,775.5" fill="none" stroke="#b4b4b4" stroke-width="0.65"/>
<line x1="305.6" y1="775.5" x2="307.9" y2="776.8" stroke="#e03030" stroke-width="0.8"/>
<polyline points="219.4,814.7 224.2,817.5 227.9,822.2 225.5,819 226.7,824.9 220.7,824.1" fill="none" stroke="#b4b4b4" stroke-width="0.65"/>
<line x1="220.7" y1="824.1" x2="219.1" y2="826.2" stroke="#3050d0" stroke-width="0.8"/>
<polyline points="321,757.3 315.9,757.5 314.8,751.8 318.8,749.4 321.4,744.3" fill="none" stroke="#b4b4b4" stroke-width="0.65"/>
<line x1="321.4" y1="744.3" x2="322.3" y2="741.9" stroke="#e03030" stroke-width="0.8"/>
<polyline points="324.7,836.2 321.5,832.3 319.9,826.3 315.8,828.5 319.4,833.2 323.9,832.9 325.8,836.3 322.1,838.2" fill="none" stroke="#b4b4b4" stroke-width="0.65"/>
<line x1="322.1" y1="838.2" x2="319.5" y2="838.6" stroke="#e03030" stroke-width="0.8"/>
<polyline points="310.3,753.1 310.9,749.4 315.4,751.3 309.6,747.9 313,748.7" fill="none" stroke="#b4b4b4" stroke-width="0.65"/>
<line x1="313" y1="748.7" x2="311.3" y2="750.7" stroke="#e03030" stroke-width="0.8"/>
<polyline points="290.4,795.2 287.1,793 288.8,796.8 291.6,802.1 289.6,806.9 291.6,802.5 291.2,809" fill="none" stroke="#b4b4b4" stroke-width="0.65"/>
<line x1="291.2" y1="809" x2="289.8" y2="806.8" stroke="#3050d0" stroke-width="0.8"/>
<polyline points="316,723.1 312.9,725.4 317,730 323.1,729.1 324.1,723" fill="none" stroke="#b4b4b4" stroke-width="0.65"/>
<line x1="324.1" y1="723" x2="322.6" y2="720.8" stroke="#e03030" stroke-width="0.8"/>
<polyline points="241.3,711.5 245.2,708.8 245.3,713.5 248.6,710.2 249.1,706.7 254.3,703.2 258.4,707.6" fill="none" stroke="#b4b4b4" stroke-width="0.65"/>
<line x1="258.4" y1="707.6" x2="258.1" y2="710.2" stroke="#e03030" stroke-width="0.8"/>
<polygon points="277,733 273.5,739.1 266.5,739.1 263,733 266.5,726.9 273.5,726.9" fill="none" stroke="#b8b8b8" stroke-width="0.6"/>
<polygon points="303,761 299.5,767.1 292.5,767.1 289,761 292.5,754.9 299.5,754.9" fill="none" stroke="#b8b8b8" stroke-width="0.6"/>
<polygon points="251,768 248,773.2 242,773.2 239,768 242,762.8 248,762.8" fill="none" stroke="#b8b8b8" stroke-width="0.6"/>
<polygon points="311,802 308,807.2 302,807.2 299,802 302,796.8 308,796.8" fill="none" stroke="#b8b8b8" stroke-width="0.6"/>
<polygon points="299,836 296,841.2 290,841.2 287,836 290,830.8 296,830.8" fill="none" stroke="#b8b8b8" stroke-width="0.6"/>
<polygon points="241,843 238.5,847.3 233.5,847.3 231,843 233.5,838.7 238.5,838.7" fill="none" stroke="#b8b8b8" stroke-width="0.6"/>
<polygon points="336,745 333,750.2 327,750.2 324,745 327,739.8 333,739.8" fill="none" stroke="#b8b8b8" stroke-width="0.6"/>
<polyline points="280,711 300,712 313,716 318,730 323,740 338,752 340,762 330,775" fill="none" stroke="#b4b4b4" stroke-width="0.65"/>
<polyline points="215,790 230,795 240,805 250,812 245,830 225,838 205,835" fill="none" stroke="#b4b4b4" stroke-width="0.65"/>
<line x1="310" y1="724" x2="306" y2="745" stroke="#505050" stroke-width="1.4" stroke-dasharray="2.2 1.4"/>
<line x1="258" y1="757" x2="235" y2="783" stroke="#505050" stroke-width="1.4" stroke-dasharray="2.2 1.4"/>
<line x1="288" y1="771" x2="318" y2="790" stroke="#505050" stroke-width="1.4" stroke-dasharray="2.2 1.4"/>
<line x1="305" y1="784" x2="318" y2="800" stroke="#505050" stroke-width="1.4" stroke-dasharray="2.2 1.4"/>
<line x1="275" y1="831" x2="300" y2="829" stroke="#505050" stroke-width="1.4" stroke-dasharray="2.2 1.4"/>
<line x1="233" y1="829" x2="240" y2="820" stroke="#505050" stroke-width="1.4" stroke-dasharray="2.2 1.4"/>
<line x1="285" y1="765" x2="295" y2="748" stroke="#4a7fb5" stroke-width="1.4" stroke-dasharray="2.2 1.4"/>
<line x1="276" y1="787" x2="282" y2="778" stroke="#4a7fb5" stroke-width="1.4" stroke-dasharray="2.2 1.4"/>
<line x1="235" y1="825" x2="240" y2="835" stroke="#4a7fb5" stroke-width="1.4" stroke-dasharray="2.2 1.4"/>
<polyline points="269,738 269,758 261,764 261,772 269,778 277,772 277,764 269,758" fill="none" stroke="#7a7a7a" stroke-width="2.2"/>
<polyline points="261,764 253,758" fill="none" stroke="#7a7a7a" stroke-width="2.2"/>
<polyline points="269,778 270,790 262,800 244,825 238,835" fill="none" stroke="#7a7a7a" stroke-width="2.2"/>
<line x1="269" y1="738" x2="269" y2="745" stroke="#2f4fd0" stroke-width="2"/>
<line x1="253" y1="758" x2="248" y2="754" stroke="#5ac030" stroke-width="2"/>
<line x1="262" y1="800" x2="258" y2="806" stroke="#d8d030" stroke-width="2"/>
<line x1="270" y1="784" x2="270" y2="790" stroke="#2f4fd0" stroke-width="2"/>
<text x="322.8" y="726.6" font-weight="bold" fill="#1e1e1e" font-family="Liberation Mono" font-size="6.8">R698</text>
<text x="294.3" y="741.4" font-weight="bold" fill="#1e1e1e" font-family="Liberation Mono" font-size="6.8">F685</text>
<text x="311.6" y="756.1" font-weight="bold" fill="#1e1e1e" font-family="Liberation Mono" font-size="6.8">W684</text>
<text x="339" y="762.4" font-weight="bold" fill="#1e1e1e" font-family="Liberation Mono" font-size="6.8">Y700</text>
<text x="229" y="762.5" font-weight="bold" fill="#1e1e1e" font-family="Liberation Mono" font-size="9">D242</text>
<text x="316.1" y="774.7" font-weight="bold" fill="#1e1e1e" font-family="Liberation Mono" font-size="6.8">R683</text>
<text x="222" y="786.1" font-weight="bold" fill="#1e1e1e" font-family="Liberation Mono" font-size="6.8">V254</text>
<text x="269" y="784.4" font-weight="bold" fill="#1e1e1e" font-family="Liberation Mono" font-size="9">A256</text>
<text x="292" y="784.4" font-weight="bold" fill="#1e1e1e" font-family="Liberation Mono" font-size="6.8">V257</text>
<text x="244" y="801" font-weight="bold" fill="#1e1e1e" font-family="Liberation Mono" font-size="9">G255</text>
<text x="307" y="806.5" font-weight="bold" fill="#1e1e1e" font-family="Liberation Mono" font-size="6.8">G258</text>
<text x="301" y="811.9" font-weight="bold" fill="#1e1e1e" font-family="Liberation Mono" font-size="6.8">L272</text>
<text x="265" y="820.6" font-weight="bold" fill="#1e1e1e" font-family="Liberation Mono" font-size="6.8">G274</text>
<text x="285" y="821.1" font-weight="bold" fill="#1e1e1e" font-family="Liberation Mono" font-size="9">W259</text>
<text x="262" y="830.1" font-weight="bold" fill="#1e1e1e" font-family="Liberation Mono" font-size="6.8">A260</text>
<text x="302" y="837" font-weight="bold" fill="#1e1e1e" font-family="Liberation Mono" font-size="6.8">D269</text>
<text x="236" y="840" font-weight="bold" fill="#1e1e1e" font-family="Liberation Mono" font-size="6.8">G261</text>
<text x="229" y="845.7" font-weight="bold" fill="#1e1e1e" font-family="Liberation Mono" font-size="6.8">Q286</text>
<text x="272" y="758.1" font-weight="bold" fill="#1e1e1e" font-family="Liberation Mono" font-size="6.8">E683</text>
<text x="266" y="799.4" font-weight="bold" fill="#1e1e1e" font-family="Liberation Mono" font-size="6.8">N736</text>
<polyline points="500.4,844.5 504.6,844.9 501.4,848 500.8,844" fill="none" stroke="#b4b4b4" stroke-width="0.65"/>
<line x1="500.8" y1="844" x2="501.3" y2="846.5" stroke="#e03030" stroke-width="0.8"/>
<polyline points="428.1,709.6 433,709 438.5,709.7 433,712.2" fill="none" stroke="#b4b4b4" stroke-width="0.65"/>
<line x1="433" y1="712.2" x2="433.5" y2="709.7" stroke="#e03030" stroke-width="0.8"/>
<polyline points="448.7,802.1 450,807.9 444.1,805.3 448.1,804.5 453.3,803.6 454.8,800.2 448.7,800.9 447,797.6" fill="none" stroke="#b4b4b4" stroke-width="0.65"/>
<line x1="447" y1="797.6" x2="444.5" y2="797.1" stroke="#e03030" stroke-width="0.8"/>
<polyline points="461.7,781.9 464.3,784.2 468.2,785.2 462.6,782.4 460.4,786.3 459.4,790.4 460.3,785.3 460.1,788.7" fill="none" stroke="#b4b4b4" stroke-width="0.65"/>
<line x1="460.1" y1="788.7" x2="459.4" y2="786.2" stroke="#e03030" stroke-width="0.8"/>
<polyline points="485.6,740.8 489.3,745.4 493,748.1 490,749.1 486.9,745.7 488.9,749.1 492.8,749.4 492.6,746.1" fill="none" stroke="#b4b4b4" stroke-width="0.65"/>
<line x1="492.6" y1="746.1" x2="492.6" y2="743.5" stroke="#3050d0" stroke-width="0.8"/>
<polyline points="411.3,848.3 408.2,848.5 407.7,853.6 407.8,848.8 406.9,852 401.6,850.1 399.7,845.2" fill="none" stroke="#b4b4b4" stroke-width="0.65"/>
<line x1="399.7" y1="845.2" x2="399.7" y2="847.8" stroke="#e03030" stroke-width="0.8"/>
<polyline points="422.9,837.5 423.4,831.9 420.2,833.8 415.6,829.6 421.8,832.5 426.6,828.9 422,827.6" fill="none" stroke="#b4b4b4" stroke-width="0.65"/>
<line x1="422" y1="827.6" x2="422.4" y2="825" stroke="#3050d0" stroke-width="0.8"/>
<polyline points="443.8,786.3 448.1,789.8 445.5,794.3 447.5,790.9 450.7,789.9 445.9,787.9" fill="none" stroke="#b4b4b4" stroke-width="0.65"/>
<line x1="445.9" y1="787.9" x2="447.9" y2="786.2" stroke="#e03030" stroke-width="0.8"/>
<polyline points="505.5,822.7 510,822.8 510.8,819.4 513.3,816.5 511.8,813.2 507.3,814.7" fill="none" stroke="#b4b4b4" stroke-width="0.65"/>
<line x1="507.3" y1="814.7" x2="505" y2="815.9" stroke="#e03030" stroke-width="0.8"/>
<polyline points="400.7,793.2 400,789.6 396,788.8 399.9,788.6 406,791.1 403.8,793.2 399.3,794.5 397.4,790.3" fill="none" stroke="#b4b4b4" stroke-width="0.65"/>
<line x1="397.4" y1="790.3" x2="397" y2="792.9" stroke="#3050d0" stroke-width="0.8"/>
<polyline points="501.2,729.4 495.8,732.5 490.6,733.2 490.5,737.3" fill="none" stroke="#b4b4b4" stroke-width="0.65"/>
<line x1="490.5" y1="737.3" x2="488.5" y2="739" stroke="#e03030" stroke-width="0.8"/>
<polyline points="495.6,850.3 492.1,850.2 488.7,851 484.4,849.1 486.9,846" fill="none" stroke="#b4b4b4" stroke-width="0.65"/>
<line x1="486.9" y1="846" x2="486.9" y2="848.6" stroke="#e03030" stroke-width="0.8"/>
<polyline points="509.3,798.6 506.6,800.4 508.2,805.4 503.8,801.2" fill="none" stroke="#b4b4b4" stroke-width="0.65"/>
<line x1="503.8" y1="801.2" x2="503.6" y2="798.6" stroke="#e03030" stroke-width="0.8"/>
<polyline points="418.9,805.2 424.4,804.7 422.6,799.6 426,800.5 425.8,793.5 429.5,797.9" fill="none" stroke="#b4b4b4" stroke-width="0.65"/>
<line x1="429.5" y1="797.9" x2="428.8" y2="800.4" stroke="#e03030" stroke-width="0.8"/>
<polyline points="496.1,749.1 498.4,744.2 494.8,741.9 497.1,744.4" fill="none" stroke="#b4b4b4" stroke-width="0.65"/>
<line x1="497.1" y1="744.4" x2="497.8" y2="746.9" stroke="#e03030" stroke-width="0.8"/>
<polyline points="423.7,752.2 424.6,757.5 429.8,755.4 426,754.6 420.5,752.4 415.1,753.9 420.4,752.4 416.1,757.8" fill="none" stroke="#b4b4b4" stroke-width="0.65"/>
<line x1="416.1" y1="757.8" x2="417.4" y2="755.5" stroke="#3050d0" stroke-width="0.8"/>
<polyline points="364.1,763.7 364.3,758.5 365.5,763 369.5,764.6 363.8,767.3" fill="none" stroke="#b4b4b4" stroke-width="0.65"/>
<line x1="363.8" y1="767.3" x2="366.2" y2="766.2" stroke="#e03030" stroke-width="0.8"/>
<polyline points="414.4,845.4 412.2,841.3 415.1,846.8 409,843.7" fill="none" stroke="#b4b4b4" stroke-width="0.65"/>
<line x1="409" y1="843.7" x2="411" y2="842.1" stroke="#e03030" stroke-width="0.8"/>
<polyline points="455.2,824.8 461.3,821.4 458.7,817.4 464.6,819.9 461.1,822.7" fill="none" stroke="#b4b4b4" stroke-width="0.65"/>
<line x1="461.1" y1="822.7" x2="460.9" y2="820.1" stroke="#e03030" stroke-width="0.8"/>
<polyline points="422.9,757.1 422.2,753.6 428.2,753 430,748.5 430,741.8 424.9,744.5" fill="none" stroke="#b4b4b4" stroke-width="0.65"/>
<line x1="424.9" y1="744.5" x2="425.7" y2="742" stroke="#e03030" stroke-width="0.8"/>
<polyline points="376.1,708.6 372,705.4 373.5,709.6 377.5,709 376.4,713.9 370.5,712.1 368.6,718.7 374.7,719.5" fill="none" stroke="#b4b4b4" stroke-width="0.65"/>
<line x1="374.7" y1="719.5" x2="375.3" y2="717" stroke="#e03030" stroke-width="0.8"/>
<polyline points="444.6,715.2 442.8,712.3 448.9,709 453.7,713 456.6,714.6" fill="none" stroke="#b4b4b4" stroke-width="0.65"/>
<line x1="456.6" y1="714.6" x2="456.1" y2="712" stroke="#e03030" stroke-width="0.8"/>
<polyline points="505.4,798.3 504.9,803.4 500.1,806 506.7,806.3 511.7,803.6 509.2,798.6 513.5,803.2 507.5,803.7" fill="none" stroke="#b4b4b4" stroke-width="0.65"/>
<line x1="507.5" y1="803.7" x2="507.4" y2="806.3" stroke="#e03030" stroke-width="0.8"/>
<polyline points="500.7,793.6 501,788.3 495.4,785.6 493.1,783 494.3,778.7 490,776.2 493.8,773.6" fill="none" stroke="#b4b4b4" stroke-width="0.65"/>
<line x1="493.8" y1="773.6" x2="496.1" y2="774.8" stroke="#3050d0" stroke-width="0.8"/>
<polyline points="408.2,803.9 411.8,804.7 409.6,810.7 412.3,813.1 414.7,807.9 419.6,812 419.6,808.2 422.3,813.2" fill="none" stroke="#b4b4b4" stroke-width="0.65"/>
<line x1="422.3" y1="813.2" x2="420.2" y2="811.8" stroke="#e03030" stroke-width="0.8"/>
<polyline points="501.5,822.9 501,828.2 503.6,823 509.9,821" fill="none" stroke="#b4b4b4" stroke-width="0.65"/>
<line x1="509.9" y1="821" x2="511.9" y2="822.7" stroke="#e03030" stroke-width="0.8"/>
<polyline points="424.3,715.4 421.1,718.4 423.3,713 426.7,717.4 423.2,719.1 417.5,716.9 414.8,721.5 418.1,720.9" fill="none" stroke="#b4b4b4" stroke-width="0.65"/>
<line x1="418.1" y1="720.9" x2="417.9" y2="718.3" stroke="#e03030" stroke-width="0.8"/>
<polyline points="381.5,788 381.8,783.2 388.1,785.4 387.5,791.4" fill="none" stroke="#b4b4b4" stroke-width="0.65"/>
<line x1="387.5" y1="791.4" x2="386.8" y2="788.9" stroke="#3050d0" stroke-width="0.8"/>
<polyline points="461.7,749.9 466.9,746.6 471,749.7 467,753.6 472.2,754.2 470.3,751.5 476.8,753" fill="none" stroke="#b4b4b4" stroke-width="0.65"/>
<line x1="476.8" y1="753" x2="475.9" y2="750.6" stroke="#3050d0" stroke-width="0.8"/>
<polyline points="374.3,813 379.5,811.2 382.7,809.5 381.2,814.4 374.4,813.5 370.8,809.3" fill="none" stroke="#b4b4b4" stroke-width="0.65"/>
<line x1="370.8" y1="809.3" x2="369.1" y2="807.4" stroke="#e03030" stroke-width="0.8"/>
<polyline points="436.8,804.6 433.1,801.9 431.2,804.9 435.5,805.2 434.5,808.4" fill="none" stroke="#b4b4b4" stroke-width="0.65"/>
<line x1="434.5" y1="808.4" x2="431.9" y2="808.7" stroke="#3050d0" stroke-width="0.8"/>
<polyline points="468.3,714 465,708.5 464.5,711.9 461.5,709.4 466.1,709 469.1,706.3 473.7,709.4" fill="none" stroke="#b4b4b4" stroke-width="0.65"/>
<line x1="473.7" y1="709.4" x2="473.5" y2="712" stroke="#e03030" stroke-width="0.8"/>
<polyline points="503.6,735.3 500.9,728.9 504.5,728.6 503.7,722.6 503.2,718.3" fill="none" stroke="#b4b4b4" stroke-width="0.65"/>
<line x1="503.2" y1="718.3" x2="503.7" y2="720.8" stroke="#e03030" stroke-width="0.8"/>
<polyline points="423.6,814.7 427.9,811.5 427.6,808.3 430.2,811 433,807.9 435.6,810.5 439.3,808" fill="none" stroke="#b4b4b4" stroke-width="0.65"/>
<line x1="439.3" y1="808" x2="436.9" y2="806.9" stroke="#3050d0" stroke-width="0.8"/>
<polyline points="473.1,772.6 474.6,777.6 470.3,780.9 464.6,776.8 470.1,778.1 473,782.9 477.7,784 473.2,787.4" fill="none" stroke="#b4b4b4" stroke-width="0.65"/>
<line x1="473.2" y1="787.4" x2="470.7" y2="787.8" stroke="#e03030" stroke-width="0.8"/>
<polyline points="469.9,839.4 470.9,834.3 474.6,838.8 473.4,834.9 474.5,831.3 472.8,835.9 475,833.9" fill="none" stroke="#b4b4b4" stroke-width="0.65"/>
<line x1="475" y1="833.9" x2="475" y2="836.5" stroke="#3050d0" stroke-width="0.8"/>
<polyline points="438.4,731.1 443.1,730.9 444.9,736.4 451.3,733.8 453.6,731.2 453.3,727.1 452.6,733.4 453.2,736.3" fill="none" stroke="#b4b4b4" stroke-width="0.65"/>
<line x1="453.2" y1="736.3" x2="452.5" y2="738.8" stroke="#e03030" stroke-width="0.8"/>
<polyline points="389,718.5 385.8,720.5 391.9,719.3 394.5,717.3 398.2,717.8" fill="none" stroke="#b4b4b4" stroke-width="0.65"/>
<line x1="398.2" y1="717.8" x2="398" y2="715.2" stroke="#e03030" stroke-width="0.8"/>
<polyline points="362,766.1 356.2,763.1 356.8,756.5 357.4,759.7 359.9,758.1 363.1,759.3" fill="none" stroke="#b4b4b4" stroke-width="0.65"/>
<line x1="363.1" y1="759.3" x2="365.5" y2="758.4" stroke="#e03030" stroke-width="0.8"/>
<polyline points="488.8,807.4 483.9,806.5 477.7,806.2 480.7,807.1 479.2,804.5 473.7,804.3 475.5,801.9" fill="none" stroke="#b4b4b4" stroke-width="0.65"/>
<line x1="475.5" y1="801.9" x2="475.6" y2="804.5" stroke="#3050d0" stroke-width="0.8"/>
<polyline points="451.7,802.7 451.8,795.9 446.4,794.2 449.7,788.7 451.7,784.2 457,787.5" fill="none" stroke="#b4b4b4" stroke-width="0.65"/>
<line x1="457" y1="787.5" x2="458.2" y2="785.2" stroke="#e03030" stroke-width="0.8"/>
<polyline points="456.1,802.9 454.5,808.7 449.5,811.4 452.8,812.1 450.2,817 446.9,820.2" fill="none" stroke="#b4b4b4" stroke-width="0.65"/>
<line x1="446.9" y1="820.2" x2="444.6" y2="819" stroke="#e03030" stroke-width="0.8"/>
<polyline points="496.3,729.3 493.3,730.8 497.7,733.7 501.6,735 499,737.1" fill="none" stroke="#b4b4b4" stroke-width="0.65"/>
<line x1="499" y1="737.1" x2="501.5" y2="737.7" stroke="#e03030" stroke-width="0.8"/>
<polyline points="482.3,731.7 487.8,733.9 491.5,732.2 493.7,736 497.6,731.3 501.2,736.8 500.8,729.9" fill="none" stroke="#b4b4b4" stroke-width="0.65"/>
<line x1="500.8" y1="729.9" x2="502.2" y2="732.1" stroke="#3050d0" stroke-width="0.8"/>
<polyline points="470.1,709.6 473.7,706.6 467.7,703.8 471.8,709.1 478.1,710.3" fill="none" stroke="#b4b4b4" stroke-width="0.65"/>
<line x1="478.1" y1="710.3" x2="477.6" y2="707.8" stroke="#e03030" stroke-width="0.8"/>
<polyline points="387,823.3 388.9,818.9 385.7,818 380.3,819.5 386.6,817.4 383.4,822.5 387.6,817.1 385.8,813.2" fill="none" stroke="#b4b4b4" stroke-width="0.65"/>
<line x1="385.8" y1="813.2" x2="388.3" y2="813.5" stroke="#e03030" stroke-width="0.8"/>
<polyline points="445.4,772.9 445.6,776.2 440,772.2 446.5,774.4 449.4,775.9 453.2,778.4 456.2,780.9 453.5,778.8" fill="none" stroke="#b4b4b4" stroke-width="0.65"/>
<line x1="453.5" y1="778.8" x2="452.2" y2="781.1" stroke="#3050d0" stroke-width="0.8"/>
<polyline points="444.8,843.5 443,837.8 447.6,841.4 450.9,839.3 446,836.1" fill="none" stroke="#b4b4b4" stroke-width="0.65"/>
<line x1="446" y1="836.1" x2="443.6" y2="834.9" stroke="#e03030" stroke-width="0.8"/>
<polyline points="435.4,794 432.8,788.8 429.5,785.6 429.5,781.4 432.6,778" fill="none" stroke="#b4b4b4" stroke-width="0.65"/>
<line x1="432.6" y1="778" x2="434.4" y2="779.8" stroke="#3050d0" stroke-width="0.8"/>
<polyline points="464.2,719.4 470.7,719.5 473.3,725.4 476.7,729" fill="none" stroke="#b4b4b4" stroke-width="0.65"/>
<line x1="476.7" y1="729" x2="474.7" y2="730.7" stroke="#3050d0" stroke-width="0.8"/>
<polyline points="497.9,789.1 498.4,785.1 496.1,788.2 491.8,791.7 496.1,790.4 500,794.7" fill="none" stroke="#b4b4b4" stroke-width="0.65"/>
<line x1="500" y1="794.7" x2="501.7" y2="796.7" stroke="#3050d0" stroke-width="0.8"/>
<polyline points="412.5,708.7 410.1,706.4 416.8,704.2 416.8,698 415.9,695 415.3,699 420.8,699.7" fill="none" stroke="#b4b4b4" stroke-width="0.65"/>
<line x1="420.8" y1="699.7" x2="420" y2="702.2" stroke="#e03030" stroke-width="0.8"/>
<polyline points="375.6,789.3 374.9,792.7 375.5,799 369.6,799.4 373.4,795.2 369,800.5 373,802.7" fill="none" stroke="#b4b4b4" stroke-width="0.65"/>
<line x1="373" y1="802.7" x2="372" y2="800.4" stroke="#e03030" stroke-width="0.8"/>
<polyline points="412.5,826.8 411.9,832.5 408.3,827.2 401.6,826.7" fill="none" stroke="#b4b4b4" stroke-width="0.65"/>
<line x1="401.6" y1="826.7" x2="403.9" y2="825.4" stroke="#e03030" stroke-width="0.8"/>
<polyline points="501.6,757.6 498.4,754.7 502.8,754.6 504.4,748.5 500.6,752.3 501.1,756.8 495.7,759" fill="none" stroke="#b4b4b4" stroke-width="0.65"/>
<line x1="495.7" y1="759" x2="496.1" y2="761.5" stroke="#e03030" stroke-width="0.8"/>
<polygon points="409,787 406,792.2 400,792.2 397,787 400,781.8 406,781.8" fill="none" stroke="#b8b8b8" stroke-width="0.6"/>
<polygon points="419,798 416,803.2 410,803.2 407,798 410,792.8 416,792.8" fill="none" stroke="#b8b8b8" stroke-width="0.6"/>
<polygon points="414,812 411,817.2 405,817.2 402,812 405,806.8 411,806.8" fill="none" stroke="#b8b8b8" stroke-width="0.6"/>
<polygon points="404,823 401,828.2 395,828.2 392,823 395,817.8 401,817.8" fill="none" stroke="#b8b8b8" stroke-width="0.6"/>
<polygon points="511,771 508,776.2 502,776.2 499,771 502,765.8 508,765.8" fill="none" stroke="#b8b8b8" stroke-width="0.6"/>
<polygon points="425,755 422.5,759.3 417.5,759.3 415,755 417.5,750.7 422.5,750.7" fill="none" stroke="#b8b8b8" stroke-width="0.6"/>
<polygon points="463,765 460.5,769.3 455.5,769.3 453,765 455.5,760.7 460.5,760.7" fill="none" stroke="#b8b8b8" stroke-width="0.6"/>
<polyline points="380,706 390,712 398,720 392,735 370,738 362,730 360,720" fill="none" stroke="#b4b4b4" stroke-width="0.65"/>
<polyline points="405,838 420,842 432,850 410,852 395,846" fill="none" stroke="#b4b4b4" stroke-width="0.65"/>
<line x1="387" y1="727" x2="375" y2="740" stroke="#505050" stroke-width="1.4" stroke-dasharray="2.2 1.4"/>
<line x1="427" y1="725" x2="452" y2="730" stroke="#505050" stroke-width="1.4" stroke-dasharray="2.2 1.4"/>
<line x1="428" y1="725" x2="435" y2="740" stroke="#505050" stroke-width="1.4" stroke-dasharray="2.2 1.4"/>
<line x1="445" y1="760" x2="425" y2="775" stroke="#505050" stroke-width="1.4" stroke-dasharray="2.2 1.4"/>
<line x1="425" y1="808" x2="430" y2="822" stroke="#505050" stroke-width="1.4" stroke-dasharray="2.2 1.4"/>
<line x1="385" y1="740" x2="408" y2="730" stroke="#4a7fb5" stroke-width="1.4" stroke-dasharray="2.2 1.4"/>
<line x1="440" y1="815" x2="460" y2="805" stroke="#4a7fb5" stroke-width="1.4" stroke-dasharray="2.2 1.4"/>
<line x1="400" y1="830" x2="390" y2="843" stroke="#4a7fb5" stroke-width="1.4" stroke-dasharray="2.2 1.4"/>
<line x1="406" y1="728" x2="400" y2="745" stroke="#c8b020" stroke-width="1.6" stroke-dasharray="2.2 1.4"/>
<polygon points="435.7,759 430.5,756 430.5,750 435.7,747 440.9,750 440.9,756" fill="none" stroke="#777" stroke-width="2.1"/>
<polygon points="431,763.5 437.2,768 434.8,775.3 427.2,775.3 424.8,768" fill="none" stroke="#777" stroke-width="2.1"/>
<polygon points="429.5,781.5 425.2,788.9 416.8,788.9 412.5,781.5 416.8,774.1 425.2,774.1" fill="none" stroke="#777" stroke-width="2.1"/>
<polygon points="423.5,797.5 419.2,804.9 410.8,804.9 406.5,797.5 410.8,790.1 419.2,790.1" fill="none" stroke="#777" stroke-width="2.1"/>
<polygon points="415.5,813 411.2,820.4 402.8,820.4 398.5,813 402.8,805.6 411.2,805.6" fill="none" stroke="#777" stroke-width="2.1"/>
<polyline points="435.7,759 432,763.5" fill="none" stroke="#777" stroke-width="2.1"/>
<polyline points="403,820 397,828" fill="none" stroke="#777" stroke-width="2.1"/>
<polyline points="421,790 430,795" fill="none" stroke="#777" stroke-width="2.1"/>
<line x1="435.7" y1="747" x2="435.7" y2="744" stroke="#2f4fd0" stroke-width="2"/>
<text x="382.3" y="711.7" font-weight="bold" fill="#1e1e1e" font-family="Liberation Mono" font-size="6.8">E583</text>
<text x="418" y="719.6" font-weight="bold" fill="#1e1e1e" font-family="Liberation Mono" font-size="6.8">R683</text>
<text x="358" y="742.7" font-weight="bold" fill="#1e1e1e" font-family="Liberation Mono" font-size="9">R738</text>
<text x="453" y="738.2" font-weight="bold" fill="#1e1e1e" font-family="Liberation Mono" font-size="6.8">V257</text>
<text x="481" y="747.1" font-weight="bold" fill="#1e1e1e" font-family="Liberation Mono" font-size="9">A256</text>
<text x="459" y="751.4" font-weight="bold" fill="#1e1e1e" font-family="Liberation Mono" font-size="6.8">G258</text>
<text x="376" y="763.8" font-weight="bold" fill="#1e1e1e" font-family="Liberation Mono" font-size="6.8">N736</text>
<text x="422" y="758.1" font-weight="bold" fill="#1e1e1e" font-family="Liberation Mono" font-size="6.8">L27</text>
<text x="404" y="773.7" font-weight="bold" fill="#1e1e1e" font-family="Liberation Mono" font-size="6.8">D583</text>
<text x="449" y="777.4" font-weight="bold" fill="#1e1e1e" font-family="Liberation Mono" font-size="6.8">D270</text>
<text x="472" y="772.5" font-weight="bold" fill="#1e1e1e" font-family="Liberation Mono" font-size="9">V255</text>
<text x="415" y="784.2" font-weight="bold" fill="#1e1e1e" font-family="Liberation Mono" font-size="6.8">G274</text>
<text x="429" y="802.4" font-weight="bold" fill="#1e1e1e" font-family="Liberation Mono" font-size="6.8">F275</text>
<text x="460" y="811.4" font-weight="bold" fill="#1e1e1e" font-family="Liberation Mono" font-size="6.8">G261</text>
<text x="426" y="826.9" font-weight="bold" fill="#1e1e1e" font-family="Liberation Mono" font-size="6.8">Q286</text>
<text x="415" y="849.9" font-weight="bold" fill="#1e1e1e" font-family="Liberation Mono" font-size="6.8">R285</text>
<polyline points="627.1,721.2 624.1,716 622,713.7 626.7,713.2 628.4,706.5 622.4,708.1 628.6,705 625.4,706.7" fill="none" stroke="#b4b4b4" stroke-width="0.65"/>
<line x1="625.4" y1="706.7" x2="627.6" y2="708.1" stroke="#e03030" stroke-width="0.8"/>
<polyline points="530,749.6 527.2,745.8 523.4,743.4 521.5,736.8 523.4,731.7 520.1,731.6" fill="none" stroke="#b4b4b4" stroke-width="0.65"/>
<line x1="520.1" y1="731.6" x2="518.7" y2="729.4" stroke="#e03030" stroke-width="0.8"/>
<polyline points="663.6,717.9 664.3,722.1 658.1,721.1 661.1,721.5 666.7,719.3 665.2,723 662.7,719.6 666.7,720.6" fill="none" stroke="#b4b4b4" stroke-width="0.65"/>
<line x1="666.7" y1="720.6" x2="664.1" y2="720.9" stroke="#e03030" stroke-width="0.8"/>
<polyline points="552.1,797 548.9,798.3 546.5,795 546.8,799.7" fill="none" stroke="#b4b4b4" stroke-width="0.65"/>
<line x1="546.8" y1="799.7" x2="545.4" y2="801.9" stroke="#e03030" stroke-width="0.8"/>
<polyline points="522.7,851.9 517.8,849.3 514.4,844.1 513.7,847.1" fill="none" stroke="#b4b4b4" stroke-width="0.65"/>
<line x1="513.7" y1="847.1" x2="511.1" y2="846.4" stroke="#e03030" stroke-width="0.8"/>
<polyline points="565.1,738.4 560.5,740.6 563.1,739.1 562.2,744.3 567.9,746.3" fill="none" stroke="#b4b4b4" stroke-width="0.65"/>
<line x1="567.9" y1="746.3" x2="565.4" y2="747.2" stroke="#3050d0" stroke-width="0.8"/>
<polyline points="528.8,721.1 534.8,722.9 532.9,716.6 531.6,712.4 525.2,710.4 531.4,712" fill="none" stroke="#b4b4b4" stroke-width="0.65"/>
<line x1="531.4" y1="712" x2="532.4" y2="709.6" stroke="#e03030" stroke-width="0.8"/>
<polyline points="633.1,829.6 638.2,828 641,825.1 644.8,824.2" fill="none" stroke="#b4b4b4" stroke-width="0.65"/>
<line x1="644.8" y1="824.2" x2="643.2" y2="826.3" stroke="#e03030" stroke-width="0.8"/>
<polyline points="550.8,799.6 556.6,797 553.4,797.3 548.2,799.1 553.7,798 550.7,796.5" fill="none" stroke="#b4b4b4" stroke-width="0.65"/>
<line x1="550.7" y1="796.5" x2="549.6" y2="798.8" stroke="#e03030" stroke-width="0.8"/>
<polyline points="596.6,834.1 601.6,832.2 606.7,835.3 609.3,840.5 606.3,834.4 608.3,837.8" fill="none" stroke="#b4b4b4" stroke-width="0.65"/>
<line x1="608.3" y1="837.8" x2="609.6" y2="835.6" stroke="#3050d0" stroke-width="0.8"/>
<polyline points="545.1,826.3 544.5,830.1 548,830.5 541.5,828.4" fill="none" stroke="#b4b4b4" stroke-width="0.65"/>
<line x1="541.5" y1="828.4" x2="540.2" y2="830.7" stroke="#e03030" stroke-width="0.8"/>
<polyline points="621.9,820.7 620.3,817.8 619,822.2 614.5,819.5" fill="none" stroke="#b4b4b4" stroke-width="0.65"/>
<line x1="614.5" y1="819.5" x2="615.6" y2="817.2" stroke="#3050d0" stroke-width="0.8"/>
<polyline points="646.3,844.3 642.1,842 636.7,840.7 640.3,840.2 635.5,840.4 635.6,844 636.7,838.8 635.2,835.1" fill="none" stroke="#b4b4b4" stroke-width="0.65"/>
<line x1="635.2" y1="835.1" x2="633.8" y2="837.3" stroke="#3050d0" stroke-width="0.8"/>
<polyline points="637.3,843.6 634.2,844.2 640.1,845.2 645.4,846.8 640.4,843.7 640.3,849.9 641.1,856.1 637.4,860.7" fill="none" stroke="#b4b4b4" stroke-width="0.65"/>
<line x1="637.4" y1="860.7" x2="638.8" y2="858.6" stroke="#3050d0" stroke-width="0.8"/>
<polyline points="613.1,801.8 608.1,801.5 602.7,799.2 598.4,799.2 601.4,795.9 601.1,792.5 597.8,794.2 604,792.3" fill="none" stroke="#b4b4b4" stroke-width="0.65"/>
<line x1="604" y1="792.3" x2="602.3" y2="794.2" stroke="#3050d0" stroke-width="0.8"/>
<polyline points="541.1,830.3 538.6,824.4 535.9,820.4 535.9,816.2 531.7,820.4" fill="none" stroke="#b4b4b4" stroke-width="0.65"/>
<line x1="531.7" y1="820.4" x2="533.3" y2="818.3" stroke="#e03030" stroke-width="0.8"/>
<polyline points="532.3,752.4 536.3,753.4 537.7,750.6 531.6,750.7" fill="none" stroke="#b4b4b4" stroke-width="0.65"/>
<line x1="531.6" y1="750.7" x2="529.7" y2="752.5" stroke="#3050d0" stroke-width="0.8"/>
<polyline points="527.8,787.5 526.8,782 521.6,785.5 517.4,786.5 522.3,784.1" fill="none" stroke="#b4b4b4" stroke-width="0.65"/>
<line x1="522.3" y1="784.1" x2="523.4" y2="781.7" stroke="#e03030" stroke-width="0.8"/>
<polyline points="641.5,831.6 641.8,827.8 637.1,826.7 642.8,824.8 642.5,819.7 639.1,824.2" fill="none" stroke="#b4b4b4" stroke-width="0.65"/>
<line x1="639.1" y1="824.2" x2="639.4" y2="821.6" stroke="#e03030" stroke-width="0.8"/>
<polyline points="605.3,845.9 607.2,840.2 606.5,836.8 603.9,835.2 600.2,835.1 598.2,828.7 599.7,833.7" fill="none" stroke="#b4b4b4" stroke-width="0.65"/>
<line x1="599.7" y1="833.7" x2="601.2" y2="835.9" stroke="#3050d0" stroke-width="0.8"/>
<polyline points="591.3,845.6 588.2,841.8 583.5,841.3 585.4,844.2" fill="none" stroke="#b4b4b4" stroke-width="0.65"/>
<line x1="585.4" y1="844.2" x2="582.8" y2="843.8" stroke="#e03030" stroke-width="0.8"/>
<polyline points="607,779.4 604.3,782 608.2,781 614.3,783.1 612.4,788.6" fill="none" stroke="#b4b4b4" stroke-width="0.65"/>
<line x1="612.4" y1="788.6" x2="614.3" y2="790.4" stroke="#e03030" stroke-width="0.8"/>
<polyline points="660.5,723 658.3,727.9 661.9,727.3 667.1,726.3 663.9,726.9" fill="none" stroke="#b4b4b4" stroke-width="0.65"/>
<line x1="663.9" y1="726.9" x2="666.3" y2="727.8" stroke="#e03030" stroke-width="0.8"/>
<polyline points="586.6,749.2 589.1,743.7 586.2,746.8 581.8,744.8 576,748.6 573.6,752.3 573.4,747.5 573.2,752.2" fill="none" stroke="#b4b4b4" stroke-width="0.65"/>
<line x1="573.2" y1="752.2" x2="570.7" y2="753" stroke="#e03030" stroke-width="0.8"/>
<polyline points="634.2,741.9 632.5,745.7 626.2,746.7 631.3,746.5 631.9,743.5 629.8,747.5 629,742.8" fill="none" stroke="#b4b4b4" stroke-width="0.65"/>
<line x1="629" y1="742.8" x2="630.3" y2="745.1" stroke="#e03030" stroke-width="0.8"/>
<polyline points="613.8,748.8 617.8,745 614.8,742.5 609.9,741.8 607,745.4 613.2,748.3 616.1,743" fill="none" stroke="#b4b4b4" stroke-width="0.65"/>
<line x1="616.1" y1="743" x2="615.3" y2="745.5" stroke="#3050d0" stroke-width="0.8"/>
<polyline points="572.6,817.6 574,812.5 580.1,814.2 580.9,810.8 581.1,815.6 582.8,822.4 579.2,818.5" fill="none" stroke="#b4b4b4" stroke-width="0.65"/>
<line x1="579.2" y1="818.5" x2="577.2" y2="820.3" stroke="#e03030" stroke-width="0.8"/>
<polyline points="641.3,799.5 642.6,804.7 645.2,808.6 648.8,808 644.8,804.1 646.9,798.9" fill="none" stroke="#b4b4b4" stroke-width="0.65"/>
<line x1="646.9" y1="798.9" x2="649.3" y2="798.1" stroke="#e03030" stroke-width="0.8"/>
<polyline points="539.1,745.8 536.1,749.2 533.4,754.1 529,755.7 530.3,759.8" fill="none" stroke="#b4b4b4" stroke-width="0.65"/>
<line x1="530.3" y1="759.8" x2="532.1" y2="757.9" stroke="#e03030" stroke-width="0.8"/>
<polyline points="671.2,739.5 674.8,741.5 673.5,735.5 678.3,737.1 679.5,740.6 676.6,743 679.7,744.5 679,748.5" fill="none" stroke="#b4b4b4" stroke-width="0.65"/>
<line x1="679" y1="748.5" x2="680.6" y2="750.5" stroke="#3050d0" stroke-width="0.8"/>
<polyline points="518.7,816.4 516.2,820.6 511.5,824.7 517,823.1" fill="none" stroke="#b4b4b4" stroke-width="0.65"/>
<line x1="517" y1="823.1" x2="515.8" y2="820.8" stroke="#3050d0" stroke-width="0.8"/>
<polyline points="565.3,794.3 568.7,788.7 563,787 559.8,787" fill="none" stroke="#b4b4b4" stroke-width="0.65"/>
<line x1="559.8" y1="787" x2="562.2" y2="786.1" stroke="#e03030" stroke-width="0.8"/>
<polyline points="550,753.9 545.1,754.9 539.7,758.6 536,755.7 532,757.8" fill="none" stroke="#b4b4b4" stroke-width="0.65"/>
<line x1="532" y1="757.8" x2="529.6" y2="758.8" stroke="#e03030" stroke-width="0.8"/>
<polyline points="576.4,820 572.4,825.1 569,819.9 564.8,815.7" fill="none" stroke="#b4b4b4" stroke-width="0.65"/>
<line x1="564.8" y1="815.7" x2="567.3" y2="816.3" stroke="#e03030" stroke-width="0.8"/>
<polyline points="553.6,793.5 551.8,798 556.4,793.3 556.6,800.2 561,799.9 557.4,799.5" fill="none" stroke="#b4b4b4" stroke-width="0.65"/>
<line x1="557.4" y1="799.5" x2="554.8" y2="800" stroke="#3050d0" stroke-width="0.8"/>
<polyline points="573.5,839.8 575.8,835.7 579.1,835.2 576.1,828.9 578.9,831.5 575.1,832.7" fill="none" stroke="#b4b4b4" stroke-width="0.65"/>
<line x1="575.1" y1="832.7" x2="572.5" y2="832.4" stroke="#e03030" stroke-width="0.8"/>
<polyline points="518.6,754.9 521.8,756.9 524.3,754.1 520.7,749.7 524.1,753.3 525.5,757.9 526.7,762.8" fill="none" stroke="#b4b4b4" stroke-width="0.65"/>
<line x1="526.7" y1="762.8" x2="527.4" y2="765.3" stroke="#e03030" stroke-width="0.8"/>
<polyline points="574.5,832.7 569,833.5 562.5,832.9 557.9,833.7 560.5,838.9 564.3,842 568.3,844.9" fill="none" stroke="#b4b4b4" stroke-width="0.65"/>
<line x1="568.3" y1="844.9" x2="570.7" y2="843.9" stroke="#e03030" stroke-width="0.8"/>
<polyline points="566,801.7 568.6,805.5 573.7,806.4 570.3,810.2 576.9,812" fill="none" stroke="#b4b4b4" stroke-width="0.65"/>
<line x1="576.9" y1="812" x2="577.9" y2="814.4" stroke="#e03030" stroke-width="0.8"/>
<polyline points="653.6,791.2 647.2,788.9 651.8,793.4 651.6,787.6 658.4,787.3 662.4,787.5" fill="none" stroke="#b4b4b4" stroke-width="0.65"/>
<line x1="662.4" y1="787.5" x2="660" y2="788.5" stroke="#e03030" stroke-width="0.8"/>
<polyline points="607,810.9 606.4,807.5 607.7,811.4 602.5,811.6 598.6,813.5" fill="none" stroke="#b4b4b4" stroke-width="0.65"/>
<line x1="598.6" y1="813.5" x2="596.5" y2="815" stroke="#e03030" stroke-width="0.8"/>
<polyline points="663.7,815.1 662.6,811.5 659.1,813.8 652.7,814.9 653.5,811.9 649.5,806.4 645.8,808.7" fill="none" stroke="#b4b4b4" stroke-width="0.65"/>
<line x1="645.8" y1="808.7" x2="646.5" y2="806.1" stroke="#e03030" stroke-width="0.8"/>
<polyline points="623.5,720.6 623.5,717.4 619.7,717.8 613.3,717 610.1,722.3" fill="none" stroke="#b4b4b4" stroke-width="0.65"/>
<line x1="610.1" y1="722.3" x2="607.7" y2="723.2" stroke="#e03030" stroke-width="0.8"/>
<polyline points="568.1,803.3 572,805.9 575.4,807.1 574,811.5 568.8,807.6 563.9,807.9" fill="none" stroke="#b4b4b4" stroke-width="0.65"/>
<line x1="563.9" y1="807.9" x2="561.5" y2="806.9" stroke="#3050d0" stroke-width="0.8"/>
<polyline points="638.8,840.2 637.1,842.7 637.4,838.9 631.7,835.3 625,835.9 621.3,835.5" fill="none" stroke="#b4b4b4" stroke-width="0.65"/>
<line x1="621.3" y1="835.5" x2="622.9" y2="833.4" stroke="#3050d0" stroke-width="0.8"/>
<polyline points="637,721.1 633.6,719.6 631.3,725.5 627.8,721 626.6,725" fill="none" stroke="#b4b4b4" stroke-width="0.65"/>
<line x1="626.6" y1="725" x2="624.2" y2="726" stroke="#3050d0" stroke-width="0.8"/>
<polyline points="541.8,798.8 546.3,802.6 549,807.3 553.8,809.7" fill="none" stroke="#b4b4b4" stroke-width="0.65"/>
<line x1="553.8" y1="809.7" x2="555.7" y2="808" stroke="#3050d0" stroke-width="0.8"/>
<polyline points="569.2,747.1 569.5,742.4 564.8,743.7 566.6,740 566.5,745.7 565,752.5 570.7,751.4 576.7,753.6" fill="none" stroke="#b4b4b4" stroke-width="0.65"/>
<line x1="576.7" y1="753.6" x2="578.1" y2="751.4" stroke="#3050d0" stroke-width="0.8"/>
<polyline points="658.6,838.6 662,839 659.7,845 663.5,845.3 662.3,848.7 659.2,842.9" fill="none" stroke="#b4b4b4" stroke-width="0.65"/>
<line x1="659.2" y1="842.9" x2="661.5" y2="841.6" stroke="#e03030" stroke-width="0.8"/>
<polyline points="543.6,774.5 539.9,776.2 536.7,778.7 541,783.5 542.8,789.3" fill="none" stroke="#b4b4b4" stroke-width="0.65"/>
<line x1="542.8" y1="789.3" x2="545.3" y2="789.8" stroke="#e03030" stroke-width="0.8"/>
<polyline points="552.7,756.8 554.7,762.8 550.3,759.7 552.6,766" fill="none" stroke="#b4b4b4" stroke-width="0.65"/>
<line x1="552.6" y1="766" x2="553.8" y2="763.7" stroke="#e03030" stroke-width="0.8"/>
<polyline points="669.7,730.6 664.9,732.3 671.7,733.4 677.4,735 679.6,732.9 682.9,731.4 677.7,728.1" fill="none" stroke="#b4b4b4" stroke-width="0.65"/>
<line x1="677.7" y1="728.1" x2="678.3" y2="725.6" stroke="#e03030" stroke-width="0.8"/>
<polyline points="663.9,792.4 661.7,795 662.3,799.1 662.6,793.4" fill="none" stroke="#b4b4b4" stroke-width="0.65"/>
<line x1="662.6" y1="793.4" x2="660.5" y2="794.9" stroke="#e03030" stroke-width="0.8"/>
<polyline points="610.8,710.9 606.8,705.3 604.2,708.1 603.9,703.5 601.1,709.2" fill="none" stroke="#b4b4b4" stroke-width="0.65"/>
<line x1="601.1" y1="709.2" x2="599.7" y2="707" stroke="#e03030" stroke-width="0.8"/>
<polyline points="677.7,811 676.9,817.1 680.2,819.4 678.4,825 682.5,826.4 688.6,823.9 688.4,818.2" fill="none" stroke="#b4b4b4" stroke-width="0.65"/>
<line x1="688.4" y1="818.2" x2="686.2" y2="816.8" stroke="#3050d0" stroke-width="0.8"/>
<polyline points="669.4,837.4 665.9,835.6 659.8,836.6 659.5,840.1 656.2,838.2" fill="none" stroke="#b4b4b4" stroke-width="0.65"/>
<line x1="656.2" y1="838.2" x2="653.6" y2="838.5" stroke="#3050d0" stroke-width="0.8"/>
<polyline points="536.9,766.2 539.2,764.1 543.1,762.5 546.6,764.1 541.4,764.9" fill="none" stroke="#b4b4b4" stroke-width="0.65"/>
<line x1="541.4" y1="764.9" x2="542.8" y2="767" stroke="#e03030" stroke-width="0.8"/>
<polyline points="555.3,844.7 556.7,842 559.8,838.9 562.3,835.2 564.8,841.1 558.8,843.6 553.6,844.9 550.7,841.4" fill="none" stroke="#b4b4b4" stroke-width="0.65"/>
<line x1="550.7" y1="841.4" x2="553.1" y2="840.6" stroke="#3050d0" stroke-width="0.8"/>
<polygon points="582,722 578.5,728.1 571.5,728.1 568,722 571.5,715.9 578.5,715.9" fill="none" stroke="#b8b8b8" stroke-width="0.6"/>
<polygon points="606,735 603,740.2 597,740.2 594,735 597,729.8 603,729.8" fill="none" stroke="#b8b8b8" stroke-width="0.6"/>
<polygon points="639,764 635.5,770.1 628.5,770.1 625,764 628.5,757.9 635.5,757.9" fill="none" stroke="#b8b8b8" stroke-width="0.6"/>
<polygon points="592,804 588.5,810.1 581.5,810.1 578,804 581.5,797.9 588.5,797.9" fill="none" stroke="#b8b8b8" stroke-width="0.6"/>
<polygon points="554,823 551,828.2 545,828.2 542,823 545,817.8 551,817.8" fill="none" stroke="#b8b8b8" stroke-width="0.6"/>
<polygon points="655,823 652.5,827.3 647.5,827.3 645,823 647.5,818.7 652.5,818.7" fill="none" stroke="#b8b8b8" stroke-width="0.6"/>
<polygon points="673,728 670.5,732.3 665.5,732.3 663,728 665.5,723.7 670.5,723.7" fill="none" stroke="#b8b8b8" stroke-width="0.6"/>
<polyline points="560,720 575,716 600,712 640,716 660,712" fill="none" stroke="#b4b4b4" stroke-width="0.65"/>
<line x1="585" y1="738" x2="610" y2="733" stroke="#505050" stroke-width="1.4" stroke-dasharray="2.2 1.4"/>
<line x1="598" y1="760" x2="592" y2="790" stroke="#505050" stroke-width="1.4" stroke-dasharray="2.2 1.4"/>
<line x1="630" y1="730" x2="628" y2="752" stroke="#505050" stroke-width="1.4" stroke-dasharray="2.2 1.4"/>
<line x1="548" y1="822" x2="570" y2="815" stroke="#505050" stroke-width="1.4" stroke-dasharray="2.2 1.4"/>
<line x1="605" y1="815" x2="603" y2="828" stroke="#505050" stroke-width="1.4" stroke-dasharray="2.2 1.4"/>
<line x1="532" y1="775" x2="550" y2="762" stroke="#4a7fb5" stroke-width="1.4" stroke-dasharray="2.2 1.4"/>
<line x1="610" y1="835" x2="640" y2="828" stroke="#4a7fb5" stroke-width="1.4" stroke-dasharray="2.2 1.4"/>
<line x1="600" y1="840" x2="585" y2="847" stroke="#a0c4d8" stroke-width="1.4" stroke-dasharray="2.2 1.4"/>
<line x1="590" y1="755" x2="600" y2="770" stroke="#4a7fb5" stroke-width="1.4" stroke-dasharray="2.2 1.4"/>
<line x1="580" y1="805" x2="570" y2="815" stroke="#4a7fb5" stroke-width="1.4" stroke-dasharray="2.2 1.4"/>
<line x1="614" y1="745" x2="616" y2="753" stroke="#c8b020" stroke-width="1.5" stroke-dasharray="2.2 1.4"/>
<polyline points="624,760 632,755" fill="none" stroke="#7a7a7a" stroke-width="2.2"/>
<polyline points="632,755 641,760" fill="none" stroke="#7a7a7a" stroke-width="2.2"/>
<polyline points="641,760 641,770" fill="none" stroke="#7a7a7a" stroke-width="2.2"/>
<polyline points="641,770 632,775" fill="none" stroke="#7a7a7a" stroke-width="2.2"/>
<polyline points="632,775 624,770" fill="none" stroke="#7a7a7a" stroke-width="2.2"/>
<polyline points="624,770 624,760" fill="none" stroke="#7a7a7a" stroke-width="2.2"/>
<polyline points="641,760 648,754" fill="none" stroke="#7a7a7a" stroke-width="2.2"/>
<polyline points="632,775 618,782" fill="none" stroke="#7a7a7a" stroke-width="2.2"/>
<polyline points="618,782 610,790" fill="none" stroke="#7a7a7a" stroke-width="2.2"/>
<polyline points="618,782 622,794" fill="none" stroke="#7a7a7a" stroke-width="2.2"/>
<polyline points="610,790 600,798" fill="none" stroke="#7a7a7a" stroke-width="2.2"/>
<polyline points="600,798 592,795" fill="none" stroke="#7a7a7a" stroke-width="2.2"/>
<polyline points="592,795 583,798" fill="none" stroke="#7a7a7a" stroke-width="2.2"/>
<polyline points="583,798 578,805" fill="none" stroke="#7a7a7a" stroke-width="2.2"/>
<polyline points="578,805 583,812" fill="none" stroke="#7a7a7a" stroke-width="2.2"/>
<polyline points="583,812 592,812" fill="none" stroke="#7a7a7a" stroke-width="2.2"/>
<polyline points="592,812 597,805" fill="none" stroke="#7a7a7a" stroke-width="2.2"/>
<polyline points="597,805 592,795" fill="none" stroke="#7a7a7a" stroke-width="2.2"/>
<polyline points="578,805 568,802" fill="none" stroke="#7a7a7a" stroke-width="2.2"/>
<polyline points="583,812 577,822" fill="none" stroke="#7a7a7a" stroke-width="2.2"/>
<line x1="568" y1="802" x2="561" y2="800" stroke="#5ac030" stroke-width="2"/>
<line x1="577" y1="822" x2="572" y2="826" stroke="#2f4fd0" stroke-width="2"/>
<line x1="648" y1="754" x2="648" y2="748" stroke="#d03030" stroke-width="2"/>
<line x1="648" y1="754" x2="655" y2="752" stroke="#2f4fd0" stroke-width="2"/>
<text x="625" y="716.7" font-weight="bold" fill="#1e1e1e" font-family="Liberation Mono" font-size="6.8">F685</text>
<text x="643" y="714.9" font-weight="bold" fill="#1e1e1e" font-family="Liberation Mono" font-size="6.8">R698</text>
<text x="598" y="720.9" font-weight="bold" fill="#1e1e1e" font-family="Liberation Mono" font-size="6.8">E583</text>
<text x="571" y="729.1" font-weight="bold" fill="#1e1e1e" font-family="Liberation Mono" font-size="9">R738</text>
<text x="607" y="727.4" font-weight="bold" fill="#1e1e1e" font-family="Liberation Mono" font-size="6.8">W684</text>
<text x="604" y="749.9" font-weight="bold" fill="#1e1e1e" font-family="Liberation Mono" font-size="6.8">D583</text>
<text x="628" y="751.4" font-weight="bold" fill="#1e1e1e" font-family="Liberation Mono" font-size="6.8">Y700</text>
<text x="556" y="763.1" font-weight="bold" fill="#1e1e1e" font-family="Liberation Mono" font-size="6.8">N736</text>
<text x="637" y="782.9" font-weight="bold" fill="#1e1e1e" font-family="Liberation Mono" font-size="6.8">V257</text>
<text x="588" y="786.1" font-weight="bold" fill="#1e1e1e" font-family="Liberation Mono" font-size="6.8">L272</text>
<text x="533" y="793.6" font-weight="bold" fill="#1e1e1e" font-family="Liberation Mono" font-size="6.8">S298</text>
<text x="567" y="790.4" font-weight="bold" fill="#1e1e1e" font-family="Liberation Mono" font-size="6.8">D273</text>
<text x="657" y="795.4" font-weight="bold" fill="#1e1e1e" font-family="Liberation Mono" font-size="6.8">A256</text>
<text x="624" y="797.1" font-weight="bold" fill="#1e1e1e" font-family="Liberation Mono" font-size="6.8">G258</text>
<text x="580" y="804.7" font-weight="bold" fill="#1e1e1e" font-family="Liberation Mono" font-size="9">G274</text>
<text x="661" y="807.1" font-weight="bold" fill="#1e1e1e" font-family="Liberation Mono" font-size="9">V254</text>
<text x="650" y="812.7" font-weight="bold" fill="#1e1e1e" font-family="Liberation Mono" font-size="6.8">C255</text>
<text x="627" y="815.2" font-weight="bold" fill="#1e1e1e" font-family="Liberation Mono" font-size="6.8">W259</text>
<text x="599" y="816.4" font-weight="bold" fill="#1e1e1e" font-family="Liberation Mono" font-size="6.8">D269</text>
<text x="611" y="825.1" font-weight="bold" fill="#1e1e1e" font-family="Liberation Mono" font-size="6.8">A260</text>
<text x="574" y="826.9" font-weight="bold" fill="#1e1e1e" font-family="Liberation Mono" font-size="6.8">F275</text>
<text x="615" y="845.7" font-weight="bold" fill="#1e1e1e" font-family="Liberation Mono" font-size="6.8">G261</text>
<text x="575" y="848.9" font-weight="bold" fill="#1e1e1e" font-family="Liberation Mono" font-size="9">Q286</text>
</g>
<defs><linearGradient id="gs32" gradientUnits="userSpaceOnUse" x1="0" y1="888" x2="0" y2="975"><stop offset="0" stop-color="#df4a38"/><stop offset="0.3" stop-color="#ea7a66"/><stop offset="0.5" stop-color="#f7ecea"/><stop offset="0.62" stop-color="#b9c6e6"/><stop offset="1" stop-color="#4a6ab0"/></linearGradient></defs>
<rect x="32.5" y="1011.6" width="27.3" height="8.6" fill="#ae2f38"/>
<rect x="59.8" y="1011.6" width="5" height="8.6" fill="#d73a3a"/>
<rect x="64.7" y="1011.6" width="41" height="8.6" fill="#e5705c"/>
<rect x="105.7" y="1011.6" width="40.5" height="8.6" fill="#eba593"/>
<rect x="146.2" y="1011.6" width="22.9" height="8.6" fill="#f6e3da"/>
<rect x="169" y="1011.6" width="3.7" height="8.6" fill="#eef0f6"/>
<rect x="172.7" y="1011.6" width="15" height="8.6" fill="#b7d3e6"/>
<rect x="187.6" y="1011.6" width="5" height="8.6" fill="#6b9fcf"/>
<rect x="192.6" y="1011.6" width="6.8" height="8.6" fill="#2c5ea6"/>
<line x1="38.7" y1="990.6" x2="38.7" y2="1011.6" stroke="#555" stroke-width="0.5" stroke-opacity="0.8"/>
<line x1="39.9" y1="990.6" x2="39.9" y2="1011.6" stroke="#555" stroke-width="0.5" stroke-opacity="0.8"/>
<line x1="41.2" y1="990.6" x2="41.2" y2="1011.6" stroke="#555" stroke-width="0.5" stroke-opacity="0.8"/>
<line x1="42.4" y1="990.6" x2="42.4" y2="1011.6" stroke="#555" stroke-width="0.5" stroke-opacity="0.8"/>
<line x1="44.4" y1="990.6" x2="44.4" y2="1011.6" stroke="#555" stroke-width="0.5" stroke-opacity="0.8"/>
<line x1="52.3" y1="990.6" x2="52.3" y2="1011.6" stroke="#555" stroke-width="0.5" stroke-opacity="0.8"/>
<line x1="56.1" y1="990.6" x2="56.1" y2="1011.6" stroke="#555" stroke-width="0.5" stroke-opacity="0.8"/>
<line x1="57.3" y1="990.6" x2="57.3" y2="1011.6" stroke="#555" stroke-width="0.5" stroke-opacity="0.8"/>
<line x1="58.5" y1="990.6" x2="58.5" y2="1011.6" stroke="#555" stroke-width="0.5" stroke-opacity="0.8"/>
<line x1="59.3" y1="990.6" x2="59.3" y2="1011.6" stroke="#555" stroke-width="0.5" stroke-opacity="0.8"/>
<line x1="61" y1="990.6" x2="61" y2="1011.6" stroke="#555" stroke-width="0.5" stroke-opacity="0.8"/>
<line x1="67.2" y1="990.6" x2="67.2" y2="1011.6" stroke="#555" stroke-width="0.5" stroke-opacity="0.8"/>
<line x1="84.1" y1="990.6" x2="84.1" y2="1011.6" stroke="#555" stroke-width="0.5" stroke-opacity="0.8"/>
<line x1="85.8" y1="990.6" x2="85.8" y2="1011.6" stroke="#555" stroke-width="0.5" stroke-opacity="0.8"/>
<line x1="90.8" y1="990.6" x2="90.8" y2="1011.6" stroke="#555" stroke-width="0.5" stroke-opacity="0.8"/>
<line x1="99.5" y1="990.6" x2="99.5" y2="1011.6" stroke="#555" stroke-width="0.5" stroke-opacity="0.8"/>
<line x1="125.6" y1="990.6" x2="125.6" y2="1011.6" stroke="#555" stroke-width="0.5" stroke-opacity="0.8"/>
<line x1="135.5" y1="990.6" x2="135.5" y2="1011.6" stroke="#555" stroke-width="0.5" stroke-opacity="0.8"/>
<line x1="137.2" y1="990.6" x2="137.2" y2="1011.6" stroke="#555" stroke-width="0.5" stroke-opacity="0.8"/>
<line x1="166.5" y1="990.6" x2="166.5" y2="1011.6" stroke="#555" stroke-width="0.5" stroke-opacity="0.8"/>
<line x1="168.5" y1="990.6" x2="168.5" y2="1011.6" stroke="#555" stroke-width="0.5" stroke-opacity="0.8"/>
<line x1="170.2" y1="990.6" x2="170.2" y2="1011.6" stroke="#555" stroke-width="0.5" stroke-opacity="0.8"/>
<line x1="171.5" y1="990.6" x2="171.5" y2="1011.6" stroke="#555" stroke-width="0.5" stroke-opacity="0.8"/>
<line x1="32.5" y1="983.7" x2="199.3" y2="983.7" stroke="#777" stroke-width="0.8" stroke-dasharray="3 2.2"/>
<polyline points="32.5,983.7 38.7,988.7 39.4,971.8 41.2,972.3 41.2,959.4 41.9,945.8 42.4,933.4 43.7,932.6 44.4,912.3 45.4,899.9 49.9,904.8 52.8,899.4 54.8,903.6 56.8,896.9 58.5,894.9 59.3,891.2 61,889.4 63,891.9 63.8,889.4 67.2,892.4 68.5,890.4 83.4,903.6 85.8,904.3 90.8,908.5 121.8,935.8 134.2,946.5 136.7,945 138,947 166.5,971.8 167,966.4 169,968.1 169.5,961.9 171.5,957.4 200,983" fill="none" stroke="url(#gs32)" stroke-width="0.9" stroke-linejoin="round"/>
<rect x="32.5" y="883.6" width="166.8" height="107" fill="none" stroke="#444" stroke-width="0.8"/>
<line x1="32.5" y1="990.6" x2="199.3" y2="990.6" stroke="#444" stroke-width="0.8"/>
<line x1="32.5" y1="883.6" x2="32.5" y2="1020.7" stroke="#222" stroke-width="1"/>
<line x1="199.3" y1="990.6" x2="199.3" y2="1020.2" stroke="#444" stroke-width="0.6"/>
<line x1="29.7" y1="983.7" x2="32.5" y2="983.7" stroke="#222" stroke-width="0.8"/>
<text x="28.2" y="986.3" text-anchor="end" fill="#333" font-size="7.1">0.0</text>
<line x1="29.7" y1="952.2" x2="32.5" y2="952.2" stroke="#222" stroke-width="0.8"/>
<text x="28.2" y="954.8" text-anchor="end" fill="#333" font-size="7.1">0.2</text>
<line x1="29.7" y1="920.7" x2="32.5" y2="920.7" stroke="#222" stroke-width="0.8"/>
<text x="28.2" y="923.3" text-anchor="end" fill="#333" font-size="7.1">0.4</text>
<line x1="29.7" y1="889.2" x2="32.5" y2="889.2" stroke="#222" stroke-width="0.8"/>
<text x="28.2" y="891.8" text-anchor="end" fill="#333" font-size="7.1">0.6</text>
<line x1="32.5" y1="1020.2" x2="32.5" y2="1022.7" stroke="#222" stroke-width="0.8"/>
<text x="32.5" y="1031.2" text-anchor="middle" fill="#222">0</text>
<line x1="77.5" y1="1020.2" x2="77.5" y2="1022.7" stroke="#222" stroke-width="0.8"/>
<text x="77.5" y="1031.2" text-anchor="middle" fill="#222">10000</text>
<line x1="122.5" y1="1020.2" x2="122.5" y2="1022.7" stroke="#222" stroke-width="0.8"/>
<text x="122.5" y="1031.2" text-anchor="middle" fill="#222">20000</text>
<line x1="167.5" y1="1020.2" x2="167.5" y2="1022.7" stroke="#222" stroke-width="0.8"/>
<text x="167.5" y="1031.2" text-anchor="middle" fill="#222">30000</text>
<text x="116.4" y="1041.5" text-anchor="middle" fill="#222" font-size="8.3">Rank in Ordered Dataset</text>
<text transform="translate(12.5 937.4) rotate(-90)" text-anchor="middle" fill="#222">Enrichment Score</text>
<text x="116" y="880.9" text-anchor="middle" fill="#222" font-size="8.15">Cancer Immunotherapy By Pd1 Blockade</text>
<text x="195.8" y="894.2" text-anchor="end" font-size="7.6" fill="#222"><tspan font-style="italic">NES</tspan> = 1.661</text>
<text x="195.8" y="902.2" text-anchor="end" font-size="7.6" fill="#222"><tspan font-style="italic">P value</tspan> = 0.010</text>
<defs><linearGradient id="gs250" gradientUnits="userSpaceOnUse" x1="0" y1="888" x2="0" y2="975"><stop offset="0" stop-color="#df4a38"/><stop offset="0.3" stop-color="#ea7a66"/><stop offset="0.5" stop-color="#f7ecea"/><stop offset="0.62" stop-color="#b9c6e6"/><stop offset="1" stop-color="#4a6ab0"/></linearGradient></defs>
<rect x="250.5" y="1011.6" width="33.5" height="8.6" fill="#ae2f38"/>
<rect x="284" y="1011.6" width="39.7" height="8.6" fill="#d83b3b"/>
<rect x="323.7" y="1011.6" width="28.6" height="8.6" fill="#e5705c"/>
<rect x="352.2" y="1011.6" width="15" height="8.6" fill="#f6ded2"/>
<rect x="367.1" y="1011.6" width="24.9" height="8.6" fill="#e9eef8"/>
<rect x="392" y="1011.6" width="18.7" height="8.6" fill="#6fa6d6"/>
<rect x="410.6" y="1011.6" width="6.8" height="8.6" fill="#2c5ea6"/>
<line x1="255.4" y1="990.6" x2="255.4" y2="1011.6" stroke="#555" stroke-width="0.5" stroke-opacity="0.8"/>
<line x1="258.4" y1="990.6" x2="258.4" y2="1011.6" stroke="#555" stroke-width="0.5" stroke-opacity="0.8"/>
<line x1="259.2" y1="990.6" x2="259.2" y2="1011.6" stroke="#555" stroke-width="0.5" stroke-opacity="0.8"/>
<line x1="275.8" y1="990.6" x2="275.8" y2="1011.6" stroke="#555" stroke-width="0.5" stroke-opacity="0.8"/>
<line x1="277.3" y1="990.6" x2="277.3" y2="1011.6" stroke="#555" stroke-width="0.5" stroke-opacity="0.8"/>
<line x1="287.2" y1="990.6" x2="287.2" y2="1011.6" stroke="#555" stroke-width="0.5" stroke-opacity="0.8"/>
<line x1="300.1" y1="990.6" x2="300.1" y2="1011.6" stroke="#555" stroke-width="0.5" stroke-opacity="0.8"/>
<line x1="313" y1="990.6" x2="313" y2="1011.6" stroke="#555" stroke-width="0.5" stroke-opacity="0.8"/>
<line x1="314.5" y1="990.6" x2="314.5" y2="1011.6" stroke="#555" stroke-width="0.5" stroke-opacity="0.8"/>
<line x1="316.3" y1="990.6" x2="316.3" y2="1011.6" stroke="#555" stroke-width="0.5" stroke-opacity="0.8"/>
<line x1="322.5" y1="990.6" x2="322.5" y2="1011.6" stroke="#555" stroke-width="0.5" stroke-opacity="0.8"/>
<line x1="343.6" y1="990.6" x2="343.6" y2="1011.6" stroke="#555" stroke-width="0.5" stroke-opacity="0.8"/>
<line x1="384" y1="990.6" x2="384" y2="1011.6" stroke="#555" stroke-width="0.5" stroke-opacity="0.8"/>
<line x1="250.5" y1="984.4" x2="417.4" y2="984.4" stroke="#777" stroke-width="0.8" stroke-dasharray="3 2.2"/>
<polyline points="250.5,984.2 254.9,988.7 255.4,958.2 257.4,959.4 257.9,935.8 258.4,911.8 259.4,911 259.9,890.4 275.3,903.6 275.8,895.4 277.3,895.4 277.8,888.7 287.2,896.1 288.2,891.9 300.1,901.1 301.4,902.3 322.5,917.2 343.6,933.4 344.3,932.1 383.3,964.9 384,956.4 418,983.7" fill="none" stroke="url(#gs250)" stroke-width="0.9" stroke-linejoin="round"/>
<rect x="250.5" y="883.2" width="166.9" height="107.4" fill="none" stroke="#444" stroke-width="0.8"/>
<line x1="250.5" y1="990.6" x2="417.4" y2="990.6" stroke="#444" stroke-width="0.8"/>
<line x1="250.5" y1="883.2" x2="250.5" y2="1020.7" stroke="#222" stroke-width="1"/>
<line x1="417.4" y1="990.6" x2="417.4" y2="1020.2" stroke="#444" stroke-width="0.6"/>
<line x1="247.7" y1="984.4" x2="250.5" y2="984.4" stroke="#222" stroke-width="0.8"/>
<text x="246.2" y="987" text-anchor="end" fill="#333" font-size="7.1">0.0</text>
<line x1="247.7" y1="956.4" x2="250.5" y2="956.4" stroke="#222" stroke-width="0.8"/>
<text x="246.2" y="959" text-anchor="end" fill="#333" font-size="7.1">0.2</text>
<line x1="247.7" y1="928.4" x2="250.5" y2="928.4" stroke="#222" stroke-width="0.8"/>
<text x="246.2" y="931" text-anchor="end" fill="#333" font-size="7.1">0.4</text>
<line x1="247.7" y1="900.4" x2="250.5" y2="900.4" stroke="#222" stroke-width="0.8"/>
<text x="246.2" y="903" text-anchor="end" fill="#333" font-size="7.1">0.6</text>
<line x1="250.5" y1="1020.2" x2="250.5" y2="1022.7" stroke="#222" stroke-width="0.8"/>
<text x="250.5" y="1031.2" text-anchor="middle" fill="#222">0</text>
<line x1="295.5" y1="1020.2" x2="295.5" y2="1022.7" stroke="#222" stroke-width="0.8"/>
<text x="295.5" y="1031.2" text-anchor="middle" fill="#222">10000</text>
<line x1="340.5" y1="1020.2" x2="340.5" y2="1022.7" stroke="#222" stroke-width="0.8"/>
<text x="340.5" y="1031.2" text-anchor="middle" fill="#222">20000</text>
<line x1="385.5" y1="1020.2" x2="385.5" y2="1022.7" stroke="#222" stroke-width="0.8"/>
<text x="385.5" y="1031.2" text-anchor="middle" fill="#222">30000</text>
<text x="334.4" y="1041.5" text-anchor="middle" fill="#222" font-size="8.3">Rank in Ordered Dataset</text>
<text transform="translate(230.5 937.4) rotate(-90)" text-anchor="middle" fill="#222">Enrichment Score</text>
<text x="334" y="880.9" text-anchor="middle" fill="#222" font-size="8.15">Cancer Immunotherapy By CTLA4 Blockade</text>
<text x="413.9" y="894.2" text-anchor="end" font-size="7.6" fill="#222"><tspan font-style="italic">NES</tspan> = 1.670</text>
<text x="413.9" y="902.2" text-anchor="end" font-size="7.6" fill="#222"><tspan font-style="italic">P value</tspan> = 0.015</text>
<rect x="474.2" y="873.3" width="199.1" height="23.1" fill="none" stroke="#555" stroke-width="0.8"/>
<line x1="474.2" y1="878.4" x2="673.3" y2="878.4" stroke="#e4e4e4" stroke-width="0.8"/>
<line x1="474.2" y1="889" x2="673.3" y2="889" stroke="#e4e4e4" stroke-width="0.8"/>
<line x1="528.7" y1="873.3" x2="528.7" y2="896.4" stroke="#e8e8e8" stroke-width="0.8"/>
<line x1="619.2" y1="873.3" x2="619.2" y2="896.4" stroke="#e8e8e8" stroke-width="0.8"/>
<text x="467.8" y="881.6" text-anchor="end" fill="#222" font-size="8.6">True</text>
<text x="467.8" y="892.2" text-anchor="end" fill="#222" font-size="8.6">False</text>
<text x="528.7" y="881.8" text-anchor="middle" fill="#111" font-size="9">73</text>
<text x="528.7" y="892.4" text-anchor="middle" fill="#111" font-size="9">176</text>
<text x="619.2" y="881.8" text-anchor="middle" fill="#111" font-size="9">138</text>
<text x="619.2" y="892.4" text-anchor="middle" fill="#111" font-size="9">111</text>
<text transform="translate(448 886.8) rotate(-90)" text-anchor="middle" fill="#222" font-size="8.4">Responder</text>
<rect x="474.2" y="899.9" width="199.1" height="128.9" fill="none" stroke="#555" stroke-width="0.8"/>
<line x1="471.7" y1="901.8" x2="474.2" y2="901.8" stroke="#555" stroke-width="0.7"/>
<text x="469.7" y="904.4" text-anchor="end" fill="#444" font-family="Liberation Serif" font-size="7.5">3</text>
<line x1="471.7" y1="925" x2="474.2" y2="925" stroke="#555" stroke-width="0.7"/>
<text x="469.7" y="927.6" text-anchor="end" fill="#444" font-family="Liberation Serif" font-size="7.5">2</text>
<line x1="471.7" y1="948.2" x2="474.2" y2="948.2" stroke="#555" stroke-width="0.7"/>
<text x="469.7" y="950.8" text-anchor="end" fill="#444" font-family="Liberation Serif" font-size="7.5">1</text>
<line x1="471.7" y1="971.4" x2="474.2" y2="971.4" stroke="#555" stroke-width="0.7"/>
<text x="469.7" y="974" text-anchor="end" fill="#444" font-family="Liberation Serif" font-size="7.5">0</text>
<line x1="471.7" y1="994.6" x2="474.2" y2="994.6" stroke="#555" stroke-width="0.7"/>
<text x="469.7" y="997.2" text-anchor="end" fill="#444" font-family="Liberation Serif" font-size="7.5">&#8722;1</text>
<line x1="471.7" y1="1017.8" x2="474.2" y2="1017.8" stroke="#555" stroke-width="0.7"/>
<text x="469.7" y="1020.4" text-anchor="end" fill="#444" font-family="Liberation Serif" font-size="7.5">&#8722;2</text>
<text transform="translate(458.5 949.5) rotate(-90)" text-anchor="middle" fill="#333" font-family="Liberation Serif">TIDE score</text>
<line x1="528.7" y1="1028.8" x2="528.7" y2="1031" stroke="#555" stroke-width="0.7"/>
<text x="528.7" y="1039.4" text-anchor="middle" fill="#222" font-family="Liberation Serif">High COMP exp</text>
<line x1="619.2" y1="1028.8" x2="619.2" y2="1031" stroke="#555" stroke-width="0.7"/>
<text x="619.2" y="1039.4" text-anchor="middle" fill="#222" font-family="Liberation Serif">Low COMP exp</text>
<line x1="528.6" y1="907.8" x2="528.6" y2="1023.8" stroke="#111" stroke-width="1"/>
<line x1="619.5" y1="905.3" x2="619.5" y2="1022" stroke="#111" stroke-width="1"/>
<path d="M528.4 915.3 L526.6 920.4 L524.2 925 L520.8 931 L518 937.3 L515.5 943.6 L512.1 949.8 L509 956.1 L506.5 962.4 L505.6 968.4 L506.5 972.1 L510.9 977.2 L516.5 983.5 L521.8 989.7 L526.4 996 L528 999.7 L528.4 1002.7 L528.8 1002.7 L529.2 999.7 L530.8 996 L535.4 989.7 L540.7 983.5 L546.3 977.2 L550.7 972.1 L551.6 968.4 L550.7 962.4 L548.2 956.1 L545.1 949.8 L541.7 943.6 L539.2 937.3 L536.4 931 L533 925 L530.6 920.4 L528.8 915.3Z" fill="#b83c2e" stroke="#111" stroke-width="1.1" stroke-linejoin="round"/>
<path d="M619.3 925.5 L618 927.3 L614.8 931 L611.1 937.3 L609.2 944.7 L608.3 952.4 L605.2 958.4 L601.1 966.1 L598.6 973.5 L597.7 978.6 L600.8 984.6 L606.1 989.7 L612.3 996 L616.4 1003.4 L618.7 1009.7 L619.3 1012 L619.7 1012 L620.3 1009.7 L622.6 1003.4 L626.7 996 L632.9 989.7 L638.2 984.6 L641.3 978.6 L640.4 973.5 L637.9 966.1 L633.8 958.4 L630.7 952.4 L629.8 944.7 L627.9 937.3 L624.2 931 L621 927.3 L619.7 925.5Z" fill="#3c77b0" stroke="#111" stroke-width="1.1" stroke-linejoin="round"/>
<line x1="528.6" y1="915.7" x2="528.6" y2="1001.6" stroke="#222" stroke-width="0.9"/>
<line x1="619.5" y1="926.2" x2="619.5" y2="1010.8" stroke="#222" stroke-width="0.9"/>
<rect x="524.2" y="949.8" width="8.7" height="22.3" fill="#fff" stroke="#333" stroke-width="1.1"/>
<line x1="524.2" y1="963.5" x2="533" y2="963.5" stroke="#333" stroke-width="1.3"/>
<rect x="614.6" y="960.5" width="9.7" height="23.7" fill="#fff" stroke="#333" stroke-width="1.1"/>
<line x1="614.6" y1="973.7" x2="624.4" y2="973.7" stroke="#333" stroke-width="1.3"/>
<path d="M528.6 915.9H619.5" stroke="#666" stroke-width="0.9"/>
<text x="576" y="914.6" text-anchor="middle" font-weight="bold" fill="#222" font-size="8.5">****</text>
<text x="4.4" y="13.2" fill="#000" font-size="16.4">A</text>
<text x="234.8" y="13.3" fill="#000" font-size="16.4">B</text>
<text x="470" y="13.5" fill="#000" font-size="16.4">C</text>
<text x="6" y="290.7" fill="#000" font-size="16.4">D</text>
<text x="6" y="503.8" fill="#000" font-size="16.4">E</text>
<text x="6.3" y="659.1" fill="#000" font-size="16.4">F</text>
<text x="6.1" y="880.6" fill="#000" font-size="16.4">G</text>
<text x="207.2" y="880.7" fill="#000" font-size="16.4">H</text>
<rect x="427.3" y="869.2" width="2.2" height="11.2" fill="#000"/>
</svg></body></html>
